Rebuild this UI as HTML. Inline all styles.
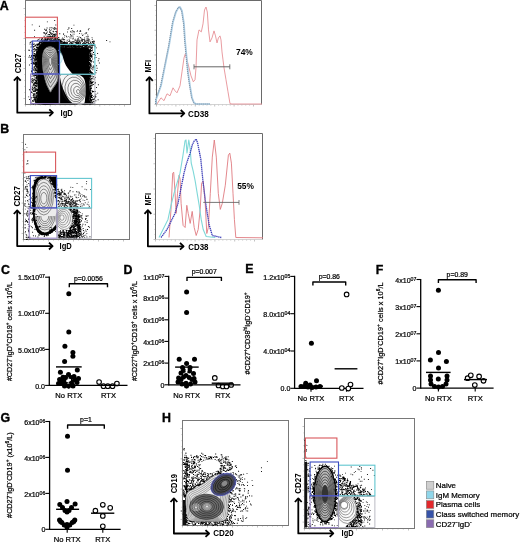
<!DOCTYPE html>
<html><head><meta charset="utf-8"><style>
html,body{margin:0;padding:0;background:#fff;}
svg{display:block;font-family:"Liberation Sans", sans-serif;will-change:transform;}
text{stroke:#000;stroke-width:0.22px;}
text[font-weight="700"]{stroke-width:0;}
</style></head><body>
<svg width="520" height="542" viewBox="0 0 520 542">
<rect width="520" height="542" fill="#fff"/>
<text x="-0.2" y="9.9" font-size="12.4" font-weight="700" text-anchor="start" fill="#000" style="stroke:#000;stroke-width:0.35px">A</text>
<text x="0.2" y="133.2" font-size="12.4" font-weight="700" text-anchor="start" fill="#000" style="stroke:#000;stroke-width:0.35px">B</text>
<text x="1" y="274" font-size="12.4" font-weight="700" text-anchor="start" fill="#000" style="stroke:#000;stroke-width:0.35px">C</text>
<text x="123.6" y="274.2" font-size="12.4" font-weight="700" text-anchor="start" fill="#000" style="stroke:#000;stroke-width:0.35px">D</text>
<text x="245.2" y="272.6" font-size="12.4" font-weight="700" text-anchor="start" fill="#000" style="stroke:#000;stroke-width:0.35px">E</text>
<text x="375.8" y="273.9" font-size="12.4" font-weight="700" text-anchor="start" fill="#000" style="stroke:#000;stroke-width:0.35px">F</text>
<text x="0.6" y="421.6" font-size="12.4" font-weight="700" text-anchor="start" fill="#000" style="stroke:#000;stroke-width:0.35px">G</text>
<text x="162" y="421.6" font-size="12.4" font-weight="700" text-anchor="start" fill="#000" style="stroke:#000;stroke-width:0.35px">H</text>
<line x1="49.3" y1="276.6" x2="49.3" y2="386" stroke="#000" stroke-width="1.3"/>
<line x1="49.3" y1="385.4" x2="127.5" y2="385.4" stroke="#000" stroke-width="1.3"/>
<line x1="45.1" y1="277.2" x2="49.3" y2="277.2" stroke="#000" stroke-width="1.1"/>
<text x="45" y="280.3" font-size="7.05" text-anchor="end">1.5x10<tspan font-size="5.2" baseline-shift="2.0">07</tspan></text>
<line x1="45.1" y1="313.3" x2="49.3" y2="313.3" stroke="#000" stroke-width="1.1"/>
<text x="45" y="316.4" font-size="7.05" text-anchor="end">1.0x10<tspan font-size="5.2" baseline-shift="2.0">07</tspan></text>
<line x1="45.1" y1="349.4" x2="49.3" y2="349.4" stroke="#000" stroke-width="1.1"/>
<text x="45" y="352.5" font-size="7.05" text-anchor="end">5.0x10<tspan font-size="5.2" baseline-shift="2.0">06</tspan></text>
<line x1="45.1" y1="385.4" x2="49.3" y2="385.4" stroke="#000" stroke-width="1.1"/>
<text x="45" y="388.5" font-size="7.05" text-anchor="end">0.0</text>
<line x1="68.8" y1="385.4" x2="68.8" y2="388.8" stroke="#000" stroke-width="1.1"/>
<line x1="108.5" y1="385.4" x2="108.5" y2="388.8" stroke="#000" stroke-width="1.1"/>
<text x="68.8" y="397.7" font-size="7.6" font-weight="400" text-anchor="middle" fill="#000">No RTX</text>
<text x="108.5" y="397.7" font-size="7.6" font-weight="400" text-anchor="middle" fill="#000">RTX</text>
<path d="M69.3 287.2 L69.3 283.8 L107.5 283.8 L107.5 287.2" stroke="#000" stroke-width="1.4" fill="none" stroke-linejoin="round"/>
<text x="88.4" y="280.6" font-size="6.9" font-weight="400" text-anchor="middle" fill="#000">p=0.0056</text>
<circle cx="68.8" cy="293.7" r="2.5" fill="#000"/>
<circle cx="68.8" cy="332.1" r="2.5" fill="#000"/>
<circle cx="64.9" cy="346.2" r="2.5" fill="#000"/>
<circle cx="72.9" cy="352.4" r="2.5" fill="#000"/>
<circle cx="72.9" cy="356.2" r="2.5" fill="#000"/>
<circle cx="64.6" cy="361.5" r="2.5" fill="#000"/>
<circle cx="60.4" cy="372.3" r="2.5" fill="#000"/>
<circle cx="77.3" cy="370" r="2.5" fill="#000"/>
<circle cx="59.6" cy="379.6" r="2.5" fill="#000"/>
<circle cx="63" cy="377.2" r="2.5" fill="#000"/>
<circle cx="68.5" cy="374.6" r="2.5" fill="#000"/>
<circle cx="74" cy="376.5" r="2.5" fill="#000"/>
<circle cx="78.5" cy="378.5" r="2.5" fill="#000"/>
<circle cx="77" cy="382.5" r="2.5" fill="#000"/>
<circle cx="72" cy="384" r="2.5" fill="#000"/>
<circle cx="65" cy="384" r="2.5" fill="#000"/>
<circle cx="61.5" cy="383" r="2.5" fill="#000"/>
<circle cx="68.5" cy="386" r="2.5" fill="#000"/>
<circle cx="66" cy="381" r="2.5" fill="#000"/>
<circle cx="71" cy="381.5" r="2.5" fill="#000"/>
<circle cx="62.5" cy="380.5" r="2.5" fill="#000"/>
<circle cx="75" cy="380" r="2.5" fill="#000"/>
<circle cx="71" cy="377.5" r="2.5" fill="#000"/>
<circle cx="65.5" cy="377.5" r="2.5" fill="#000"/>
<circle cx="64.5" cy="386" r="2.5" fill="#000"/>
<circle cx="73" cy="386" r="2.5" fill="#000"/>
<circle cx="58.5" cy="383.5" r="2.5" fill="#000"/>
<circle cx="99.1" cy="382.1" r="2.3" fill="#fff" stroke="#000" stroke-width="1.1"/>
<circle cx="103.5" cy="386.2" r="2.3" fill="#fff" stroke="#000" stroke-width="1.1"/>
<circle cx="107.8" cy="386.2" r="2.3" fill="#fff" stroke="#000" stroke-width="1.1"/>
<circle cx="112.5" cy="386.2" r="2.3" fill="#fff" stroke="#000" stroke-width="1.1"/>
<circle cx="116.9" cy="383.5" r="2.3" fill="#fff" stroke="#000" stroke-width="1.1"/>
<line x1="56" y1="366.9" x2="81.7" y2="366.9" stroke="#000" stroke-width="1.4"/>
<text x="11.7" y="331.6" font-size="7.4" text-anchor="middle" textLength="99" lengthAdjust="spacingAndGlyphs" transform="rotate(-90 11.7 331.6)">#CD27<tspan font-size="4.9" baseline-shift="2.6">-</tspan>IgD<tspan font-size="4.9" baseline-shift="2.6">+</tspan>CD19<tspan font-size="4.9" baseline-shift="2.6">+</tspan> cells x 10<tspan font-size="4.9" baseline-shift="2.6">6</tspan>/L</text>
<ellipse cx="68.6" cy="380.4" rx="2.6" ry="1.5" fill="#fff" transform="rotate(-20 68.6 380.4)"/>
<line x1="99" y1="385.4" x2="118" y2="385.4" stroke="#000" stroke-width="1.3"/>
<line x1="168.7" y1="275.8" x2="168.7" y2="385.4" stroke="#000" stroke-width="1.3"/>
<line x1="168.7" y1="384.8" x2="240.5" y2="384.8" stroke="#000" stroke-width="1.3"/>
<line x1="164.5" y1="276.4" x2="168.7" y2="276.4" stroke="#000" stroke-width="1.1"/>
<text x="164.4" y="279.5" font-size="7.05" text-anchor="end">1x10<tspan font-size="5.2" baseline-shift="2.0">07</tspan></text>
<line x1="164.5" y1="298.1" x2="168.7" y2="298.1" stroke="#000" stroke-width="1.1"/>
<text x="164.4" y="301.2" font-size="7.05" text-anchor="end">8x10<tspan font-size="5.2" baseline-shift="2.0">06</tspan></text>
<line x1="164.5" y1="319.8" x2="168.7" y2="319.8" stroke="#000" stroke-width="1.1"/>
<text x="164.4" y="322.9" font-size="7.05" text-anchor="end">6x10<tspan font-size="5.2" baseline-shift="2.0">06</tspan></text>
<line x1="164.5" y1="341.4" x2="168.7" y2="341.4" stroke="#000" stroke-width="1.1"/>
<text x="164.4" y="344.5" font-size="7.05" text-anchor="end">4x10<tspan font-size="5.2" baseline-shift="2.0">06</tspan></text>
<line x1="164.5" y1="363.1" x2="168.7" y2="363.1" stroke="#000" stroke-width="1.1"/>
<text x="164.4" y="366.2" font-size="7.05" text-anchor="end">2x10<tspan font-size="5.2" baseline-shift="2.0">06</tspan></text>
<line x1="164.5" y1="384.8" x2="168.7" y2="384.8" stroke="#000" stroke-width="1.1"/>
<text x="164.4" y="387.9" font-size="7.05" text-anchor="end">0</text>
<line x1="186.6" y1="384.8" x2="186.6" y2="388.2" stroke="#000" stroke-width="1.1"/>
<line x1="222.8" y1="384.8" x2="222.8" y2="388.2" stroke="#000" stroke-width="1.1"/>
<text x="186.6" y="397.5" font-size="7.6" font-weight="400" text-anchor="middle" fill="#000">No RTX</text>
<text x="222.8" y="397.5" font-size="7.6" font-weight="400" text-anchor="middle" fill="#000">RTX</text>
<path d="M187 281 L187 277.4 L221.4 277.4 L221.4 281" stroke="#000" stroke-width="1.4" fill="none" stroke-linejoin="round"/>
<text x="204.2" y="274.2" font-size="6.9" font-weight="400" text-anchor="middle" fill="#000">p=0.007</text>
<circle cx="186.6" cy="292" r="2.5" fill="#000"/>
<circle cx="186.6" cy="312.5" r="2.5" fill="#000"/>
<circle cx="179.2" cy="359.2" r="2.5" fill="#000"/>
<circle cx="194.5" cy="359.2" r="2.5" fill="#000"/>
<circle cx="186.6" cy="363.5" r="2.5" fill="#000"/>
<circle cx="182.5" cy="367.5" r="2.5" fill="#000"/>
<circle cx="190" cy="367.5" r="2.5" fill="#000"/>
<circle cx="181" cy="373" r="2.5" fill="#000"/>
<circle cx="193.5" cy="373.5" r="2.5" fill="#000"/>
<circle cx="186" cy="375.5" r="2.5" fill="#000"/>
<circle cx="181" cy="379.5" r="2.5" fill="#000"/>
<circle cx="192" cy="379.5" r="2.5" fill="#000"/>
<circle cx="178" cy="382" r="2.5" fill="#000"/>
<circle cx="186" cy="383.2" r="2.5" fill="#000"/>
<circle cx="195" cy="382" r="2.5" fill="#000"/>
<circle cx="183.5" cy="370.5" r="2.5" fill="#000"/>
<circle cx="189.5" cy="371" r="2.5" fill="#000"/>
<circle cx="183.5" cy="377" r="2.5" fill="#000"/>
<circle cx="189" cy="377.5" r="2.5" fill="#000"/>
<circle cx="182" cy="384" r="2.5" fill="#000"/>
<circle cx="190.5" cy="384" r="2.5" fill="#000"/>
<circle cx="178.6" cy="378" r="2.5" fill="#000"/>
<circle cx="194" cy="378.5" r="2.5" fill="#000"/>
<circle cx="186.5" cy="386" r="2.5" fill="#000"/>
<circle cx="214.8" cy="377.9" r="2.3" fill="#fff" stroke="#000" stroke-width="1.1"/>
<circle cx="218.5" cy="385.5" r="2.3" fill="#fff" stroke="#000" stroke-width="1.1"/>
<circle cx="222.8" cy="386.5" r="2.3" fill="#fff" stroke="#000" stroke-width="1.1"/>
<circle cx="226.5" cy="386.5" r="2.3" fill="#fff" stroke="#000" stroke-width="1.1"/>
<circle cx="231.2" cy="385" r="2.3" fill="#fff" stroke="#000" stroke-width="1.1"/>
<line x1="175.1" y1="367.1" x2="198.7" y2="367.1" stroke="#000" stroke-width="1.4"/>
<line x1="211.7" y1="383.2" x2="233" y2="383.2" stroke="#000" stroke-width="1.4"/>
<text x="136.8" y="331.1" font-size="7.4" text-anchor="middle" textLength="100" lengthAdjust="spacingAndGlyphs" transform="rotate(-90 136.8 331.1)">#CD27<tspan font-size="4.9" baseline-shift="2.6">+</tspan>IgD<tspan font-size="4.9" baseline-shift="2.6">+</tspan>CD19<tspan font-size="4.9" baseline-shift="2.6">+</tspan> cells x 10<tspan font-size="4.9" baseline-shift="2.6">6</tspan>/L</text>
<path d="M186.4 377.6 l-1.5 3 l3 0 z" fill="#fff"/>
<ellipse cx="186.6" cy="370.4" rx="1.1" ry="1.6" fill="#fff"/>
<line x1="216" y1="384.8" x2="234" y2="384.8" stroke="#000" stroke-width="1.3"/>
<line x1="294.6" y1="275.8" x2="294.6" y2="388.9" stroke="#000" stroke-width="1.3"/>
<line x1="294.6" y1="388.3" x2="363.5" y2="388.3" stroke="#000" stroke-width="1.3"/>
<line x1="290.4" y1="276.4" x2="294.6" y2="276.4" stroke="#000" stroke-width="1.1"/>
<text x="290.3" y="279.5" font-size="7.05" text-anchor="end">1.2x10<tspan font-size="5.2" baseline-shift="2.0">05</tspan></text>
<line x1="290.4" y1="313.7" x2="294.6" y2="313.7" stroke="#000" stroke-width="1.1"/>
<text x="290.3" y="316.8" font-size="7.05" text-anchor="end">8.0x10<tspan font-size="5.2" baseline-shift="2.0">04</tspan></text>
<line x1="290.4" y1="351" x2="294.6" y2="351" stroke="#000" stroke-width="1.1"/>
<text x="290.3" y="354.1" font-size="7.05" text-anchor="end">4.0x10<tspan font-size="5.2" baseline-shift="2.0">04</tspan></text>
<line x1="290.4" y1="388.3" x2="294.6" y2="388.3" stroke="#000" stroke-width="1.1"/>
<text x="290.3" y="391.4" font-size="7.05" text-anchor="end">0.0</text>
<line x1="311" y1="388.3" x2="311" y2="391.7" stroke="#000" stroke-width="1.1"/>
<line x1="346.5" y1="388.3" x2="346.5" y2="391.7" stroke="#000" stroke-width="1.1"/>
<text x="311" y="401" font-size="7.6" font-weight="400" text-anchor="middle" fill="#000">No RTX</text>
<text x="346.5" y="401" font-size="7.6" font-weight="400" text-anchor="middle" fill="#000">RTX</text>
<path d="M312.9 285.6 L312.9 282 L345.7 282 L345.7 285.6" stroke="#000" stroke-width="1.4" fill="none" stroke-linejoin="round"/>
<text x="329.3" y="278.8" font-size="6.9" font-weight="400" text-anchor="middle" fill="#000">p=0.86</text>
<circle cx="311.4" cy="343.2" r="2.5" fill="#000"/>
<circle cx="305.7" cy="383.3" r="2.5" fill="#000"/>
<circle cx="316.5" cy="380.8" r="2.5" fill="#000"/>
<circle cx="301" cy="386.5" r="2.5" fill="#000"/>
<circle cx="304" cy="386.5" r="2.5" fill="#000"/>
<circle cx="308" cy="387" r="2.5" fill="#000"/>
<circle cx="312" cy="387.5" r="2.5" fill="#000"/>
<circle cx="316" cy="387" r="2.5" fill="#000"/>
<circle cx="320" cy="386.5" r="2.5" fill="#000"/>
<circle cx="310" cy="385" r="2.5" fill="#000"/>
<circle cx="346.6" cy="294.4" r="2.3" fill="#fff" stroke="#000" stroke-width="1.1"/>
<circle cx="341.8" cy="388" r="2.3" fill="#fff" stroke="#000" stroke-width="1.1"/>
<circle cx="350.5" cy="384.5" r="2.3" fill="#fff" stroke="#000" stroke-width="1.1"/>
<circle cx="348.3" cy="388.6" r="2.3" fill="#fff" stroke="#000" stroke-width="1.1"/>
<line x1="300" y1="386.2" x2="323" y2="386.2" stroke="#000" stroke-width="1.4"/>
<line x1="334.6" y1="368.8" x2="357.4" y2="368.8" stroke="#000" stroke-width="1.4"/>
<text x="250.2" y="333.5" font-size="7.4" text-anchor="middle" textLength="82.2" lengthAdjust="spacingAndGlyphs" transform="rotate(-90 250.2 333.5)">#CD27<tspan font-size="4.9" baseline-shift="2.6">+</tspan>CD38<tspan font-size="4.9" baseline-shift="2.6">hi</tspan>IgD<tspan font-size="4.9" baseline-shift="2.6">-</tspan>CD19<tspan font-size="4.9" baseline-shift="2.6">+</tspan></text>
<line x1="420.7" y1="278.9" x2="420.7" y2="388.7" stroke="#000" stroke-width="1.3"/>
<line x1="420.7" y1="388.1" x2="493.6" y2="388.1" stroke="#000" stroke-width="1.3"/>
<line x1="416.5" y1="279.5" x2="420.7" y2="279.5" stroke="#000" stroke-width="1.1"/>
<text x="416.4" y="282.6" font-size="7.05" text-anchor="end">4x10<tspan font-size="5.2" baseline-shift="2.0">07</tspan></text>
<line x1="416.5" y1="306.6" x2="420.7" y2="306.6" stroke="#000" stroke-width="1.1"/>
<text x="416.4" y="309.7" font-size="7.05" text-anchor="end">3x10<tspan font-size="5.2" baseline-shift="2.0">07</tspan></text>
<line x1="416.5" y1="333.8" x2="420.7" y2="333.8" stroke="#000" stroke-width="1.1"/>
<text x="416.4" y="336.9" font-size="7.05" text-anchor="end">2x10<tspan font-size="5.2" baseline-shift="2.0">07</tspan></text>
<line x1="416.5" y1="360.9" x2="420.7" y2="360.9" stroke="#000" stroke-width="1.1"/>
<text x="416.4" y="364" font-size="7.05" text-anchor="end">1x10<tspan font-size="5.2" baseline-shift="2.0">07</tspan></text>
<line x1="416.5" y1="388.1" x2="420.7" y2="388.1" stroke="#000" stroke-width="1.1"/>
<text x="416.4" y="391.2" font-size="7.05" text-anchor="end">0</text>
<line x1="438.4" y1="388.1" x2="438.4" y2="391.5" stroke="#000" stroke-width="1.1"/>
<line x1="475.2" y1="388.1" x2="475.2" y2="391.5" stroke="#000" stroke-width="1.1"/>
<text x="438.4" y="401" font-size="7.6" font-weight="400" text-anchor="middle" fill="#000">No RTX</text>
<text x="475.2" y="401" font-size="7.6" font-weight="400" text-anchor="middle" fill="#000">RTX</text>
<path d="M438.4 283 L438.4 279.8 L476.1 279.8 L476.1 283" stroke="#000" stroke-width="1.4" fill="none" stroke-linejoin="round"/>
<text x="457.25" y="276.6" font-size="6.9" font-weight="400" text-anchor="middle" fill="#000">p=0.89</text>
<circle cx="438.4" cy="290.2" r="2.5" fill="#000"/>
<circle cx="438.5" cy="352.5" r="2.5" fill="#000"/>
<circle cx="430.4" cy="360.1" r="2.5" fill="#000"/>
<circle cx="446.4" cy="361.6" r="2.5" fill="#000"/>
<circle cx="438.5" cy="368.1" r="2.5" fill="#000"/>
<circle cx="430.5" cy="376" r="2.5" fill="#000"/>
<circle cx="430.5" cy="380" r="2.5" fill="#000"/>
<circle cx="431" cy="384" r="2.5" fill="#000"/>
<circle cx="434.5" cy="386.5" r="2.5" fill="#000"/>
<circle cx="438.5" cy="387" r="2.5" fill="#000"/>
<circle cx="442.5" cy="386.5" r="2.5" fill="#000"/>
<circle cx="446" cy="384" r="2.5" fill="#000"/>
<circle cx="447" cy="380" r="2.5" fill="#000"/>
<circle cx="447" cy="376" r="2.5" fill="#000"/>
<circle cx="438.3" cy="378.9" r="2.5" fill="#000"/>
<circle cx="467.6" cy="378.2" r="2.3" fill="#fff" stroke="#000" stroke-width="1.1"/>
<circle cx="470.8" cy="375.3" r="2.3" fill="#fff" stroke="#000" stroke-width="1.1"/>
<circle cx="479.1" cy="376.4" r="2.3" fill="#fff" stroke="#000" stroke-width="1.1"/>
<circle cx="483.5" cy="380.8" r="2.3" fill="#fff" stroke="#000" stroke-width="1.1"/>
<circle cx="474.8" cy="385.1" r="2.3" fill="#fff" stroke="#000" stroke-width="1.1"/>
<line x1="426" y1="372.4" x2="450.6" y2="372.4" stroke="#000" stroke-width="1.4"/>
<line x1="464" y1="379.6" x2="487" y2="379.6" stroke="#000" stroke-width="1.4"/>
<text x="382.5" y="333.5" font-size="7.4" text-anchor="middle" textLength="102.2" lengthAdjust="spacingAndGlyphs" transform="rotate(-90 382.5 333.5)">#CD27<tspan font-size="4.9" baseline-shift="2.6">+</tspan>IgD<tspan font-size="4.9" baseline-shift="2.6">-</tspan>CD19<tspan font-size="4.9" baseline-shift="2.6">+</tspan> cells x 10<tspan font-size="4.9" baseline-shift="2.6">6</tspan>/L</text>
<line x1="49.6" y1="420.9" x2="49.6" y2="529.9" stroke="#000" stroke-width="1.3"/>
<line x1="49.6" y1="529.3" x2="120.6" y2="529.3" stroke="#000" stroke-width="1.3"/>
<line x1="45.4" y1="421.5" x2="49.6" y2="421.5" stroke="#000" stroke-width="1.1"/>
<text x="45.3" y="424.6" font-size="7.05" text-anchor="end">6x10<tspan font-size="5.2" baseline-shift="2.0">06</tspan></text>
<line x1="45.4" y1="457.4" x2="49.6" y2="457.4" stroke="#000" stroke-width="1.1"/>
<text x="45.3" y="460.5" font-size="7.05" text-anchor="end">4x10<tspan font-size="5.2" baseline-shift="2.0">06</tspan></text>
<line x1="45.4" y1="493.4" x2="49.6" y2="493.4" stroke="#000" stroke-width="1.1"/>
<text x="45.3" y="496.5" font-size="7.05" text-anchor="end">2x10<tspan font-size="5.2" baseline-shift="2.0">06</tspan></text>
<line x1="45.4" y1="529.3" x2="49.6" y2="529.3" stroke="#000" stroke-width="1.1"/>
<text x="45.3" y="532.4" font-size="7.05" text-anchor="end">0</text>
<line x1="67.2" y1="529.3" x2="67.2" y2="532.7" stroke="#000" stroke-width="1.1"/>
<line x1="102.8" y1="529.3" x2="102.8" y2="532.7" stroke="#000" stroke-width="1.1"/>
<text x="67.2" y="541.6" font-size="7.6" font-weight="400" text-anchor="middle" fill="#000">No RTX</text>
<text x="102.8" y="541.6" font-size="7.6" font-weight="400" text-anchor="middle" fill="#000">RTX</text>
<path d="M67.6 428.8 L67.6 425 L104.3 425 L104.3 428.8" stroke="#000" stroke-width="1.4" fill="none" stroke-linejoin="round"/>
<text x="85.95" y="421.8" font-size="6.9" font-weight="400" text-anchor="middle" fill="#000">p=1</text>
<circle cx="67.5" cy="436.2" r="2.5" fill="#000"/>
<circle cx="67.5" cy="470.2" r="2.5" fill="#000"/>
<circle cx="67" cy="501.6" r="2.5" fill="#000"/>
<circle cx="59.8" cy="504.5" r="2.5" fill="#000"/>
<circle cx="75.1" cy="504.1" r="2.5" fill="#000"/>
<circle cx="62.5" cy="507.5" r="2.5" fill="#000"/>
<circle cx="71.5" cy="507.5" r="2.5" fill="#000"/>
<circle cx="65" cy="510.5" r="2.5" fill="#000"/>
<circle cx="69" cy="510.5" r="2.5" fill="#000"/>
<circle cx="67" cy="512" r="2.5" fill="#000"/>
<circle cx="59.5" cy="520" r="2.5" fill="#000"/>
<circle cx="61.8" cy="522.5" r="2.5" fill="#000"/>
<circle cx="64.2" cy="525" r="2.5" fill="#000"/>
<circle cx="67" cy="527.3" r="2.5" fill="#000"/>
<circle cx="69.8" cy="525" r="2.5" fill="#000"/>
<circle cx="72.3" cy="522.5" r="2.5" fill="#000"/>
<circle cx="74.8" cy="520" r="2.5" fill="#000"/>
<circle cx="60.5" cy="521.5" r="2.5" fill="#000"/>
<circle cx="73.8" cy="521.5" r="2.5" fill="#000"/>
<circle cx="67" cy="524.5" r="2.5" fill="#000"/>
<circle cx="95.4" cy="510.7" r="2.3" fill="#fff" stroke="#000" stroke-width="1.1"/>
<circle cx="102.8" cy="504.8" r="2.3" fill="#fff" stroke="#000" stroke-width="1.1"/>
<circle cx="110.2" cy="507.8" r="2.3" fill="#fff" stroke="#000" stroke-width="1.1"/>
<circle cx="102.8" cy="515.9" r="2.3" fill="#fff" stroke="#000" stroke-width="1.1"/>
<circle cx="102.8" cy="526.3" r="2.3" fill="#fff" stroke="#000" stroke-width="1.1"/>
<line x1="56.1" y1="509.3" x2="79.1" y2="509.3" stroke="#000" stroke-width="1.4"/>
<line x1="91" y1="513.2" x2="114.3" y2="513.2" stroke="#000" stroke-width="1.4"/>
<text x="12" y="475.1" font-size="7.4" text-anchor="middle" textLength="85.6" lengthAdjust="spacingAndGlyphs" transform="rotate(-90 12 475.1)">#CD27<tspan font-size="4.9" baseline-shift="2.6">-</tspan>IgD<tspan font-size="4.9" baseline-shift="2.6">-</tspan>CD19<tspan font-size="4.9" baseline-shift="2.6">+</tspan> (x10<tspan font-size="4.9" baseline-shift="2.6">6</tspan>/L)</text>
<line x1="23.5" y1="8.5" x2="25.5" y2="8.5" stroke="#999" stroke-width="0.6"/>
<line x1="24.5" y1="14.5" x2="25.5" y2="14.5" stroke="#999" stroke-width="0.6"/>
<line x1="24.5" y1="20.5" x2="25.5" y2="20.5" stroke="#999" stroke-width="0.6"/>
<line x1="24.5" y1="26.5" x2="25.5" y2="26.5" stroke="#999" stroke-width="0.6"/>
<line x1="24.5" y1="32.5" x2="25.5" y2="32.5" stroke="#999" stroke-width="0.6"/>
<line x1="23.5" y1="38.5" x2="25.5" y2="38.5" stroke="#999" stroke-width="0.6"/>
<line x1="24.5" y1="44.5" x2="25.5" y2="44.5" stroke="#999" stroke-width="0.6"/>
<line x1="24.5" y1="50.5" x2="25.5" y2="50.5" stroke="#999" stroke-width="0.6"/>
<line x1="24.5" y1="56.5" x2="25.5" y2="56.5" stroke="#999" stroke-width="0.6"/>
<line x1="24.5" y1="62.5" x2="25.5" y2="62.5" stroke="#999" stroke-width="0.6"/>
<line x1="23.5" y1="68.5" x2="25.5" y2="68.5" stroke="#999" stroke-width="0.6"/>
<line x1="24.5" y1="74.5" x2="25.5" y2="74.5" stroke="#999" stroke-width="0.6"/>
<line x1="24.5" y1="80.5" x2="25.5" y2="80.5" stroke="#999" stroke-width="0.6"/>
<line x1="24.5" y1="86.5" x2="25.5" y2="86.5" stroke="#999" stroke-width="0.6"/>
<line x1="24.5" y1="92.5" x2="25.5" y2="92.5" stroke="#999" stroke-width="0.6"/>
<line x1="23.5" y1="98.5" x2="25.5" y2="98.5" stroke="#999" stroke-width="0.6"/>
<line x1="24.5" y1="104.5" x2="25.5" y2="104.5" stroke="#999" stroke-width="0.6"/>
<line x1="25.5" y1="104.5" x2="25.5" y2="106.5" stroke="#999" stroke-width="0.6"/>
<line x1="30.45" y1="104.5" x2="30.45" y2="105.5" stroke="#999" stroke-width="0.6"/>
<line x1="35.4" y1="104.5" x2="35.4" y2="105.5" stroke="#999" stroke-width="0.6"/>
<line x1="40.35" y1="104.5" x2="40.35" y2="105.5" stroke="#999" stroke-width="0.6"/>
<line x1="45.3" y1="104.5" x2="45.3" y2="105.5" stroke="#999" stroke-width="0.6"/>
<line x1="50.25" y1="104.5" x2="50.25" y2="106.5" stroke="#999" stroke-width="0.6"/>
<line x1="55.2" y1="104.5" x2="55.2" y2="105.5" stroke="#999" stroke-width="0.6"/>
<line x1="60.15" y1="104.5" x2="60.15" y2="105.5" stroke="#999" stroke-width="0.6"/>
<line x1="65.1" y1="104.5" x2="65.1" y2="105.5" stroke="#999" stroke-width="0.6"/>
<line x1="70.05" y1="104.5" x2="70.05" y2="105.5" stroke="#999" stroke-width="0.6"/>
<line x1="75" y1="104.5" x2="75" y2="106.5" stroke="#999" stroke-width="0.6"/>
<line x1="79.95" y1="104.5" x2="79.95" y2="105.5" stroke="#999" stroke-width="0.6"/>
<line x1="84.9" y1="104.5" x2="84.9" y2="105.5" stroke="#999" stroke-width="0.6"/>
<line x1="89.85" y1="104.5" x2="89.85" y2="105.5" stroke="#999" stroke-width="0.6"/>
<line x1="94.8" y1="104.5" x2="94.8" y2="105.5" stroke="#999" stroke-width="0.6"/>
<line x1="99.75" y1="104.5" x2="99.75" y2="106.5" stroke="#999" stroke-width="0.6"/>
<line x1="104.7" y1="104.5" x2="104.7" y2="105.5" stroke="#999" stroke-width="0.6"/>
<line x1="109.65" y1="104.5" x2="109.65" y2="105.5" stroke="#999" stroke-width="0.6"/>
<line x1="114.6" y1="104.5" x2="114.6" y2="105.5" stroke="#999" stroke-width="0.6"/>
<line x1="119.55" y1="104.5" x2="119.55" y2="105.5" stroke="#999" stroke-width="0.6"/>
<line x1="124.5" y1="104.5" x2="124.5" y2="106.5" stroke="#999" stroke-width="0.6"/>
<rect x="25.5" y="0.5" width="105" height="104" stroke="#787878" fill="none" stroke-width="1"/>
<path d="M17.3 77.2 L17.3 112.7 L52.7 112.7" stroke="#000" stroke-width="1.8" fill="none" stroke-linejoin="round"/>
<path d="M13.9 80.6 L17.3 77 L20.7 80.6" stroke="#000" stroke-width="1.8" fill="none" stroke-linejoin="round"/>
<path d="M49.3 109.3 L52.9 112.7 L49.3 116.1" stroke="#000" stroke-width="1.8" fill="none" stroke-linejoin="round"/>
<text x="21.2" y="63.5" font-size="8.3" font-weight="700" text-anchor="middle" textLength="19.4" lengthAdjust="spacingAndGlyphs" transform="rotate(-90 21.2 63.5)">CD27</text>
<text x="60.5" y="115.8" font-size="8.3" font-weight="700" textLength="12.4" lengthAdjust="spacingAndGlyphs">IgD</text>
<path d="M33.94 76.71h0.9v0.9h-0.9zM37.01 70.87h0.9v0.9h-0.9zM34.3 78.42h0.9v0.9h-0.9zM32.2 73.74h0.9v0.9h-0.9zM35.09 91.16h0.9v0.9h-0.9zM31.61 60.81h0.9v0.9h-0.9zM31.59 92.2h0.9v0.9h-0.9zM35.51 44.6h0.9v0.9h-0.9zM37.38 101.81h0.9v0.9h-0.9zM35.25 80.16h0.9v0.9h-0.9zM32.02 42.93h0.9v0.9h-0.9zM34.43 45.69h0.9v0.9h-0.9zM32.24 57h0.9v0.9h-0.9zM31.2 70.76h0.9v0.9h-0.9zM33.86 94.23h0.9v0.9h-0.9zM34.37 81.7h0.9v0.9h-0.9zM34.25 83.07h0.9v0.9h-0.9zM33.97 59.25h0.9v0.9h-0.9zM37.48 103.73h0.9v0.9h-0.9zM36.46 85.88h0.9v0.9h-0.9zM33.05 56.24h0.9v0.9h-0.9zM32.88 46.35h0.9v0.9h-0.9zM35.98 66.82h0.9v0.9h-0.9zM36.5 65.96h0.9v0.9h-0.9zM37.23 94.53h0.9v0.9h-0.9zM31 55h0.9v0.9h-0.9zM36.92 71.14h0.9v0.9h-0.9zM37.37 66.64h0.9v0.9h-0.9zM31.47 81.03h0.9v0.9h-0.9zM36.06 58.73h0.9v0.9h-0.9zM31.57 62.62h0.9v0.9h-0.9zM37.27 89h0.9v0.9h-0.9zM31.77 57.28h0.9v0.9h-0.9zM31.66 45.71h0.9v0.9h-0.9zM36.18 53.02h0.9v0.9h-0.9zM34.64 69.74h0.9v0.9h-0.9zM32.24 87.38h0.9v0.9h-0.9zM31.85 81.91h0.9v0.9h-0.9zM31.76 68.09h0.9v0.9h-0.9zM32.38 58.73h0.9v0.9h-0.9zM37.31 91.81h0.9v0.9h-0.9zM32.98 96.86h0.9v0.9h-0.9zM32.37 66.45h0.9v0.9h-0.9zM36.55 81.79h0.9v0.9h-0.9zM31.65 103.34h0.9v0.9h-0.9zM32.39 58.01h0.9v0.9h-0.9zM36.02 62.4h0.9v0.9h-0.9zM32.93 46.55h0.9v0.9h-0.9zM31.59 78.13h0.9v0.9h-0.9zM32.58 79.28h0.9v0.9h-0.9zM33.42 70.1h0.9v0.9h-0.9zM37.23 71.99h0.9v0.9h-0.9zM34.73 95.72h0.9v0.9h-0.9zM32.19 51.56h0.9v0.9h-0.9zM36.9 92.7h0.9v0.9h-0.9zM32.62 53.77h0.9v0.9h-0.9zM35.81 100.31h0.9v0.9h-0.9zM32.28 100.91h0.9v0.9h-0.9zM36.73 79.42h0.9v0.9h-0.9zM33.74 48.44h0.9v0.9h-0.9zM31.25 101.69h0.9v0.9h-0.9zM32.55 85.68h0.9v0.9h-0.9zM32.67 93.07h0.9v0.9h-0.9zM34.88 60.19h0.9v0.9h-0.9zM32.14 86.66h0.9v0.9h-0.9zM31.45 56.16h0.9v0.9h-0.9zM34.64 94.85h0.9v0.9h-0.9zM34.99 59.37h0.9v0.9h-0.9zM36.96 54.65h0.9v0.9h-0.9zM31.11 58.69h0.9v0.9h-0.9zM33.9 45.75h0.9v0.9h-0.9zM32.15 64.86h0.9v0.9h-0.9zM34.72 50.16h0.9v0.9h-0.9zM33.35 97.24h0.9v0.9h-0.9zM37.37 82.73h0.9v0.9h-0.9zM35.49 78.24h0.9v0.9h-0.9zM31.91 44.17h0.9v0.9h-0.9zM31.12 98.43h0.9v0.9h-0.9zM35.56 101.69h0.9v0.9h-0.9zM31.14 81.44h0.9v0.9h-0.9zM34.13 87.29h0.9v0.9h-0.9zM33.07 103.96h0.9v0.9h-0.9zM31.49 75.86h0.9v0.9h-0.9zM35.79 97.81h0.9v0.9h-0.9zM35.79 85.63h0.9v0.9h-0.9zM36.16 98.73h0.9v0.9h-0.9zM33.29 84.48h0.9v0.9h-0.9zM36.86 96.01h0.9v0.9h-0.9zM33.71 91.01h0.9v0.9h-0.9zM36.61 77.51h0.9v0.9h-0.9zM35.06 65.7h0.9v0.9h-0.9zM34.79 79.75h0.9v0.9h-0.9zM31.52 81.64h0.9v0.9h-0.9zM37.46 96.55h0.9v0.9h-0.9zM35.73 66.08h0.9v0.9h-0.9zM35.78 78.02h0.9v0.9h-0.9zM33.86 93.98h0.9v0.9h-0.9zM31.54 88.51h0.9v0.9h-0.9zM31.19 79.28h0.9v0.9h-0.9zM34.13 56.27h0.9v0.9h-0.9zM35.54 72.83h0.9v0.9h-0.9zM34.99 99.07h0.9v0.9h-0.9zM32.66 42.7h0.9v0.9h-0.9zM32.96 84.04h0.9v0.9h-0.9zM32.32 52.52h0.9v0.9h-0.9zM36.89 82.92h0.9v0.9h-0.9zM33.87 97.29h0.9v0.9h-0.9zM33.13 83.29h0.9v0.9h-0.9zM32.29 68.72h0.9v0.9h-0.9zM36.24 98.68h0.9v0.9h-0.9zM36.72 65.83h0.9v0.9h-0.9zM34.79 61.62h0.9v0.9h-0.9zM31.89 72.78h0.9v0.9h-0.9zM36.44 94.62h0.9v0.9h-0.9zM35.62 100.9h0.9v0.9h-0.9zM32.8 52.49h0.9v0.9h-0.9zM33.93 59.06h0.9v0.9h-0.9zM32.39 67.67h0.9v0.9h-0.9zM35.07 72.62h0.9v0.9h-0.9zM33.05 94.03h0.9v0.9h-0.9zM37.38 70.05h0.9v0.9h-0.9zM31.49 43.95h0.9v0.9h-0.9zM36.67 44.57h0.9v0.9h-0.9zM35.61 77.38h0.9v0.9h-0.9zM33.01 91.07h0.9v0.9h-0.9zM31.12 50.42h0.9v0.9h-0.9zM33.96 43.53h0.9v0.9h-0.9zM36.39 56.72h0.9v0.9h-0.9zM31.92 44.91h0.9v0.9h-0.9zM35.09 69.68h0.9v0.9h-0.9zM35.09 82.61h0.9v0.9h-0.9zM36.25 101.42h0.9v0.9h-0.9zM35.45 54.36h0.9v0.9h-0.9zM34.09 53.08h0.9v0.9h-0.9zM31.07 71.28h0.9v0.9h-0.9zM35.64 53.1h0.9v0.9h-0.9zM32.77 63.44h0.9v0.9h-0.9zM35.53 74.27h0.9v0.9h-0.9zM34.99 88.88h0.9v0.9h-0.9zM33.56 91.1h0.9v0.9h-0.9z" fill="#222" fill-opacity="1.0"/>
<path d="M54.28 20.05h0.9v0.9h-0.9zM55.05 27.67h0.9v0.9h-0.9zM31.77 24.44h0.9v0.9h-0.9zM46.14 29.92h0.9v0.9h-0.9zM38.93 25.83h0.9v0.9h-0.9zM53.5 28.56h0.9v0.9h-0.9zM55.38 24.56h0.9v0.9h-0.9zM46.89 21.46h0.9v0.9h-0.9zM48.94 28.82h0.9v0.9h-0.9zM46.61 27.61h0.9v0.9h-0.9zM34.19 29.8h0.9v0.9h-0.9zM56.43 30.73h0.9v0.9h-0.9z" fill="#000" fill-opacity="1.0"/>
<path d="M50.32 36.49h0.9v0.9h-0.9zM46.97 37.92h0.9v0.9h-0.9zM55.26 31.18h0.9v0.9h-0.9zM43.28 32.29h0.9v0.9h-0.9zM50.53 36.22h0.9v0.9h-0.9zM49.56 27.34h0.9v0.9h-0.9zM54.54 27.77h0.9v0.9h-0.9zM54.4 29.07h0.9v0.9h-0.9zM47.19 36.45h0.9v0.9h-0.9zM44.18 28.78h0.9v0.9h-0.9zM50.01 35.68h0.9v0.9h-0.9zM55.02 35.27h0.9v0.9h-0.9zM56.66 32.91h0.9v0.9h-0.9zM56.71 28.03h0.9v0.9h-0.9zM45.43 33.32h0.9v0.9h-0.9zM46.5 35.75h0.9v0.9h-0.9zM51.9 33.27h0.9v0.9h-0.9zM55.08 33.72h0.9v0.9h-0.9zM46.83 31.57h0.9v0.9h-0.9zM55.1 37.81h0.9v0.9h-0.9zM45.23 37.21h0.9v0.9h-0.9zM57.01 33.29h0.9v0.9h-0.9zM50.88 29.41h0.9v0.9h-0.9zM50.31 33.04h0.9v0.9h-0.9zM51.38 27.33h0.9v0.9h-0.9zM57.03 33.19h0.9v0.9h-0.9zM48.21 36.61h0.9v0.9h-0.9zM50.72 32.89h0.9v0.9h-0.9zM52.71 27.79h0.9v0.9h-0.9zM50.35 31.97h0.9v0.9h-0.9zM56.83 38.08h0.9v0.9h-0.9zM46.17 32.68h0.9v0.9h-0.9zM43.97 32.2h0.9v0.9h-0.9zM54.64 37.81h0.9v0.9h-0.9zM49.39 30.81h0.9v0.9h-0.9zM44.97 34.41h0.9v0.9h-0.9zM56.34 28.55h0.9v0.9h-0.9zM54.08 27.27h0.9v0.9h-0.9zM45.01 29.73h0.9v0.9h-0.9zM52.65 30.86h0.9v0.9h-0.9zM47.51 34.44h0.9v0.9h-0.9zM43.63 35.77h0.9v0.9h-0.9zM43.9 33.13h0.9v0.9h-0.9zM45.88 29.37h0.9v0.9h-0.9zM50.22 32.24h0.9v0.9h-0.9z" fill="#000" fill-opacity="1.0"/>
<path d="M51.13 33.72h0.9v0.9h-0.9zM52.82 31.44h0.9v0.9h-0.9zM49.25 35.68h0.9v0.9h-0.9zM54.02 34.77h0.9v0.9h-0.9zM56.36 35.51h0.9v0.9h-0.9zM56.42 32.09h0.9v0.9h-0.9zM55.15 37.29h0.9v0.9h-0.9zM56.93 32.84h0.9v0.9h-0.9zM50.46 38.3h0.9v0.9h-0.9zM49.4 38.99h0.9v0.9h-0.9zM56.76 31.21h0.9v0.9h-0.9zM49.63 36.54h0.9v0.9h-0.9zM56.15 33.79h0.9v0.9h-0.9zM55.69 31.13h0.9v0.9h-0.9zM51.43 36.17h0.9v0.9h-0.9zM54.51 38.2h0.9v0.9h-0.9zM52.56 36.82h0.9v0.9h-0.9zM52.53 36.17h0.9v0.9h-0.9zM53.07 34.63h0.9v0.9h-0.9zM53.26 31.32h0.9v0.9h-0.9zM49.03 31.84h0.9v0.9h-0.9zM56.24 38.91h0.9v0.9h-0.9zM47.68 38.56h0.9v0.9h-0.9zM52.08 36.88h0.9v0.9h-0.9zM50.6 34.2h0.9v0.9h-0.9zM52.67 33.87h0.9v0.9h-0.9zM54.71 37.6h0.9v0.9h-0.9zM48.99 34.09h0.9v0.9h-0.9zM55.13 33.65h0.9v0.9h-0.9zM56.83 37.22h0.9v0.9h-0.9zM54.75 37.75h0.9v0.9h-0.9zM53.92 33.64h0.9v0.9h-0.9zM53.6 34.54h0.9v0.9h-0.9zM49.84 38.2h0.9v0.9h-0.9zM55.19 37h0.9v0.9h-0.9z" fill="#000" fill-opacity="1.0"/>
<path d="M87.77 36.3h0.85v0.85h-0.85zM90.97 44.84h0.85v0.85h-0.85zM83.1 42.81h0.85v0.85h-0.85zM85.84 36.3h0.85v0.85h-0.85zM69.33 37.44h0.85v0.85h-0.85zM80.91 40.23h0.85v0.85h-0.85zM65.05 46h0.85v0.85h-0.85zM81.98 35.08h0.85v0.85h-0.85zM81.73 39.25h0.85v0.85h-0.85zM76.79 36.01h0.85v0.85h-0.85zM83.35 42.71h0.85v0.85h-0.85zM80 42.3h0.85v0.85h-0.85zM66.01 36.23h0.85v0.85h-0.85zM70.65 30.77h0.85v0.85h-0.85zM65.78 45.3h0.85v0.85h-0.85zM77.45 38.14h0.85v0.85h-0.85zM79.3 42.67h0.85v0.85h-0.85zM57.76 45.74h0.85v0.85h-0.85zM62.24 37.49h0.85v0.85h-0.85zM62.6 37.92h0.85v0.85h-0.85zM79.84 30.05h0.85v0.85h-0.85zM76.54 39.76h0.85v0.85h-0.85zM70.26 34.14h0.85v0.85h-0.85zM81.55 39.09h0.85v0.85h-0.85zM67.06 41.9h0.85v0.85h-0.85zM62.11 42.58h0.85v0.85h-0.85zM71.21 45.16h0.85v0.85h-0.85zM94.56 46h0.85v0.85h-0.85zM58.87 45.3h0.85v0.85h-0.85zM72.75 37.6h0.85v0.85h-0.85zM76.41 45.87h0.85v0.85h-0.85zM84.19 37.43h0.85v0.85h-0.85zM94.17 43.7h0.85v0.85h-0.85zM79.54 31.07h0.85v0.85h-0.85zM80.35 37.2h0.85v0.85h-0.85zM76.6 31.24h0.85v0.85h-0.85zM73.27 41.02h0.85v0.85h-0.85zM73.77 33.72h0.85v0.85h-0.85zM78.71 36.55h0.85v0.85h-0.85zM86.34 38.55h0.85v0.85h-0.85zM84.64 33.29h0.85v0.85h-0.85zM60.44 45.07h0.85v0.85h-0.85zM86.59 40.25h0.85v0.85h-0.85zM70.01 33.89h0.85v0.85h-0.85zM82.72 39.17h0.85v0.85h-0.85zM79.08 40.4h0.85v0.85h-0.85zM85.38 32.42h0.85v0.85h-0.85zM65.71 46.63h0.85v0.85h-0.85zM91.71 44.82h0.85v0.85h-0.85zM66.57 36.65h0.85v0.85h-0.85zM80.31 30.84h0.85v0.85h-0.85zM77.12 30.3h0.85v0.85h-0.85zM59.37 41.17h0.85v0.85h-0.85zM77.47 40.36h0.85v0.85h-0.85zM70.55 37.61h0.85v0.85h-0.85zM64.21 35.19h0.85v0.85h-0.85zM85.05 44.09h0.85v0.85h-0.85zM87.56 40.23h0.85v0.85h-0.85zM85.98 32.84h0.85v0.85h-0.85zM72.55 33.65h0.85v0.85h-0.85zM87.59 35.64h0.85v0.85h-0.85zM81.49 46.81h0.85v0.85h-0.85zM68.69 38.88h0.85v0.85h-0.85zM85.1 45.57h0.85v0.85h-0.85zM72.68 35.65h0.85v0.85h-0.85zM59.78 44.75h0.85v0.85h-0.85zM78 37.73h0.85v0.85h-0.85zM82.73 34.38h0.85v0.85h-0.85zM64.32 40.92h0.85v0.85h-0.85zM84.27 41.49h0.85v0.85h-0.85zM67.03 31.57h0.85v0.85h-0.85zM69.95 42.07h0.85v0.85h-0.85zM70.29 31.11h0.85v0.85h-0.85zM83.66 39.25h0.85v0.85h-0.85zM91.82 45.92h0.85v0.85h-0.85zM91.62 36.88h0.85v0.85h-0.85zM87.32 34.49h0.85v0.85h-0.85zM68.39 36.19h0.85v0.85h-0.85zM92.45 45.11h0.85v0.85h-0.85zM65.68 35.51h0.85v0.85h-0.85zM70.26 35.54h0.85v0.85h-0.85zM71.43 35.98h0.85v0.85h-0.85zM63.6 39.15h0.85v0.85h-0.85zM87.09 38.73h0.85v0.85h-0.85zM88.62 39.13h0.85v0.85h-0.85zM62.89 42.66h0.85v0.85h-0.85zM56.87 38.28h0.85v0.85h-0.85zM77.22 39.21h0.85v0.85h-0.85zM93.69 40.72h0.85v0.85h-0.85zM77.33 43.19h0.85v0.85h-0.85zM84.75 45.18h0.85v0.85h-0.85zM59.3 40.41h0.85v0.85h-0.85zM61.61 42.42h0.85v0.85h-0.85zM81.31 33.42h0.85v0.85h-0.85zM64.6 42.78h0.85v0.85h-0.85zM76.34 42.76h0.85v0.85h-0.85zM71.38 35.08h0.85v0.85h-0.85zM93.76 41.1h0.85v0.85h-0.85zM75.25 38.67h0.85v0.85h-0.85zM84.12 41.75h0.85v0.85h-0.85zM88.22 41h0.85v0.85h-0.85zM89.29 43.51h0.85v0.85h-0.85zM88.52 45h0.85v0.85h-0.85zM93.35 40.52h0.85v0.85h-0.85zM76.43 41.78h0.85v0.85h-0.85zM87.29 36.59h0.85v0.85h-0.85zM72.4 31.63h0.85v0.85h-0.85zM84.91 46.84h0.85v0.85h-0.85zM70.65 32.02h0.85v0.85h-0.85zM63.97 36.65h0.85v0.85h-0.85zM67.39 46.46h0.85v0.85h-0.85zM60.48 40.66h0.85v0.85h-0.85zM86.26 32.23h0.85v0.85h-0.85zM58.43 37.26h0.85v0.85h-0.85zM78.78 45.37h0.85v0.85h-0.85zM63.2 32.91h0.85v0.85h-0.85zM65.18 41.91h0.85v0.85h-0.85zM79.2 33.03h0.85v0.85h-0.85zM63.21 34.06h0.85v0.85h-0.85zM62.73 42.64h0.85v0.85h-0.85z" fill="#222" fill-opacity="1.0"/>
<path d="M68.85 42.93h0.9v0.9h-0.9zM88.05 42.32h0.9v0.9h-0.9zM66.9 45.99h0.9v0.9h-0.9zM91.74 41.08h0.9v0.9h-0.9zM77.8 46.61h0.9v0.9h-0.9zM75.34 39.99h0.9v0.9h-0.9zM58.89 46.53h0.9v0.9h-0.9zM87.45 41.46h0.9v0.9h-0.9zM77.05 42.64h0.9v0.9h-0.9zM67.43 46.91h0.9v0.9h-0.9zM81.99 40.14h0.9v0.9h-0.9zM57.41 42.25h0.9v0.9h-0.9zM71.12 45.17h0.9v0.9h-0.9zM84.1 43.45h0.9v0.9h-0.9zM62.98 39.41h0.9v0.9h-0.9zM69.23 40.33h0.9v0.9h-0.9zM90.03 42.65h0.9v0.9h-0.9zM81.2 46.94h0.9v0.9h-0.9zM67.13 42.81h0.9v0.9h-0.9zM62.72 44.93h0.9v0.9h-0.9zM57.05 45.39h0.9v0.9h-0.9zM89.15 45.4h0.9v0.9h-0.9zM60.13 40.43h0.9v0.9h-0.9zM84.23 38.87h0.9v0.9h-0.9zM75.24 42.22h0.9v0.9h-0.9zM93.31 43.28h0.9v0.9h-0.9zM89.58 40.73h0.9v0.9h-0.9zM86.99 41.75h0.9v0.9h-0.9zM91.84 38.82h0.9v0.9h-0.9zM88.4 39.88h0.9v0.9h-0.9zM77.65 42.73h0.9v0.9h-0.9zM62.99 45.49h0.9v0.9h-0.9zM68.83 40.8h0.9v0.9h-0.9zM59.89 40.75h0.9v0.9h-0.9zM74.75 44.44h0.9v0.9h-0.9zM70.67 44.18h0.9v0.9h-0.9zM61.02 41.55h0.9v0.9h-0.9zM74.55 46.7h0.9v0.9h-0.9zM88.53 43.89h0.9v0.9h-0.9zM57.47 41.39h0.9v0.9h-0.9zM83.98 40.14h0.9v0.9h-0.9zM78.44 42.12h0.9v0.9h-0.9zM57.4 46.92h0.9v0.9h-0.9zM87.38 39.86h0.9v0.9h-0.9zM80.41 40.61h0.9v0.9h-0.9zM71.29 42.86h0.9v0.9h-0.9zM68.33 41.04h0.9v0.9h-0.9zM71.9 44h0.9v0.9h-0.9zM66.74 39.8h0.9v0.9h-0.9zM84.79 40.96h0.9v0.9h-0.9zM92.91 43.07h0.9v0.9h-0.9zM84.5 40.98h0.9v0.9h-0.9zM88.42 38.83h0.9v0.9h-0.9zM62.35 38.85h0.9v0.9h-0.9zM82.75 44.37h0.9v0.9h-0.9zM63.84 41.62h0.9v0.9h-0.9zM88.8 43.33h0.9v0.9h-0.9zM60.42 40.04h0.9v0.9h-0.9zM62.97 39.12h0.9v0.9h-0.9zM72.46 38.65h0.9v0.9h-0.9zM91.98 41.84h0.9v0.9h-0.9zM76.44 43.83h0.9v0.9h-0.9zM86.14 45.39h0.9v0.9h-0.9zM71.67 40.98h0.9v0.9h-0.9zM72.66 38.14h0.9v0.9h-0.9zM72.23 44.3h0.9v0.9h-0.9zM94.31 45.11h0.9v0.9h-0.9zM82.09 43.48h0.9v0.9h-0.9zM57.7 40.98h0.9v0.9h-0.9zM70 43.86h0.9v0.9h-0.9zM61.04 41.4h0.9v0.9h-0.9zM76.36 45.1h0.9v0.9h-0.9zM88.36 43.5h0.9v0.9h-0.9zM63.02 44.9h0.9v0.9h-0.9zM91.31 42.93h0.9v0.9h-0.9zM70.4 42.5h0.9v0.9h-0.9zM62.39 44.42h0.9v0.9h-0.9zM84.18 45.52h0.9v0.9h-0.9zM64.49 46.5h0.9v0.9h-0.9zM80.83 39.78h0.9v0.9h-0.9zM60.16 40.2h0.9v0.9h-0.9zM78.91 44.27h0.9v0.9h-0.9zM69.51 46.36h0.9v0.9h-0.9zM70.73 42.17h0.9v0.9h-0.9zM61.71 46.76h0.9v0.9h-0.9zM62.15 46.14h0.9v0.9h-0.9zM77.65 43.05h0.9v0.9h-0.9zM78.29 40.38h0.9v0.9h-0.9zM91.55 46.93h0.9v0.9h-0.9zM88.07 43.41h0.9v0.9h-0.9zM61.66 45.42h0.9v0.9h-0.9zM67.97 46.07h0.9v0.9h-0.9zM66.15 43.16h0.9v0.9h-0.9zM88.57 39.67h0.9v0.9h-0.9zM77.82 38.69h0.9v0.9h-0.9zM58.22 39.62h0.9v0.9h-0.9zM94.51 46.46h0.9v0.9h-0.9zM82.02 40.77h0.9v0.9h-0.9zM82.51 44.64h0.9v0.9h-0.9zM71.5 43.33h0.9v0.9h-0.9zM87.55 38.15h0.9v0.9h-0.9zM64.58 42.21h0.9v0.9h-0.9zM62.43 41.48h0.9v0.9h-0.9zM78.64 39.56h0.9v0.9h-0.9zM76.75 40.37h0.9v0.9h-0.9zM78.59 40.99h0.9v0.9h-0.9zM81.38 38.34h0.9v0.9h-0.9zM82.5 39.3h0.9v0.9h-0.9zM93.45 43.4h0.9v0.9h-0.9zM74.86 41.7h0.9v0.9h-0.9z" fill="#111" fill-opacity="1.0"/>
<path d="M80.46 45.48h0.9v0.9h-0.9zM85.29 45.89h0.9v0.9h-0.9zM75.49 47.46h0.9v0.9h-0.9zM88.18 46.56h0.9v0.9h-0.9zM72.72 43.82h0.9v0.9h-0.9zM78.37 46.88h0.9v0.9h-0.9zM76.93 44.41h0.9v0.9h-0.9zM73.56 46.88h0.9v0.9h-0.9zM69.54 41.36h0.9v0.9h-0.9zM84.12 46.85h0.9v0.9h-0.9zM84.35 44.88h0.9v0.9h-0.9zM85.07 42.98h0.9v0.9h-0.9zM79.36 41.45h0.9v0.9h-0.9zM62.48 43.91h0.9v0.9h-0.9zM76.09 43.58h0.9v0.9h-0.9zM59.87 45.52h0.9v0.9h-0.9zM76.94 42.55h0.9v0.9h-0.9zM69.03 43.57h0.9v0.9h-0.9zM66.49 41.44h0.9v0.9h-0.9zM90.81 47.28h0.9v0.9h-0.9zM81.97 46.63h0.9v0.9h-0.9zM73.17 46.23h0.9v0.9h-0.9zM65.98 45.85h0.9v0.9h-0.9zM78.4 46.87h0.9v0.9h-0.9zM61.55 46.15h0.9v0.9h-0.9zM62.46 44.49h0.9v0.9h-0.9zM92.24 41h0.9v0.9h-0.9zM66.78 42.95h0.9v0.9h-0.9zM69.69 41.41h0.9v0.9h-0.9zM90.22 46.3h0.9v0.9h-0.9zM72.3 43.32h0.9v0.9h-0.9zM79.08 41.3h0.9v0.9h-0.9zM59.12 46.84h0.9v0.9h-0.9zM69.08 44.24h0.9v0.9h-0.9zM91.62 47.35h0.9v0.9h-0.9zM75.02 42.34h0.9v0.9h-0.9zM68.63 47h0.9v0.9h-0.9zM90.28 42.27h0.9v0.9h-0.9zM88.17 43.3h0.9v0.9h-0.9zM75.01 42.12h0.9v0.9h-0.9zM89.67 47.47h0.9v0.9h-0.9zM65.27 45.11h0.9v0.9h-0.9zM64.89 46.72h0.9v0.9h-0.9zM59.8 41.69h0.9v0.9h-0.9zM84.13 43.03h0.9v0.9h-0.9zM90.41 46.65h0.9v0.9h-0.9zM83.67 41.88h0.9v0.9h-0.9zM83.05 47.1h0.9v0.9h-0.9zM74.03 41.51h0.9v0.9h-0.9zM66.04 43h0.9v0.9h-0.9zM83.58 42.28h0.9v0.9h-0.9zM64.52 42.53h0.9v0.9h-0.9zM81.93 46.14h0.9v0.9h-0.9zM71.41 45.3h0.9v0.9h-0.9zM89.84 44.83h0.9v0.9h-0.9zM66.24 42.96h0.9v0.9h-0.9zM91.36 45.34h0.9v0.9h-0.9zM67.97 45.16h0.9v0.9h-0.9zM61.24 47.39h0.9v0.9h-0.9zM73.85 44.43h0.9v0.9h-0.9zM77.11 41.29h0.9v0.9h-0.9zM79.59 42.85h0.9v0.9h-0.9zM67.03 46.22h0.9v0.9h-0.9zM61.14 42.85h0.9v0.9h-0.9zM85.2 42.6h0.9v0.9h-0.9zM68.05 44.56h0.9v0.9h-0.9zM64.71 46.83h0.9v0.9h-0.9zM93.56 41.22h0.9v0.9h-0.9zM74.62 45.88h0.9v0.9h-0.9zM71.85 47.04h0.9v0.9h-0.9zM76 42.17h0.9v0.9h-0.9zM78.02 45.19h0.9v0.9h-0.9zM70.95 45.28h0.9v0.9h-0.9zM86.19 44.36h0.9v0.9h-0.9zM76.2 46.5h0.9v0.9h-0.9zM82.63 44.38h0.9v0.9h-0.9zM92.26 42.13h0.9v0.9h-0.9zM86.07 42.07h0.9v0.9h-0.9zM79.89 42.53h0.9v0.9h-0.9zM73.86 46.02h0.9v0.9h-0.9zM86.32 46.14h0.9v0.9h-0.9zM66.49 44.18h0.9v0.9h-0.9zM65.96 44.77h0.9v0.9h-0.9zM75.96 41.23h0.9v0.9h-0.9zM79.49 45.65h0.9v0.9h-0.9zM78.62 46.67h0.9v0.9h-0.9zM64.48 41.99h0.9v0.9h-0.9zM58.64 44.22h0.9v0.9h-0.9zM73.65 43.87h0.9v0.9h-0.9zM67.47 46.19h0.9v0.9h-0.9zM60.61 46.9h0.9v0.9h-0.9zM78.48 44.53h0.9v0.9h-0.9zM86.5 42.55h0.9v0.9h-0.9zM63.26 43.02h0.9v0.9h-0.9zM59.52 43.04h0.9v0.9h-0.9zM80.36 44.42h0.9v0.9h-0.9zM67.53 44.83h0.9v0.9h-0.9zM61.19 46.33h0.9v0.9h-0.9zM64.18 42.66h0.9v0.9h-0.9zM63.75 45.49h0.9v0.9h-0.9zM87.91 46.11h0.9v0.9h-0.9zM60.2 43.67h0.9v0.9h-0.9zM71.12 42.41h0.9v0.9h-0.9zM92.94 41.27h0.9v0.9h-0.9zM75.62 45.95h0.9v0.9h-0.9zM93.5 41.94h0.9v0.9h-0.9zM74.39 45.84h0.9v0.9h-0.9zM59.41 42.56h0.9v0.9h-0.9zM90.04 41.92h0.9v0.9h-0.9zM72.15 42.94h0.9v0.9h-0.9zM73.28 41.5h0.9v0.9h-0.9zM59.23 47.47h0.9v0.9h-0.9zM85.48 45.77h0.9v0.9h-0.9zM66.28 42.65h0.9v0.9h-0.9zM77.87 42.57h0.9v0.9h-0.9zM74.62 47.06h0.9v0.9h-0.9zM71.1 43.19h0.9v0.9h-0.9zM93.32 44.97h0.9v0.9h-0.9zM59.43 43.62h0.9v0.9h-0.9zM81.39 41.38h0.9v0.9h-0.9z" fill="#111" fill-opacity="1.0"/>
<path d="M72.3 30.25h0.9v0.9h-0.9zM87.93 29.32h0.9v0.9h-0.9zM88.59 28.16h0.9v0.9h-0.9zM73.79 31.59h0.9v0.9h-0.9zM73.43 31.03h0.9v0.9h-0.9zM68.46 27.13h0.9v0.9h-0.9zM67.51 28.95h0.9v0.9h-0.9zM68.43 28.21h0.9v0.9h-0.9zM71.26 28.02h0.9v0.9h-0.9zM73.49 24.66h0.9v0.9h-0.9z" fill="#000" fill-opacity="1.0"/>
<path d="M109.53 41.45h0.9v0.9h-0.9zM106.2 40.07h0.9v0.9h-0.9z" fill="#000" fill-opacity="1.0"/>
<path d="M28.55 56.79h0.9v0.9h-0.9zM29.18 99.11h0.9v0.9h-0.9zM30.15 57.19h0.9v0.9h-0.9zM29.08 49.83h0.9v0.9h-0.9zM30.81 63.02h0.9v0.9h-0.9zM30.3 86.3h0.9v0.9h-0.9zM30.72 41.31h0.9v0.9h-0.9zM28.97 64.6h0.9v0.9h-0.9zM28.25 96.47h0.9v0.9h-0.9zM28.98 89.33h0.9v0.9h-0.9zM29.56 43.51h0.9v0.9h-0.9zM29.18 55.25h0.9v0.9h-0.9zM28.12 49.66h0.9v0.9h-0.9zM29.79 42.03h0.9v0.9h-0.9z" fill="#000" fill-opacity="1.0"/>
<path d="M96.25 70.02h0.9v0.9h-0.9zM97.18 53.02h0.9v0.9h-0.9zM97.83 60.36h0.9v0.9h-0.9zM97.9 84.3h0.9v0.9h-0.9zM95.59 57.08h0.9v0.9h-0.9zM96.12 87.05h0.9v0.9h-0.9zM96.62 67.8h0.9v0.9h-0.9zM98.46 58.34h0.9v0.9h-0.9zM96.17 65.35h0.9v0.9h-0.9zM95.86 47.4h0.9v0.9h-0.9zM95.1 82.19h0.9v0.9h-0.9zM97.26 92.72h0.9v0.9h-0.9zM98.9 62.59h0.9v0.9h-0.9zM97.68 99.23h0.9v0.9h-0.9z" fill="#000" fill-opacity="1.0"/>
<path d="M36.8 53 C37 51.33 37.47 48.63 38.2 47 C38.93 45.37 40.07 44.12 41.2 43.2 C42.33 42.28 43.2 41.83 45 41.5 C46.8 41.17 49.67 41.22 52 41.2 C54.33 41.18 57.42 40.4 59 41.4 C60.58 42.4 59.67 46.23 61.5 47.2 C63.33 48.17 66.92 47.17 70 47.2 C73.08 47.23 77 47.3 80 47.4 C83 47.5 86.4 46.7 88 47.8 C89.6 48.9 89.38 51.47 89.6 54 C89.82 56.53 89.37 59.75 89.3 63 C89.23 66.25 89.15 70.33 89.2 73.5 C89.25 76.67 89.47 78.92 89.6 82 C89.73 85.08 89.97 89 90 92 C90.03 95 89.88 97.97 89.8 100 C89.72 102.03 94.47 103.47 89.5 104.2 C84.53 104.93 68.58 104.38 60 104.4 C51.42 104.42 41.77 105.7 38 104.3 C34.23 102.9 37.47 99.22 37.4 96 C37.33 92.78 37.63 89.33 37.6 85 C37.57 80.67 37.3 74.67 37.2 70 C37.1 65.33 37.07 59.83 37 57 C36.93 54.17 36.6 54.67 36.8 53 Z" stroke="none" stroke-width="1" fill="#000" stroke-linejoin="round"/>
<path d="M73.82 44.89h1.0v1.0h-1.0zM33.35 62.64h1.0v1.0h-1.0zM88.8 72.81h1.0v1.0h-1.0zM90.12 58.4h1.0v1.0h-1.0zM61.44 45.99h1.0v1.0h-1.0zM62.89 45.37h1.0v1.0h-1.0zM50.19 40.04h1.0v1.0h-1.0zM61.3 44.79h1.0v1.0h-1.0zM89.42 72.56h1.0v1.0h-1.0zM88.87 75.49h1.0v1.0h-1.0zM82.17 46.79h1.0v1.0h-1.0zM35.58 76.93h1.0v1.0h-1.0zM89.43 77.99h1.0v1.0h-1.0zM36.23 79.63h1.0v1.0h-1.0zM38.78 44.3h1.0v1.0h-1.0zM89.84 53.88h1.0v1.0h-1.0zM60.23 44.88h1.0v1.0h-1.0zM91.13 95.66h1.0v1.0h-1.0zM35.9 59.52h1.0v1.0h-1.0zM36.35 78.13h1.0v1.0h-1.0zM36.66 92.07h1.0v1.0h-1.0zM90.8 94.98h1.0v1.0h-1.0zM90.63 48.03h1.0v1.0h-1.0zM78.5 46.41h1.0v1.0h-1.0zM65.03 45.87h1.0v1.0h-1.0zM43.48 41.12h1.0v1.0h-1.0zM33.81 82.71h1.0v1.0h-1.0zM82.22 45.69h1.0v1.0h-1.0zM90.71 72.75h1.0v1.0h-1.0zM57.58 39.78h1.0v1.0h-1.0zM77.14 46.51h1.0v1.0h-1.0zM60.72 40.7h1.0v1.0h-1.0zM36.34 55.02h1.0v1.0h-1.0zM55.89 40.33h1.0v1.0h-1.0zM89.03 58.75h1.0v1.0h-1.0zM90.25 93.23h1.0v1.0h-1.0zM33.78 96.76h1.0v1.0h-1.0zM90.23 72.62h1.0v1.0h-1.0zM35.72 56.79h1.0v1.0h-1.0zM64.52 46.88h1.0v1.0h-1.0zM81.67 45.78h1.0v1.0h-1.0zM89.11 57.31h1.0v1.0h-1.0zM61.17 43.34h1.0v1.0h-1.0zM76.38 45.76h1.0v1.0h-1.0zM83.56 46.66h1.0v1.0h-1.0zM36.32 76.71h1.0v1.0h-1.0zM66.09 45.86h1.0v1.0h-1.0zM70.67 43.48h1.0v1.0h-1.0zM91.53 77.64h1.0v1.0h-1.0zM41.74 40.51h1.0v1.0h-1.0zM34.94 89.91h1.0v1.0h-1.0zM37.37 46.52h1.0v1.0h-1.0zM46 40.1h1.0v1.0h-1.0zM90.29 54.17h1.0v1.0h-1.0zM72.5 41.62h1.0v1.0h-1.0zM93.57 101.28h1.0v1.0h-1.0zM34.62 91.27h1.0v1.0h-1.0zM51.75 35.88h1.0v1.0h-1.0zM36.08 46.9h1.0v1.0h-1.0zM89.43 71.89h1.0v1.0h-1.0zM36.17 95.16h1.0v1.0h-1.0zM89.29 64.16h1.0v1.0h-1.0zM89.26 56.86h1.0v1.0h-1.0zM53.05 40.36h1.0v1.0h-1.0zM89.11 81.44h1.0v1.0h-1.0zM89.39 75.24h1.0v1.0h-1.0zM36.23 63.25h1.0v1.0h-1.0zM91.35 56.81h1.0v1.0h-1.0zM35.55 55.37h1.0v1.0h-1.0zM74.58 45.94h1.0v1.0h-1.0zM65.1 46.51h1.0v1.0h-1.0zM35.99 64.29h1.0v1.0h-1.0zM72.93 45.21h1.0v1.0h-1.0zM35.51 84.87h1.0v1.0h-1.0zM89.74 78.83h1.0v1.0h-1.0zM36.84 44.75h1.0v1.0h-1.0zM61 45.15h1.0v1.0h-1.0zM35.59 54.97h1.0v1.0h-1.0zM59.24 33.36h1.0v1.0h-1.0zM77.91 43.92h1.0v1.0h-1.0zM33.82 66.58h1.0v1.0h-1.0zM35.07 81.82h1.0v1.0h-1.0zM35.89 95.88h1.0v1.0h-1.0zM36.73 82.81h1.0v1.0h-1.0zM34.74 100.21h1.0v1.0h-1.0zM33.58 96.83h1.0v1.0h-1.0zM60.72 45.19h1.0v1.0h-1.0zM38.24 44.27h1.0v1.0h-1.0zM36.8 89.94h1.0v1.0h-1.0zM91.72 71.92h1.0v1.0h-1.0zM36.73 74.63h1.0v1.0h-1.0zM71.68 45.14h1.0v1.0h-1.0zM89.12 81.44h1.0v1.0h-1.0zM90.74 55.43h1.0v1.0h-1.0zM58.81 38.96h1.0v1.0h-1.0zM58.33 40.61h1.0v1.0h-1.0zM34.37 53.78h1.0v1.0h-1.0zM89.33 65.58h1.0v1.0h-1.0zM61.3 43.9h1.0v1.0h-1.0zM36.07 93.03h1.0v1.0h-1.0zM93.88 98.7h1.0v1.0h-1.0zM91.58 47.48h1.0v1.0h-1.0zM35.29 85.3h1.0v1.0h-1.0zM35.88 67.45h1.0v1.0h-1.0zM89.49 78.79h1.0v1.0h-1.0zM36.04 62.75h1.0v1.0h-1.0zM61.37 38.67h1.0v1.0h-1.0zM89.65 79.13h1.0v1.0h-1.0zM35.67 86.22h1.0v1.0h-1.0zM51.48 37.07h1.0v1.0h-1.0zM89.48 66.32h1.0v1.0h-1.0zM36.57 63.84h1.0v1.0h-1.0zM90.19 90.08h1.0v1.0h-1.0zM90.93 55.65h1.0v1.0h-1.0zM30.55 59.24h1.0v1.0h-1.0zM91.53 73.36h1.0v1.0h-1.0zM90.24 88.5h1.0v1.0h-1.0zM74.34 39.44h1.0v1.0h-1.0zM88.95 67.73h1.0v1.0h-1.0zM82.01 44.16h1.0v1.0h-1.0zM35.93 102.87h1.0v1.0h-1.0zM33.85 48.28h1.0v1.0h-1.0zM36.85 75.98h1.0v1.0h-1.0zM35.38 99.74h1.0v1.0h-1.0zM57.56 39.17h1.0v1.0h-1.0zM49.12 39.56h1.0v1.0h-1.0zM35.54 102.74h1.0v1.0h-1.0zM41.45 41.67h1.0v1.0h-1.0zM52.48 37.61h1.0v1.0h-1.0zM35.36 59.19h1.0v1.0h-1.0zM88.9 77.53h1.0v1.0h-1.0zM34.78 93.4h1.0v1.0h-1.0zM61.34 45.4h1.0v1.0h-1.0zM54.01 39.95h1.0v1.0h-1.0zM89.05 78.14h1.0v1.0h-1.0zM54.09 36.48h1.0v1.0h-1.0zM91.18 94.6h1.0v1.0h-1.0zM35.27 64.58h1.0v1.0h-1.0zM36.03 74.19h1.0v1.0h-1.0zM90.12 81.06h1.0v1.0h-1.0zM90.05 81.34h1.0v1.0h-1.0zM36.91 89.54h1.0v1.0h-1.0zM51.54 39.95h1.0v1.0h-1.0zM89.92 93.45h1.0v1.0h-1.0zM89.5 94.21h1.0v1.0h-1.0zM36.55 60.08h1.0v1.0h-1.0zM35.85 61.33h1.0v1.0h-1.0zM89.28 67.51h1.0v1.0h-1.0zM91.58 99.37h1.0v1.0h-1.0zM50.14 40.24h1.0v1.0h-1.0zM35.48 98.24h1.0v1.0h-1.0zM89.3 75.01h1.0v1.0h-1.0zM48.36 34.09h1.0v1.0h-1.0zM89.63 58.37h1.0v1.0h-1.0zM34.29 99.66h1.0v1.0h-1.0zM33.16 46.23h1.0v1.0h-1.0zM90.77 78.54h1.0v1.0h-1.0zM36.62 71.26h1.0v1.0h-1.0zM91.43 83.54h1.0v1.0h-1.0zM90.2 85.21h1.0v1.0h-1.0zM91.24 56.54h1.0v1.0h-1.0zM55.24 37.55h1.0v1.0h-1.0zM94.05 53.98h1.0v1.0h-1.0zM36.33 70.02h1.0v1.0h-1.0zM36.01 80.99h1.0v1.0h-1.0zM89.87 81.68h1.0v1.0h-1.0zM35.6 68.7h1.0v1.0h-1.0zM91.1 71.78h1.0v1.0h-1.0zM70.62 46.03h1.0v1.0h-1.0zM90.22 63.21h1.0v1.0h-1.0zM90.06 71.92h1.0v1.0h-1.0zM90.15 65.13h1.0v1.0h-1.0zM35.87 56.87h1.0v1.0h-1.0zM77.72 46.36h1.0v1.0h-1.0zM36.18 91.96h1.0v1.0h-1.0zM90.65 81.82h1.0v1.0h-1.0zM32.68 58.01h1.0v1.0h-1.0zM89.91 94.08h1.0v1.0h-1.0zM52.25 40.08h1.0v1.0h-1.0zM36.96 43.92h1.0v1.0h-1.0zM34.29 63.6h1.0v1.0h-1.0zM51.22 38.25h1.0v1.0h-1.0zM69.98 45.48h1.0v1.0h-1.0zM56.58 38.09h1.0v1.0h-1.0zM32.74 75.31h1.0v1.0h-1.0zM93.55 66.49h1.0v1.0h-1.0zM91.92 49.56h1.0v1.0h-1.0zM84.72 46.26h1.0v1.0h-1.0zM82.04 46.61h1.0v1.0h-1.0zM86.61 46.37h1.0v1.0h-1.0zM92.62 99.26h1.0v1.0h-1.0zM34.01 84.18h1.0v1.0h-1.0zM83.62 46.66h1.0v1.0h-1.0zM91.21 66.14h1.0v1.0h-1.0zM90.07 86.38h1.0v1.0h-1.0zM35.5 65.21h1.0v1.0h-1.0zM89.21 62.97h1.0v1.0h-1.0zM53.64 36.02h1.0v1.0h-1.0zM45.05 37.18h1.0v1.0h-1.0zM92.42 53.9h1.0v1.0h-1.0zM34.64 85.11h1.0v1.0h-1.0zM46.54 39.58h1.0v1.0h-1.0zM91.8 102.12h1.0v1.0h-1.0zM69.6 44.75h1.0v1.0h-1.0zM89.62 93.87h1.0v1.0h-1.0zM59.65 41.47h1.0v1.0h-1.0zM32.45 63.83h1.0v1.0h-1.0zM36.62 67.15h1.0v1.0h-1.0zM93.93 97.7h1.0v1.0h-1.0zM54.15 37.24h1.0v1.0h-1.0zM37.37 47.18h1.0v1.0h-1.0zM44.16 38.49h1.0v1.0h-1.0zM36.16 90.03h1.0v1.0h-1.0zM88.82 62.51h1.0v1.0h-1.0zM84.16 45.31h1.0v1.0h-1.0zM90.71 60.06h1.0v1.0h-1.0zM77.98 43.44h1.0v1.0h-1.0zM60.36 44.87h1.0v1.0h-1.0zM35.07 101.04h1.0v1.0h-1.0zM82.32 43.46h1.0v1.0h-1.0zM77.42 46.27h1.0v1.0h-1.0zM80.16 46.51h1.0v1.0h-1.0zM35.66 54.87h1.0v1.0h-1.0zM61.46 40.82h1.0v1.0h-1.0zM91.38 60.7h1.0v1.0h-1.0zM90.06 48.79h1.0v1.0h-1.0zM92.23 91.6h1.0v1.0h-1.0zM90.18 96.85h1.0v1.0h-1.0zM36.51 71.77h1.0v1.0h-1.0zM31.84 80.11h1.0v1.0h-1.0zM93.11 61.56h1.0v1.0h-1.0zM60.85 41.13h1.0v1.0h-1.0zM88.91 68.27h1.0v1.0h-1.0zM36.52 66.27h1.0v1.0h-1.0zM88.88 62.68h1.0v1.0h-1.0zM66.25 46.7h1.0v1.0h-1.0zM95.31 100.19h1.0v1.0h-1.0zM75.31 46.66h1.0v1.0h-1.0zM61.47 46.19h1.0v1.0h-1.0zM91.43 50.55h1.0v1.0h-1.0zM90.88 87.92h1.0v1.0h-1.0zM89.78 89.16h1.0v1.0h-1.0zM36.48 57.47h1.0v1.0h-1.0zM88.83 74.63h1.0v1.0h-1.0zM63.94 44.96h1.0v1.0h-1.0zM36.74 48.06h1.0v1.0h-1.0zM91.1 96.92h1.0v1.0h-1.0zM66.21 46.89h1.0v1.0h-1.0zM39.12 43.52h1.0v1.0h-1.0zM89.73 67.62h1.0v1.0h-1.0zM89.85 55.85h1.0v1.0h-1.0zM90.05 88.08h1.0v1.0h-1.0zM77.77 42.45h1.0v1.0h-1.0zM36.7 79.1h1.0v1.0h-1.0zM35.93 55.99h1.0v1.0h-1.0zM63.8 42.89h1.0v1.0h-1.0zM51.06 38.84h1.0v1.0h-1.0zM90.21 100.06h1.0v1.0h-1.0zM89.93 96.28h1.0v1.0h-1.0zM90.47 96.52h1.0v1.0h-1.0zM36.02 59.23h1.0v1.0h-1.0zM48.24 38.15h1.0v1.0h-1.0zM34.41 90.94h1.0v1.0h-1.0zM35.72 74.43h1.0v1.0h-1.0zM90.05 93.04h1.0v1.0h-1.0zM90.04 97.76h1.0v1.0h-1.0zM73.61 43.88h1.0v1.0h-1.0zM32.53 57.37h1.0v1.0h-1.0zM34.54 97.54h1.0v1.0h-1.0zM36.36 97.2h1.0v1.0h-1.0zM89.49 52.69h1.0v1.0h-1.0zM36.25 47.1h1.0v1.0h-1.0zM34.62 98.95h1.0v1.0h-1.0zM35.01 67.73h1.0v1.0h-1.0zM36.45 81.51h1.0v1.0h-1.0zM41.27 38.57h1.0v1.0h-1.0zM32.48 100.32h1.0v1.0h-1.0zM35 65.27h1.0v1.0h-1.0zM89.38 71.01h1.0v1.0h-1.0zM62.26 44.45h1.0v1.0h-1.0zM90.18 100.2h1.0v1.0h-1.0zM67.15 45.15h1.0v1.0h-1.0zM35.99 65.53h1.0v1.0h-1.0zM36.23 72.45h1.0v1.0h-1.0zM89.47 59.51h1.0v1.0h-1.0zM89.54 94.31h1.0v1.0h-1.0zM81.35 46.51h1.0v1.0h-1.0zM79.47 46.26h1.0v1.0h-1.0zM40.86 41.7h1.0v1.0h-1.0zM34.98 64.03h1.0v1.0h-1.0zM89.23 76.02h1.0v1.0h-1.0zM36.37 61.72h1.0v1.0h-1.0zM81.62 45.61h1.0v1.0h-1.0zM91.56 102.76h1.0v1.0h-1.0zM42.06 41.48h1.0v1.0h-1.0zM86.93 44.91h1.0v1.0h-1.0zM91.46 56.4h1.0v1.0h-1.0zM53.15 39.57h1.0v1.0h-1.0zM36.85 77.64h1.0v1.0h-1.0zM85.93 44.88h1.0v1.0h-1.0zM58.36 39.86h1.0v1.0h-1.0zM89.52 91.11h1.0v1.0h-1.0zM89.71 72.47h1.0v1.0h-1.0zM33.54 62.96h1.0v1.0h-1.0zM56.27 39.82h1.0v1.0h-1.0zM35.94 82.8h1.0v1.0h-1.0zM92.22 74.12h1.0v1.0h-1.0zM34.15 98.93h1.0v1.0h-1.0zM89.64 66.81h1.0v1.0h-1.0zM90.72 55.48h1.0v1.0h-1.0zM91.42 52.65h1.0v1.0h-1.0zM92.88 91.02h1.0v1.0h-1.0zM92.34 69.14h1.0v1.0h-1.0zM34.95 100.56h1.0v1.0h-1.0zM34.9 63.83h1.0v1.0h-1.0zM90.84 82.35h1.0v1.0h-1.0zM90.83 61.44h1.0v1.0h-1.0zM91.24 78.01h1.0v1.0h-1.0zM35.93 53.97h1.0v1.0h-1.0zM42.23 40.17h1.0v1.0h-1.0zM36.24 89.14h1.0v1.0h-1.0zM61.49 41.03h1.0v1.0h-1.0zM62.74 45.53h1.0v1.0h-1.0zM89.22 79.01h1.0v1.0h-1.0zM90.61 88.07h1.0v1.0h-1.0zM89.2 70.05h1.0v1.0h-1.0zM89.46 103.64h1.0v1.0h-1.0zM32.71 81.3h1.0v1.0h-1.0zM65.15 46.81h1.0v1.0h-1.0zM34.17 98.22h1.0v1.0h-1.0zM91.38 94.63h1.0v1.0h-1.0zM33.76 93.28h1.0v1.0h-1.0zM36.61 79.91h1.0v1.0h-1.0zM90.09 55.06h1.0v1.0h-1.0zM75.42 46.39h1.0v1.0h-1.0zM65.04 43.58h1.0v1.0h-1.0zM90.1 83.49h1.0v1.0h-1.0zM34.94 71.63h1.0v1.0h-1.0zM90.72 64.44h1.0v1.0h-1.0zM33.69 79.04h1.0v1.0h-1.0zM89.14 66.47h1.0v1.0h-1.0zM39.13 41.53h1.0v1.0h-1.0zM35.8 88.28h1.0v1.0h-1.0zM50.68 40.63h1.0v1.0h-1.0zM35.01 55.99h1.0v1.0h-1.0zM43.33 41.09h1.0v1.0h-1.0zM90.01 89.7h1.0v1.0h-1.0zM89.47 64.58h1.0v1.0h-1.0zM89.34 50.16h1.0v1.0h-1.0zM90.58 54.24h1.0v1.0h-1.0zM54.44 37.48h1.0v1.0h-1.0zM89.93 99.57h1.0v1.0h-1.0zM89.81 72.25h1.0v1.0h-1.0zM92.33 103.26h1.0v1.0h-1.0zM36.51 76.72h1.0v1.0h-1.0zM89.07 52.21h1.0v1.0h-1.0zM34.17 82.17h1.0v1.0h-1.0zM90.01 73.9h1.0v1.0h-1.0zM32.4 54.91h1.0v1.0h-1.0zM45.94 40.37h1.0v1.0h-1.0zM35.92 83.62h1.0v1.0h-1.0zM45.77 32.81h1.0v1.0h-1.0zM60.58 44.49h1.0v1.0h-1.0zM54.02 39.19h1.0v1.0h-1.0zM91.44 82.41h1.0v1.0h-1.0zM35.06 75.01h1.0v1.0h-1.0zM90.52 85.04h1.0v1.0h-1.0zM74.68 45.07h1.0v1.0h-1.0zM45.4 38.57h1.0v1.0h-1.0zM35.27 62.02h1.0v1.0h-1.0zM36.33 43.73h1.0v1.0h-1.0zM70.53 46.66h1.0v1.0h-1.0zM94.57 91.01h1.0v1.0h-1.0zM83.37 43.94h1.0v1.0h-1.0zM38.85 42.58h1.0v1.0h-1.0zM36.46 92.24h1.0v1.0h-1.0zM66.71 45.76h1.0v1.0h-1.0zM79.16 46.37h1.0v1.0h-1.0zM78.54 46.32h1.0v1.0h-1.0zM89.55 95.58h1.0v1.0h-1.0zM89.9 70.92h1.0v1.0h-1.0zM31.91 43.52h1.0v1.0h-1.0zM89.25 58.76h1.0v1.0h-1.0zM36.44 71.73h1.0v1.0h-1.0zM91.72 97.08h1.0v1.0h-1.0zM78.91 46.55h1.0v1.0h-1.0zM46.63 37.57h1.0v1.0h-1.0zM67.69 45.77h1.0v1.0h-1.0zM60.06 44.46h1.0v1.0h-1.0zM34.79 44.82h1.0v1.0h-1.0zM48.71 40.64h1.0v1.0h-1.0zM54.54 39.93h1.0v1.0h-1.0zM54.46 40.12h1.0v1.0h-1.0zM62.96 46.81h1.0v1.0h-1.0zM88.95 68.99h1.0v1.0h-1.0zM90.11 98.88h1.0v1.0h-1.0zM38.04 43.16h1.0v1.0h-1.0zM88.92 60.03h1.0v1.0h-1.0zM36.41 66.05h1.0v1.0h-1.0zM36.73 73.18h1.0v1.0h-1.0zM91.08 50.1h1.0v1.0h-1.0zM91.77 72.95h1.0v1.0h-1.0zM54.13 34.25h1.0v1.0h-1.0zM36.36 82.73h1.0v1.0h-1.0zM32.93 61.83h1.0v1.0h-1.0zM90.1 75.29h1.0v1.0h-1.0zM35.63 101.79h1.0v1.0h-1.0zM88.29 47.18h1.0v1.0h-1.0zM68.13 45.79h1.0v1.0h-1.0zM35.97 55.49h1.0v1.0h-1.0zM69.86 45.4h1.0v1.0h-1.0zM36.33 52.26h1.0v1.0h-1.0zM89.53 58.37h1.0v1.0h-1.0zM77.48 45.79h1.0v1.0h-1.0zM32.72 84.8h1.0v1.0h-1.0zM89.95 56h1.0v1.0h-1.0zM62.38 44.76h1.0v1.0h-1.0zM70.83 45.18h1.0v1.0h-1.0zM37.88 44.47h1.0v1.0h-1.0zM36.46 59.71h1.0v1.0h-1.0zM37.83 44.32h1.0v1.0h-1.0zM88.89 68.24h1.0v1.0h-1.0zM37.16 46.72h1.0v1.0h-1.0zM61.56 46.79h1.0v1.0h-1.0zM58.65 39.35h1.0v1.0h-1.0zM89.02 61.99h1.0v1.0h-1.0zM35.99 58.16h1.0v1.0h-1.0zM89.99 91.73h1.0v1.0h-1.0zM90.46 99.23h1.0v1.0h-1.0zM59.76 40.05h1.0v1.0h-1.0zM33.88 54.92h1.0v1.0h-1.0zM90.49 87.01h1.0v1.0h-1.0zM92.76 73.19h1.0v1.0h-1.0zM89.77 74.04h1.0v1.0h-1.0zM36.22 52.58h1.0v1.0h-1.0zM47.06 38.94h1.0v1.0h-1.0zM60.7 44.58h1.0v1.0h-1.0zM92.22 67.32h1.0v1.0h-1.0zM33.3 49.28h1.0v1.0h-1.0zM58.98 41.05h1.0v1.0h-1.0zM73.27 45.81h1.0v1.0h-1.0zM38.34 38.98h1.0v1.0h-1.0zM62.02 43.26h1.0v1.0h-1.0zM37.49 43.58h1.0v1.0h-1.0zM34.35 74.98h1.0v1.0h-1.0zM39.03 42.2h1.0v1.0h-1.0zM92.99 52.01h1.0v1.0h-1.0zM35.07 64.06h1.0v1.0h-1.0zM38.5 43.26h1.0v1.0h-1.0zM81.08 45.6h1.0v1.0h-1.0zM63.06 44.93h1.0v1.0h-1.0zM89.77 60.29h1.0v1.0h-1.0zM50.77 40.41h1.0v1.0h-1.0zM91.09 96.27h1.0v1.0h-1.0zM89.02 67.51h1.0v1.0h-1.0zM90.47 75.95h1.0v1.0h-1.0zM89.58 76.86h1.0v1.0h-1.0zM89.47 63.82h1.0v1.0h-1.0zM34.82 97.19h1.0v1.0h-1.0zM90.33 71.37h1.0v1.0h-1.0zM89.32 55.44h1.0v1.0h-1.0zM36.14 70.25h1.0v1.0h-1.0zM55.58 40.16h1.0v1.0h-1.0zM36.78 76.84h1.0v1.0h-1.0zM89.8 63.89h1.0v1.0h-1.0zM89.7 49.79h1.0v1.0h-1.0zM36.11 96.84h1.0v1.0h-1.0zM56.24 40.27h1.0v1.0h-1.0zM89.68 79.2h1.0v1.0h-1.0zM92.83 65.51h1.0v1.0h-1.0zM49.53 39.4h1.0v1.0h-1.0zM50.08 39.86h1.0v1.0h-1.0zM34.97 54.51h1.0v1.0h-1.0zM34.32 62.32h1.0v1.0h-1.0zM91.9 90.91h1.0v1.0h-1.0zM61.58 45.61h1.0v1.0h-1.0zM91.29 99.37h1.0v1.0h-1.0zM50.04 40.46h1.0v1.0h-1.0zM63 41.99h1.0v1.0h-1.0zM90.18 83.25h1.0v1.0h-1.0zM89.47 45.83h1.0v1.0h-1.0zM34.48 87.26h1.0v1.0h-1.0zM44.78 40.45h1.0v1.0h-1.0zM90.6 101.12h1.0v1.0h-1.0zM82.95 44.98h1.0v1.0h-1.0zM59.68 42.18h1.0v1.0h-1.0zM36.25 89.58h1.0v1.0h-1.0zM30.91 91.54h1.0v1.0h-1.0zM72.08 46.53h1.0v1.0h-1.0zM77.28 43.15h1.0v1.0h-1.0zM89.71 91.13h1.0v1.0h-1.0zM79.47 45.23h1.0v1.0h-1.0zM35.33 103.26h1.0v1.0h-1.0zM90.2 89.79h1.0v1.0h-1.0zM89.4 71.58h1.0v1.0h-1.0zM47.1 39.87h1.0v1.0h-1.0zM36.98 89.12h1.0v1.0h-1.0zM89.31 67.46h1.0v1.0h-1.0zM64.8 46.87h1.0v1.0h-1.0zM35.89 99.52h1.0v1.0h-1.0zM91.5 55.44h1.0v1.0h-1.0zM90 52.56h1.0v1.0h-1.0zM92.01 90.63h1.0v1.0h-1.0zM32.86 95.25h1.0v1.0h-1.0zM32.13 61.75h1.0v1.0h-1.0zM36 54.47h1.0v1.0h-1.0zM56.57 39.84h1.0v1.0h-1.0zM35.22 88.69h1.0v1.0h-1.0zM33.67 75.62h1.0v1.0h-1.0zM40.65 42.06h1.0v1.0h-1.0zM93.52 78.48h1.0v1.0h-1.0zM36.79 93.16h1.0v1.0h-1.0zM43.44 41.16h1.0v1.0h-1.0zM88.85 49.93h1.0v1.0h-1.0zM89.99 60.09h1.0v1.0h-1.0zM85.91 46.7h1.0v1.0h-1.0zM89.17 51.51h1.0v1.0h-1.0zM89.54 92.69h1.0v1.0h-1.0zM89.68 65.57h1.0v1.0h-1.0zM37.26 47.15h1.0v1.0h-1.0zM33.43 89.41h1.0v1.0h-1.0zM37.01 84.48h1.0v1.0h-1.0zM40.16 41.81h1.0v1.0h-1.0zM36.32 64.13h1.0v1.0h-1.0zM61.86 43.38h1.0v1.0h-1.0zM36.13 50.86h1.0v1.0h-1.0zM34.6 79.86h1.0v1.0h-1.0zM47.39 38.77h1.0v1.0h-1.0zM41.56 37.25h1.0v1.0h-1.0zM37.49 44.71h1.0v1.0h-1.0zM52.45 37.18h1.0v1.0h-1.0zM57.37 39.54h1.0v1.0h-1.0zM89.87 76.78h1.0v1.0h-1.0zM33.98 73.46h1.0v1.0h-1.0zM80.16 45.92h1.0v1.0h-1.0zM89.18 54.76h1.0v1.0h-1.0zM72.29 44.64h1.0v1.0h-1.0zM39.18 43.52h1.0v1.0h-1.0zM32.18 100.01h1.0v1.0h-1.0zM52.07 35.22h1.0v1.0h-1.0zM92.53 101.31h1.0v1.0h-1.0zM72.71 46.33h1.0v1.0h-1.0zM32.46 63.81h1.0v1.0h-1.0zM34.34 86.58h1.0v1.0h-1.0zM45.76 38.73h1.0v1.0h-1.0zM36.96 89.05h1.0v1.0h-1.0zM35.43 54.69h1.0v1.0h-1.0zM71.3 45.76h1.0v1.0h-1.0zM89.17 74.01h1.0v1.0h-1.0zM75 45.92h1.0v1.0h-1.0zM34.96 72.15h1.0v1.0h-1.0zM35.57 82.37h1.0v1.0h-1.0zM45.14 39.15h1.0v1.0h-1.0zM35.37 48.91h1.0v1.0h-1.0zM35.57 83.38h1.0v1.0h-1.0zM33.64 51.02h1.0v1.0h-1.0zM35.03 55.85h1.0v1.0h-1.0zM36.07 75.69h1.0v1.0h-1.0zM89.74 57.84h1.0v1.0h-1.0zM89.22 73.35h1.0v1.0h-1.0zM51.14 40.12h1.0v1.0h-1.0zM57.52 39.05h1.0v1.0h-1.0zM36.05 96.95h1.0v1.0h-1.0zM69.12 45.5h1.0v1.0h-1.0zM36.28 49.2h1.0v1.0h-1.0zM89.91 49.95h1.0v1.0h-1.0zM85.01 45.49h1.0v1.0h-1.0zM89.32 63.11h1.0v1.0h-1.0zM34.91 82.64h1.0v1.0h-1.0zM60.09 39.38h1.0v1.0h-1.0zM34.04 55.18h1.0v1.0h-1.0zM64.13 39.34h1.0v1.0h-1.0zM86.12 40.44h1.0v1.0h-1.0zM44.73 39.18h1.0v1.0h-1.0zM74.24 46.19h1.0v1.0h-1.0zM90.87 56.5h1.0v1.0h-1.0zM32.88 54.97h1.0v1.0h-1.0zM81.95 44.06h1.0v1.0h-1.0zM36.39 64.05h1.0v1.0h-1.0zM91.23 102.54h1.0v1.0h-1.0zM41.87 38.08h1.0v1.0h-1.0zM90.38 96.24h1.0v1.0h-1.0zM34.88 69.35h1.0v1.0h-1.0zM91.54 102.03h1.0v1.0h-1.0zM36.25 77.57h1.0v1.0h-1.0zM89.05 67.04h1.0v1.0h-1.0zM34.34 60.76h1.0v1.0h-1.0zM39.8 41.48h1.0v1.0h-1.0zM36.03 62.51h1.0v1.0h-1.0zM74.92 46.53h1.0v1.0h-1.0zM90.32 95.66h1.0v1.0h-1.0zM36 63.5h1.0v1.0h-1.0zM90.6 103.5h1.0v1.0h-1.0zM34.92 90.06h1.0v1.0h-1.0zM64.01 42.09h1.0v1.0h-1.0zM35.46 69.79h1.0v1.0h-1.0zM92.56 67.53h1.0v1.0h-1.0zM89 50.91h1.0v1.0h-1.0zM88.91 64.06h1.0v1.0h-1.0zM70.99 45.81h1.0v1.0h-1.0zM41.59 40.97h1.0v1.0h-1.0zM84.2 43.96h1.0v1.0h-1.0zM91.22 72.97h1.0v1.0h-1.0zM34.72 64.26h1.0v1.0h-1.0zM69.93 45.65h1.0v1.0h-1.0zM89.01 78.26h1.0v1.0h-1.0zM33.63 67.15h1.0v1.0h-1.0zM95.35 72.13h1.0v1.0h-1.0zM36.22 51.52h1.0v1.0h-1.0zM35.33 96.42h1.0v1.0h-1.0zM54.9 38.8h1.0v1.0h-1.0zM60.33 40.86h1.0v1.0h-1.0zM33.91 96.7h1.0v1.0h-1.0zM89.31 52.86h1.0v1.0h-1.0zM34.89 44.88h1.0v1.0h-1.0zM35.82 95.57h1.0v1.0h-1.0zM34.19 89.62h1.0v1.0h-1.0zM73.76 46.08h1.0v1.0h-1.0zM89.65 49.45h1.0v1.0h-1.0zM34.29 59.53h1.0v1.0h-1.0zM36.2 69.71h1.0v1.0h-1.0zM43.13 39.46h1.0v1.0h-1.0zM89.6 98.37h1.0v1.0h-1.0zM43.79 40.14h1.0v1.0h-1.0zM91.66 78.28h1.0v1.0h-1.0zM36.12 85.52h1.0v1.0h-1.0zM40.5 39.8h1.0v1.0h-1.0zM89.07 76.29h1.0v1.0h-1.0zM43.38 41.05h1.0v1.0h-1.0zM89.27 80.12h1.0v1.0h-1.0zM61.28 46.25h1.0v1.0h-1.0zM40.3 42.57h1.0v1.0h-1.0zM32.48 87.48h1.0v1.0h-1.0zM83.54 46.67h1.0v1.0h-1.0zM93.1 76.34h1.0v1.0h-1.0zM71.22 46.7h1.0v1.0h-1.0zM33.6 95.61h1.0v1.0h-1.0zM35.55 48.78h1.0v1.0h-1.0zM88.93 46.59h1.0v1.0h-1.0zM35.2 62.84h1.0v1.0h-1.0zM38.05 43.19h1.0v1.0h-1.0zM51.67 38.29h1.0v1.0h-1.0zM33.84 67.74h1.0v1.0h-1.0zM35.03 56.95h1.0v1.0h-1.0zM90.04 69.85h1.0v1.0h-1.0zM75.79 46.76h1.0v1.0h-1.0zM92.13 82.06h1.0v1.0h-1.0zM91.04 99.93h1.0v1.0h-1.0zM78.25 46.65h1.0v1.0h-1.0zM32.26 78.2h1.0v1.0h-1.0zM65.01 44.53h1.0v1.0h-1.0zM76.45 46.29h1.0v1.0h-1.0zM68.64 46.59h1.0v1.0h-1.0zM63.73 45.46h1.0v1.0h-1.0zM89.93 50.92h1.0v1.0h-1.0zM73.63 44.64h1.0v1.0h-1.0zM35 58.22h1.0v1.0h-1.0zM91.23 81.72h1.0v1.0h-1.0zM66.32 41.95h1.0v1.0h-1.0zM88.83 71.04h1.0v1.0h-1.0zM34.78 101.2h1.0v1.0h-1.0zM35.5 59.28h1.0v1.0h-1.0zM90.02 99.45h1.0v1.0h-1.0zM36.63 77.63h1.0v1.0h-1.0zM63.42 45.95h1.0v1.0h-1.0zM49.2 37.58h1.0v1.0h-1.0zM32.7 57.64h1.0v1.0h-1.0zM89.69 64.55h1.0v1.0h-1.0zM54.83 39.21h1.0v1.0h-1.0zM94.03 57.51h1.0v1.0h-1.0zM86.46 45.59h1.0v1.0h-1.0zM39.11 41.86h1.0v1.0h-1.0zM88.97 49.23h1.0v1.0h-1.0z" fill="#000"/>
<path d="M90.97 82.94h0.9v0.9h-0.9zM86.28 43.75h0.9v0.9h-0.9zM31.38 97.05h0.9v0.9h-0.9zM34.04 57.79h0.9v0.9h-0.9zM82.25 42.88h0.9v0.9h-0.9zM84.66 40.24h0.9v0.9h-0.9zM91.55 74.69h0.9v0.9h-0.9zM36.78 49.07h0.9v0.9h-0.9zM87.21 47.08h0.9v0.9h-0.9zM95.43 96.23h0.9v0.9h-0.9zM62.39 47.07h0.9v0.9h-0.9zM91.36 55.43h0.9v0.9h-0.9zM33.26 72.85h0.9v0.9h-0.9zM90.84 68.35h0.9v0.9h-0.9zM34.64 69.69h0.9v0.9h-0.9zM94.75 95.35h0.9v0.9h-0.9zM67.17 44.61h0.9v0.9h-0.9zM76.44 43.13h0.9v0.9h-0.9zM34.35 53.31h0.9v0.9h-0.9zM65.13 46.79h0.9v0.9h-0.9zM52.48 40.6h0.9v0.9h-0.9zM91.77 84.59h0.9v0.9h-0.9zM32.16 88.89h0.9v0.9h-0.9zM35.46 102.03h0.9v0.9h-0.9zM90.03 98.82h0.9v0.9h-0.9zM57.96 37.16h0.9v0.9h-0.9zM90.39 64.78h0.9v0.9h-0.9zM34.49 50.69h0.9v0.9h-0.9zM63.95 43.65h0.9v0.9h-0.9zM89.73 75.28h0.9v0.9h-0.9zM92.83 81.32h0.9v0.9h-0.9zM33.22 100.85h0.9v0.9h-0.9zM90.44 95.34h0.9v0.9h-0.9zM34.57 64.28h0.9v0.9h-0.9zM62.57 43.87h0.9v0.9h-0.9zM75.06 46.4h0.9v0.9h-0.9zM32.66 48.9h0.9v0.9h-0.9zM36.97 39.87h0.9v0.9h-0.9zM77.77 42.07h0.9v0.9h-0.9zM77.94 44.63h0.9v0.9h-0.9zM44.5 40.38h0.9v0.9h-0.9zM34.68 88.09h0.9v0.9h-0.9zM30.89 55.93h0.9v0.9h-0.9zM52.21 37.26h0.9v0.9h-0.9zM90.01 81.12h0.9v0.9h-0.9zM91.1 55.12h0.9v0.9h-0.9zM32.83 95.22h0.9v0.9h-0.9zM91.23 85.44h0.9v0.9h-0.9zM94.86 55.14h0.9v0.9h-0.9zM35.69 50h0.9v0.9h-0.9zM36.18 63.54h0.9v0.9h-0.9zM31.58 58.77h0.9v0.9h-0.9zM30.59 46.52h0.9v0.9h-0.9zM31.24 92.12h0.9v0.9h-0.9zM89.73 98.12h0.9v0.9h-0.9zM94.92 96.35h0.9v0.9h-0.9zM41.5 39.04h0.9v0.9h-0.9zM65.53 45.92h0.9v0.9h-0.9zM34.02 36.36h0.9v0.9h-0.9zM71.5 42.18h0.9v0.9h-0.9zM34.58 85.31h0.9v0.9h-0.9zM91.54 90.4h0.9v0.9h-0.9zM55.96 40.36h0.9v0.9h-0.9zM35.55 75.37h0.9v0.9h-0.9zM80.13 37.24h0.9v0.9h-0.9zM64.93 42.86h0.9v0.9h-0.9zM90.26 71.27h0.9v0.9h-0.9zM89.34 65.97h0.9v0.9h-0.9zM50.31 35.67h0.9v0.9h-0.9zM33.14 79.81h0.9v0.9h-0.9zM92.18 58.54h0.9v0.9h-0.9zM95.45 93.77h0.9v0.9h-0.9zM63.29 43.92h0.9v0.9h-0.9zM90.36 85.57h0.9v0.9h-0.9zM35.26 62.12h0.9v0.9h-0.9zM47.19 39.52h0.9v0.9h-0.9zM93.25 96.18h0.9v0.9h-0.9zM50.09 40.59h0.9v0.9h-0.9zM89.75 52.88h0.9v0.9h-0.9zM55.01 40.41h0.9v0.9h-0.9zM90.65 95.01h0.9v0.9h-0.9zM91.76 98.61h0.9v0.9h-0.9zM32.85 44.06h0.9v0.9h-0.9zM36.64 91.53h0.9v0.9h-0.9zM90.16 92.03h0.9v0.9h-0.9zM92.91 84.11h0.9v0.9h-0.9zM89.34 50.63h0.9v0.9h-0.9zM90.63 92.38h0.9v0.9h-0.9zM91.21 100.69h0.9v0.9h-0.9zM36.21 52.1h0.9v0.9h-0.9zM34.2 65.88h0.9v0.9h-0.9zM52.71 38.85h0.9v0.9h-0.9zM92.26 76.42h0.9v0.9h-0.9zM91.5 80.75h0.9v0.9h-0.9zM79.75 42.93h0.9v0.9h-0.9zM90.35 71.77h0.9v0.9h-0.9zM35.71 46.2h0.9v0.9h-0.9zM93.15 98.82h0.9v0.9h-0.9zM91.81 94.97h0.9v0.9h-0.9zM65.4 46.34h0.9v0.9h-0.9zM89.81 100.5h0.9v0.9h-0.9zM33.66 90.61h0.9v0.9h-0.9zM36.01 63.39h0.9v0.9h-0.9zM90.03 88.06h0.9v0.9h-0.9zM67.05 46.29h0.9v0.9h-0.9zM34.89 63.45h0.9v0.9h-0.9zM33.39 68.98h0.9v0.9h-0.9zM44.37 36.81h0.9v0.9h-0.9zM64.33 42.01h0.9v0.9h-0.9zM95.05 77.2h0.9v0.9h-0.9zM76.95 46.6h0.9v0.9h-0.9zM33.25 87.92h0.9v0.9h-0.9zM62.84 42.89h0.9v0.9h-0.9zM85.53 46.54h0.9v0.9h-0.9zM48.35 36.46h0.9v0.9h-0.9zM32.48 90.38h0.9v0.9h-0.9zM34.59 57.83h0.9v0.9h-0.9zM35.67 65.87h0.9v0.9h-0.9zM35.7 80.01h0.9v0.9h-0.9zM63.15 43.64h0.9v0.9h-0.9zM73.85 45.78h0.9v0.9h-0.9zM39.32 37.71h0.9v0.9h-0.9zM32.14 89.28h0.9v0.9h-0.9zM89.82 46.88h0.9v0.9h-0.9zM36.25 92.23h0.9v0.9h-0.9zM89.53 86.08h0.9v0.9h-0.9zM44.74 38.36h0.9v0.9h-0.9zM89.92 52.98h0.9v0.9h-0.9zM91.01 93.32h0.9v0.9h-0.9zM83.12 42.44h0.9v0.9h-0.9zM34.8 98.86h0.9v0.9h-0.9zM50.55 37.39h0.9v0.9h-0.9zM31.51 70.37h0.9v0.9h-0.9zM90.13 61.23h0.9v0.9h-0.9zM53.64 34.01h0.9v0.9h-0.9zM47.32 38.75h0.9v0.9h-0.9zM48.66 35.79h0.9v0.9h-0.9zM34.38 71.55h0.9v0.9h-0.9zM59.91 43.45h0.9v0.9h-0.9zM35.97 69.95h0.9v0.9h-0.9zM63.25 42.05h0.9v0.9h-0.9zM90.45 79.75h0.9v0.9h-0.9zM34.65 48.79h0.9v0.9h-0.9zM61.62 41.87h0.9v0.9h-0.9zM73.13 44h0.9v0.9h-0.9zM89.95 85.55h0.9v0.9h-0.9zM74.98 45.14h0.9v0.9h-0.9zM65.05 44.53h0.9v0.9h-0.9zM60.43 43.38h0.9v0.9h-0.9zM79.07 46.85h0.9v0.9h-0.9zM31.86 82.31h0.9v0.9h-0.9zM73.05 45.61h0.9v0.9h-0.9zM77.82 46.03h0.9v0.9h-0.9zM41.07 39.23h0.9v0.9h-0.9zM33.48 60.25h0.9v0.9h-0.9zM90.17 70.8h0.9v0.9h-0.9zM44.24 40.2h0.9v0.9h-0.9zM91.44 85.36h0.9v0.9h-0.9zM35.37 96.91h0.9v0.9h-0.9zM34.77 103.26h0.9v0.9h-0.9zM89.44 63.61h0.9v0.9h-0.9zM54.57 36.46h0.9v0.9h-0.9zM94.76 96.74h0.9v0.9h-0.9zM32.71 73.22h0.9v0.9h-0.9zM67.78 44.59h0.9v0.9h-0.9zM72.24 43.7h0.9v0.9h-0.9zM91.66 98.41h0.9v0.9h-0.9zM35.27 81.42h0.9v0.9h-0.9zM45.28 40.17h0.9v0.9h-0.9zM49.75 29.95h0.9v0.9h-0.9zM36.26 57.83h0.9v0.9h-0.9zM88.23 47.51h0.9v0.9h-0.9zM83.35 44.1h0.9v0.9h-0.9zM60.15 44.67h0.9v0.9h-0.9zM36.52 94.3h0.9v0.9h-0.9zM35.13 57.02h0.9v0.9h-0.9zM36.87 95.2h0.9v0.9h-0.9zM47.68 37.51h0.9v0.9h-0.9zM60.54 44.67h0.9v0.9h-0.9zM33.4 99.3h0.9v0.9h-0.9zM40.84 41.79h0.9v0.9h-0.9zM90.92 55.27h0.9v0.9h-0.9zM63.49 46.92h0.9v0.9h-0.9zM33.43 63.04h0.9v0.9h-0.9zM58.46 37.64h0.9v0.9h-0.9zM34.21 86.98h0.9v0.9h-0.9zM89.5 83.02h0.9v0.9h-0.9zM75.71 43.01h0.9v0.9h-0.9zM85.81 44.46h0.9v0.9h-0.9zM50.31 39.7h0.9v0.9h-0.9zM90.34 60.05h0.9v0.9h-0.9zM68.39 45.03h0.9v0.9h-0.9zM94.59 82.87h0.9v0.9h-0.9zM82.04 45.79h0.9v0.9h-0.9z" fill="#000"/>
<path d="M59.4 52.5 C61.5 53 62.8 56 63.6 59.5 C64.6 63.5 67 67.5 69.5 70.5 C70.8 72 71.8 73 72.6 74 L59.4 74 Z" fill="#fff"/>
<path d="M58 50 C62 52 63 57 61.6 61 C60.8 63 59.6 64 58.4 64.6" fill="none" stroke="#8fd0e8" stroke-width="0.7"/>
<path d="M49.8 46.6 C51.07 46.6 52.7 46.73 53.8 47.4 C54.9 48.07 55.78 49.17 56.4 50.6 C57.02 52.03 57.28 53.93 57.5 56 C57.72 58.07 57.65 60.67 57.7 63 C57.75 65.33 57.72 67.83 57.8 70 C57.88 72.17 58.23 74.17 58.2 76 C58.17 77.83 58.1 79.42 57.6 81 C57.1 82.58 56.07 84.08 55.2 85.5 C54.33 86.92 53.2 88.38 52.4 89.5 C51.6 90.62 51.1 92.37 50.4 92.2 C49.7 92.03 48.97 90.03 48.2 88.5 C47.43 86.97 46.47 84.92 45.8 83 C45.13 81.08 44.73 79.33 44.2 77 C43.67 74.67 42.97 71.67 42.6 69 C42.23 66.33 42.03 63.33 42 61 C41.97 58.67 42.1 56.8 42.4 55 C42.7 53.2 43.17 51.47 43.8 50.2 C44.43 48.93 45.2 48 46.2 47.4 C47.2 46.8 48.53 46.6 49.8 46.6 Z" stroke="none" stroke-width="1" fill="#d8d8d8" stroke-linejoin="round"/>
<path d="M49.81 47.18 C51.04 47.18 52.62 47.31 53.69 47.96 C54.76 48.6 55.62 49.67 56.21 51.06 C56.81 52.45 57.07 54.3 57.28 56.3 C57.49 58.3 57.43 60.83 57.48 63.09 C57.52 65.35 57.49 67.78 57.57 69.88 C57.65 71.98 57.99 73.92 57.96 75.7 C57.93 77.48 57.86 79.01 57.38 80.55 C56.89 82.09 55.89 83.54 55.05 84.91 C54.21 86.29 53.11 87.71 52.33 88.8 C51.56 89.88 51.07 91.58 50.39 91.41 C49.72 91.25 49 89.31 48.26 87.83 C47.52 86.34 46.58 84.35 45.93 82.49 C45.29 80.63 44.9 78.93 44.38 76.67 C43.86 74.41 43.18 71.5 42.83 68.91 C42.47 66.32 42.28 63.41 42.25 61.15 C42.21 58.89 42.34 57.08 42.63 55.33 C42.92 53.58 43.38 51.9 43.99 50.67 C44.61 49.45 45.35 48.54 46.32 47.96 C47.29 47.38 48.58 47.18 49.81 47.18 Z" stroke="#1a1a1a" stroke-width="0.55" fill="none" stroke-linejoin="round"/>
<path d="M49.86 48.9 C50.93 48.9 52.3 49.01 53.22 49.57 C54.14 50.13 54.88 51.05 55.4 52.26 C55.91 53.46 56.14 55.05 56.32 56.78 C56.5 58.52 56.45 60.7 56.49 62.65 C56.53 64.61 56.5 66.7 56.57 68.52 C56.64 70.34 56.93 72.01 56.91 73.55 C56.88 75.09 56.82 76.41 56.4 77.74 C55.98 79.07 55.12 80.33 54.39 81.51 C53.67 82.7 52.72 83.93 52.04 84.87 C51.37 85.8 50.95 87.27 50.37 87.13 C49.78 86.99 49.17 85.31 48.52 84.03 C47.88 82.74 47.07 81.03 46.51 79.42 C45.95 77.81 45.62 76.34 45.17 74.39 C44.72 72.43 44.14 69.92 43.83 67.68 C43.52 65.45 43.35 62.93 43.33 60.98 C43.3 59.02 43.41 57.45 43.66 55.95 C43.91 54.44 44.3 52.98 44.83 51.92 C45.37 50.86 46.01 50.08 46.85 49.57 C47.69 49.07 48.8 48.9 49.86 48.9 Z" stroke="#1a1a1a" stroke-width="0.55" fill="none" stroke-linejoin="round"/>
<path d="M49.92 50.62 C50.81 50.62 51.97 50.72 52.74 51.19 C53.52 51.66 54.15 52.44 54.58 53.45 C55.02 54.46 55.21 55.81 55.36 57.27 C55.51 58.73 55.46 60.56 55.5 62.21 C55.54 63.86 55.51 65.63 55.57 67.16 C55.63 68.69 55.88 70.1 55.85 71.4 C55.83 72.7 55.78 73.81 55.43 74.93 C55.08 76.05 54.35 77.11 53.73 78.11 C53.12 79.11 52.32 80.15 51.75 80.94 C51.19 81.73 50.84 82.97 50.34 82.85 C49.85 82.73 49.33 81.32 48.79 80.23 C48.24 79.15 47.56 77.7 47.09 76.35 C46.62 74.99 46.34 73.76 45.96 72.11 C45.58 70.46 45.09 68.34 44.83 66.45 C44.57 64.57 44.43 62.45 44.41 60.8 C44.38 59.15 44.48 57.83 44.69 56.56 C44.9 55.29 45.23 54.06 45.68 53.17 C46.12 52.27 46.67 51.61 47.37 51.19 C48.08 50.77 49.02 50.62 49.92 50.62 Z" stroke="#1a1a1a" stroke-width="0.55" fill="none" stroke-linejoin="round"/>
<path d="M49.97 52.34 C50.7 52.34 51.64 52.42 52.27 52.8 C52.9 53.19 53.41 53.82 53.77 54.65 C54.12 55.47 54.27 56.56 54.4 57.75 C54.52 58.94 54.48 60.43 54.51 61.77 C54.54 63.12 54.52 64.55 54.57 65.8 C54.62 67.05 54.82 68.2 54.8 69.25 C54.78 70.3 54.74 71.21 54.45 72.12 C54.17 73.04 53.57 73.9 53.08 74.71 C52.58 75.53 51.93 76.37 51.47 77.01 C51.01 77.65 50.72 78.66 50.31 78.56 C49.91 78.47 49.49 77.32 49.05 76.44 C48.61 75.56 48.05 74.38 47.67 73.28 C47.29 72.17 47.06 71.17 46.75 69.83 C46.44 68.48 46.04 66.76 45.83 65.22 C45.62 63.69 45.5 61.97 45.48 60.62 C45.47 59.28 45.54 58.21 45.72 57.17 C45.89 56.14 46.16 55.14 46.52 54.42 C46.88 53.69 47.33 53.15 47.9 52.8 C48.48 52.46 49.24 52.34 49.97 52.34 Z" stroke="#1a1a1a" stroke-width="0.55" fill="none" stroke-linejoin="round"/>
<path d="M50.02 54.07 C50.58 54.07 51.31 54.13 51.8 54.42 C52.28 54.72 52.68 55.2 52.95 55.84 C53.22 56.47 53.34 57.32 53.44 58.23 C53.53 59.15 53.5 60.3 53.53 61.34 C53.55 62.37 53.53 63.48 53.57 64.44 C53.61 65.4 53.76 66.29 53.75 67.1 C53.73 67.91 53.7 68.61 53.48 69.32 C53.26 70.02 52.8 70.68 52.42 71.31 C52.03 71.94 51.53 72.59 51.18 73.08 C50.82 73.58 50.6 74.36 50.29 74.28 C49.98 74.21 49.65 73.32 49.31 72.64 C48.97 71.96 48.54 71.05 48.25 70.2 C47.95 69.35 47.78 68.58 47.54 67.54 C47.3 66.51 46.99 65.18 46.83 64 C46.67 62.81 46.58 61.48 46.56 60.45 C46.55 59.42 46.61 58.59 46.74 57.79 C46.88 56.99 47.08 56.22 47.36 55.66 C47.64 55.1 47.98 54.69 48.43 54.42 C48.87 54.15 49.46 54.07 50.02 54.07 Z" stroke="#1a1a1a" stroke-width="0.55" fill="none" stroke-linejoin="round"/>
<path d="M50.08 55.79 C50.47 55.79 50.98 55.83 51.32 56.04 C51.66 56.24 51.94 56.59 52.13 57.03 C52.32 57.48 52.41 58.07 52.48 58.72 C52.54 59.36 52.52 60.17 52.54 60.9 C52.55 61.63 52.54 62.4 52.57 63.08 C52.59 63.76 52.7 64.38 52.69 64.95 C52.68 65.52 52.66 66.01 52.51 66.51 C52.35 67 52.03 67.47 51.76 67.91 C51.49 68.35 51.13 68.81 50.89 69.16 C50.64 69.51 50.48 70.05 50.26 70 C50.04 69.95 49.82 69.32 49.58 68.85 C49.34 68.37 49.04 67.73 48.83 67.13 C48.62 66.53 48.5 65.99 48.33 65.26 C48.16 64.53 47.95 63.6 47.83 62.77 C47.72 61.94 47.65 61 47.64 60.28 C47.63 59.55 47.68 58.97 47.77 58.41 C47.86 57.84 48.01 57.3 48.21 56.91 C48.4 56.51 48.64 56.22 48.95 56.04 C49.27 55.85 49.68 55.79 50.08 55.79 Z" stroke="#1a1a1a" stroke-width="0.55" fill="none" stroke-linejoin="round"/>
<path d="M50.13 57.51 C50.36 57.51 50.65 57.53 50.85 57.65 C51.05 57.77 51.2 57.97 51.32 58.23 C51.43 58.49 51.48 58.83 51.51 59.2 C51.55 59.57 51.54 60.04 51.55 60.46 C51.56 60.88 51.55 61.33 51.57 61.72 C51.58 62.11 51.65 62.47 51.64 62.8 C51.63 63.13 51.62 63.41 51.53 63.7 C51.44 63.99 51.26 64.26 51.1 64.51 C50.94 64.77 50.74 65.03 50.6 65.23 C50.45 65.43 50.36 65.75 50.24 65.72 C50.11 65.69 49.98 65.33 49.84 65.05 C49.7 64.77 49.53 64.41 49.41 64.06 C49.29 63.72 49.22 63.4 49.12 62.98 C49.02 62.56 48.9 62.02 48.83 61.54 C48.77 61.06 48.73 60.52 48.72 60.1 C48.72 59.68 48.74 59.34 48.8 59.02 C48.85 58.7 48.93 58.38 49.05 58.16 C49.16 57.93 49.3 57.76 49.48 57.65 C49.66 57.54 49.9 57.51 50.13 57.51 Z" stroke="#1a1a1a" stroke-width="0.55" fill="none" stroke-linejoin="round"/>
<path d="M60.8 75 C62.37 74.13 66.97 74.8 70 74.8 C73.03 74.8 76.63 74.3 79 75 C81.37 75.7 83.07 76.67 84.2 79 C85.33 81.33 85.63 85.92 85.8 89 C85.97 92.08 85.57 95.03 85.2 97.5 C84.83 99.97 85.3 102.72 83.6 103.8 C81.9 104.88 77.27 104.47 75 104 C72.73 103.53 71.5 102.5 70 101 C68.5 99.5 67.27 97.33 66 95 C64.73 92.67 63.3 89.5 62.4 87 C61.5 84.5 60.87 82 60.6 80 C60.33 78 59.23 75.87 60.8 75 Z" stroke="none" stroke-width="1" fill="#f6f6f6" stroke-linejoin="round"/>
<ellipse cx="73.8" cy="88.8" rx="11.6" ry="15" transform="rotate(-12 73.8 88.8)" stroke="#222" stroke-width="0.5" fill="none"/>
<ellipse cx="74.68" cy="89.36" rx="9.6" ry="12.42" transform="rotate(-12 74.68 89.36)" stroke="#222" stroke-width="0.5" fill="none"/>
<ellipse cx="75.56" cy="89.92" rx="7.61" ry="9.84" transform="rotate(-12 75.56 89.92)" stroke="#222" stroke-width="0.5" fill="none"/>
<ellipse cx="76.44" cy="90.48" rx="5.61" ry="7.26" transform="rotate(-12 76.44 90.48)" stroke="#222" stroke-width="0.5" fill="none"/>
<ellipse cx="77.32" cy="91.04" rx="3.62" ry="4.68" transform="rotate(-12 77.32 91.04)" stroke="#222" stroke-width="0.5" fill="none"/>
<ellipse cx="78.2" cy="91.6" rx="1.62" ry="2.1" transform="rotate(-12 78.2 91.6)" stroke="#222" stroke-width="0.5" fill="none"/>
<rect x="25.4" y="17.2" width="32" height="20.5" stroke="#d9585c" fill="none" stroke-width="1.1"/>
<rect x="30.6" y="74" width="28.6" height="29.6" stroke="#9583c4" fill="none" stroke-width="1.1"/>
<rect x="59.7" y="74.4" width="35.2" height="29.2" stroke="#a9a9b4" fill="none" stroke-width="0.8"/>
<rect x="59.7" y="44.5" width="35.2" height="29.7" stroke="#62c6cf" fill="none" stroke-width="1.1"/>
<rect x="32.3" y="41" width="27.1" height="33" stroke="#3b4cc0" fill="none" stroke-width="1.1"/>
<line x1="154.5" y1="5.5" x2="156.5" y2="5.5" stroke="#999" stroke-width="0.6"/>
<line x1="155.5" y1="10.45" x2="156.5" y2="10.45" stroke="#999" stroke-width="0.6"/>
<line x1="155.5" y1="15.4" x2="156.5" y2="15.4" stroke="#999" stroke-width="0.6"/>
<line x1="155.5" y1="20.35" x2="156.5" y2="20.35" stroke="#999" stroke-width="0.6"/>
<line x1="155.5" y1="25.3" x2="156.5" y2="25.3" stroke="#999" stroke-width="0.6"/>
<line x1="154.5" y1="30.25" x2="156.5" y2="30.25" stroke="#999" stroke-width="0.6"/>
<line x1="155.5" y1="35.2" x2="156.5" y2="35.2" stroke="#999" stroke-width="0.6"/>
<line x1="155.5" y1="40.15" x2="156.5" y2="40.15" stroke="#999" stroke-width="0.6"/>
<line x1="155.5" y1="45.1" x2="156.5" y2="45.1" stroke="#999" stroke-width="0.6"/>
<line x1="155.5" y1="50.05" x2="156.5" y2="50.05" stroke="#999" stroke-width="0.6"/>
<line x1="154.5" y1="55" x2="156.5" y2="55" stroke="#999" stroke-width="0.6"/>
<line x1="155.5" y1="59.95" x2="156.5" y2="59.95" stroke="#999" stroke-width="0.6"/>
<line x1="155.5" y1="64.9" x2="156.5" y2="64.9" stroke="#999" stroke-width="0.6"/>
<line x1="155.5" y1="69.85" x2="156.5" y2="69.85" stroke="#999" stroke-width="0.6"/>
<line x1="155.5" y1="74.8" x2="156.5" y2="74.8" stroke="#999" stroke-width="0.6"/>
<line x1="154.5" y1="79.75" x2="156.5" y2="79.75" stroke="#999" stroke-width="0.6"/>
<line x1="155.5" y1="84.7" x2="156.5" y2="84.7" stroke="#999" stroke-width="0.6"/>
<line x1="155.5" y1="89.65" x2="156.5" y2="89.65" stroke="#999" stroke-width="0.6"/>
<line x1="155.5" y1="94.6" x2="156.5" y2="94.6" stroke="#999" stroke-width="0.6"/>
<line x1="155.5" y1="99.55" x2="156.5" y2="99.55" stroke="#999" stroke-width="0.6"/>
<line x1="154.5" y1="104.5" x2="156.5" y2="104.5" stroke="#999" stroke-width="0.6"/>
<line x1="156.5" y1="104.5" x2="156.5" y2="106.5" stroke="#999" stroke-width="0.6"/>
<line x1="160.38" y1="104.5" x2="160.38" y2="105.5" stroke="#999" stroke-width="0.6"/>
<line x1="164.26" y1="104.5" x2="164.26" y2="105.5" stroke="#999" stroke-width="0.6"/>
<line x1="168.14" y1="104.5" x2="168.14" y2="105.5" stroke="#999" stroke-width="0.6"/>
<line x1="172.02" y1="104.5" x2="172.02" y2="105.5" stroke="#999" stroke-width="0.6"/>
<line x1="175.9" y1="104.5" x2="175.9" y2="106.5" stroke="#999" stroke-width="0.6"/>
<line x1="179.78" y1="104.5" x2="179.78" y2="105.5" stroke="#999" stroke-width="0.6"/>
<line x1="183.66" y1="104.5" x2="183.66" y2="105.5" stroke="#999" stroke-width="0.6"/>
<line x1="187.54" y1="104.5" x2="187.54" y2="105.5" stroke="#999" stroke-width="0.6"/>
<line x1="191.42" y1="104.5" x2="191.42" y2="105.5" stroke="#999" stroke-width="0.6"/>
<line x1="195.3" y1="104.5" x2="195.3" y2="106.5" stroke="#999" stroke-width="0.6"/>
<line x1="199.18" y1="104.5" x2="199.18" y2="105.5" stroke="#999" stroke-width="0.6"/>
<line x1="203.06" y1="104.5" x2="203.06" y2="105.5" stroke="#999" stroke-width="0.6"/>
<line x1="206.94" y1="104.5" x2="206.94" y2="105.5" stroke="#999" stroke-width="0.6"/>
<line x1="210.82" y1="104.5" x2="210.82" y2="105.5" stroke="#999" stroke-width="0.6"/>
<line x1="214.7" y1="104.5" x2="214.7" y2="106.5" stroke="#999" stroke-width="0.6"/>
<line x1="218.58" y1="104.5" x2="218.58" y2="105.5" stroke="#999" stroke-width="0.6"/>
<line x1="222.46" y1="104.5" x2="222.46" y2="105.5" stroke="#999" stroke-width="0.6"/>
<line x1="226.34" y1="104.5" x2="226.34" y2="105.5" stroke="#999" stroke-width="0.6"/>
<line x1="230.22" y1="104.5" x2="230.22" y2="105.5" stroke="#999" stroke-width="0.6"/>
<line x1="234.1" y1="104.5" x2="234.1" y2="106.5" stroke="#999" stroke-width="0.6"/>
<line x1="237.98" y1="104.5" x2="237.98" y2="105.5" stroke="#999" stroke-width="0.6"/>
<line x1="241.86" y1="104.5" x2="241.86" y2="105.5" stroke="#999" stroke-width="0.6"/>
<line x1="245.74" y1="104.5" x2="245.74" y2="105.5" stroke="#999" stroke-width="0.6"/>
<line x1="249.62" y1="104.5" x2="249.62" y2="105.5" stroke="#999" stroke-width="0.6"/>
<line x1="253.5" y1="104.5" x2="253.5" y2="106.5" stroke="#999" stroke-width="0.6"/>
<path d="M156.5 104.5 L156.5 0.5 L261.5 0.5 L261.5 104.5" stroke="#6a6a6a" fill="none" stroke-width="1"/>
<line x1="156.5" y1="104.5" x2="261.5" y2="104.5" stroke="#c8c8c8" stroke-width="0.8"/>
<path d="M157 104 L161 97.8 L164 100.7 L167 93.8 L170 95.8 L173 87.8 L175 90.8 L177 92.8 L180 85.8 L182 71.8 L184 57.9 L185.3 53.9 L187 59.9 L189 67.8 L191 75.8 L193.3 81.8 L195 79.8 L196 67.8 L197 39.9 L199 29.9 L201.3 31.9 L203 23.9 L204.5 10 L206 7 L207.3 12 L208.5 29.9 L210 41.9 L212 37.9 L214 30.9 L215.5 35.9 L217 42.9 L218.4 37.9 L220 35.9 L221 39.9 L222 51.9 L223 59.9 L224 67.8 L226 79.8 L228 91.8 L230 103.7 L232 104 L262 104" stroke="#e58a90" stroke-width="0.85" fill="none" stroke-linejoin="round"/>
<path d="M156 104 L156 99.7 L161 85.8 L165 65.8 L169 45.9 L173 21.9 L176 12 L178.5 7.6 L180 7 L182 11 L184 24 L185 40 L186.5 55.9 L188 71.8 L190 85.8 L192 97.8 L194 102.7 L196 104 L210 104" stroke="#a9cbe2" stroke-width="1.7" fill="none" stroke-linejoin="round"/>
<path d="M155.5 104 L155.5 99.7 L160.5 85.8 L164.5 65.8 L168.5 45.9 L172.5 21.9 L175.5 12 L178 7.6 L179.5 7 L181.5 11 L183.5 24 L184.5 40 L186 55.9 L187.5 71.8 L189.5 85.8 L191.5 97.8 L193.5 102.7 L195.5 104 L209.5 104" stroke="#5a6070" stroke-width="0.7" fill="none" stroke-linejoin="round" stroke-dasharray="0.8 1.2"/>
<line x1="194" y1="66.8" x2="229.8" y2="66.8" stroke="#555" stroke-width="0.9"/>
<line x1="194" y1="64.3" x2="194" y2="69.3" stroke="#555" stroke-width="0.8"/>
<line x1="229.8" y1="64.3" x2="229.8" y2="69.3" stroke="#555" stroke-width="0.8"/>
<text x="236" y="55.2" font-size="8.4" font-weight="700" text-anchor="start" fill="#000">74%</text>
<path d="M149.4 77.4 L149.4 113.4 L184.1 113.4" stroke="#000" stroke-width="1.8" fill="none" stroke-linejoin="round"/>
<path d="M146 80.8 L149.4 77.2 L152.8 80.8" stroke="#000" stroke-width="1.8" fill="none" stroke-linejoin="round"/>
<path d="M180.7 110 L184.3 113.4 L180.7 116.8" stroke="#000" stroke-width="1.8" fill="none" stroke-linejoin="round"/>
<text x="151.3" y="66.2" font-size="8.3" font-weight="700" text-anchor="middle" textLength="12.6" lengthAdjust="spacingAndGlyphs" transform="rotate(-90 151.3 66.2)">MFI</text>
<text x="188.1" y="116.6" font-size="8.3" font-weight="700" textLength="20.6" lengthAdjust="spacingAndGlyphs">CD38</text>
<line x1="21.5" y1="142.5" x2="23.5" y2="142.5" stroke="#999" stroke-width="0.6"/>
<line x1="22.5" y1="148.56" x2="23.5" y2="148.56" stroke="#999" stroke-width="0.6"/>
<line x1="22.5" y1="154.62" x2="23.5" y2="154.62" stroke="#999" stroke-width="0.6"/>
<line x1="22.5" y1="160.69" x2="23.5" y2="160.69" stroke="#999" stroke-width="0.6"/>
<line x1="22.5" y1="166.75" x2="23.5" y2="166.75" stroke="#999" stroke-width="0.6"/>
<line x1="21.5" y1="172.81" x2="23.5" y2="172.81" stroke="#999" stroke-width="0.6"/>
<line x1="22.5" y1="178.88" x2="23.5" y2="178.88" stroke="#999" stroke-width="0.6"/>
<line x1="22.5" y1="184.94" x2="23.5" y2="184.94" stroke="#999" stroke-width="0.6"/>
<line x1="22.5" y1="191" x2="23.5" y2="191" stroke="#999" stroke-width="0.6"/>
<line x1="22.5" y1="197.06" x2="23.5" y2="197.06" stroke="#999" stroke-width="0.6"/>
<line x1="21.5" y1="203.12" x2="23.5" y2="203.12" stroke="#999" stroke-width="0.6"/>
<line x1="22.5" y1="209.19" x2="23.5" y2="209.19" stroke="#999" stroke-width="0.6"/>
<line x1="22.5" y1="215.25" x2="23.5" y2="215.25" stroke="#999" stroke-width="0.6"/>
<line x1="22.5" y1="221.31" x2="23.5" y2="221.31" stroke="#999" stroke-width="0.6"/>
<line x1="22.5" y1="227.38" x2="23.5" y2="227.38" stroke="#999" stroke-width="0.6"/>
<line x1="21.5" y1="233.44" x2="23.5" y2="233.44" stroke="#999" stroke-width="0.6"/>
<line x1="22.5" y1="239.5" x2="23.5" y2="239.5" stroke="#999" stroke-width="0.6"/>
<line x1="23.5" y1="239.5" x2="23.5" y2="241.5" stroke="#999" stroke-width="0.6"/>
<line x1="28.5" y1="239.5" x2="28.5" y2="240.5" stroke="#999" stroke-width="0.6"/>
<line x1="33.5" y1="239.5" x2="33.5" y2="240.5" stroke="#999" stroke-width="0.6"/>
<line x1="38.5" y1="239.5" x2="38.5" y2="240.5" stroke="#999" stroke-width="0.6"/>
<line x1="43.5" y1="239.5" x2="43.5" y2="240.5" stroke="#999" stroke-width="0.6"/>
<line x1="48.5" y1="239.5" x2="48.5" y2="241.5" stroke="#999" stroke-width="0.6"/>
<line x1="53.5" y1="239.5" x2="53.5" y2="240.5" stroke="#999" stroke-width="0.6"/>
<line x1="58.5" y1="239.5" x2="58.5" y2="240.5" stroke="#999" stroke-width="0.6"/>
<line x1="63.5" y1="239.5" x2="63.5" y2="240.5" stroke="#999" stroke-width="0.6"/>
<line x1="68.5" y1="239.5" x2="68.5" y2="240.5" stroke="#999" stroke-width="0.6"/>
<line x1="73.5" y1="239.5" x2="73.5" y2="241.5" stroke="#999" stroke-width="0.6"/>
<line x1="78.5" y1="239.5" x2="78.5" y2="240.5" stroke="#999" stroke-width="0.6"/>
<line x1="83.5" y1="239.5" x2="83.5" y2="240.5" stroke="#999" stroke-width="0.6"/>
<line x1="88.5" y1="239.5" x2="88.5" y2="240.5" stroke="#999" stroke-width="0.6"/>
<line x1="93.5" y1="239.5" x2="93.5" y2="240.5" stroke="#999" stroke-width="0.6"/>
<line x1="98.5" y1="239.5" x2="98.5" y2="241.5" stroke="#999" stroke-width="0.6"/>
<line x1="103.5" y1="239.5" x2="103.5" y2="240.5" stroke="#999" stroke-width="0.6"/>
<line x1="108.5" y1="239.5" x2="108.5" y2="240.5" stroke="#999" stroke-width="0.6"/>
<line x1="113.5" y1="239.5" x2="113.5" y2="240.5" stroke="#999" stroke-width="0.6"/>
<line x1="118.5" y1="239.5" x2="118.5" y2="240.5" stroke="#999" stroke-width="0.6"/>
<line x1="123.5" y1="239.5" x2="123.5" y2="241.5" stroke="#999" stroke-width="0.6"/>
<rect x="23.5" y="134.5" width="106" height="105" stroke="#787878" fill="none" stroke-width="1"/>
<path d="M17.2 210.6 L17.2 246.1 L52.4 246.1" stroke="#000" stroke-width="1.8" fill="none" stroke-linejoin="round"/>
<path d="M13.8 214 L17.2 210.4 L20.6 214" stroke="#000" stroke-width="1.8" fill="none" stroke-linejoin="round"/>
<path d="M49 242.7 L52.6 246.1 L49 249.5" stroke="#000" stroke-width="1.8" fill="none" stroke-linejoin="round"/>
<text x="20.2" y="196.3" font-size="8.3" font-weight="700" text-anchor="middle" textLength="20.4" lengthAdjust="spacingAndGlyphs" transform="rotate(-90 20.2 196.3)">CD27</text>
<text x="59.6" y="248.6" font-size="8.3" font-weight="700" textLength="12.2" lengthAdjust="spacingAndGlyphs">IgD</text>
<path d="M24.91 208.63h0.9v0.9h-0.9zM26.65 187.67h0.9v0.9h-0.9zM25.1 218.87h0.9v0.9h-0.9zM27.29 190.99h0.9v0.9h-0.9zM26.17 163.49h0.9v0.9h-0.9zM24.31 176.92h0.9v0.9h-0.9zM26.47 146.89h0.9v0.9h-0.9zM27.24 163.11h0.9v0.9h-0.9zM25.16 144.21h0.9v0.9h-0.9zM27.99 213.5h0.9v0.9h-0.9zM27.54 201.28h0.9v0.9h-0.9zM24.43 172.73h0.9v0.9h-0.9zM26.14 151.52h0.9v0.9h-0.9zM27.82 176.66h0.9v0.9h-0.9zM24.87 221.34h0.9v0.9h-0.9zM24.76 232.33h0.9v0.9h-0.9zM25.98 194.92h0.9v0.9h-0.9zM25.57 188.23h0.9v0.9h-0.9zM24.99 143.7h0.9v0.9h-0.9zM27.5 163.37h0.9v0.9h-0.9zM27.19 160.75h0.9v0.9h-0.9zM27.88 228.95h0.9v0.9h-0.9zM27.09 215.9h0.9v0.9h-0.9zM26.45 212.61h0.9v0.9h-0.9zM24.75 187.39h0.9v0.9h-0.9zM27.36 160.01h0.9v0.9h-0.9zM27.72 228.31h0.9v0.9h-0.9zM25.82 176.34h0.9v0.9h-0.9zM25.97 178.38h0.9v0.9h-0.9zM27.98 178.47h0.9v0.9h-0.9zM24.4 149.28h0.9v0.9h-0.9zM26.96 238.79h0.9v0.9h-0.9zM26.14 188.91h0.9v0.9h-0.9zM26.34 214.44h0.9v0.9h-0.9zM25.12 200.59h0.9v0.9h-0.9z" fill="#444" fill-opacity="1.0"/>
<path d="M27.47 215.16h0.9v0.9h-0.9zM25.33 185.97h0.9v0.9h-0.9zM26.28 234.8h0.9v0.9h-0.9zM26.28 213.52h0.9v0.9h-0.9zM26.05 181.66h0.9v0.9h-0.9zM24.67 227.48h0.9v0.9h-0.9zM28.73 199.18h0.9v0.9h-0.9zM28.2 218.6h0.9v0.9h-0.9zM29.42 236.81h0.9v0.9h-0.9zM26.62 238.8h0.9v0.9h-0.9zM29.78 213.09h0.9v0.9h-0.9zM29.33 206.66h0.9v0.9h-0.9zM26.44 190.94h0.9v0.9h-0.9zM29.29 185.47h0.9v0.9h-0.9zM24.7 226.94h0.9v0.9h-0.9zM28.71 206.16h0.9v0.9h-0.9zM29.07 178.37h0.9v0.9h-0.9zM25.77 193.7h0.9v0.9h-0.9zM26.69 186.01h0.9v0.9h-0.9zM24.7 196.81h0.9v0.9h-0.9zM29.43 238.43h0.9v0.9h-0.9zM28.55 205.89h0.9v0.9h-0.9zM25.74 236.85h0.9v0.9h-0.9zM27.3 222h0.9v0.9h-0.9zM24.46 188.68h0.9v0.9h-0.9zM29.08 226.29h0.9v0.9h-0.9zM29.32 213.79h0.9v0.9h-0.9zM26.73 212.48h0.9v0.9h-0.9zM29.14 194.86h0.9v0.9h-0.9zM27.35 192.8h0.9v0.9h-0.9zM28.68 175.66h0.9v0.9h-0.9zM28.21 236.53h0.9v0.9h-0.9zM24.43 213.29h0.9v0.9h-0.9zM27.97 229.93h0.9v0.9h-0.9zM27.63 191.59h0.9v0.9h-0.9zM26.61 236.84h0.9v0.9h-0.9zM29.46 183.61h0.9v0.9h-0.9zM24.84 181.06h0.9v0.9h-0.9zM24.44 203.82h0.9v0.9h-0.9zM25.1 230.94h0.9v0.9h-0.9zM28.04 183.16h0.9v0.9h-0.9zM27.37 195.92h0.9v0.9h-0.9zM27.12 189.16h0.9v0.9h-0.9zM25.25 186.86h0.9v0.9h-0.9zM26.45 220.79h0.9v0.9h-0.9zM27.44 177.98h0.9v0.9h-0.9zM28.35 231.36h0.9v0.9h-0.9zM28.71 226h0.9v0.9h-0.9zM24.34 204.92h0.9v0.9h-0.9zM24.66 224.27h0.9v0.9h-0.9zM25.3 220.89h0.9v0.9h-0.9zM25.74 219.94h0.9v0.9h-0.9zM26.09 177.7h0.9v0.9h-0.9zM26.52 194.96h0.9v0.9h-0.9zM29.43 194.03h0.9v0.9h-0.9zM27.17 210.43h0.9v0.9h-0.9zM29.7 181.36h0.9v0.9h-0.9zM27.73 207.78h0.9v0.9h-0.9zM28.49 237.38h0.9v0.9h-0.9zM26.07 220.11h0.9v0.9h-0.9zM27.3 211.16h0.9v0.9h-0.9zM24.66 227.55h0.9v0.9h-0.9zM29.87 197.91h0.9v0.9h-0.9zM26.11 239.06h0.9v0.9h-0.9zM24.91 179.91h0.9v0.9h-0.9zM24.72 227.52h0.9v0.9h-0.9zM28.63 203.9h0.9v0.9h-0.9zM27.84 176.28h0.9v0.9h-0.9zM27.97 203.55h0.9v0.9h-0.9zM27.25 200.12h0.9v0.9h-0.9zM26.59 189.54h0.9v0.9h-0.9zM24.58 202.99h0.9v0.9h-0.9zM25.71 220.42h0.9v0.9h-0.9zM28.96 221.68h0.9v0.9h-0.9zM26.9 190.25h0.9v0.9h-0.9zM26.5 206.4h0.9v0.9h-0.9zM27.9 237.12h0.9v0.9h-0.9zM24.79 205.94h0.9v0.9h-0.9zM27.1 221.26h0.9v0.9h-0.9zM29.38 225.28h0.9v0.9h-0.9zM27.87 223.92h0.9v0.9h-0.9zM28.11 230.4h0.9v0.9h-0.9zM28.28 219.05h0.9v0.9h-0.9zM25.7 234.13h0.9v0.9h-0.9zM26.5 214.65h0.9v0.9h-0.9zM29 237.16h0.9v0.9h-0.9zM29.94 175.41h0.9v0.9h-0.9zM26.08 195.11h0.9v0.9h-0.9zM26.53 184.38h0.9v0.9h-0.9zM27.45 180.13h0.9v0.9h-0.9z" fill="#000" fill-opacity="1.0"/>
<path d="M38.17 234.5h0.9v0.9h-0.9zM50.04 204.67h0.9v0.9h-0.9zM32.92 235.27h0.9v0.9h-0.9zM49.01 188.76h0.9v0.9h-0.9zM39.05 215.78h0.9v0.9h-0.9zM48.4 192.17h0.9v0.9h-0.9zM55.68 195.97h0.9v0.9h-0.9zM36.86 228.41h0.9v0.9h-0.9zM34.14 218.23h0.9v0.9h-0.9zM35.4 213.07h0.9v0.9h-0.9zM37.49 199.5h0.9v0.9h-0.9zM55.4 204.95h0.9v0.9h-0.9zM41.8 214.26h0.9v0.9h-0.9zM37.58 186.81h0.9v0.9h-0.9zM40.39 192.89h0.9v0.9h-0.9zM35.09 235.57h0.9v0.9h-0.9zM30.93 226.25h0.9v0.9h-0.9zM55.24 219.69h0.9v0.9h-0.9zM30.51 207.07h0.9v0.9h-0.9zM31.06 213.69h0.9v0.9h-0.9zM48.91 190.89h0.9v0.9h-0.9zM30.21 209.75h0.9v0.9h-0.9zM32.55 195.16h0.9v0.9h-0.9zM42.26 231.46h0.9v0.9h-0.9zM39.99 184.37h0.9v0.9h-0.9zM51.38 226.99h0.9v0.9h-0.9zM44.29 179.05h0.9v0.9h-0.9zM35.06 200.98h0.9v0.9h-0.9zM44.9 189.96h0.9v0.9h-0.9zM51.66 228.3h0.9v0.9h-0.9zM54.98 230.78h0.9v0.9h-0.9zM30.48 212.09h0.9v0.9h-0.9zM32.17 231.78h0.9v0.9h-0.9zM50.17 223.08h0.9v0.9h-0.9zM35.08 179.7h0.9v0.9h-0.9zM52.01 213.6h0.9v0.9h-0.9zM46.75 205.21h0.9v0.9h-0.9zM51.6 196.96h0.9v0.9h-0.9zM37.28 197.89h0.9v0.9h-0.9zM38.05 214.88h0.9v0.9h-0.9zM54.03 180.4h0.9v0.9h-0.9zM31.83 207.73h0.9v0.9h-0.9zM48.31 187.77h0.9v0.9h-0.9zM37.29 179.64h0.9v0.9h-0.9zM31 206.69h0.9v0.9h-0.9zM48.38 216.5h0.9v0.9h-0.9zM34.27 182.45h0.9v0.9h-0.9zM55.13 209.39h0.9v0.9h-0.9zM41.03 218.83h0.9v0.9h-0.9zM49.65 208.52h0.9v0.9h-0.9zM32.11 227.29h0.9v0.9h-0.9zM35.77 178.51h0.9v0.9h-0.9zM39.51 209.02h0.9v0.9h-0.9zM46.96 186.79h0.9v0.9h-0.9zM49.16 206.62h0.9v0.9h-0.9zM34.37 228.76h0.9v0.9h-0.9zM51.78 232.19h0.9v0.9h-0.9zM48.35 189.47h0.9v0.9h-0.9zM51 231.97h0.9v0.9h-0.9zM44.4 232.33h0.9v0.9h-0.9z" fill="#000" fill-opacity="1.0"/>
<path d="M64.39 199.64h1.0v1.0h-1.0zM69.75 202.57h1.0v1.0h-1.0zM73.29 202.24h1.0v1.0h-1.0zM58.74 195.35h1.0v1.0h-1.0zM60.74 198.12h1.0v1.0h-1.0zM65.88 198.96h1.0v1.0h-1.0zM57.55 200.71h1.0v1.0h-1.0zM59.58 191.94h1.0v1.0h-1.0zM65.91 200.2h1.0v1.0h-1.0zM73.19 202.48h1.0v1.0h-1.0zM66.03 194.79h1.0v1.0h-1.0zM68.29 196.45h1.0v1.0h-1.0zM57.75 203.95h1.0v1.0h-1.0zM69.32 203.54h1.0v1.0h-1.0zM72.47 202.06h1.0v1.0h-1.0zM70.95 198.98h1.0v1.0h-1.0zM69.11 207.55h1.0v1.0h-1.0zM61.14 191.68h1.0v1.0h-1.0zM72.42 203.73h1.0v1.0h-1.0zM64.78 204.02h1.0v1.0h-1.0zM67.5 196.51h1.0v1.0h-1.0zM65.18 199.95h1.0v1.0h-1.0zM69.57 201.28h1.0v1.0h-1.0zM75.17 202.48h1.0v1.0h-1.0zM73.42 203.33h1.0v1.0h-1.0zM74.8 205.35h1.0v1.0h-1.0zM58.62 193.34h1.0v1.0h-1.0zM61.58 191.26h1.0v1.0h-1.0zM67.45 201.69h1.0v1.0h-1.0zM61.58 201.14h1.0v1.0h-1.0zM64.04 200.37h1.0v1.0h-1.0zM59.59 205.14h1.0v1.0h-1.0zM72.22 199.25h1.0v1.0h-1.0zM66.32 197.31h1.0v1.0h-1.0zM70.36 200.1h1.0v1.0h-1.0zM64.68 194.14h1.0v1.0h-1.0zM72.85 200.1h1.0v1.0h-1.0zM66.6 197.58h1.0v1.0h-1.0zM61.69 203.26h1.0v1.0h-1.0zM57.42 200.25h1.0v1.0h-1.0zM69.32 199.01h1.0v1.0h-1.0zM58.82 197.1h1.0v1.0h-1.0zM60.47 203.46h1.0v1.0h-1.0zM63.87 193.76h1.0v1.0h-1.0zM60.92 190.12h1.0v1.0h-1.0zM70.11 204.46h1.0v1.0h-1.0zM65.51 202.67h1.0v1.0h-1.0zM61.27 201.41h1.0v1.0h-1.0zM62.09 199.35h1.0v1.0h-1.0zM59.02 191.2h1.0v1.0h-1.0zM69.11 203.85h1.0v1.0h-1.0zM67.93 200.67h1.0v1.0h-1.0zM57.19 193.23h1.0v1.0h-1.0zM63.68 205.82h1.0v1.0h-1.0zM64.51 203.17h1.0v1.0h-1.0zM57.72 197.27h1.0v1.0h-1.0zM75.72 202.89h1.0v1.0h-1.0zM72.11 197.93h1.0v1.0h-1.0zM60.44 194.02h1.0v1.0h-1.0zM70.94 200.51h1.0v1.0h-1.0zM65.18 203.5h1.0v1.0h-1.0zM58.12 192.92h1.0v1.0h-1.0zM58.9 193.69h1.0v1.0h-1.0zM73.65 202.52h1.0v1.0h-1.0zM60.14 193.35h1.0v1.0h-1.0zM59.35 200.64h1.0v1.0h-1.0zM64.86 204.82h1.0v1.0h-1.0zM65.93 201.23h1.0v1.0h-1.0zM61.17 197.19h1.0v1.0h-1.0zM63.39 193.8h1.0v1.0h-1.0zM60.92 205.82h1.0v1.0h-1.0zM57.67 191.41h1.0v1.0h-1.0zM69.48 204.14h1.0v1.0h-1.0zM63.9 205.36h1.0v1.0h-1.0zM71.26 202.9h1.0v1.0h-1.0zM71.19 206.87h1.0v1.0h-1.0zM64.98 207.11h1.0v1.0h-1.0zM60.51 195.15h1.0v1.0h-1.0zM62.61 203.36h1.0v1.0h-1.0zM69.86 202.32h1.0v1.0h-1.0zM73.59 204.97h1.0v1.0h-1.0zM75.77 203.96h1.0v1.0h-1.0zM66.04 200.68h1.0v1.0h-1.0zM57.08 188.91h1.0v1.0h-1.0zM66.54 202.72h1.0v1.0h-1.0zM58.02 200.12h1.0v1.0h-1.0zM59.34 197.51h1.0v1.0h-1.0zM63.21 196.19h1.0v1.0h-1.0zM65.23 202.01h1.0v1.0h-1.0zM59.43 194.19h1.0v1.0h-1.0zM71.74 204.2h1.0v1.0h-1.0zM71.74 204.43h1.0v1.0h-1.0zM59.84 194.11h1.0v1.0h-1.0zM70.28 203.86h1.0v1.0h-1.0zM62.85 203.14h1.0v1.0h-1.0zM57.08 194.01h1.0v1.0h-1.0zM60.5 194.12h1.0v1.0h-1.0zM69.04 198.42h1.0v1.0h-1.0zM74.84 204.45h1.0v1.0h-1.0zM62.31 191.46h1.0v1.0h-1.0zM65.32 203.31h1.0v1.0h-1.0zM74.95 202.37h1.0v1.0h-1.0zM63.75 193.27h1.0v1.0h-1.0zM66.1 205.01h1.0v1.0h-1.0zM77.26 205.92h1.0v1.0h-1.0zM66.68 201.27h1.0v1.0h-1.0zM69.93 207.22h1.0v1.0h-1.0zM75.49 205.78h1.0v1.0h-1.0zM58.78 201.72h1.0v1.0h-1.0zM67.22 205.73h1.0v1.0h-1.0zM60.5 198.31h1.0v1.0h-1.0zM59.53 203.57h1.0v1.0h-1.0zM70.34 199.98h1.0v1.0h-1.0zM58.32 206.59h1.0v1.0h-1.0zM66.26 202.45h1.0v1.0h-1.0zM60.92 193.14h1.0v1.0h-1.0zM58.44 205.78h1.0v1.0h-1.0zM60.35 195.47h1.0v1.0h-1.0zM63.58 192.39h1.0v1.0h-1.0zM64.4 198.07h1.0v1.0h-1.0zM59.44 197.98h1.0v1.0h-1.0zM58.07 188.63h1.0v1.0h-1.0zM61.25 191.95h1.0v1.0h-1.0zM64.17 193h1.0v1.0h-1.0zM74.57 200.55h1.0v1.0h-1.0zM66.94 202.89h1.0v1.0h-1.0zM69.93 202.36h1.0v1.0h-1.0zM68.22 202.5h1.0v1.0h-1.0zM70.29 206.11h1.0v1.0h-1.0zM62.55 200.83h1.0v1.0h-1.0zM62.4 204.83h1.0v1.0h-1.0zM70.51 199.95h1.0v1.0h-1.0zM59.43 193.04h1.0v1.0h-1.0zM68.29 201.35h1.0v1.0h-1.0zM67.72 198.42h1.0v1.0h-1.0zM61.98 195.86h1.0v1.0h-1.0zM65.81 201.09h1.0v1.0h-1.0zM57.32 193.01h1.0v1.0h-1.0zM69.32 205.41h1.0v1.0h-1.0zM58.25 194.46h1.0v1.0h-1.0zM64.86 194.03h1.0v1.0h-1.0zM71.26 206.71h1.0v1.0h-1.0zM61.92 190.83h1.0v1.0h-1.0zM64.03 203.41h1.0v1.0h-1.0zM61.76 202.88h1.0v1.0h-1.0zM60.63 199.26h1.0v1.0h-1.0zM72.14 200.88h1.0v1.0h-1.0zM58.77 206.71h1.0v1.0h-1.0zM60.54 195.18h1.0v1.0h-1.0zM57.88 190.42h1.0v1.0h-1.0zM60.91 199.07h1.0v1.0h-1.0zM65.48 206.83h1.0v1.0h-1.0zM64.2 200.84h1.0v1.0h-1.0zM61.3 197.59h1.0v1.0h-1.0zM60.77 189.33h1.0v1.0h-1.0zM65 200.45h1.0v1.0h-1.0zM68.53 203.39h1.0v1.0h-1.0zM64.51 197.27h1.0v1.0h-1.0zM65.37 200.52h1.0v1.0h-1.0zM74.14 202.69h1.0v1.0h-1.0zM75.57 203.51h1.0v1.0h-1.0zM65.64 200.27h1.0v1.0h-1.0zM58.14 203.36h1.0v1.0h-1.0zM73.4 206.03h1.0v1.0h-1.0zM64.19 206.48h1.0v1.0h-1.0zM64.61 203.24h1.0v1.0h-1.0zM66.37 206.81h1.0v1.0h-1.0zM58.89 192.65h1.0v1.0h-1.0zM70.95 205.69h1.0v1.0h-1.0zM62.45 203.12h1.0v1.0h-1.0z" fill="#111" fill-opacity="1.0"/>
<path d="M79.61 199.01h0.9v0.9h-0.9zM75.74 205.36h0.9v0.9h-0.9zM84.51 196.79h0.9v0.9h-0.9zM89.12 206.37h0.9v0.9h-0.9zM75.81 197.07h0.9v0.9h-0.9zM68.36 194.7h0.9v0.9h-0.9zM67.77 192.86h0.9v0.9h-0.9zM78.77 200.16h0.9v0.9h-0.9zM82.6 199.65h0.9v0.9h-0.9zM87.81 201.69h0.9v0.9h-0.9zM75.58 196.51h0.9v0.9h-0.9zM71.67 196.35h0.9v0.9h-0.9zM75.38 201.12h0.9v0.9h-0.9zM77.45 200.02h0.9v0.9h-0.9zM70.82 202h0.9v0.9h-0.9zM81.88 205.47h0.9v0.9h-0.9zM78.26 194.59h0.9v0.9h-0.9zM82.83 195.21h0.9v0.9h-0.9zM78.73 192.87h0.9v0.9h-0.9zM85.76 196.61h0.9v0.9h-0.9zM76.64 203.44h0.9v0.9h-0.9zM81.43 203.29h0.9v0.9h-0.9zM84.23 195.9h0.9v0.9h-0.9zM75.28 203.33h0.9v0.9h-0.9zM69.02 198.26h0.9v0.9h-0.9zM79.74 204.47h0.9v0.9h-0.9zM68.83 201.31h0.9v0.9h-0.9zM68.08 192.67h0.9v0.9h-0.9zM75.36 201.01h0.9v0.9h-0.9zM79.92 206.12h0.9v0.9h-0.9zM75.44 194.4h0.9v0.9h-0.9zM69.3 190.69h0.9v0.9h-0.9zM80.02 201.18h0.9v0.9h-0.9zM79.78 193.43h0.9v0.9h-0.9zM88.37 204.51h0.9v0.9h-0.9zM70.79 204.7h0.9v0.9h-0.9zM65.65 195.91h0.9v0.9h-0.9zM73.73 206.24h0.9v0.9h-0.9zM70.36 196.56h0.9v0.9h-0.9zM71.54 199.35h0.9v0.9h-0.9zM76.8 200.81h0.9v0.9h-0.9zM78.18 196.93h0.9v0.9h-0.9zM80.09 195.35h0.9v0.9h-0.9zM78.96 199.76h0.9v0.9h-0.9zM80.84 197.71h0.9v0.9h-0.9zM76.7 204.13h0.9v0.9h-0.9zM76.53 197.41h0.9v0.9h-0.9zM86.44 198.8h0.9v0.9h-0.9zM88.47 206.64h0.9v0.9h-0.9zM73.94 194.51h0.9v0.9h-0.9zM75.18 201.45h0.9v0.9h-0.9zM82.37 195.85h0.9v0.9h-0.9zM74.22 201.82h0.9v0.9h-0.9zM75.56 203.81h0.9v0.9h-0.9zM76.34 206.58h0.9v0.9h-0.9zM84.77 202.27h0.9v0.9h-0.9zM75.73 200.36h0.9v0.9h-0.9zM72.55 191.3h0.9v0.9h-0.9zM86.77 203.73h0.9v0.9h-0.9zM83.47 204.61h0.9v0.9h-0.9zM77.42 206.91h0.9v0.9h-0.9zM75.25 206.67h0.9v0.9h-0.9zM77.99 203.91h0.9v0.9h-0.9zM76.58 203.43h0.9v0.9h-0.9zM72.47 201.51h0.9v0.9h-0.9zM84.3 200.2h0.9v0.9h-0.9zM81.46 205.72h0.9v0.9h-0.9zM73.13 200.57h0.9v0.9h-0.9zM64.16 190.29h0.9v0.9h-0.9zM75.73 200.41h0.9v0.9h-0.9zM83.86 204.42h0.9v0.9h-0.9zM80.06 195.86h0.9v0.9h-0.9zM83.86 195.28h0.9v0.9h-0.9zM79.46 200.65h0.9v0.9h-0.9zM64.69 193.01h0.9v0.9h-0.9z" fill="#222" fill-opacity="1.0"/>
<path d="M69.79 190.1h0.9v0.9h-0.9zM81.65 186.27h0.9v0.9h-0.9zM76.45 191.66h0.9v0.9h-0.9zM68.07 196.99h0.9v0.9h-0.9zM72.32 206.43h0.9v0.9h-0.9zM62.27 204.17h0.9v0.9h-0.9zM79.03 191.85h0.9v0.9h-0.9zM60.57 197.11h0.9v0.9h-0.9zM84.51 188.79h0.9v0.9h-0.9zM81.51 193.89h0.9v0.9h-0.9zM60.98 203.06h0.9v0.9h-0.9zM68.29 192.45h0.9v0.9h-0.9zM83.13 203.53h0.9v0.9h-0.9zM86.18 189.29h0.9v0.9h-0.9zM85.96 183.28h0.9v0.9h-0.9zM76.21 191.11h0.9v0.9h-0.9zM86.58 199.22h0.9v0.9h-0.9zM79.75 201.7h0.9v0.9h-0.9zM69.47 191.43h0.9v0.9h-0.9zM61.39 188.82h0.9v0.9h-0.9zM64.58 199.48h0.9v0.9h-0.9zM62.27 204.62h0.9v0.9h-0.9zM77.81 191.49h0.9v0.9h-0.9zM61.94 191.5h0.9v0.9h-0.9zM76.61 183.03h0.9v0.9h-0.9zM90.23 189.1h0.9v0.9h-0.9zM72.34 186.98h0.9v0.9h-0.9zM70.31 186.74h0.9v0.9h-0.9zM86.18 181.01h0.9v0.9h-0.9zM70.04 195.73h0.9v0.9h-0.9z" fill="#333" fill-opacity="1.0"/>
<path d="M74.87 221.02h1.0v1.0h-1.0zM69.86 227.53h1.0v1.0h-1.0zM77.24 231.64h1.0v1.0h-1.0zM78.99 221.44h1.0v1.0h-1.0zM75.71 217.27h1.0v1.0h-1.0zM72.79 228.93h1.0v1.0h-1.0zM60.15 232.22h1.0v1.0h-1.0zM62.73 231.4h1.0v1.0h-1.0zM76.24 215.69h1.0v1.0h-1.0zM79.42 221.38h1.0v1.0h-1.0zM77.88 232.24h1.0v1.0h-1.0zM61.07 236.54h1.0v1.0h-1.0zM70.42 233.47h1.0v1.0h-1.0zM68.77 209.36h1.0v1.0h-1.0zM70.27 233.27h1.0v1.0h-1.0zM67.04 232.55h1.0v1.0h-1.0zM69.01 236.42h1.0v1.0h-1.0zM71 230.84h1.0v1.0h-1.0zM58.19 233.76h1.0v1.0h-1.0zM69.93 237.02h1.0v1.0h-1.0zM77.72 216.56h1.0v1.0h-1.0zM72.68 229.5h1.0v1.0h-1.0zM74.7 235.23h1.0v1.0h-1.0zM73.28 222.09h1.0v1.0h-1.0zM73.76 221.77h1.0v1.0h-1.0zM77.23 226.52h1.0v1.0h-1.0zM71 211.14h1.0v1.0h-1.0zM73.68 220.76h1.0v1.0h-1.0zM74.31 219.91h1.0v1.0h-1.0zM78.72 215.61h1.0v1.0h-1.0zM75.4 212.31h1.0v1.0h-1.0zM69.94 237.17h1.0v1.0h-1.0zM60.26 236.78h1.0v1.0h-1.0zM79.27 221.54h1.0v1.0h-1.0zM74.56 231.19h1.0v1.0h-1.0zM72.5 223.83h1.0v1.0h-1.0zM63.05 235.27h1.0v1.0h-1.0zM64.2 234.67h1.0v1.0h-1.0zM62.75 233.42h1.0v1.0h-1.0zM76.87 236.46h1.0v1.0h-1.0zM70.97 235.41h1.0v1.0h-1.0zM77.69 227.9h1.0v1.0h-1.0zM65.55 232.18h1.0v1.0h-1.0zM70.16 233.72h1.0v1.0h-1.0zM77.62 230.46h1.0v1.0h-1.0zM75.47 211.98h1.0v1.0h-1.0zM74.97 215.43h1.0v1.0h-1.0zM71.61 235.44h1.0v1.0h-1.0zM77.66 213.92h1.0v1.0h-1.0zM79.48 222.2h1.0v1.0h-1.0zM71.33 232.51h1.0v1.0h-1.0zM76.11 220.57h1.0v1.0h-1.0zM68.13 231.45h1.0v1.0h-1.0zM77.16 234.17h1.0v1.0h-1.0zM76.21 218.51h1.0v1.0h-1.0zM68.06 237.47h1.0v1.0h-1.0zM73.22 234.7h1.0v1.0h-1.0zM66.96 235.7h1.0v1.0h-1.0zM72.2 230.66h1.0v1.0h-1.0zM68.45 232.39h1.0v1.0h-1.0zM75.46 224.93h1.0v1.0h-1.0zM58.28 236.5h1.0v1.0h-1.0zM77.3 220.88h1.0v1.0h-1.0zM74.84 213h1.0v1.0h-1.0zM76.9 218.91h1.0v1.0h-1.0zM78.08 217.65h1.0v1.0h-1.0zM76.2 212.11h1.0v1.0h-1.0zM72.85 236.19h1.0v1.0h-1.0zM76.09 214.97h1.0v1.0h-1.0zM70.22 235.98h1.0v1.0h-1.0zM63.96 232.39h1.0v1.0h-1.0zM73.67 211.32h1.0v1.0h-1.0zM76.54 212.95h1.0v1.0h-1.0zM77.73 231.41h1.0v1.0h-1.0zM72.89 212.05h1.0v1.0h-1.0zM78.51 221.31h1.0v1.0h-1.0zM69.33 233.3h1.0v1.0h-1.0zM73.79 237.48h1.0v1.0h-1.0zM75.34 221.43h1.0v1.0h-1.0zM75.48 221.52h1.0v1.0h-1.0zM66.93 232.95h1.0v1.0h-1.0zM65.8 236.25h1.0v1.0h-1.0zM75.14 235.03h1.0v1.0h-1.0zM76.58 220.79h1.0v1.0h-1.0zM69.84 232.33h1.0v1.0h-1.0zM68.58 237.31h1.0v1.0h-1.0zM72.74 235.21h1.0v1.0h-1.0zM73.45 210.66h1.0v1.0h-1.0zM70.56 226.7h1.0v1.0h-1.0zM75.25 213.21h1.0v1.0h-1.0zM66.57 233.98h1.0v1.0h-1.0zM66.72 234.09h1.0v1.0h-1.0zM76.06 224.64h1.0v1.0h-1.0zM79.01 216.18h1.0v1.0h-1.0zM74.11 228.52h1.0v1.0h-1.0zM77.58 225.77h1.0v1.0h-1.0zM60.43 231.66h1.0v1.0h-1.0zM70.68 235.95h1.0v1.0h-1.0zM73.37 226.9h1.0v1.0h-1.0zM76.96 224.1h1.0v1.0h-1.0zM62.51 233.5h1.0v1.0h-1.0zM73.65 213.1h1.0v1.0h-1.0zM68.14 233.26h1.0v1.0h-1.0zM77.05 229.77h1.0v1.0h-1.0zM77 225.25h1.0v1.0h-1.0zM78.86 224.15h1.0v1.0h-1.0zM76.26 235.16h1.0v1.0h-1.0zM74.62 235.91h1.0v1.0h-1.0zM75.67 222.29h1.0v1.0h-1.0zM59.08 235.43h1.0v1.0h-1.0zM75.76 234.87h1.0v1.0h-1.0zM75.09 221.7h1.0v1.0h-1.0zM70.4 209.24h1.0v1.0h-1.0zM68.06 232.86h1.0v1.0h-1.0zM73.76 231.89h1.0v1.0h-1.0zM75.51 223.07h1.0v1.0h-1.0zM74.25 237.47h1.0v1.0h-1.0zM73.44 212.59h1.0v1.0h-1.0zM73.29 231.77h1.0v1.0h-1.0zM69.83 226.95h1.0v1.0h-1.0zM76.97 222.43h1.0v1.0h-1.0zM73.55 213.42h1.0v1.0h-1.0zM76.4 225.12h1.0v1.0h-1.0zM76.15 221.47h1.0v1.0h-1.0zM68.52 232.62h1.0v1.0h-1.0zM70.22 237.3h1.0v1.0h-1.0zM72.01 237.26h1.0v1.0h-1.0zM74.57 236.35h1.0v1.0h-1.0zM78.5 223.84h1.0v1.0h-1.0zM69.94 230.11h1.0v1.0h-1.0zM70.61 233.76h1.0v1.0h-1.0zM78.23 223.61h1.0v1.0h-1.0zM73.85 221.34h1.0v1.0h-1.0zM75.71 232.91h1.0v1.0h-1.0zM72.04 216.34h1.0v1.0h-1.0zM79.36 228.63h1.0v1.0h-1.0zM74.33 211.74h1.0v1.0h-1.0zM72.97 214.32h1.0v1.0h-1.0zM69.55 227.37h1.0v1.0h-1.0zM73.69 225.73h1.0v1.0h-1.0zM58.97 234.46h1.0v1.0h-1.0zM69.96 209.93h1.0v1.0h-1.0zM69.88 227.32h1.0v1.0h-1.0zM74.46 216.8h1.0v1.0h-1.0zM76.17 214.02h1.0v1.0h-1.0zM68.51 234.61h1.0v1.0h-1.0zM72.6 216.53h1.0v1.0h-1.0zM74.53 219.12h1.0v1.0h-1.0zM76.42 228.74h1.0v1.0h-1.0zM76.28 223.94h1.0v1.0h-1.0zM79.01 227.97h1.0v1.0h-1.0zM63.73 233.38h1.0v1.0h-1.0zM75.47 221.43h1.0v1.0h-1.0zM74.96 232.8h1.0v1.0h-1.0zM77.97 214.86h1.0v1.0h-1.0zM72.23 211.85h1.0v1.0h-1.0zM72.16 236.64h1.0v1.0h-1.0zM75.14 232.58h1.0v1.0h-1.0zM71.38 236.78h1.0v1.0h-1.0zM73.24 214.13h1.0v1.0h-1.0zM68.18 230.49h1.0v1.0h-1.0zM59.55 233.33h1.0v1.0h-1.0zM72.95 216.11h1.0v1.0h-1.0zM78.46 230.12h1.0v1.0h-1.0zM68.65 232.24h1.0v1.0h-1.0zM63.74 232.29h1.0v1.0h-1.0zM63.6 232.25h1.0v1.0h-1.0zM67.19 234.83h1.0v1.0h-1.0zM66.47 232.77h1.0v1.0h-1.0zM74.55 219.39h1.0v1.0h-1.0zM75.14 225.95h1.0v1.0h-1.0zM78.04 224.75h1.0v1.0h-1.0zM68.55 230.98h1.0v1.0h-1.0zM77.29 235.78h1.0v1.0h-1.0zM71.73 210.7h1.0v1.0h-1.0zM73.06 235.35h1.0v1.0h-1.0zM73.14 217.79h1.0v1.0h-1.0zM60.86 233.4h1.0v1.0h-1.0zM70.18 209.44h1.0v1.0h-1.0zM75.9 212.48h1.0v1.0h-1.0zM74.65 211.82h1.0v1.0h-1.0zM75.97 230.94h1.0v1.0h-1.0zM77.4 219.86h1.0v1.0h-1.0zM71.88 232.61h1.0v1.0h-1.0zM73.27 215.11h1.0v1.0h-1.0zM75.94 233.06h1.0v1.0h-1.0zM74.1 221.29h1.0v1.0h-1.0zM78.29 224.3h1.0v1.0h-1.0zM70.2 209.12h1.0v1.0h-1.0zM72.47 236.53h1.0v1.0h-1.0zM76.31 210.83h1.0v1.0h-1.0zM75.72 209.75h1.0v1.0h-1.0zM79.22 230.46h1.0v1.0h-1.0zM72.47 220.12h1.0v1.0h-1.0zM74.52 224.15h1.0v1.0h-1.0zM68.04 231.88h1.0v1.0h-1.0zM78.68 216.6h1.0v1.0h-1.0zM63.67 237.43h1.0v1.0h-1.0zM67.72 231.73h1.0v1.0h-1.0zM74.8 235.55h1.0v1.0h-1.0zM78.53 216.28h1.0v1.0h-1.0zM75.13 228.66h1.0v1.0h-1.0zM71.77 222.7h1.0v1.0h-1.0zM78.25 224.9h1.0v1.0h-1.0zM73.85 221.85h1.0v1.0h-1.0zM69.54 227.78h1.0v1.0h-1.0zM71.04 229.82h1.0v1.0h-1.0zM67.54 235.04h1.0v1.0h-1.0zM74.89 223.19h1.0v1.0h-1.0zM70.55 231.92h1.0v1.0h-1.0zM78.21 233.68h1.0v1.0h-1.0zM69.88 228.88h1.0v1.0h-1.0zM76.1 224.19h1.0v1.0h-1.0zM71.43 226.34h1.0v1.0h-1.0zM70.55 229.87h1.0v1.0h-1.0zM73.11 234.99h1.0v1.0h-1.0zM65.76 231.81h1.0v1.0h-1.0zM77.56 224.63h1.0v1.0h-1.0zM70.23 227.85h1.0v1.0h-1.0zM76.73 217.78h1.0v1.0h-1.0zM75.3 229.24h1.0v1.0h-1.0zM77.31 212.59h1.0v1.0h-1.0zM71.79 225.5h1.0v1.0h-1.0zM75.74 231.09h1.0v1.0h-1.0zM75.97 212.47h1.0v1.0h-1.0zM73.91 234.59h1.0v1.0h-1.0zM72.64 236.38h1.0v1.0h-1.0zM69 235.55h1.0v1.0h-1.0zM78.17 229.15h1.0v1.0h-1.0zM75.43 235.16h1.0v1.0h-1.0zM72.53 219.8h1.0v1.0h-1.0zM77.9 231.88h1.0v1.0h-1.0zM70.55 226.34h1.0v1.0h-1.0zM72.4 235.76h1.0v1.0h-1.0zM74.92 214.81h1.0v1.0h-1.0zM72.74 227.1h1.0v1.0h-1.0zM78.56 232.95h1.0v1.0h-1.0zM64.39 235.4h1.0v1.0h-1.0zM74.86 235.05h1.0v1.0h-1.0zM71.36 230.53h1.0v1.0h-1.0zM75.18 228.46h1.0v1.0h-1.0zM67.14 233.88h1.0v1.0h-1.0zM76.4 228.58h1.0v1.0h-1.0zM66.47 232.8h1.0v1.0h-1.0zM77.81 228.02h1.0v1.0h-1.0zM68.43 231.07h1.0v1.0h-1.0zM76.24 224h1.0v1.0h-1.0zM71.33 224.7h1.0v1.0h-1.0zM73.61 228.78h1.0v1.0h-1.0zM58.23 236.61h1.0v1.0h-1.0zM73.92 230.62h1.0v1.0h-1.0zM72.82 231.97h1.0v1.0h-1.0zM68.43 235.27h1.0v1.0h-1.0zM77.54 235.54h1.0v1.0h-1.0zM74.03 221.07h1.0v1.0h-1.0zM79.3 225.16h1.0v1.0h-1.0zM73.21 225.06h1.0v1.0h-1.0zM75.2 218.19h1.0v1.0h-1.0zM63.9 233.41h1.0v1.0h-1.0zM78.41 227.89h1.0v1.0h-1.0z" fill="#000" fill-opacity="1.0"/>
<path d="M73.47 232.98h1.0v1.0h-1.0zM75.28 210.53h1.0v1.0h-1.0zM76.11 221.12h1.0v1.0h-1.0zM70.23 208.71h1.0v1.0h-1.0zM72.85 216.13h1.0v1.0h-1.0zM78.12 235.96h1.0v1.0h-1.0zM60.03 232.86h1.0v1.0h-1.0zM72.14 221.03h1.0v1.0h-1.0zM79.31 230.73h1.0v1.0h-1.0zM77.79 227.02h1.0v1.0h-1.0zM80.64 233.54h1.0v1.0h-1.0zM69.9 227.85h1.0v1.0h-1.0zM76.54 215.7h1.0v1.0h-1.0zM72.47 216.56h1.0v1.0h-1.0zM75.58 217.16h1.0v1.0h-1.0zM80.14 228.77h1.0v1.0h-1.0zM75.22 212.2h1.0v1.0h-1.0zM68.03 232.01h1.0v1.0h-1.0zM74.46 213.88h1.0v1.0h-1.0zM76.03 213.22h1.0v1.0h-1.0zM63.08 234.09h1.0v1.0h-1.0zM77.18 211.59h1.0v1.0h-1.0zM73.17 235.19h1.0v1.0h-1.0zM62.7 230.03h1.0v1.0h-1.0zM75.02 230.33h1.0v1.0h-1.0zM74.57 237.04h1.0v1.0h-1.0zM70.7 226.31h1.0v1.0h-1.0zM77.93 218.4h1.0v1.0h-1.0zM66.37 234.81h1.0v1.0h-1.0zM75.84 219.62h1.0v1.0h-1.0zM77.85 225.21h1.0v1.0h-1.0zM75.98 237.45h1.0v1.0h-1.0zM78.05 225.76h1.0v1.0h-1.0zM66.56 234.27h1.0v1.0h-1.0zM80.85 235.63h1.0v1.0h-1.0zM65.4 233.59h1.0v1.0h-1.0zM71.29 209.25h1.0v1.0h-1.0zM73.5 209.85h1.0v1.0h-1.0zM71.53 230.4h1.0v1.0h-1.0zM75.99 217.46h1.0v1.0h-1.0zM66.41 232.61h1.0v1.0h-1.0zM75.94 221.88h1.0v1.0h-1.0zM75.93 237.93h1.0v1.0h-1.0zM75.45 221.96h1.0v1.0h-1.0zM77.13 214.64h1.0v1.0h-1.0zM78.81 222.44h1.0v1.0h-1.0zM71.75 234.79h1.0v1.0h-1.0zM80.13 226.22h1.0v1.0h-1.0zM74.33 232.16h1.0v1.0h-1.0zM78.39 217.56h1.0v1.0h-1.0zM68.42 233.24h1.0v1.0h-1.0zM69.05 231.06h1.0v1.0h-1.0zM67.81 236.81h1.0v1.0h-1.0zM77.65 216.82h1.0v1.0h-1.0zM65.33 237.74h1.0v1.0h-1.0zM72.86 228.28h1.0v1.0h-1.0zM72.63 214.71h1.0v1.0h-1.0zM67.24 233.63h1.0v1.0h-1.0zM70.84 233.73h1.0v1.0h-1.0zM76.5 231.7h1.0v1.0h-1.0zM65.76 230.08h1.0v1.0h-1.0zM74.69 221.89h1.0v1.0h-1.0zM76.6 235.13h1.0v1.0h-1.0zM76.33 235.97h1.0v1.0h-1.0zM77.84 223.32h1.0v1.0h-1.0zM73.91 235.41h1.0v1.0h-1.0zM71.56 210.11h1.0v1.0h-1.0zM77.39 228.54h1.0v1.0h-1.0zM58.42 231.42h1.0v1.0h-1.0zM72.05 219.43h1.0v1.0h-1.0zM72.85 210.8h1.0v1.0h-1.0zM73.69 226.53h1.0v1.0h-1.0zM60.97 236.06h1.0v1.0h-1.0zM69.74 208.09h1.0v1.0h-1.0zM60.39 235.89h1.0v1.0h-1.0zM64.21 231.57h1.0v1.0h-1.0zM77.95 227.11h1.0v1.0h-1.0zM72.53 226.01h1.0v1.0h-1.0zM79.94 234.43h1.0v1.0h-1.0zM74.41 237.77h1.0v1.0h-1.0zM73.36 224.67h1.0v1.0h-1.0zM74.36 217.93h1.0v1.0h-1.0zM77.68 226.8h1.0v1.0h-1.0zM62.91 231.68h1.0v1.0h-1.0zM75.83 215.98h1.0v1.0h-1.0zM66.81 233.07h1.0v1.0h-1.0zM71.26 226.99h1.0v1.0h-1.0zM78.86 235.47h1.0v1.0h-1.0zM73.41 209.04h1.0v1.0h-1.0zM66.5 237.11h1.0v1.0h-1.0zM73.43 224.63h1.0v1.0h-1.0zM74.72 224.68h1.0v1.0h-1.0zM72.67 231.2h1.0v1.0h-1.0zM76.61 227.31h1.0v1.0h-1.0zM74.25 209.21h1.0v1.0h-1.0zM70.84 235.13h1.0v1.0h-1.0zM80.15 231.11h1.0v1.0h-1.0zM77.01 217.48h1.0v1.0h-1.0zM69.08 233.06h1.0v1.0h-1.0zM76.49 221.46h1.0v1.0h-1.0zM74.63 237.08h1.0v1.0h-1.0zM78.62 216.35h1.0v1.0h-1.0zM77.33 235.78h1.0v1.0h-1.0zM74.77 227.9h1.0v1.0h-1.0zM62.73 237.44h1.0v1.0h-1.0zM68.7 237.41h1.0v1.0h-1.0zM69.5 229.61h1.0v1.0h-1.0zM61.15 232.28h1.0v1.0h-1.0zM78.42 230.85h1.0v1.0h-1.0zM79.09 230.82h1.0v1.0h-1.0zM78.88 221.07h1.0v1.0h-1.0zM80 228.23h1.0v1.0h-1.0zM76.18 225.58h1.0v1.0h-1.0zM73.27 211.31h1.0v1.0h-1.0zM66.56 231.94h1.0v1.0h-1.0zM79.12 232.93h1.0v1.0h-1.0zM75.45 221.22h1.0v1.0h-1.0zM70.73 232.01h1.0v1.0h-1.0zM71.25 225.69h1.0v1.0h-1.0zM78.64 220.53h1.0v1.0h-1.0zM78.63 216.98h1.0v1.0h-1.0zM76.7 233.33h1.0v1.0h-1.0zM77.94 221.99h1.0v1.0h-1.0zM76.16 235.76h1.0v1.0h-1.0zM78.12 216.47h1.0v1.0h-1.0zM78.04 225.01h1.0v1.0h-1.0zM58.06 235.1h1.0v1.0h-1.0zM73.94 209.27h1.0v1.0h-1.0zM72.19 230.44h1.0v1.0h-1.0zM71.54 234.49h1.0v1.0h-1.0zM62.1 237.19h1.0v1.0h-1.0zM72.98 211.34h1.0v1.0h-1.0zM77.63 229.04h1.0v1.0h-1.0zM77.11 209.68h1.0v1.0h-1.0zM70.28 234.22h1.0v1.0h-1.0zM77.58 218.96h1.0v1.0h-1.0zM76.33 219.71h1.0v1.0h-1.0zM66.67 235.58h1.0v1.0h-1.0zM74.51 209.46h1.0v1.0h-1.0zM77.49 212.24h1.0v1.0h-1.0zM75.95 218.14h1.0v1.0h-1.0zM74.4 237.8h1.0v1.0h-1.0zM79.63 223.94h1.0v1.0h-1.0zM73.94 211.7h1.0v1.0h-1.0zM69.87 230.5h1.0v1.0h-1.0zM74.95 217.93h1.0v1.0h-1.0zM74.07 210.97h1.0v1.0h-1.0zM62.92 230.28h1.0v1.0h-1.0zM77.57 215.93h1.0v1.0h-1.0zM59.3 236.14h1.0v1.0h-1.0zM63.62 235.19h1.0v1.0h-1.0zM78.51 220.31h1.0v1.0h-1.0zM66.22 237.48h1.0v1.0h-1.0zM68.1 235.54h1.0v1.0h-1.0zM73 208.22h1.0v1.0h-1.0zM63.04 234.6h1.0v1.0h-1.0zM61.76 232.25h1.0v1.0h-1.0zM73.81 228.83h1.0v1.0h-1.0zM77.23 226.54h1.0v1.0h-1.0zM70.03 228.78h1.0v1.0h-1.0zM76 220.33h1.0v1.0h-1.0zM72.85 236.21h1.0v1.0h-1.0zM73.62 227.35h1.0v1.0h-1.0zM76.99 224.23h1.0v1.0h-1.0zM73.66 231.64h1.0v1.0h-1.0zM74.34 212.91h1.0v1.0h-1.0zM78.54 234.51h1.0v1.0h-1.0zM68.93 229.91h1.0v1.0h-1.0zM72.11 216.24h1.0v1.0h-1.0zM66.3 230.28h1.0v1.0h-1.0zM72.77 210.4h1.0v1.0h-1.0zM76.66 232.59h1.0v1.0h-1.0zM75.4 215.42h1.0v1.0h-1.0zM61.32 231.77h1.0v1.0h-1.0zM59.66 231.2h1.0v1.0h-1.0zM64.18 233.89h1.0v1.0h-1.0zM72.54 232.51h1.0v1.0h-1.0zM73.4 213.57h1.0v1.0h-1.0zM59.49 237.65h1.0v1.0h-1.0zM77.5 210.83h1.0v1.0h-1.0zM76.28 236.8h1.0v1.0h-1.0zM78.78 219.78h1.0v1.0h-1.0zM74.57 231.27h1.0v1.0h-1.0zM63.18 233.39h1.0v1.0h-1.0zM71.86 231.52h1.0v1.0h-1.0zM78.02 222.38h1.0v1.0h-1.0zM74.63 221.33h1.0v1.0h-1.0zM72.27 225.62h1.0v1.0h-1.0zM76.42 223.41h1.0v1.0h-1.0zM70.78 237.59h1.0v1.0h-1.0zM62.83 234.04h1.0v1.0h-1.0zM78.61 229.92h1.0v1.0h-1.0zM76.43 232.92h1.0v1.0h-1.0zM78.39 222.04h1.0v1.0h-1.0zM71.21 225.2h1.0v1.0h-1.0zM64.19 236.63h1.0v1.0h-1.0zM61.96 236.08h1.0v1.0h-1.0zM62.84 231.4h1.0v1.0h-1.0zM76.13 225.03h1.0v1.0h-1.0zM60.5 237.98h1.0v1.0h-1.0zM77.76 226.86h1.0v1.0h-1.0zM60 234.38h1.0v1.0h-1.0zM58.97 236.67h1.0v1.0h-1.0zM75.8 231.73h1.0v1.0h-1.0zM79 227.41h1.0v1.0h-1.0zM73.75 227.2h1.0v1.0h-1.0zM69.22 230.8h1.0v1.0h-1.0zM58.52 235.18h1.0v1.0h-1.0zM74.79 222.79h1.0v1.0h-1.0zM74.42 222.13h1.0v1.0h-1.0zM71.2 237.1h1.0v1.0h-1.0zM72.5 217.66h1.0v1.0h-1.0zM75.21 219.44h1.0v1.0h-1.0zM74.91 234.86h1.0v1.0h-1.0zM74.1 215.76h1.0v1.0h-1.0zM69.43 228.26h1.0v1.0h-1.0zM70.03 230.69h1.0v1.0h-1.0zM77.71 231.45h1.0v1.0h-1.0zM71.9 228.85h1.0v1.0h-1.0zM75.72 233.12h1.0v1.0h-1.0zM68.55 231.75h1.0v1.0h-1.0zM68.38 233.4h1.0v1.0h-1.0zM68.26 233.55h1.0v1.0h-1.0zM60.99 236.44h1.0v1.0h-1.0zM59.27 237.67h1.0v1.0h-1.0zM75.24 210.93h1.0v1.0h-1.0zM74.72 218.28h1.0v1.0h-1.0zM58.33 237.31h1.0v1.0h-1.0zM74.06 215.05h1.0v1.0h-1.0zM75.75 214.57h1.0v1.0h-1.0zM71.44 232.49h1.0v1.0h-1.0zM71.54 212.01h1.0v1.0h-1.0zM79.03 236.88h1.0v1.0h-1.0zM78.54 231.79h1.0v1.0h-1.0zM78.97 219.24h1.0v1.0h-1.0zM80.14 234.19h1.0v1.0h-1.0zM70.43 235.5h1.0v1.0h-1.0zM66.01 230.7h1.0v1.0h-1.0zM76.11 222.4h1.0v1.0h-1.0zM70.4 237.58h1.0v1.0h-1.0zM74.55 209.07h1.0v1.0h-1.0zM69.74 208.65h1.0v1.0h-1.0zM75.66 230.98h1.0v1.0h-1.0zM68.64 235.45h1.0v1.0h-1.0zM77.06 211.23h1.0v1.0h-1.0zM78.68 226.44h1.0v1.0h-1.0zM76.07 232.73h1.0v1.0h-1.0zM79.08 237.86h1.0v1.0h-1.0zM70.26 227.45h1.0v1.0h-1.0zM74.81 215.91h1.0v1.0h-1.0zM58.11 235.24h1.0v1.0h-1.0zM74.85 223.51h1.0v1.0h-1.0zM76.68 215.17h1.0v1.0h-1.0zM73.81 208.17h1.0v1.0h-1.0zM58.83 235.66h1.0v1.0h-1.0zM75.29 224.03h1.0v1.0h-1.0zM61.2 234h1.0v1.0h-1.0zM73.3 232.31h1.0v1.0h-1.0zM73.75 223.01h1.0v1.0h-1.0zM64.82 237.48h1.0v1.0h-1.0zM75.4 235.8h1.0v1.0h-1.0zM63.1 236.27h1.0v1.0h-1.0zM79.88 223.94h1.0v1.0h-1.0zM79.53 237.14h1.0v1.0h-1.0zM69.65 208.53h1.0v1.0h-1.0zM75.89 234.06h1.0v1.0h-1.0zM72.13 219.69h1.0v1.0h-1.0zM74.35 229.69h1.0v1.0h-1.0zM58.87 235.72h1.0v1.0h-1.0zM73.55 236.24h1.0v1.0h-1.0zM73.05 237.55h1.0v1.0h-1.0zM80.27 227.15h1.0v1.0h-1.0zM79.13 234.47h1.0v1.0h-1.0zM70.13 231.73h1.0v1.0h-1.0zM78.03 215.54h1.0v1.0h-1.0zM62.19 230.38h1.0v1.0h-1.0zM73.58 224.01h1.0v1.0h-1.0zM74.49 215.77h1.0v1.0h-1.0zM76.44 216.27h1.0v1.0h-1.0zM64.46 232.02h1.0v1.0h-1.0zM77.69 226.66h1.0v1.0h-1.0zM59.9 235.29h1.0v1.0h-1.0zM74.45 216.43h1.0v1.0h-1.0zM80.3 230.68h1.0v1.0h-1.0zM77.67 219.55h1.0v1.0h-1.0zM76.53 209.63h1.0v1.0h-1.0zM67.18 236.91h1.0v1.0h-1.0zM77.85 222.53h1.0v1.0h-1.0zM80.48 232.35h1.0v1.0h-1.0zM80.66 232.6h1.0v1.0h-1.0zM74.05 220.05h1.0v1.0h-1.0zM63.2 237.13h1.0v1.0h-1.0zM58.53 237.43h1.0v1.0h-1.0zM73.91 225.97h1.0v1.0h-1.0zM73.8 229.86h1.0v1.0h-1.0zM75.68 234.65h1.0v1.0h-1.0zM78.23 228.72h1.0v1.0h-1.0zM76.17 208.57h1.0v1.0h-1.0zM76.07 236.25h1.0v1.0h-1.0zM76.52 210.87h1.0v1.0h-1.0zM63.66 233.58h1.0v1.0h-1.0zM71.61 228.75h1.0v1.0h-1.0zM66.62 236.45h1.0v1.0h-1.0zM75.98 237.29h1.0v1.0h-1.0zM71.11 232.13h1.0v1.0h-1.0zM72.71 229.22h1.0v1.0h-1.0zM68.22 234.35h1.0v1.0h-1.0zM69.49 227.29h1.0v1.0h-1.0zM78.71 234.9h1.0v1.0h-1.0zM73.61 208.2h1.0v1.0h-1.0zM73.43 235.2h1.0v1.0h-1.0zM63.51 236.57h1.0v1.0h-1.0zM73.03 208.81h1.0v1.0h-1.0zM75.07 219.89h1.0v1.0h-1.0zM74.83 229.22h1.0v1.0h-1.0zM59.98 230.2h1.0v1.0h-1.0zM79.06 226.55h1.0v1.0h-1.0zM70.84 235.39h1.0v1.0h-1.0zM72.44 225.54h1.0v1.0h-1.0zM73.4 235.43h1.0v1.0h-1.0zM59.74 232.68h1.0v1.0h-1.0zM65.49 235.31h1.0v1.0h-1.0zM71.36 226.73h1.0v1.0h-1.0zM76.59 218.73h1.0v1.0h-1.0zM76.04 219.4h1.0v1.0h-1.0zM67.64 229.9h1.0v1.0h-1.0zM76.76 223.39h1.0v1.0h-1.0zM79.02 225.88h1.0v1.0h-1.0zM72.86 217.94h1.0v1.0h-1.0zM62.91 232.1h1.0v1.0h-1.0z" fill="#000" fill-opacity="1.0"/>
<path d="M85.38 234.69h0.9v0.9h-0.9zM86.34 215.74h0.9v0.9h-0.9zM84.86 224.33h0.9v0.9h-0.9zM85.37 229.53h0.9v0.9h-0.9zM82.49 223.82h0.9v0.9h-0.9zM79.93 216.54h0.9v0.9h-0.9zM86.38 232.91h0.9v0.9h-0.9zM85.25 218.11h0.9v0.9h-0.9zM87.91 226.03h0.9v0.9h-0.9zM81.36 229.44h0.9v0.9h-0.9zM86.67 220.32h0.9v0.9h-0.9zM78.93 228.95h0.9v0.9h-0.9zM82.72 228.11h0.9v0.9h-0.9zM82.8 235.73h0.9v0.9h-0.9zM81.5 215.2h0.9v0.9h-0.9zM87.16 229.17h0.9v0.9h-0.9zM79.24 214.48h0.9v0.9h-0.9zM89.51 236.25h0.9v0.9h-0.9zM78.89 219.59h0.9v0.9h-0.9zM79.81 211.92h0.9v0.9h-0.9zM86.66 222.02h0.9v0.9h-0.9zM82.93 233.28h0.9v0.9h-0.9zM81.86 213.38h0.9v0.9h-0.9zM80.71 234.79h0.9v0.9h-0.9zM78.52 213.96h0.9v0.9h-0.9zM79.08 211.41h0.9v0.9h-0.9zM81.1 215.67h0.9v0.9h-0.9zM81.2 215.59h0.9v0.9h-0.9zM87.02 229.06h0.9v0.9h-0.9zM83.14 233.09h0.9v0.9h-0.9zM79.67 233.48h0.9v0.9h-0.9zM85.66 230.88h0.9v0.9h-0.9zM81.26 217.35h0.9v0.9h-0.9zM86.45 236.54h0.9v0.9h-0.9zM78.78 224.59h0.9v0.9h-0.9zM80.85 220.04h0.9v0.9h-0.9zM78.4 215.76h0.9v0.9h-0.9zM84.5 221.4h0.9v0.9h-0.9zM81.85 225.58h0.9v0.9h-0.9zM79.76 229.5h0.9v0.9h-0.9zM81.79 218.27h0.9v0.9h-0.9zM84.19 237.21h0.9v0.9h-0.9zM83.68 235.32h0.9v0.9h-0.9zM81.68 234.16h0.9v0.9h-0.9zM85.63 217.98h0.9v0.9h-0.9zM76.88 209.49h0.9v0.9h-0.9zM80.58 221.04h0.9v0.9h-0.9zM82 236.6h0.9v0.9h-0.9zM83.17 229.99h0.9v0.9h-0.9zM80.3 229.39h0.9v0.9h-0.9zM81.74 236.87h0.9v0.9h-0.9zM87.55 215.37h0.9v0.9h-0.9zM79.72 231.02h0.9v0.9h-0.9zM80.38 215.27h0.9v0.9h-0.9zM85.54 215.6h0.9v0.9h-0.9zM79.64 219.07h0.9v0.9h-0.9zM78.63 221.75h0.9v0.9h-0.9zM83.74 231.8h0.9v0.9h-0.9zM85.16 219.01h0.9v0.9h-0.9zM88.92 226.78h0.9v0.9h-0.9z" fill="#000" fill-opacity="1.0"/>
<path d="M33.5 178.2 C34.73 175.93 37.75 176.63 40 176.4 C42.25 176.17 45.08 176.03 47 176.8 C48.92 177.57 50.23 178.8 51.5 181 C52.77 183.2 53.78 186.5 54.6 190 C55.42 193.5 56.07 198 56.4 202 C56.73 206 56.6 210.33 56.6 214 C56.6 217.67 56.93 221.25 56.4 224 C55.87 226.75 54.97 228.73 53.4 230.5 C51.83 232.27 49.07 233.88 47 234.6 C44.93 235.32 42.9 235.57 41 234.8 C39.1 234.03 36.87 232.3 35.6 230 C34.33 227.7 33.9 225 33.4 221 C32.9 217 32.73 211.17 32.6 206 C32.47 200.83 32.45 194.63 32.6 190 C32.75 185.37 32.27 180.47 33.5 178.2 Z" stroke="none" stroke-width="1" fill="#ececec" stroke-linejoin="round"/>
<path d="M49.35 229.52h1.0v1.0h-1.0zM34.36 180.12h1.0v1.0h-1.0zM39.37 177.26h1.0v1.0h-1.0zM34.57 224.09h1.0v1.0h-1.0zM38.23 177.19h1.0v1.0h-1.0zM33.15 209.54h1.0v1.0h-1.0zM44.94 233.85h1.0v1.0h-1.0zM31.96 199.57h1.0v1.0h-1.0zM32.88 192.31h1.0v1.0h-1.0zM33.2 203.42h1.0v1.0h-1.0zM50.08 231.27h1.0v1.0h-1.0zM33.17 218.8h1.0v1.0h-1.0zM35.13 221.07h1.0v1.0h-1.0zM40.99 233.55h1.0v1.0h-1.0zM34.32 220.11h1.0v1.0h-1.0zM33.03 216.86h1.0v1.0h-1.0zM34.35 218.97h1.0v1.0h-1.0zM32.3 192.73h1.0v1.0h-1.0zM34.37 212.86h1.0v1.0h-1.0zM35.69 182.52h1.0v1.0h-1.0zM33.6 197.01h1.0v1.0h-1.0zM46.03 234.73h1.0v1.0h-1.0zM38.63 176.25h1.0v1.0h-1.0zM33.06 198.49h1.0v1.0h-1.0zM32.49 197.96h1.0v1.0h-1.0zM33.06 208.33h1.0v1.0h-1.0zM49.63 232.33h1.0v1.0h-1.0zM31.52 186.98h1.0v1.0h-1.0zM45.23 176.33h1.0v1.0h-1.0zM32.2 186.03h1.0v1.0h-1.0zM36.18 225.9h1.0v1.0h-1.0zM39.43 177.89h1.0v1.0h-1.0zM34.01 197.31h1.0v1.0h-1.0zM33.72 213.18h1.0v1.0h-1.0zM44.21 234.14h1.0v1.0h-1.0zM44.26 234.9h1.0v1.0h-1.0zM33.58 204.93h1.0v1.0h-1.0zM37.6 231.18h1.0v1.0h-1.0zM33.57 214.59h1.0v1.0h-1.0zM33.32 197.89h1.0v1.0h-1.0zM42.55 232.35h1.0v1.0h-1.0zM49.62 231.91h1.0v1.0h-1.0zM36.43 228.31h1.0v1.0h-1.0zM50.96 229.04h1.0v1.0h-1.0zM37.61 178.88h1.0v1.0h-1.0zM33.12 213.84h1.0v1.0h-1.0zM36.86 177.98h1.0v1.0h-1.0zM34.91 204.47h1.0v1.0h-1.0zM45.86 233.68h1.0v1.0h-1.0zM38.47 230.39h1.0v1.0h-1.0zM33.93 214.64h1.0v1.0h-1.0zM34.77 179.86h1.0v1.0h-1.0zM33.28 212.3h1.0v1.0h-1.0zM39.34 177.23h1.0v1.0h-1.0zM37.32 177.75h1.0v1.0h-1.0zM34.96 179.61h1.0v1.0h-1.0zM36.1 227.07h1.0v1.0h-1.0zM37.83 177.31h1.0v1.0h-1.0zM32.24 212.36h1.0v1.0h-1.0zM35.54 222.25h1.0v1.0h-1.0zM51.08 227.4h1.0v1.0h-1.0zM32.54 188.42h1.0v1.0h-1.0zM32.85 211.7h1.0v1.0h-1.0zM34.09 182.01h1.0v1.0h-1.0zM32.12 202.97h1.0v1.0h-1.0zM46.38 235.27h1.0v1.0h-1.0zM32.67 206.22h1.0v1.0h-1.0zM33.72 195.08h1.0v1.0h-1.0zM35.28 186.26h1.0v1.0h-1.0zM42.01 233.36h1.0v1.0h-1.0zM38.88 234.44h1.0v1.0h-1.0zM32.82 189.54h1.0v1.0h-1.0zM42.7 233.57h1.0v1.0h-1.0zM41.9 233.56h1.0v1.0h-1.0zM34.67 223.37h1.0v1.0h-1.0zM33.8 217.75h1.0v1.0h-1.0zM39.98 175.7h1.0v1.0h-1.0zM38.11 226.67h1.0v1.0h-1.0zM33.66 215.85h1.0v1.0h-1.0zM39.64 231.35h1.0v1.0h-1.0zM37.26 225.73h1.0v1.0h-1.0zM40.83 175.71h1.0v1.0h-1.0zM44.8 176.1h1.0v1.0h-1.0zM39.79 226.32h1.0v1.0h-1.0zM35.57 214.08h1.0v1.0h-1.0zM33.91 188.1h1.0v1.0h-1.0zM51.72 230.33h1.0v1.0h-1.0zM38.11 178.29h1.0v1.0h-1.0zM34.6 208.11h1.0v1.0h-1.0zM36.75 229.29h1.0v1.0h-1.0zM37.07 230.18h1.0v1.0h-1.0zM32.12 206.58h1.0v1.0h-1.0zM32.99 191.28h1.0v1.0h-1.0zM50.83 230.61h1.0v1.0h-1.0zM32.32 193.58h1.0v1.0h-1.0zM39.7 231.14h1.0v1.0h-1.0zM42.18 176.07h1.0v1.0h-1.0zM41.22 175.86h1.0v1.0h-1.0zM52.74 229.1h1.0v1.0h-1.0zM31.88 204.9h1.0v1.0h-1.0zM32.81 204.66h1.0v1.0h-1.0zM32.37 207.11h1.0v1.0h-1.0zM32.72 186.69h1.0v1.0h-1.0zM34.04 181.94h1.0v1.0h-1.0zM33.83 217.82h1.0v1.0h-1.0zM32.79 199.37h1.0v1.0h-1.0zM40.01 232.07h1.0v1.0h-1.0zM37.28 184.5h1.0v1.0h-1.0zM34.87 179.62h1.0v1.0h-1.0zM34.13 186.22h1.0v1.0h-1.0zM35.67 219.7h1.0v1.0h-1.0zM32.99 208.86h1.0v1.0h-1.0zM50.5 229.24h1.0v1.0h-1.0zM37.47 229.78h1.0v1.0h-1.0zM35.25 180.3h1.0v1.0h-1.0zM49.56 232.76h1.0v1.0h-1.0zM32.89 198.83h1.0v1.0h-1.0zM33.07 201.95h1.0v1.0h-1.0zM33.26 212.14h1.0v1.0h-1.0zM37.68 231.64h1.0v1.0h-1.0zM31.25 219.57h1.0v1.0h-1.0zM54.79 226.52h1.0v1.0h-1.0zM36.22 182.18h1.0v1.0h-1.0zM48.92 231.57h1.0v1.0h-1.0zM33.36 215.15h1.0v1.0h-1.0zM32.85 194.09h1.0v1.0h-1.0zM41.44 233.28h1.0v1.0h-1.0zM53.87 227.65h1.0v1.0h-1.0zM38.69 232.02h1.0v1.0h-1.0zM32.47 185.49h1.0v1.0h-1.0zM32.83 219.24h1.0v1.0h-1.0zM36.49 226.19h1.0v1.0h-1.0zM33.9 203.13h1.0v1.0h-1.0zM37.98 206.84h1.0v1.0h-1.0zM32.39 207.77h1.0v1.0h-1.0zM32.58 200.15h1.0v1.0h-1.0zM34.74 205.67h1.0v1.0h-1.0zM32.95 187.68h1.0v1.0h-1.0zM34.82 209.32h1.0v1.0h-1.0zM37.46 236.46h1.0v1.0h-1.0zM33.01 202.49h1.0v1.0h-1.0zM53.4 227.85h1.0v1.0h-1.0zM55.76 226.78h1.0v1.0h-1.0zM31.68 218.68h1.0v1.0h-1.0zM34.95 207.06h1.0v1.0h-1.0zM34.75 201.56h1.0v1.0h-1.0zM43.13 232.32h1.0v1.0h-1.0zM40.97 233.57h1.0v1.0h-1.0zM35.84 196.08h1.0v1.0h-1.0zM35.18 225.85h1.0v1.0h-1.0zM33.79 191.23h1.0v1.0h-1.0zM33.42 193.43h1.0v1.0h-1.0zM44.53 176.77h1.0v1.0h-1.0zM54.57 227.32h1.0v1.0h-1.0zM34.8 220.41h1.0v1.0h-1.0zM44.3 175.94h1.0v1.0h-1.0zM34.97 224.26h1.0v1.0h-1.0zM34.56 217.54h1.0v1.0h-1.0zM30.84 207.5h1.0v1.0h-1.0zM32.77 193.02h1.0v1.0h-1.0zM41.53 176.5h1.0v1.0h-1.0zM47.28 234.3h1.0v1.0h-1.0zM32.88 204h1.0v1.0h-1.0zM35.99 222.82h1.0v1.0h-1.0zM33.21 196.91h1.0v1.0h-1.0zM51.84 230.73h1.0v1.0h-1.0zM33.42 198.84h1.0v1.0h-1.0zM32.45 205.41h1.0v1.0h-1.0zM31.24 197.5h1.0v1.0h-1.0zM39.4 232.23h1.0v1.0h-1.0zM37.45 178.21h1.0v1.0h-1.0zM33.83 221.25h1.0v1.0h-1.0zM35.22 226.76h1.0v1.0h-1.0zM51.97 229.09h1.0v1.0h-1.0zM40.24 233.1h1.0v1.0h-1.0zM37.05 230.13h1.0v1.0h-1.0zM32.82 203.1h1.0v1.0h-1.0zM44.69 234.29h1.0v1.0h-1.0zM46.48 175.79h1.0v1.0h-1.0zM34.67 224.01h1.0v1.0h-1.0zM32.81 197.07h1.0v1.0h-1.0zM47.78 234.8h1.0v1.0h-1.0zM32.68 193.09h1.0v1.0h-1.0zM34.31 184.71h1.0v1.0h-1.0zM38.55 178.68h1.0v1.0h-1.0zM32.76 189.2h1.0v1.0h-1.0zM36.82 226.26h1.0v1.0h-1.0zM31.13 201.72h1.0v1.0h-1.0zM34.68 223.77h1.0v1.0h-1.0zM36.79 180.25h1.0v1.0h-1.0zM36.34 179.64h1.0v1.0h-1.0zM37 230.8h1.0v1.0h-1.0zM46.29 233.52h1.0v1.0h-1.0zM35.97 229.35h1.0v1.0h-1.0zM35.21 177.19h1.0v1.0h-1.0zM34.79 185.11h1.0v1.0h-1.0zM32.08 204.22h1.0v1.0h-1.0zM33.89 187.52h1.0v1.0h-1.0zM34.27 223.21h1.0v1.0h-1.0zM42.93 232.72h1.0v1.0h-1.0zM50 230.48h1.0v1.0h-1.0zM32.88 202.46h1.0v1.0h-1.0zM40.1 233.1h1.0v1.0h-1.0zM32.51 204.37h1.0v1.0h-1.0zM34.23 223.43h1.0v1.0h-1.0zM54.35 229.07h1.0v1.0h-1.0zM42.2 175.83h1.0v1.0h-1.0zM39.98 233.1h1.0v1.0h-1.0zM37.28 216.05h1.0v1.0h-1.0zM44.99 175.81h1.0v1.0h-1.0zM33.46 204.64h1.0v1.0h-1.0zM33 212.31h1.0v1.0h-1.0zM47.76 234.02h1.0v1.0h-1.0zM36.55 176.83h1.0v1.0h-1.0zM34.99 182.86h1.0v1.0h-1.0zM33.05 190.56h1.0v1.0h-1.0zM32.76 203.87h1.0v1.0h-1.0zM33.54 201.12h1.0v1.0h-1.0zM46.99 232.9h1.0v1.0h-1.0zM32.32 220.08h1.0v1.0h-1.0zM32.34 213.83h1.0v1.0h-1.0zM33.41 206.9h1.0v1.0h-1.0zM36 178.76h1.0v1.0h-1.0zM34.55 179.7h1.0v1.0h-1.0zM36.04 228.12h1.0v1.0h-1.0zM43.78 236.02h1.0v1.0h-1.0zM33.3 212.01h1.0v1.0h-1.0zM33.63 200.93h1.0v1.0h-1.0zM35.4 228.67h1.0v1.0h-1.0zM33.24 186.13h1.0v1.0h-1.0zM31.93 221.53h1.0v1.0h-1.0zM33.8 209.32h1.0v1.0h-1.0zM53.65 228.04h1.0v1.0h-1.0zM38.89 225.9h1.0v1.0h-1.0zM48.65 232.4h1.0v1.0h-1.0zM47.04 233.85h1.0v1.0h-1.0zM34.28 216.37h1.0v1.0h-1.0zM33.44 209.5h1.0v1.0h-1.0zM43.59 177.38h1.0v1.0h-1.0zM33.37 217.32h1.0v1.0h-1.0zM32.98 193.85h1.0v1.0h-1.0zM34.65 200.99h1.0v1.0h-1.0zM33.83 184.93h1.0v1.0h-1.0zM34.07 222.13h1.0v1.0h-1.0zM45.03 176.45h1.0v1.0h-1.0zM33.4 186.2h1.0v1.0h-1.0zM36.49 183.19h1.0v1.0h-1.0zM38.75 232h1.0v1.0h-1.0zM33.64 205.73h1.0v1.0h-1.0zM44.93 176.18h1.0v1.0h-1.0zM34.08 217.77h1.0v1.0h-1.0zM32.81 202.89h1.0v1.0h-1.0zM33.23 213.57h1.0v1.0h-1.0zM33.34 214.77h1.0v1.0h-1.0zM50.32 232.26h1.0v1.0h-1.0zM35.66 223.84h1.0v1.0h-1.0zM39.67 231.78h1.0v1.0h-1.0zM33.49 217.86h1.0v1.0h-1.0zM41.07 175.98h1.0v1.0h-1.0zM34.78 179.73h1.0v1.0h-1.0zM38.03 178.5h1.0v1.0h-1.0zM32.47 202.44h1.0v1.0h-1.0zM34.93 197.46h1.0v1.0h-1.0zM44.6 232.91h1.0v1.0h-1.0zM33.11 203.66h1.0v1.0h-1.0zM49.94 232.77h1.0v1.0h-1.0zM35.64 179.65h1.0v1.0h-1.0zM32.19 202.14h1.0v1.0h-1.0zM34.23 220.9h1.0v1.0h-1.0zM35.79 224.88h1.0v1.0h-1.0zM39 232.15h1.0v1.0h-1.0zM34.38 181.16h1.0v1.0h-1.0zM32.89 203.61h1.0v1.0h-1.0zM34.45 222.99h1.0v1.0h-1.0zM32.1 217.86h1.0v1.0h-1.0zM35.57 225.97h1.0v1.0h-1.0zM49.73 227.12h1.0v1.0h-1.0zM37.42 179.34h1.0v1.0h-1.0zM33.1 203.04h1.0v1.0h-1.0zM33.94 184.89h1.0v1.0h-1.0zM33.87 213.98h1.0v1.0h-1.0zM32.03 212.91h1.0v1.0h-1.0zM51.7 230h1.0v1.0h-1.0zM36.03 223.6h1.0v1.0h-1.0zM34.21 184.28h1.0v1.0h-1.0zM32.83 201.85h1.0v1.0h-1.0zM33.24 216.26h1.0v1.0h-1.0zM32.78 204.76h1.0v1.0h-1.0zM44.16 176.03h1.0v1.0h-1.0zM42.5 176.64h1.0v1.0h-1.0zM34.71 223.62h1.0v1.0h-1.0zM40.36 232.61h1.0v1.0h-1.0zM32.83 188.53h1.0v1.0h-1.0zM50.17 232.61h1.0v1.0h-1.0zM35.03 223.32h1.0v1.0h-1.0zM32.84 198.59h1.0v1.0h-1.0zM37.94 231.02h1.0v1.0h-1.0zM33.83 220.06h1.0v1.0h-1.0zM34.93 225.22h1.0v1.0h-1.0zM34.9 179.72h1.0v1.0h-1.0zM31.79 187.6h1.0v1.0h-1.0zM37.27 181.27h1.0v1.0h-1.0zM49 229.8h1.0v1.0h-1.0zM36.05 220.04h1.0v1.0h-1.0zM36.57 178.26h1.0v1.0h-1.0zM32.17 195.79h1.0v1.0h-1.0zM36.58 178.2h1.0v1.0h-1.0zM54.02 229.69h1.0v1.0h-1.0zM33.94 210.5h1.0v1.0h-1.0zM40.41 175.87h1.0v1.0h-1.0zM55.11 228.72h1.0v1.0h-1.0zM33.59 220.3h1.0v1.0h-1.0zM41.04 177.49h1.0v1.0h-1.0zM35.8 196.71h1.0v1.0h-1.0zM34.83 181.47h1.0v1.0h-1.0zM33.54 180.21h1.0v1.0h-1.0zM41.67 175.67h1.0v1.0h-1.0zM49.36 232.33h1.0v1.0h-1.0zM33.42 202.34h1.0v1.0h-1.0zM33.1 207.02h1.0v1.0h-1.0zM47.64 234.39h1.0v1.0h-1.0zM31.76 205.1h1.0v1.0h-1.0z" fill="#000"/>
<ellipse cx="43.8" cy="197" rx="9.6" ry="18" transform="rotate(0 43.8 197)" stroke="#444" stroke-width="0.6" fill="none"/>
<ellipse cx="43.8" cy="197.3" rx="7.97" ry="14.94" transform="rotate(0 43.8 197.3)" stroke="#444" stroke-width="0.6" fill="none"/>
<ellipse cx="43.8" cy="197.6" rx="6.34" ry="11.88" transform="rotate(0 43.8 197.6)" stroke="#444" stroke-width="0.6" fill="none"/>
<ellipse cx="43.8" cy="197.9" rx="4.7" ry="8.82" transform="rotate(0 43.8 197.9)" stroke="#444" stroke-width="0.6" fill="none"/>
<ellipse cx="43.8" cy="198.2" rx="3.07" ry="5.76" transform="rotate(0 43.8 198.2)" stroke="#444" stroke-width="0.6" fill="none"/>
<path d="M34.80 216.00 A10.00 14.00 0 0 0 54.80 216.00" stroke="#444" stroke-width="0.6" fill="none"/>
<path d="M36.30 216.00 A8.50 11.90 0 0 0 53.30 216.00" stroke="#444" stroke-width="0.6" fill="none"/>
<path d="M37.80 216.00 A7.00 9.80 0 0 0 51.80 216.00" stroke="#444" stroke-width="0.6" fill="none"/>
<path d="M39.30 216.00 A5.50 7.70 0 0 0 50.30 216.00" stroke="#444" stroke-width="0.6" fill="none"/>
<path d="M40.80 216.00 A4.00 5.60 0 0 0 48.80 216.00" stroke="#444" stroke-width="0.6" fill="none"/>
<path d="M32.8 192 C32.8 184 35 179 40 177 L47 176.6 L46 178.6 L41 179 C37 180.6 35.4 186 35.2 192 L35.2 212 L32.8 212 Z" fill="#000"/>
<path d="M33.6 210 C34.6 222 38 230 43 232.2 C48 233.4 52.5 229.5 56.4 224 L56.4 228.5 C53 233 47.5 235.6 41.5 235.2 C36.5 233.5 33.4 225 32.8 210 Z" fill="#000"/>
<path d="M47 176.6 C51 179 53.6 184 55.6 191 L56.4 191 L56.4 176.6 Z" fill="#000"/>
<path d="M53.65 178.18h1.0v1.0h-1.0zM51.41 180.52h1.0v1.0h-1.0zM53.41 176.84h1.0v1.0h-1.0zM52.01 177.14h1.0v1.0h-1.0zM55.22 195.54h1.0v1.0h-1.0zM50.84 180.05h1.0v1.0h-1.0zM51.46 183.81h1.0v1.0h-1.0zM51.7 180.39h1.0v1.0h-1.0zM49.58 176.52h1.0v1.0h-1.0zM54.67 194.64h1.0v1.0h-1.0zM53.19 189.13h1.0v1.0h-1.0zM56.03 181.84h1.0v1.0h-1.0zM56.03 200.86h1.0v1.0h-1.0zM55.2 191.97h1.0v1.0h-1.0zM49.91 180.15h1.0v1.0h-1.0zM55.14 196.92h1.0v1.0h-1.0zM54.49 189.24h1.0v1.0h-1.0zM54.38 179.11h1.0v1.0h-1.0zM51.99 183.31h1.0v1.0h-1.0zM54.52 179.45h1.0v1.0h-1.0zM55.01 178.95h1.0v1.0h-1.0zM56.04 183.91h1.0v1.0h-1.0zM54.15 180.94h1.0v1.0h-1.0zM47.65 177.46h1.0v1.0h-1.0zM54.9 176.72h1.0v1.0h-1.0zM51.55 181.51h1.0v1.0h-1.0zM52.45 182.35h1.0v1.0h-1.0zM47.51 178h1.0v1.0h-1.0zM53.38 184.81h1.0v1.0h-1.0zM46.91 177.4h1.0v1.0h-1.0zM55.52 195.79h1.0v1.0h-1.0zM52.71 181.53h1.0v1.0h-1.0zM51.84 178.93h1.0v1.0h-1.0zM49.51 177.08h1.0v1.0h-1.0zM50.81 182.91h1.0v1.0h-1.0zM51.25 178.96h1.0v1.0h-1.0zM49.58 177.69h1.0v1.0h-1.0zM56.05 187.36h1.0v1.0h-1.0zM55.9 193.31h1.0v1.0h-1.0zM52.35 183.47h1.0v1.0h-1.0zM52.36 177.39h1.0v1.0h-1.0zM55.23 186.45h1.0v1.0h-1.0zM55.33 193.12h1.0v1.0h-1.0zM54.33 188.44h1.0v1.0h-1.0zM53.11 180.98h1.0v1.0h-1.0zM55.92 200.38h1.0v1.0h-1.0zM55.12 184.62h1.0v1.0h-1.0zM55.62 185.34h1.0v1.0h-1.0zM55.01 184.26h1.0v1.0h-1.0zM53.59 181.46h1.0v1.0h-1.0zM49.76 178.64h1.0v1.0h-1.0zM54.49 195.67h1.0v1.0h-1.0zM54.67 181.55h1.0v1.0h-1.0zM54.9 184.42h1.0v1.0h-1.0zM52.21 180.23h1.0v1.0h-1.0zM55.25 178.26h1.0v1.0h-1.0zM55.45 185.49h1.0v1.0h-1.0zM54.2 191.63h1.0v1.0h-1.0zM55.2 197.14h1.0v1.0h-1.0zM54.5 195.65h1.0v1.0h-1.0zM53.64 183.86h1.0v1.0h-1.0zM55.1 194.81h1.0v1.0h-1.0zM54.19 184.07h1.0v1.0h-1.0zM55.86 199.17h1.0v1.0h-1.0zM54.84 192.51h1.0v1.0h-1.0zM56.11 189.01h1.0v1.0h-1.0zM54.82 195.21h1.0v1.0h-1.0zM54.25 184.16h1.0v1.0h-1.0zM55.58 183.74h1.0v1.0h-1.0zM54.64 180.31h1.0v1.0h-1.0zM54.86 186.78h1.0v1.0h-1.0zM49.2 180.5h1.0v1.0h-1.0zM53.44 176.73h1.0v1.0h-1.0zM53.7 187.02h1.0v1.0h-1.0zM56.01 186.25h1.0v1.0h-1.0zM47.36 177.47h1.0v1.0h-1.0zM56.22 184.61h1.0v1.0h-1.0zM56.21 195.41h1.0v1.0h-1.0zM53.28 183.71h1.0v1.0h-1.0zM49.86 181.8h1.0v1.0h-1.0zM54.88 181.86h1.0v1.0h-1.0zM53.48 185.97h1.0v1.0h-1.0zM55.23 187.13h1.0v1.0h-1.0zM55.64 188.17h1.0v1.0h-1.0zM52.44 177.86h1.0v1.0h-1.0zM53.61 192.63h1.0v1.0h-1.0zM56.27 195.89h1.0v1.0h-1.0zM53.22 186.11h1.0v1.0h-1.0zM54.09 182.31h1.0v1.0h-1.0zM48.24 176.8h1.0v1.0h-1.0zM52.99 177.16h1.0v1.0h-1.0zM54.34 186.54h1.0v1.0h-1.0zM53.97 183.25h1.0v1.0h-1.0zM51.21 183.81h1.0v1.0h-1.0zM55.91 191.94h1.0v1.0h-1.0zM55.9 189.7h1.0v1.0h-1.0zM51.31 177.48h1.0v1.0h-1.0zM52.08 180.19h1.0v1.0h-1.0zM55.09 196.94h1.0v1.0h-1.0zM50.14 176.49h1.0v1.0h-1.0zM50.44 183.1h1.0v1.0h-1.0zM54.49 181.6h1.0v1.0h-1.0zM55.58 183.85h1.0v1.0h-1.0zM53.04 184.28h1.0v1.0h-1.0zM54.33 181.48h1.0v1.0h-1.0zM51.86 184.17h1.0v1.0h-1.0zM53.09 179.8h1.0v1.0h-1.0zM50.74 177.98h1.0v1.0h-1.0zM54.17 186.92h1.0v1.0h-1.0zM54.46 178.84h1.0v1.0h-1.0zM48.77 179.53h1.0v1.0h-1.0zM55.04 181.45h1.0v1.0h-1.0zM54.57 190.43h1.0v1.0h-1.0zM49.97 180.73h1.0v1.0h-1.0zM49.53 180.6h1.0v1.0h-1.0zM52.74 185.62h1.0v1.0h-1.0zM54.24 179.42h1.0v1.0h-1.0zM51.49 177.67h1.0v1.0h-1.0zM56.07 190.77h1.0v1.0h-1.0zM55.97 197.34h1.0v1.0h-1.0z" fill="#000" fill-opacity="1.0"/>
<path d="M57.2 208.6 C58.67 205.67 63.7 207.83 66 208.4 C68.3 208.97 69.93 210.23 71 212 C72.07 213.77 72.4 216.67 72.4 219 C72.4 221.33 72.07 224.23 71 226 C69.93 227.77 67.83 229.03 66 229.6 C64.17 230.17 61.47 230 60 229.4 C58.53 228.8 57.67 229.47 57.2 226 C56.73 222.53 55.73 211.53 57.2 208.6 Z" stroke="none" stroke-width="1" fill="#f4f4f4" stroke-linejoin="round"/>
<ellipse cx="64.2" cy="218.6" rx="8.4" ry="11" transform="rotate(0 64.2 218.6)" stroke="#444" stroke-width="0.5" fill="none"/>
<ellipse cx="63.65" cy="218.35" rx="6.83" ry="8.94" transform="rotate(0 63.65 218.35)" stroke="#444" stroke-width="0.5" fill="none"/>
<ellipse cx="63.1" cy="218.1" rx="5.25" ry="6.88" transform="rotate(0 63.1 218.1)" stroke="#444" stroke-width="0.5" fill="none"/>
<ellipse cx="62.55" cy="217.85" rx="3.68" ry="4.81" transform="rotate(0 62.55 217.85)" stroke="#444" stroke-width="0.5" fill="none"/>
<ellipse cx="62" cy="217.6" rx="2.1" ry="2.75" transform="rotate(0 62 217.6)" stroke="#444" stroke-width="0.5" fill="none"/>
<rect x="23.8" y="152.1" width="31.8" height="20.2" stroke="#d9585c" fill="none" stroke-width="1.1"/>
<rect x="29.2" y="207.9" width="27.9" height="30.3" stroke="#9583c4" fill="none" stroke-width="1.1"/>
<rect x="57.1" y="208.4" width="34.5" height="29.8" stroke="#a9a9b4" fill="none" stroke-width="0.8"/>
<rect x="56.6" y="178.4" width="35" height="29.5" stroke="#62c6cf" fill="none" stroke-width="1.1"/>
<rect x="30.4" y="175.6" width="26.2" height="32.3" stroke="#3b4cc0" fill="none" stroke-width="1.1"/>
<line x1="153.5" y1="138.5" x2="155.5" y2="138.5" stroke="#999" stroke-width="0.6"/>
<line x1="154.5" y1="143.55" x2="155.5" y2="143.55" stroke="#999" stroke-width="0.6"/>
<line x1="154.5" y1="148.6" x2="155.5" y2="148.6" stroke="#999" stroke-width="0.6"/>
<line x1="154.5" y1="153.65" x2="155.5" y2="153.65" stroke="#999" stroke-width="0.6"/>
<line x1="154.5" y1="158.7" x2="155.5" y2="158.7" stroke="#999" stroke-width="0.6"/>
<line x1="153.5" y1="163.75" x2="155.5" y2="163.75" stroke="#999" stroke-width="0.6"/>
<line x1="154.5" y1="168.8" x2="155.5" y2="168.8" stroke="#999" stroke-width="0.6"/>
<line x1="154.5" y1="173.85" x2="155.5" y2="173.85" stroke="#999" stroke-width="0.6"/>
<line x1="154.5" y1="178.9" x2="155.5" y2="178.9" stroke="#999" stroke-width="0.6"/>
<line x1="154.5" y1="183.95" x2="155.5" y2="183.95" stroke="#999" stroke-width="0.6"/>
<line x1="153.5" y1="189" x2="155.5" y2="189" stroke="#999" stroke-width="0.6"/>
<line x1="154.5" y1="194.05" x2="155.5" y2="194.05" stroke="#999" stroke-width="0.6"/>
<line x1="154.5" y1="199.1" x2="155.5" y2="199.1" stroke="#999" stroke-width="0.6"/>
<line x1="154.5" y1="204.15" x2="155.5" y2="204.15" stroke="#999" stroke-width="0.6"/>
<line x1="154.5" y1="209.2" x2="155.5" y2="209.2" stroke="#999" stroke-width="0.6"/>
<line x1="153.5" y1="214.25" x2="155.5" y2="214.25" stroke="#999" stroke-width="0.6"/>
<line x1="154.5" y1="219.3" x2="155.5" y2="219.3" stroke="#999" stroke-width="0.6"/>
<line x1="154.5" y1="224.35" x2="155.5" y2="224.35" stroke="#999" stroke-width="0.6"/>
<line x1="154.5" y1="229.4" x2="155.5" y2="229.4" stroke="#999" stroke-width="0.6"/>
<line x1="154.5" y1="234.45" x2="155.5" y2="234.45" stroke="#999" stroke-width="0.6"/>
<line x1="153.5" y1="239.5" x2="155.5" y2="239.5" stroke="#999" stroke-width="0.6"/>
<line x1="155.5" y1="239.5" x2="155.5" y2="241.5" stroke="#999" stroke-width="0.6"/>
<line x1="159.46" y1="239.5" x2="159.46" y2="240.5" stroke="#999" stroke-width="0.6"/>
<line x1="163.42" y1="239.5" x2="163.42" y2="240.5" stroke="#999" stroke-width="0.6"/>
<line x1="167.38" y1="239.5" x2="167.38" y2="240.5" stroke="#999" stroke-width="0.6"/>
<line x1="171.34" y1="239.5" x2="171.34" y2="240.5" stroke="#999" stroke-width="0.6"/>
<line x1="175.3" y1="239.5" x2="175.3" y2="241.5" stroke="#999" stroke-width="0.6"/>
<line x1="179.26" y1="239.5" x2="179.26" y2="240.5" stroke="#999" stroke-width="0.6"/>
<line x1="183.22" y1="239.5" x2="183.22" y2="240.5" stroke="#999" stroke-width="0.6"/>
<line x1="187.18" y1="239.5" x2="187.18" y2="240.5" stroke="#999" stroke-width="0.6"/>
<line x1="191.14" y1="239.5" x2="191.14" y2="240.5" stroke="#999" stroke-width="0.6"/>
<line x1="195.1" y1="239.5" x2="195.1" y2="241.5" stroke="#999" stroke-width="0.6"/>
<line x1="199.06" y1="239.5" x2="199.06" y2="240.5" stroke="#999" stroke-width="0.6"/>
<line x1="203.02" y1="239.5" x2="203.02" y2="240.5" stroke="#999" stroke-width="0.6"/>
<line x1="206.98" y1="239.5" x2="206.98" y2="240.5" stroke="#999" stroke-width="0.6"/>
<line x1="210.94" y1="239.5" x2="210.94" y2="240.5" stroke="#999" stroke-width="0.6"/>
<line x1="214.9" y1="239.5" x2="214.9" y2="241.5" stroke="#999" stroke-width="0.6"/>
<line x1="218.86" y1="239.5" x2="218.86" y2="240.5" stroke="#999" stroke-width="0.6"/>
<line x1="222.82" y1="239.5" x2="222.82" y2="240.5" stroke="#999" stroke-width="0.6"/>
<line x1="226.78" y1="239.5" x2="226.78" y2="240.5" stroke="#999" stroke-width="0.6"/>
<line x1="230.74" y1="239.5" x2="230.74" y2="240.5" stroke="#999" stroke-width="0.6"/>
<line x1="234.7" y1="239.5" x2="234.7" y2="241.5" stroke="#999" stroke-width="0.6"/>
<line x1="238.66" y1="239.5" x2="238.66" y2="240.5" stroke="#999" stroke-width="0.6"/>
<line x1="242.62" y1="239.5" x2="242.62" y2="240.5" stroke="#999" stroke-width="0.6"/>
<line x1="246.58" y1="239.5" x2="246.58" y2="240.5" stroke="#999" stroke-width="0.6"/>
<line x1="250.54" y1="239.5" x2="250.54" y2="240.5" stroke="#999" stroke-width="0.6"/>
<line x1="254.5" y1="239.5" x2="254.5" y2="241.5" stroke="#999" stroke-width="0.6"/>
<path d="M155.5 239.5 L155.5 133.5 L262.5 133.5 L262.5 239.5" stroke="#6a6a6a" fill="none" stroke-width="1"/>
<line x1="155.5" y1="239.5" x2="262.5" y2="239.5" stroke="#c8c8c8" stroke-width="0.8"/>
<path d="M169 237.5 L171 209.4 L172.7 173.2 L173.7 172.2 L175.1 193.3 L176.1 213.4 L177.5 193.3 L179.1 175.2 L180.1 179.2 L181.1 203.3 L183.1 225.4 L185.1 227.5 L186.8 205.3 L188.2 213.4 L190.2 223.4 L192.2 211.4 L194.2 227.5 L196.2 235.5 L198.2 229.5 L200.2 209.4 L201.6 183.2 L203.2 181.2 L205.2 203.3 L206.8 233.5 L208.3 227.5 L210.3 193.3 L212.3 157.1 L214.3 140 L216.3 157.1 L218.3 193.3 L220.3 209.4 L222.3 203.3 L225.3 185.2 L228.4 155.1 L229.8 153.1 L231.4 163.1 L233 193.3 L234.4 219.4 L235.8 237.5 L263 237.8" stroke="#e07a80" stroke-width="0.9" fill="none" stroke-linejoin="round"/>
<path d="M159 237.5 L164 227.5 L168 219.4 L171 205.3 L174 193.3 L177 183.2 L180 173.2 L183 155.1 L185 141 L186 140 L187 153 L188.8 140 L190.2 149 L191.2 163 L193.2 171.2 L195.2 181.2 L197.2 193.3 L199.2 205.3 L201.2 219.4 L203.2 229.5 L206.2 236.5 L215.3 237.5" stroke="#7fd8d8" stroke-width="1.1" fill="none" stroke-linejoin="round"/>
<path d="M161 237.5 L167 229.5 L171 221.4 L175 213.4 L178 203.3 L180 193.3 L182 183.2 L184 173.2 L186 165.2 L188 159.1 L190.2 153.1 L192.2 145.1 L194.2 141 L196.2 139 L197.6 143 L199.2 151.1 L200.8 159.1 L202.2 173.2 L203.2 183.2 L205.2 199.3 L207.2 213.4 L209.3 225.4 L212.3 235.5 L221.3 237.5" stroke="#3a3cb8" stroke-width="1.3" fill="none" stroke-linejoin="round" stroke-dasharray="1.4 0.6"/>
<line x1="203.3" y1="202.4" x2="239" y2="202.4" stroke="#666" stroke-width="0.9"/>
<line x1="239" y1="200" x2="239" y2="204.8" stroke="#666" stroke-width="0.8"/>
<text x="237.2" y="189.3" font-size="8.4" font-weight="700" text-anchor="start" fill="#000">55%</text>
<path d="M147.9 210.4 L147.9 246.3 L183.4 246.3" stroke="#000" stroke-width="1.8" fill="none" stroke-linejoin="round"/>
<path d="M144.5 213.8 L147.9 210.2 L151.3 213.8" stroke="#000" stroke-width="1.8" fill="none" stroke-linejoin="round"/>
<path d="M180 242.9 L183.6 246.3 L180 249.7" stroke="#000" stroke-width="1.8" fill="none" stroke-linejoin="round"/>
<text x="150.9" y="199.2" font-size="8.3" font-weight="700" text-anchor="middle" textLength="12.6" lengthAdjust="spacingAndGlyphs" transform="rotate(-90 150.9 199.2)">MFI</text>
<text x="188.3" y="249.8" font-size="8.3" font-weight="700" textLength="20.2" lengthAdjust="spacingAndGlyphs">CD38</text>
<line x1="180.5" y1="428.5" x2="182.5" y2="428.5" stroke="#999" stroke-width="0.6"/>
<line x1="181.5" y1="434.56" x2="182.5" y2="434.56" stroke="#999" stroke-width="0.6"/>
<line x1="181.5" y1="440.62" x2="182.5" y2="440.62" stroke="#999" stroke-width="0.6"/>
<line x1="181.5" y1="446.69" x2="182.5" y2="446.69" stroke="#999" stroke-width="0.6"/>
<line x1="181.5" y1="452.75" x2="182.5" y2="452.75" stroke="#999" stroke-width="0.6"/>
<line x1="180.5" y1="458.81" x2="182.5" y2="458.81" stroke="#999" stroke-width="0.6"/>
<line x1="181.5" y1="464.88" x2="182.5" y2="464.88" stroke="#999" stroke-width="0.6"/>
<line x1="181.5" y1="470.94" x2="182.5" y2="470.94" stroke="#999" stroke-width="0.6"/>
<line x1="181.5" y1="477" x2="182.5" y2="477" stroke="#999" stroke-width="0.6"/>
<line x1="181.5" y1="483.06" x2="182.5" y2="483.06" stroke="#999" stroke-width="0.6"/>
<line x1="180.5" y1="489.12" x2="182.5" y2="489.12" stroke="#999" stroke-width="0.6"/>
<line x1="181.5" y1="495.19" x2="182.5" y2="495.19" stroke="#999" stroke-width="0.6"/>
<line x1="181.5" y1="501.25" x2="182.5" y2="501.25" stroke="#999" stroke-width="0.6"/>
<line x1="181.5" y1="507.31" x2="182.5" y2="507.31" stroke="#999" stroke-width="0.6"/>
<line x1="181.5" y1="513.38" x2="182.5" y2="513.38" stroke="#999" stroke-width="0.6"/>
<line x1="180.5" y1="519.44" x2="182.5" y2="519.44" stroke="#999" stroke-width="0.6"/>
<line x1="181.5" y1="525.5" x2="182.5" y2="525.5" stroke="#999" stroke-width="0.6"/>
<line x1="182.5" y1="525.5" x2="182.5" y2="527.5" stroke="#999" stroke-width="0.6"/>
<line x1="187.5" y1="525.5" x2="187.5" y2="526.5" stroke="#999" stroke-width="0.6"/>
<line x1="192.5" y1="525.5" x2="192.5" y2="526.5" stroke="#999" stroke-width="0.6"/>
<line x1="197.5" y1="525.5" x2="197.5" y2="526.5" stroke="#999" stroke-width="0.6"/>
<line x1="202.5" y1="525.5" x2="202.5" y2="526.5" stroke="#999" stroke-width="0.6"/>
<line x1="207.5" y1="525.5" x2="207.5" y2="527.5" stroke="#999" stroke-width="0.6"/>
<line x1="212.5" y1="525.5" x2="212.5" y2="526.5" stroke="#999" stroke-width="0.6"/>
<line x1="217.5" y1="525.5" x2="217.5" y2="526.5" stroke="#999" stroke-width="0.6"/>
<line x1="222.5" y1="525.5" x2="222.5" y2="526.5" stroke="#999" stroke-width="0.6"/>
<line x1="227.5" y1="525.5" x2="227.5" y2="526.5" stroke="#999" stroke-width="0.6"/>
<line x1="232.5" y1="525.5" x2="232.5" y2="527.5" stroke="#999" stroke-width="0.6"/>
<line x1="237.5" y1="525.5" x2="237.5" y2="526.5" stroke="#999" stroke-width="0.6"/>
<line x1="242.5" y1="525.5" x2="242.5" y2="526.5" stroke="#999" stroke-width="0.6"/>
<line x1="247.5" y1="525.5" x2="247.5" y2="526.5" stroke="#999" stroke-width="0.6"/>
<line x1="252.5" y1="525.5" x2="252.5" y2="526.5" stroke="#999" stroke-width="0.6"/>
<line x1="257.5" y1="525.5" x2="257.5" y2="527.5" stroke="#999" stroke-width="0.6"/>
<line x1="262.5" y1="525.5" x2="262.5" y2="526.5" stroke="#999" stroke-width="0.6"/>
<line x1="267.5" y1="525.5" x2="267.5" y2="526.5" stroke="#999" stroke-width="0.6"/>
<line x1="272.5" y1="525.5" x2="272.5" y2="526.5" stroke="#999" stroke-width="0.6"/>
<line x1="277.5" y1="525.5" x2="277.5" y2="526.5" stroke="#999" stroke-width="0.6"/>
<line x1="282.5" y1="525.5" x2="282.5" y2="527.5" stroke="#999" stroke-width="0.6"/>
<rect x="182.5" y="420.5" width="106" height="105" stroke="#787878" fill="none" stroke-width="1"/>
<path d="M173.9 498.6 L173.9 533.5 L208.9 533.5" stroke="#000" stroke-width="1.8" fill="none" stroke-linejoin="round"/>
<path d="M170.5 502 L173.9 498.4 L177.3 502" stroke="#000" stroke-width="1.8" fill="none" stroke-linejoin="round"/>
<path d="M205.5 530.1 L209.1 533.5 L205.5 536.9" stroke="#000" stroke-width="1.8" fill="none" stroke-linejoin="round"/>
<text x="177" y="483.7" font-size="8.3" font-weight="700" text-anchor="middle" textLength="19.2" lengthAdjust="spacingAndGlyphs" transform="rotate(-90 177 483.7)">CD19</text>
<text x="213.2" y="536.4" font-size="8.3" font-weight="700" textLength="20.6" lengthAdjust="spacingAndGlyphs">CD20</text>
<rect x="183" y="500" width="3.2" height="25" fill="#111"/>
<path d="M184.52 466.15h1.0v1.0h-1.0zM183.66 496.21h1.0v1.0h-1.0zM185.31 486.37h1.0v1.0h-1.0zM185.21 472.88h1.0v1.0h-1.0zM185.93 481.36h1.0v1.0h-1.0zM186.12 485.11h1.0v1.0h-1.0zM186.36 475.33h1.0v1.0h-1.0zM183.62 462.59h1.0v1.0h-1.0zM185.89 463.37h1.0v1.0h-1.0zM185.62 483.31h1.0v1.0h-1.0zM183.24 490.51h1.0v1.0h-1.0zM183.13 494.14h1.0v1.0h-1.0zM186.36 465.5h1.0v1.0h-1.0zM185.9 488.22h1.0v1.0h-1.0zM183.5 485.48h1.0v1.0h-1.0zM183.5 496.18h1.0v1.0h-1.0zM185.76 499.12h1.0v1.0h-1.0zM183.21 469.98h1.0v1.0h-1.0zM185.48 482.76h1.0v1.0h-1.0zM183.73 495.06h1.0v1.0h-1.0zM186.39 469.26h1.0v1.0h-1.0zM183.58 485.38h1.0v1.0h-1.0zM184.63 485.19h1.0v1.0h-1.0zM184.97 473.37h1.0v1.0h-1.0zM183.09 461.94h1.0v1.0h-1.0zM184.83 488.04h1.0v1.0h-1.0zM184.7 488.76h1.0v1.0h-1.0zM185.16 494.74h1.0v1.0h-1.0zM185.62 470.16h1.0v1.0h-1.0zM183.56 458.89h1.0v1.0h-1.0zM183.16 493.95h1.0v1.0h-1.0zM186.5 489.06h1.0v1.0h-1.0zM183.44 485.06h1.0v1.0h-1.0zM183.51 495.12h1.0v1.0h-1.0zM185.62 488.98h1.0v1.0h-1.0zM185.44 474.41h1.0v1.0h-1.0zM186.39 498.31h1.0v1.0h-1.0zM183.97 475.25h1.0v1.0h-1.0zM185.93 485.92h1.0v1.0h-1.0zM184.64 475.8h1.0v1.0h-1.0zM186.87 468.14h1.0v1.0h-1.0zM183.85 486.19h1.0v1.0h-1.0zM184.11 495.49h1.0v1.0h-1.0zM184.3 496.68h1.0v1.0h-1.0zM184.52 494.95h1.0v1.0h-1.0zM186 488.21h1.0v1.0h-1.0zM183.86 463.23h1.0v1.0h-1.0zM183.12 463.95h1.0v1.0h-1.0zM185.67 458.83h1.0v1.0h-1.0zM183.95 480.95h1.0v1.0h-1.0zM183.62 470.48h1.0v1.0h-1.0zM183.91 485.75h1.0v1.0h-1.0zM183.47 499.89h1.0v1.0h-1.0zM185.39 487.37h1.0v1.0h-1.0zM185.21 477.9h1.0v1.0h-1.0zM186.88 495.32h1.0v1.0h-1.0zM186.29 457.31h1.0v1.0h-1.0zM185.36 497.43h1.0v1.0h-1.0zM185.55 478.57h1.0v1.0h-1.0zM185.6 463.79h1.0v1.0h-1.0zM185.91 490.48h1.0v1.0h-1.0zM183.29 478.43h1.0v1.0h-1.0zM185.38 471.49h1.0v1.0h-1.0zM185.73 496.57h1.0v1.0h-1.0zM186.62 469.54h1.0v1.0h-1.0zM183.61 493.57h1.0v1.0h-1.0zM185.45 492.5h1.0v1.0h-1.0zM186.48 468.3h1.0v1.0h-1.0zM185.35 469.34h1.0v1.0h-1.0zM186.19 486.43h1.0v1.0h-1.0zM183.96 478.01h1.0v1.0h-1.0zM185.38 466.25h1.0v1.0h-1.0zM183.73 476.87h1.0v1.0h-1.0zM183.29 477.79h1.0v1.0h-1.0zM186.76 492.34h1.0v1.0h-1.0zM183.22 492.33h1.0v1.0h-1.0zM185.87 487.16h1.0v1.0h-1.0zM183.11 489.44h1.0v1.0h-1.0zM183.78 491.33h1.0v1.0h-1.0zM184.29 472.13h1.0v1.0h-1.0zM183.69 494.17h1.0v1.0h-1.0zM183.89 494.4h1.0v1.0h-1.0zM185.06 462.53h1.0v1.0h-1.0zM185.62 479.36h1.0v1.0h-1.0zM183.11 492.24h1.0v1.0h-1.0zM184.08 457.05h1.0v1.0h-1.0zM186.07 487.99h1.0v1.0h-1.0zM184.54 464.19h1.0v1.0h-1.0zM185.11 481.8h1.0v1.0h-1.0zM185.76 477.54h1.0v1.0h-1.0zM185.27 487.71h1.0v1.0h-1.0zM183.76 463.95h1.0v1.0h-1.0zM184.94 489.18h1.0v1.0h-1.0zM186.21 493.55h1.0v1.0h-1.0zM184.76 487.4h1.0v1.0h-1.0zM183.42 473.1h1.0v1.0h-1.0zM183.27 492.75h1.0v1.0h-1.0zM187 485.47h1.0v1.0h-1.0zM186.01 472.38h1.0v1.0h-1.0zM186.18 459.74h1.0v1.0h-1.0zM184.48 471.44h1.0v1.0h-1.0zM186.46 463.61h1.0v1.0h-1.0zM183.64 459.93h1.0v1.0h-1.0zM186.37 469.88h1.0v1.0h-1.0zM186.61 469.77h1.0v1.0h-1.0zM186.35 464.58h1.0v1.0h-1.0zM186.61 498.84h1.0v1.0h-1.0zM186.51 486.44h1.0v1.0h-1.0zM186.59 496.23h1.0v1.0h-1.0zM186.86 468.12h1.0v1.0h-1.0zM186.4 490.31h1.0v1.0h-1.0zM184.38 463.4h1.0v1.0h-1.0zM186.6 476.78h1.0v1.0h-1.0zM185.12 495.01h1.0v1.0h-1.0zM184.94 467.11h1.0v1.0h-1.0zM185.74 479.42h1.0v1.0h-1.0zM184.09 486.45h1.0v1.0h-1.0zM186.62 466.82h1.0v1.0h-1.0zM186.25 489.16h1.0v1.0h-1.0zM185.09 464.5h1.0v1.0h-1.0z" fill="#000" fill-opacity="1.0"/>
<path d="M186.99 474.7h0.9v0.9h-0.9zM185.75 514.74h0.9v0.9h-0.9zM185.81 461.47h0.9v0.9h-0.9zM187.54 524.64h0.9v0.9h-0.9zM185.92 483.35h0.9v0.9h-0.9zM186.63 507.7h0.9v0.9h-0.9zM185.04 500.36h0.9v0.9h-0.9zM185.7 520.03h0.9v0.9h-0.9zM186.24 521.1h0.9v0.9h-0.9zM186.35 500.85h0.9v0.9h-0.9zM185.11 469.19h0.9v0.9h-0.9zM185.89 480.85h0.9v0.9h-0.9zM185.52 484.47h0.9v0.9h-0.9zM185.26 494.64h0.9v0.9h-0.9zM187.89 515h0.9v0.9h-0.9zM186.87 523.72h0.9v0.9h-0.9zM187.19 499.4h0.9v0.9h-0.9zM186.37 460.76h0.9v0.9h-0.9zM187.68 517.73h0.9v0.9h-0.9zM187.41 503.23h0.9v0.9h-0.9zM187.44 522.1h0.9v0.9h-0.9zM187.92 508.88h0.9v0.9h-0.9zM185.05 521.31h0.9v0.9h-0.9zM186.7 486.65h0.9v0.9h-0.9zM186.29 473.93h0.9v0.9h-0.9zM185.1 498.28h0.9v0.9h-0.9zM186.85 461.05h0.9v0.9h-0.9zM187.77 518.24h0.9v0.9h-0.9zM187.59 492.62h0.9v0.9h-0.9zM186.15 487.93h0.9v0.9h-0.9zM186.11 521.89h0.9v0.9h-0.9zM187.76 517.9h0.9v0.9h-0.9zM186.56 490.77h0.9v0.9h-0.9zM187.06 475.25h0.9v0.9h-0.9zM185.55 523.95h0.9v0.9h-0.9zM185.81 473.91h0.9v0.9h-0.9zM186.48 461.18h0.9v0.9h-0.9zM186.57 466.22h0.9v0.9h-0.9zM187.49 460.73h0.9v0.9h-0.9zM187.41 473.81h0.9v0.9h-0.9zM187.36 511.05h0.9v0.9h-0.9zM187.87 467.22h0.9v0.9h-0.9zM187.95 465.36h0.9v0.9h-0.9zM186.05 455.51h0.9v0.9h-0.9zM186.48 460.74h0.9v0.9h-0.9zM186.67 520.32h0.9v0.9h-0.9zM187.35 500.34h0.9v0.9h-0.9zM185.27 524.05h0.9v0.9h-0.9zM186.09 521.46h0.9v0.9h-0.9zM185.44 475.93h0.9v0.9h-0.9zM187.84 507.29h0.9v0.9h-0.9zM185.56 487.03h0.9v0.9h-0.9zM186.63 472.63h0.9v0.9h-0.9zM185.66 460.87h0.9v0.9h-0.9zM186.53 484.11h0.9v0.9h-0.9zM186.05 488.57h0.9v0.9h-0.9zM186.04 482.04h0.9v0.9h-0.9zM187.29 465.37h0.9v0.9h-0.9zM185.29 486.29h0.9v0.9h-0.9zM185.87 488.26h0.9v0.9h-0.9z" fill="#000" fill-opacity="1.0"/>
<path d="M185.58 457.3h0.9v0.9h-0.9zM185.45 456.97h0.9v0.9h-0.9zM183.69 449.5h0.9v0.9h-0.9zM183.33 448.77h0.9v0.9h-0.9zM183.78 448.12h0.9v0.9h-0.9zM184 457.23h0.9v0.9h-0.9zM184.55 456.7h0.9v0.9h-0.9zM184.58 454.74h0.9v0.9h-0.9zM185.01 452.7h0.9v0.9h-0.9zM185.77 452.72h0.9v0.9h-0.9z" fill="#000" fill-opacity="1.0"/>
<path d="M214.2 468.52h1.0v1.0h-1.0zM191.54 482.88h1.0v1.0h-1.0zM208.75 461.4h1.0v1.0h-1.0zM210.72 469.76h1.0v1.0h-1.0zM208.87 512.24h1.0v1.0h-1.0zM239.97 480.69h1.0v1.0h-1.0zM225.87 516.26h1.0v1.0h-1.0zM202.25 480.56h1.0v1.0h-1.0zM210.27 512.25h1.0v1.0h-1.0zM202.98 516.55h1.0v1.0h-1.0zM196.38 501.02h1.0v1.0h-1.0zM221.33 454.45h1.0v1.0h-1.0zM204.33 512.16h1.0v1.0h-1.0zM208.51 456.12h1.0v1.0h-1.0zM212.32 490.94h1.0v1.0h-1.0zM212.29 482.31h1.0v1.0h-1.0zM238.54 500.3h1.0v1.0h-1.0zM210.87 484.17h1.0v1.0h-1.0zM229.1 469.15h1.0v1.0h-1.0zM212.99 506.75h1.0v1.0h-1.0zM191.06 462.65h1.0v1.0h-1.0zM188.84 500.23h1.0v1.0h-1.0zM230.8 499.65h1.0v1.0h-1.0zM220.72 454.28h1.0v1.0h-1.0zM206.38 485.29h1.0v1.0h-1.0zM204.86 470.02h1.0v1.0h-1.0zM206.8 468.37h1.0v1.0h-1.0zM189.92 493.12h1.0v1.0h-1.0zM187.37 483.2h1.0v1.0h-1.0zM208.49 510.34h1.0v1.0h-1.0zM225.55 485.01h1.0v1.0h-1.0zM186.34 503.25h1.0v1.0h-1.0zM226.53 497.93h1.0v1.0h-1.0zM208.17 490.47h1.0v1.0h-1.0zM191.87 497.11h1.0v1.0h-1.0zM193.39 500.21h1.0v1.0h-1.0zM220.27 501.31h1.0v1.0h-1.0zM196.33 503.29h1.0v1.0h-1.0zM228.85 463.33h1.0v1.0h-1.0zM229.36 464.76h1.0v1.0h-1.0zM186.94 480.93h1.0v1.0h-1.0zM190.37 520.57h1.0v1.0h-1.0zM238.1 470.7h1.0v1.0h-1.0zM234.7 477.2h1.0v1.0h-1.0zM231.82 460.97h1.0v1.0h-1.0zM238.68 484.08h1.0v1.0h-1.0zM199.21 484.04h1.0v1.0h-1.0zM212.59 494.92h1.0v1.0h-1.0zM204.81 470.82h1.0v1.0h-1.0zM187.18 517.97h1.0v1.0h-1.0zM225.17 471.04h1.0v1.0h-1.0zM228.36 501.69h1.0v1.0h-1.0zM221.79 484.55h1.0v1.0h-1.0zM234.74 518.68h1.0v1.0h-1.0zM228.46 465.37h1.0v1.0h-1.0zM211.05 498.37h1.0v1.0h-1.0zM239.3 488.37h1.0v1.0h-1.0zM213 456.9h1.0v1.0h-1.0zM189.6 471.34h1.0v1.0h-1.0zM223.88 467.45h1.0v1.0h-1.0zM228.27 498.29h1.0v1.0h-1.0zM202.06 489.59h1.0v1.0h-1.0zM221.1 506.15h1.0v1.0h-1.0zM221.69 510.02h1.0v1.0h-1.0zM202.97 507.82h1.0v1.0h-1.0zM227.99 520.51h1.0v1.0h-1.0zM209.21 459.86h1.0v1.0h-1.0zM214.93 500.81h1.0v1.0h-1.0zM237.18 506.45h1.0v1.0h-1.0zM216.64 513.61h1.0v1.0h-1.0zM233.63 496.07h1.0v1.0h-1.0zM201.22 452.7h1.0v1.0h-1.0zM205.66 523.24h1.0v1.0h-1.0zM200.47 501.61h1.0v1.0h-1.0zM227.15 475.3h1.0v1.0h-1.0zM219.69 515.77h1.0v1.0h-1.0zM226.58 476.11h1.0v1.0h-1.0zM199.45 510.18h1.0v1.0h-1.0zM229.89 515.17h1.0v1.0h-1.0zM232.84 509.36h1.0v1.0h-1.0zM207.89 506.43h1.0v1.0h-1.0zM228.82 511.21h1.0v1.0h-1.0zM198.05 523.02h1.0v1.0h-1.0zM218.23 517.43h1.0v1.0h-1.0zM214.95 508.2h1.0v1.0h-1.0zM219.83 472.95h1.0v1.0h-1.0zM213.47 511.15h1.0v1.0h-1.0zM201.63 518.58h1.0v1.0h-1.0zM226.98 508.74h1.0v1.0h-1.0zM215.53 503.02h1.0v1.0h-1.0zM221.58 481.9h1.0v1.0h-1.0zM186.11 492.37h1.0v1.0h-1.0zM224.66 491.94h1.0v1.0h-1.0zM208.43 491.42h1.0v1.0h-1.0zM191.86 498.38h1.0v1.0h-1.0zM189.7 461.49h1.0v1.0h-1.0zM190.45 520.59h1.0v1.0h-1.0zM236.88 497.09h1.0v1.0h-1.0zM223.08 486.11h1.0v1.0h-1.0zM192.03 493.57h1.0v1.0h-1.0zM192.18 472.19h1.0v1.0h-1.0zM193.99 469.68h1.0v1.0h-1.0zM236.21 487.53h1.0v1.0h-1.0zM216.77 462.4h1.0v1.0h-1.0zM194.52 459.59h1.0v1.0h-1.0zM225.28 493.66h1.0v1.0h-1.0zM227.54 494.21h1.0v1.0h-1.0zM200.06 480.69h1.0v1.0h-1.0zM206.54 518.72h1.0v1.0h-1.0zM225.36 511.94h1.0v1.0h-1.0zM222.83 521.3h1.0v1.0h-1.0zM190.49 454.79h1.0v1.0h-1.0zM236.04 467.12h1.0v1.0h-1.0zM211.91 494.09h1.0v1.0h-1.0zM198.55 471.87h1.0v1.0h-1.0zM235.46 465.17h1.0v1.0h-1.0zM232.58 485.75h1.0v1.0h-1.0zM224.6 480.25h1.0v1.0h-1.0zM224 502.72h1.0v1.0h-1.0zM209.67 473.55h1.0v1.0h-1.0zM210.05 505.68h1.0v1.0h-1.0zM186.61 466.93h1.0v1.0h-1.0zM205.64 502.19h1.0v1.0h-1.0zM214.48 468.19h1.0v1.0h-1.0zM235.21 493.39h1.0v1.0h-1.0zM235.83 479.35h1.0v1.0h-1.0zM239.23 493.83h1.0v1.0h-1.0zM205.38 463.07h1.0v1.0h-1.0zM230.83 464.55h1.0v1.0h-1.0zM232.02 510.45h1.0v1.0h-1.0zM193.41 504.4h1.0v1.0h-1.0zM225.26 458.71h1.0v1.0h-1.0zM228.52 520.38h1.0v1.0h-1.0zM204.8 490.16h1.0v1.0h-1.0zM208.99 469.18h1.0v1.0h-1.0zM195.03 499.83h1.0v1.0h-1.0zM187.21 490.93h1.0v1.0h-1.0zM200.86 514.51h1.0v1.0h-1.0zM202.44 453.64h1.0v1.0h-1.0zM203.38 481.55h1.0v1.0h-1.0zM210.24 481.53h1.0v1.0h-1.0zM201.95 521.35h1.0v1.0h-1.0zM186.77 468.1h1.0v1.0h-1.0zM231.91 466.5h1.0v1.0h-1.0zM197.75 480.13h1.0v1.0h-1.0zM221.4 511.35h1.0v1.0h-1.0zM230.08 464.75h1.0v1.0h-1.0zM231.2 513.87h1.0v1.0h-1.0zM192.46 479.26h1.0v1.0h-1.0zM197.91 485.18h1.0v1.0h-1.0zM229.81 509.81h1.0v1.0h-1.0zM202.22 518.46h1.0v1.0h-1.0zM227.29 506.93h1.0v1.0h-1.0zM195.74 463.22h1.0v1.0h-1.0zM213.39 495.91h1.0v1.0h-1.0zM192.98 514.98h1.0v1.0h-1.0zM218.07 518.81h1.0v1.0h-1.0zM236.76 480.79h1.0v1.0h-1.0zM201.44 512.22h1.0v1.0h-1.0zM213.86 495.23h1.0v1.0h-1.0zM226.35 522.41h1.0v1.0h-1.0zM214.83 485.02h1.0v1.0h-1.0zM210.55 467.8h1.0v1.0h-1.0zM220.21 511.2h1.0v1.0h-1.0zM209.85 466.94h1.0v1.0h-1.0zM192.78 516.88h1.0v1.0h-1.0zM218.78 519.35h1.0v1.0h-1.0zM201.04 472.56h1.0v1.0h-1.0zM196.07 497.91h1.0v1.0h-1.0zM217.43 513.67h1.0v1.0h-1.0zM218.99 476.07h1.0v1.0h-1.0zM191.74 508.59h1.0v1.0h-1.0zM239.11 475.62h1.0v1.0h-1.0zM203.48 489.83h1.0v1.0h-1.0zM207.02 505.61h1.0v1.0h-1.0zM212.9 486.75h1.0v1.0h-1.0zM207.15 470.05h1.0v1.0h-1.0zM237.7 519.94h1.0v1.0h-1.0zM197.75 479.06h1.0v1.0h-1.0zM226.26 477.47h1.0v1.0h-1.0zM210.73 492.62h1.0v1.0h-1.0zM201.14 479.89h1.0v1.0h-1.0zM226.22 519.62h1.0v1.0h-1.0zM189.63 515.08h1.0v1.0h-1.0zM190.88 499.38h1.0v1.0h-1.0zM188.95 491.26h1.0v1.0h-1.0zM198.81 510.23h1.0v1.0h-1.0zM187.15 488.87h1.0v1.0h-1.0zM239.81 490.27h1.0v1.0h-1.0zM210.76 498.72h1.0v1.0h-1.0zM230.47 501.36h1.0v1.0h-1.0zM209.3 466.79h1.0v1.0h-1.0zM229.83 488.25h1.0v1.0h-1.0zM203.18 485.55h1.0v1.0h-1.0zM202.49 501.85h1.0v1.0h-1.0zM227.8 486.18h1.0v1.0h-1.0zM235.38 506.05h1.0v1.0h-1.0zM206.5 457.85h1.0v1.0h-1.0zM208.7 479.38h1.0v1.0h-1.0zM197.41 501.53h1.0v1.0h-1.0zM234.37 483.94h1.0v1.0h-1.0zM192.49 492.28h1.0v1.0h-1.0zM205.05 455.16h1.0v1.0h-1.0zM191.44 479.99h1.0v1.0h-1.0zM187.94 461.45h1.0v1.0h-1.0zM238.97 490.43h1.0v1.0h-1.0zM196.33 454.99h1.0v1.0h-1.0zM202.04 475.29h1.0v1.0h-1.0zM237.53 488.19h1.0v1.0h-1.0zM231.12 492.19h1.0v1.0h-1.0zM220.77 476.34h1.0v1.0h-1.0zM202.65 463.78h1.0v1.0h-1.0zM198.85 496.07h1.0v1.0h-1.0zM209.34 490.89h1.0v1.0h-1.0zM239.32 504.66h1.0v1.0h-1.0zM238.29 507.09h1.0v1.0h-1.0zM199.81 455.04h1.0v1.0h-1.0zM225.2 462.57h1.0v1.0h-1.0zM222.72 458.19h1.0v1.0h-1.0zM218.44 490h1.0v1.0h-1.0zM211.7 510.26h1.0v1.0h-1.0zM225.18 467.91h1.0v1.0h-1.0zM213.57 481.9h1.0v1.0h-1.0zM207.68 468.34h1.0v1.0h-1.0zM198.41 496.39h1.0v1.0h-1.0zM189.48 482.89h1.0v1.0h-1.0zM213.84 485.18h1.0v1.0h-1.0zM224.72 509.96h1.0v1.0h-1.0zM216.12 463.69h1.0v1.0h-1.0zM195.91 519.19h1.0v1.0h-1.0zM212.15 487.19h1.0v1.0h-1.0zM198.27 497.37h1.0v1.0h-1.0zM207.29 492.92h1.0v1.0h-1.0zM216.99 517.64h1.0v1.0h-1.0zM229.46 517.74h1.0v1.0h-1.0zM220.4 471.67h1.0v1.0h-1.0zM205.12 489h1.0v1.0h-1.0zM215.21 493.76h1.0v1.0h-1.0zM210.55 459.75h1.0v1.0h-1.0zM223.25 467.19h1.0v1.0h-1.0zM225.3 476.03h1.0v1.0h-1.0zM206.11 513.1h1.0v1.0h-1.0zM238.76 480.29h1.0v1.0h-1.0zM202.72 479.93h1.0v1.0h-1.0zM197.48 482.76h1.0v1.0h-1.0zM233.05 522.47h1.0v1.0h-1.0zM233.21 498.33h1.0v1.0h-1.0zM209.82 486.39h1.0v1.0h-1.0zM194.39 470.16h1.0v1.0h-1.0zM188.61 507.84h1.0v1.0h-1.0zM191.87 464.85h1.0v1.0h-1.0zM209.87 510.47h1.0v1.0h-1.0zM190.15 506.28h1.0v1.0h-1.0zM202.74 481.06h1.0v1.0h-1.0zM211.21 523.13h1.0v1.0h-1.0zM219.61 475.55h1.0v1.0h-1.0zM204.36 511.27h1.0v1.0h-1.0zM222.06 490.31h1.0v1.0h-1.0zM203.05 479.14h1.0v1.0h-1.0zM212.31 511.1h1.0v1.0h-1.0zM200.9 492.91h1.0v1.0h-1.0zM198.74 506.95h1.0v1.0h-1.0zM189.9 520.15h1.0v1.0h-1.0zM210.28 497.51h1.0v1.0h-1.0zM192.1 484.04h1.0v1.0h-1.0zM212.15 508.08h1.0v1.0h-1.0zM219.3 462.78h1.0v1.0h-1.0zM190.44 470.78h1.0v1.0h-1.0zM218.63 460.31h1.0v1.0h-1.0zM194.69 477.23h1.0v1.0h-1.0zM199.3 495.7h1.0v1.0h-1.0zM198.41 466.77h1.0v1.0h-1.0zM228.07 496.77h1.0v1.0h-1.0zM227.42 462.46h1.0v1.0h-1.0zM221.15 479.23h1.0v1.0h-1.0zM212.46 467.42h1.0v1.0h-1.0zM231.79 510.62h1.0v1.0h-1.0zM211.85 478.05h1.0v1.0h-1.0zM199.99 488.37h1.0v1.0h-1.0zM202.93 483.58h1.0v1.0h-1.0zM220.05 513.28h1.0v1.0h-1.0zM229.68 479.98h1.0v1.0h-1.0zM192.52 484.81h1.0v1.0h-1.0zM234.88 480.27h1.0v1.0h-1.0zM203.01 490.47h1.0v1.0h-1.0zM217.63 518.13h1.0v1.0h-1.0zM236.79 522.67h1.0v1.0h-1.0zM189.84 504.27h1.0v1.0h-1.0zM213.28 494.26h1.0v1.0h-1.0zM233.11 473.58h1.0v1.0h-1.0zM186.26 470.2h1.0v1.0h-1.0zM211.96 461.68h1.0v1.0h-1.0zM227.52 474.5h1.0v1.0h-1.0zM235.18 488.44h1.0v1.0h-1.0zM202.57 456.55h1.0v1.0h-1.0zM200.96 476.35h1.0v1.0h-1.0zM202.53 506.01h1.0v1.0h-1.0zM233.44 499.01h1.0v1.0h-1.0zM211.12 500.62h1.0v1.0h-1.0zM188.5 488.68h1.0v1.0h-1.0zM215.95 496.33h1.0v1.0h-1.0zM200.98 514.43h1.0v1.0h-1.0zM205.41 484.51h1.0v1.0h-1.0zM192.76 489.35h1.0v1.0h-1.0zM186.17 490.17h1.0v1.0h-1.0zM197.56 520.51h1.0v1.0h-1.0zM211.04 468.76h1.0v1.0h-1.0zM223.2 462.02h1.0v1.0h-1.0zM215.29 484.43h1.0v1.0h-1.0zM238.87 505.29h1.0v1.0h-1.0zM234.09 522.97h1.0v1.0h-1.0zM219.59 500.18h1.0v1.0h-1.0zM224.55 511.3h1.0v1.0h-1.0zM234.64 514.95h1.0v1.0h-1.0zM237.57 519.49h1.0v1.0h-1.0zM195.49 507.63h1.0v1.0h-1.0zM225.95 516.37h1.0v1.0h-1.0zM206.23 506.99h1.0v1.0h-1.0zM186.31 479.79h1.0v1.0h-1.0zM198.73 469.44h1.0v1.0h-1.0zM190.72 489.01h1.0v1.0h-1.0zM193.78 455.89h1.0v1.0h-1.0zM220.45 508.02h1.0v1.0h-1.0zM204.39 454.99h1.0v1.0h-1.0zM234.7 477.59h1.0v1.0h-1.0zM207.69 516.95h1.0v1.0h-1.0zM194.46 499.1h1.0v1.0h-1.0zM206.52 495.43h1.0v1.0h-1.0zM211.26 466.46h1.0v1.0h-1.0zM238.65 489.81h1.0v1.0h-1.0zM196.28 485.08h1.0v1.0h-1.0zM219.6 517.98h1.0v1.0h-1.0zM202.89 459.81h1.0v1.0h-1.0zM212.19 513.08h1.0v1.0h-1.0zM187.7 518.23h1.0v1.0h-1.0zM213.71 486.04h1.0v1.0h-1.0zM220.92 505.11h1.0v1.0h-1.0zM222.64 518.53h1.0v1.0h-1.0zM220.46 474.6h1.0v1.0h-1.0zM208.74 481.87h1.0v1.0h-1.0zM198.24 473.91h1.0v1.0h-1.0zM207 520.02h1.0v1.0h-1.0zM235.97 505h1.0v1.0h-1.0zM225.85 470.55h1.0v1.0h-1.0zM206.45 466.71h1.0v1.0h-1.0zM231.85 500.99h1.0v1.0h-1.0zM226.83 509.2h1.0v1.0h-1.0zM215.24 506.56h1.0v1.0h-1.0zM231.53 497.85h1.0v1.0h-1.0zM203.76 492.39h1.0v1.0h-1.0zM232.42 476.62h1.0v1.0h-1.0zM224.66 460.81h1.0v1.0h-1.0zM211.54 523.87h1.0v1.0h-1.0zM218.77 486.58h1.0v1.0h-1.0zM203.59 478.6h1.0v1.0h-1.0zM222.86 518.16h1.0v1.0h-1.0zM193.11 476.58h1.0v1.0h-1.0zM206.88 472.87h1.0v1.0h-1.0zM240.27 510.84h1.0v1.0h-1.0zM215.17 453.4h1.0v1.0h-1.0zM236.16 504.95h1.0v1.0h-1.0zM235.39 473.81h1.0v1.0h-1.0zM203.95 481.4h1.0v1.0h-1.0zM208.7 484.74h1.0v1.0h-1.0zM189.91 483.1h1.0v1.0h-1.0zM194.32 486.95h1.0v1.0h-1.0zM211.32 499.94h1.0v1.0h-1.0zM233.27 486.43h1.0v1.0h-1.0zM234.86 465.87h1.0v1.0h-1.0zM205.06 460.99h1.0v1.0h-1.0zM232.08 510.63h1.0v1.0h-1.0zM218.77 472.05h1.0v1.0h-1.0zM205.11 455.06h1.0v1.0h-1.0zM221.29 467.44h1.0v1.0h-1.0zM198.73 472.38h1.0v1.0h-1.0zM230.42 472.79h1.0v1.0h-1.0zM238.49 493.78h1.0v1.0h-1.0zM192.77 467.99h1.0v1.0h-1.0zM218.03 459.25h1.0v1.0h-1.0zM230.47 478.79h1.0v1.0h-1.0z" fill="#000" fill-opacity="1.0"/>
<path d="M186.77 460.69h1.0v1.0h-1.0zM200.89 459.04h1.0v1.0h-1.0zM200.36 477.97h1.0v1.0h-1.0zM214.76 473.58h1.0v1.0h-1.0zM216.31 464.99h1.0v1.0h-1.0zM202.15 463.58h1.0v1.0h-1.0zM211.95 475.18h1.0v1.0h-1.0zM226.42 469.7h1.0v1.0h-1.0zM226.76 461.4h1.0v1.0h-1.0zM208.74 477.6h1.0v1.0h-1.0zM187.16 464.69h1.0v1.0h-1.0zM204.26 480.65h1.0v1.0h-1.0zM214.81 459.6h1.0v1.0h-1.0zM212.64 464.74h1.0v1.0h-1.0zM202.49 474.32h1.0v1.0h-1.0zM194.56 477.48h1.0v1.0h-1.0zM198.72 484.03h1.0v1.0h-1.0zM199.92 459.26h1.0v1.0h-1.0zM188.21 460.14h1.0v1.0h-1.0zM197.26 479.46h1.0v1.0h-1.0zM220.11 470.81h1.0v1.0h-1.0zM205.29 467.94h1.0v1.0h-1.0zM192.95 470.39h1.0v1.0h-1.0zM187.42 474.49h1.0v1.0h-1.0zM208.88 458.79h1.0v1.0h-1.0zM215.39 473.03h1.0v1.0h-1.0zM201.24 478.69h1.0v1.0h-1.0zM216.87 465.95h1.0v1.0h-1.0zM189.9 484.97h1.0v1.0h-1.0zM187.04 485.52h1.0v1.0h-1.0zM194.16 465.61h1.0v1.0h-1.0zM218 461.54h1.0v1.0h-1.0zM204.04 472.2h1.0v1.0h-1.0zM186.62 460.79h1.0v1.0h-1.0zM197.32 477.38h1.0v1.0h-1.0zM216.02 460.33h1.0v1.0h-1.0zM193.71 467.17h1.0v1.0h-1.0zM191.37 468.72h1.0v1.0h-1.0zM187.7 464.63h1.0v1.0h-1.0zM224.39 461.5h1.0v1.0h-1.0zM213.24 471.97h1.0v1.0h-1.0zM220.45 461.43h1.0v1.0h-1.0zM231.23 467.65h1.0v1.0h-1.0zM230.3 463.53h1.0v1.0h-1.0zM197.61 485.06h1.0v1.0h-1.0zM206.25 479.4h1.0v1.0h-1.0zM186.64 463.88h1.0v1.0h-1.0zM190.54 486.28h1.0v1.0h-1.0zM221.23 469.35h1.0v1.0h-1.0zM204.41 467.86h1.0v1.0h-1.0zM224.28 465.12h1.0v1.0h-1.0zM205.73 476.56h1.0v1.0h-1.0zM210.06 473.02h1.0v1.0h-1.0zM192.79 477.94h1.0v1.0h-1.0zM207.07 458.97h1.0v1.0h-1.0zM205.15 468.5h1.0v1.0h-1.0zM196.21 475.8h1.0v1.0h-1.0zM212.09 462.28h1.0v1.0h-1.0zM186.77 480.32h1.0v1.0h-1.0zM193.44 462.14h1.0v1.0h-1.0zM212.44 465.91h1.0v1.0h-1.0zM191.19 466.16h1.0v1.0h-1.0zM212.65 465.1h1.0v1.0h-1.0zM220.51 462.83h1.0v1.0h-1.0zM192.64 463.02h1.0v1.0h-1.0zM187.36 470.08h1.0v1.0h-1.0zM189.81 468.52h1.0v1.0h-1.0zM229.55 466.99h1.0v1.0h-1.0zM186.79 458.8h1.0v1.0h-1.0zM221.38 466.07h1.0v1.0h-1.0zM207.43 478.59h1.0v1.0h-1.0zM207.33 459.09h1.0v1.0h-1.0zM202.13 469.63h1.0v1.0h-1.0zM200.04 458.43h1.0v1.0h-1.0zM213.24 464.14h1.0v1.0h-1.0zM215.24 467.57h1.0v1.0h-1.0zM211.31 467.26h1.0v1.0h-1.0zM217.68 465.69h1.0v1.0h-1.0zM216.23 456.5h1.0v1.0h-1.0zM203.84 466.2h1.0v1.0h-1.0zM187.96 457.77h1.0v1.0h-1.0zM213.91 462.18h1.0v1.0h-1.0zM188.93 466.26h1.0v1.0h-1.0zM204.37 457.25h1.0v1.0h-1.0zM210.85 458.83h1.0v1.0h-1.0zM196.97 475.77h1.0v1.0h-1.0zM193 457.45h1.0v1.0h-1.0zM225.52 456.3h1.0v1.0h-1.0zM191.1 487.15h1.0v1.0h-1.0zM207.98 474.21h1.0v1.0h-1.0zM188.99 464.53h1.0v1.0h-1.0zM186.58 472.8h1.0v1.0h-1.0zM199.38 482.08h1.0v1.0h-1.0zM223.29 465.94h1.0v1.0h-1.0zM231.57 467.6h1.0v1.0h-1.0zM191.15 465.61h1.0v1.0h-1.0zM230.22 464.11h1.0v1.0h-1.0zM223.37 465.55h1.0v1.0h-1.0zM214.73 473.59h1.0v1.0h-1.0zM223.23 468.26h1.0v1.0h-1.0zM200.23 464.21h1.0v1.0h-1.0zM191.71 459.35h1.0v1.0h-1.0zM190.5 488.91h1.0v1.0h-1.0zM209.18 460.56h1.0v1.0h-1.0zM223.93 470.17h1.0v1.0h-1.0zM186.7 462.35h1.0v1.0h-1.0zM209.93 464.28h1.0v1.0h-1.0zM211.02 472.08h1.0v1.0h-1.0zM191.27 468.8h1.0v1.0h-1.0zM228.45 462.03h1.0v1.0h-1.0zM216.24 461.61h1.0v1.0h-1.0zM211.45 459.32h1.0v1.0h-1.0zM191.41 461.19h1.0v1.0h-1.0zM221.4 458.81h1.0v1.0h-1.0zM227.34 468.85h1.0v1.0h-1.0zM200.94 477.52h1.0v1.0h-1.0zM197.36 484.02h1.0v1.0h-1.0zM222.89 467.23h1.0v1.0h-1.0zM213.54 464.77h1.0v1.0h-1.0zM207.13 477.32h1.0v1.0h-1.0zM196.03 477.7h1.0v1.0h-1.0zM225.38 462.54h1.0v1.0h-1.0zM209.88 467.8h1.0v1.0h-1.0zM197.38 469.84h1.0v1.0h-1.0zM194.85 465.81h1.0v1.0h-1.0zM191.68 467.04h1.0v1.0h-1.0zM211.29 471.5h1.0v1.0h-1.0zM215.91 456.25h1.0v1.0h-1.0zM193.39 479.91h1.0v1.0h-1.0zM226.85 469.82h1.0v1.0h-1.0zM211.94 458.89h1.0v1.0h-1.0zM220.18 473.13h1.0v1.0h-1.0zM222.88 460.45h1.0v1.0h-1.0zM204.02 463.17h1.0v1.0h-1.0zM193.06 457.01h1.0v1.0h-1.0zM203.91 480.81h1.0v1.0h-1.0zM192.13 485.73h1.0v1.0h-1.0zM225.56 457.6h1.0v1.0h-1.0zM201.52 460.91h1.0v1.0h-1.0zM201.19 470.39h1.0v1.0h-1.0zM190.4 487.87h1.0v1.0h-1.0zM196.17 464.38h1.0v1.0h-1.0zM189.32 468.31h1.0v1.0h-1.0zM195.04 466.61h1.0v1.0h-1.0zM206.98 464.37h1.0v1.0h-1.0zM216.58 462.4h1.0v1.0h-1.0zM220.02 459.87h1.0v1.0h-1.0zM208.71 466.82h1.0v1.0h-1.0zM192 479.5h1.0v1.0h-1.0zM196.71 474.67h1.0v1.0h-1.0zM219.41 468.16h1.0v1.0h-1.0zM222.74 469.42h1.0v1.0h-1.0zM195.44 485.35h1.0v1.0h-1.0zM211.82 464.63h1.0v1.0h-1.0zM214.83 470.96h1.0v1.0h-1.0zM218.96 461.36h1.0v1.0h-1.0zM198.83 478.97h1.0v1.0h-1.0zM210.88 462.72h1.0v1.0h-1.0zM208.63 466.58h1.0v1.0h-1.0zM229.87 469.29h1.0v1.0h-1.0zM217.47 472.91h1.0v1.0h-1.0zM207.36 466.53h1.0v1.0h-1.0zM212.61 475.27h1.0v1.0h-1.0zM186.06 479.68h1.0v1.0h-1.0zM186.9 462.46h1.0v1.0h-1.0zM213.69 465.2h1.0v1.0h-1.0zM200.58 473.24h1.0v1.0h-1.0zM202.02 478.9h1.0v1.0h-1.0zM205.24 472.06h1.0v1.0h-1.0zM190.99 480.56h1.0v1.0h-1.0zM191.57 468.06h1.0v1.0h-1.0zM191.05 456.98h1.0v1.0h-1.0zM189.58 471.52h1.0v1.0h-1.0zM196.47 457.26h1.0v1.0h-1.0zM219.32 473.54h1.0v1.0h-1.0zM197.48 457.17h1.0v1.0h-1.0zM192.1 470.19h1.0v1.0h-1.0zM203.48 465.33h1.0v1.0h-1.0zM203.07 476.05h1.0v1.0h-1.0zM192.96 471.58h1.0v1.0h-1.0zM197.49 484.12h1.0v1.0h-1.0zM224.81 458.14h1.0v1.0h-1.0zM190.08 471.56h1.0v1.0h-1.0zM214.45 464.05h1.0v1.0h-1.0zM218.23 470.96h1.0v1.0h-1.0zM187.89 474.35h1.0v1.0h-1.0zM188.82 479.25h1.0v1.0h-1.0zM198.46 464.26h1.0v1.0h-1.0zM189.24 471.89h1.0v1.0h-1.0zM200.92 456.02h1.0v1.0h-1.0zM199.61 483.4h1.0v1.0h-1.0zM197.73 461.67h1.0v1.0h-1.0zM188.39 467.05h1.0v1.0h-1.0zM215.2 465.82h1.0v1.0h-1.0zM207.42 467.82h1.0v1.0h-1.0zM197.47 478.69h1.0v1.0h-1.0zM212.74 465.16h1.0v1.0h-1.0zM191.01 486.34h1.0v1.0h-1.0zM205.82 478.31h1.0v1.0h-1.0zM186.37 486.22h1.0v1.0h-1.0zM194.93 472.08h1.0v1.0h-1.0zM196.78 473.86h1.0v1.0h-1.0zM215.66 463.39h1.0v1.0h-1.0zM193.75 463.06h1.0v1.0h-1.0zM198.98 484.74h1.0v1.0h-1.0zM226.8 463.44h1.0v1.0h-1.0zM194.29 461.78h1.0v1.0h-1.0zM187.13 463.72h1.0v1.0h-1.0zM199.25 468.22h1.0v1.0h-1.0zM200.14 457.79h1.0v1.0h-1.0zM210.54 460.22h1.0v1.0h-1.0zM220.44 463.08h1.0v1.0h-1.0zM210.01 456.94h1.0v1.0h-1.0zM194.56 456.33h1.0v1.0h-1.0zM188.02 481.02h1.0v1.0h-1.0zM191.45 481.57h1.0v1.0h-1.0zM209.95 457.07h1.0v1.0h-1.0zM200.12 475.86h1.0v1.0h-1.0zM188.26 481.86h1.0v1.0h-1.0zM193.43 460.64h1.0v1.0h-1.0zM204.85 473.39h1.0v1.0h-1.0zM206.05 459.53h1.0v1.0h-1.0zM190.36 489.1h1.0v1.0h-1.0zM197.35 480.17h1.0v1.0h-1.0zM222.87 470.05h1.0v1.0h-1.0zM203.35 464.31h1.0v1.0h-1.0zM226.08 458.86h1.0v1.0h-1.0zM192.43 484.83h1.0v1.0h-1.0zM204.44 463.39h1.0v1.0h-1.0zM191.29 477.2h1.0v1.0h-1.0zM225.47 459.14h1.0v1.0h-1.0zM213.31 470.48h1.0v1.0h-1.0zM188.92 461.64h1.0v1.0h-1.0zM186.71 469.72h1.0v1.0h-1.0zM219.2 466.11h1.0v1.0h-1.0zM207.54 471.52h1.0v1.0h-1.0zM212.07 469.42h1.0v1.0h-1.0zM194.19 458.89h1.0v1.0h-1.0zM199.04 461.19h1.0v1.0h-1.0zM197.72 456.22h1.0v1.0h-1.0zM224.34 457.32h1.0v1.0h-1.0zM201.9 464.46h1.0v1.0h-1.0zM187.73 476.3h1.0v1.0h-1.0zM219.88 467.8h1.0v1.0h-1.0zM186.3 468.33h1.0v1.0h-1.0zM222.08 456.46h1.0v1.0h-1.0zM224.47 467.06h1.0v1.0h-1.0zM205.1 459.87h1.0v1.0h-1.0zM212.86 460.37h1.0v1.0h-1.0zM209.56 478.53h1.0v1.0h-1.0zM205.97 468.87h1.0v1.0h-1.0zM217.49 462.99h1.0v1.0h-1.0zM210.03 459.58h1.0v1.0h-1.0zM196.35 456.02h1.0v1.0h-1.0zM204.7 466.37h1.0v1.0h-1.0zM190.72 482.29h1.0v1.0h-1.0zM204.93 475.64h1.0v1.0h-1.0zM207.62 467.55h1.0v1.0h-1.0zM210.54 458.9h1.0v1.0h-1.0zM189.4 468.02h1.0v1.0h-1.0zM215.96 461.19h1.0v1.0h-1.0zM189.45 489.01h1.0v1.0h-1.0zM202.91 472.7h1.0v1.0h-1.0zM186.84 473.39h1.0v1.0h-1.0zM214.73 473.76h1.0v1.0h-1.0zM210.11 456.35h1.0v1.0h-1.0zM203.33 481.02h1.0v1.0h-1.0zM208.55 463.8h1.0v1.0h-1.0zM193.49 461.52h1.0v1.0h-1.0zM217.31 470.81h1.0v1.0h-1.0zM210.84 468.37h1.0v1.0h-1.0zM212.74 475.01h1.0v1.0h-1.0zM220.18 472.59h1.0v1.0h-1.0zM204.03 476.21h1.0v1.0h-1.0zM189.13 488.55h1.0v1.0h-1.0zM217.9 462.6h1.0v1.0h-1.0zM190.66 472.22h1.0v1.0h-1.0zM188.62 469.14h1.0v1.0h-1.0zM228.01 469.89h1.0v1.0h-1.0zM217.94 461.83h1.0v1.0h-1.0zM188.42 476.79h1.0v1.0h-1.0zM216.01 464.71h1.0v1.0h-1.0zM192.8 461.26h1.0v1.0h-1.0zM215.44 468.87h1.0v1.0h-1.0zM204.94 463.14h1.0v1.0h-1.0zM188.96 475.33h1.0v1.0h-1.0zM221.08 464.95h1.0v1.0h-1.0zM193.29 463.45h1.0v1.0h-1.0zM198.79 459.62h1.0v1.0h-1.0zM221.81 465.05h1.0v1.0h-1.0zM220.37 468.21h1.0v1.0h-1.0zM214.6 460.23h1.0v1.0h-1.0zM193.69 486.6h1.0v1.0h-1.0zM227.66 456.21h1.0v1.0h-1.0zM186.22 471.29h1.0v1.0h-1.0zM217.9 472.33h1.0v1.0h-1.0zM207.8 459.1h1.0v1.0h-1.0zM228.29 459.48h1.0v1.0h-1.0zM230.52 468.02h1.0v1.0h-1.0zM218.54 461.7h1.0v1.0h-1.0zM228.22 461.52h1.0v1.0h-1.0zM205.24 467.09h1.0v1.0h-1.0zM195 483.85h1.0v1.0h-1.0zM210.55 456.99h1.0v1.0h-1.0zM226.68 464.63h1.0v1.0h-1.0zM193.83 486.46h1.0v1.0h-1.0zM189.53 479.67h1.0v1.0h-1.0zM191.71 472.62h1.0v1.0h-1.0zM204.83 469.32h1.0v1.0h-1.0zM211.52 473.37h1.0v1.0h-1.0zM230.5 468.73h1.0v1.0h-1.0zM218.33 471.61h1.0v1.0h-1.0zM196.14 456.02h1.0v1.0h-1.0zM201.32 474.27h1.0v1.0h-1.0zM193.87 486.27h1.0v1.0h-1.0zM204.74 459.7h1.0v1.0h-1.0zM196.44 484.84h1.0v1.0h-1.0zM186.66 485.09h1.0v1.0h-1.0zM202.69 467.58h1.0v1.0h-1.0zM206.4 462.37h1.0v1.0h-1.0zM218.08 472.13h1.0v1.0h-1.0zM209.43 476.88h1.0v1.0h-1.0zM208.55 472.34h1.0v1.0h-1.0zM215.08 461.62h1.0v1.0h-1.0zM197.05 466.07h1.0v1.0h-1.0zM209.94 469.23h1.0v1.0h-1.0zM226.73 458.85h1.0v1.0h-1.0zM191.43 459.56h1.0v1.0h-1.0zM191.63 478.19h1.0v1.0h-1.0zM193.78 466.55h1.0v1.0h-1.0zM210.63 470.01h1.0v1.0h-1.0zM199.92 481.57h1.0v1.0h-1.0zM206.87 475.5h1.0v1.0h-1.0zM231.58 466.11h1.0v1.0h-1.0zM188.89 486.17h1.0v1.0h-1.0zM206.89 463.63h1.0v1.0h-1.0zM186.83 457.59h1.0v1.0h-1.0zM188.61 465.49h1.0v1.0h-1.0zM211.53 472.04h1.0v1.0h-1.0zM229.42 462.28h1.0v1.0h-1.0zM211.43 465.69h1.0v1.0h-1.0zM209 457.65h1.0v1.0h-1.0zM192.83 482.61h1.0v1.0h-1.0zM204.66 479.91h1.0v1.0h-1.0zM202.57 481.3h1.0v1.0h-1.0zM188.02 485.23h1.0v1.0h-1.0zM193.79 458.91h1.0v1.0h-1.0zM193.48 485.44h1.0v1.0h-1.0zM194.23 462.12h1.0v1.0h-1.0zM207.27 475.12h1.0v1.0h-1.0zM186.08 456.93h1.0v1.0h-1.0zM191.08 456.7h1.0v1.0h-1.0zM197.57 459.65h1.0v1.0h-1.0zM213.32 465.64h1.0v1.0h-1.0zM214.34 456.29h1.0v1.0h-1.0zM193.02 474.01h1.0v1.0h-1.0zM200.71 480.29h1.0v1.0h-1.0zM215.58 474.16h1.0v1.0h-1.0zM194.69 467.33h1.0v1.0h-1.0zM187.63 488.18h1.0v1.0h-1.0zM211.08 457.82h1.0v1.0h-1.0zM221.54 456.39h1.0v1.0h-1.0zM210.75 459.75h1.0v1.0h-1.0zM208.07 457.79h1.0v1.0h-1.0zM227.63 464.17h1.0v1.0h-1.0zM186.91 480.56h1.0v1.0h-1.0zM188.17 457.86h1.0v1.0h-1.0zM214.46 459.01h1.0v1.0h-1.0zM211.41 456.61h1.0v1.0h-1.0zM216.7 456.68h1.0v1.0h-1.0zM188.69 466.76h1.0v1.0h-1.0zM196.21 481.75h1.0v1.0h-1.0zM204.76 473.96h1.0v1.0h-1.0zM200.28 468.02h1.0v1.0h-1.0zM205.94 457.35h1.0v1.0h-1.0zM186.58 472.83h1.0v1.0h-1.0zM188.5 476.74h1.0v1.0h-1.0zM217.34 461.36h1.0v1.0h-1.0zM195.46 469.87h1.0v1.0h-1.0zM228.85 467.4h1.0v1.0h-1.0zM215.45 456.8h1.0v1.0h-1.0zM198.84 464.79h1.0v1.0h-1.0zM207.63 465.78h1.0v1.0h-1.0zM201.29 480.69h1.0v1.0h-1.0zM199.94 459.52h1.0v1.0h-1.0zM209.9 458.73h1.0v1.0h-1.0zM208.01 475.85h1.0v1.0h-1.0zM191.65 476.76h1.0v1.0h-1.0zM186.33 476.45h1.0v1.0h-1.0zM221.51 463.34h1.0v1.0h-1.0zM189.03 474.11h1.0v1.0h-1.0zM194.6 474.73h1.0v1.0h-1.0zM215.88 470.68h1.0v1.0h-1.0zM200.33 473.09h1.0v1.0h-1.0zM228.87 469.14h1.0v1.0h-1.0zM205.25 470.72h1.0v1.0h-1.0zM192.4 488.54h1.0v1.0h-1.0zM203.43 463.37h1.0v1.0h-1.0zM190.61 488.06h1.0v1.0h-1.0zM203.22 474.01h1.0v1.0h-1.0zM219.77 465.12h1.0v1.0h-1.0zM218.98 458.39h1.0v1.0h-1.0zM210.21 462.57h1.0v1.0h-1.0zM205.19 469.25h1.0v1.0h-1.0zM210.66 470.76h1.0v1.0h-1.0zM204.62 460.03h1.0v1.0h-1.0zM203.91 481.86h1.0v1.0h-1.0zM207.12 479.83h1.0v1.0h-1.0zM202.25 470.78h1.0v1.0h-1.0zM196.39 470.99h1.0v1.0h-1.0zM193.06 480.91h1.0v1.0h-1.0zM217.63 459.57h1.0v1.0h-1.0zM219.81 469.47h1.0v1.0h-1.0zM216.82 472.65h1.0v1.0h-1.0zM220.76 459.44h1.0v1.0h-1.0zM217.83 466.28h1.0v1.0h-1.0zM201.24 463.76h1.0v1.0h-1.0zM208.96 466.99h1.0v1.0h-1.0zM205.11 461.11h1.0v1.0h-1.0zM200.27 473.31h1.0v1.0h-1.0z" fill="#000" fill-opacity="1.0"/>
<path d="M233.41 510.77h0.9v0.9h-0.9zM229.69 481.85h0.9v0.9h-0.9zM233.71 478.31h0.9v0.9h-0.9zM240.45 496.51h0.9v0.9h-0.9zM242.44 515.42h0.9v0.9h-0.9zM230.44 492.27h0.9v0.9h-0.9zM234.66 493.43h0.9v0.9h-0.9zM241.09 484.53h0.9v0.9h-0.9zM243.51 499.92h0.9v0.9h-0.9zM234.93 494.71h0.9v0.9h-0.9zM249.04 500.77h0.9v0.9h-0.9zM243.9 488.13h0.9v0.9h-0.9zM243.14 484.61h0.9v0.9h-0.9zM247.17 481.85h0.9v0.9h-0.9zM242.89 518.72h0.9v0.9h-0.9zM245.74 510.47h0.9v0.9h-0.9zM245.48 497.76h0.9v0.9h-0.9zM244.12 490.62h0.9v0.9h-0.9zM245.3 496.04h0.9v0.9h-0.9zM236.2 474.25h0.9v0.9h-0.9zM239.1 503.49h0.9v0.9h-0.9zM237.28 482.93h0.9v0.9h-0.9zM238.31 476.68h0.9v0.9h-0.9zM235.36 498.44h0.9v0.9h-0.9zM239.36 477.51h0.9v0.9h-0.9zM245.15 507.16h0.9v0.9h-0.9zM234.09 503.04h0.9v0.9h-0.9zM241.81 500.66h0.9v0.9h-0.9zM249.1 495.37h0.9v0.9h-0.9zM237.67 475.4h0.9v0.9h-0.9zM229.76 499.53h0.9v0.9h-0.9zM242.69 516.68h0.9v0.9h-0.9zM234.99 473.16h0.9v0.9h-0.9zM232.54 509.66h0.9v0.9h-0.9zM234.2 514.98h0.9v0.9h-0.9zM243.22 473.86h0.9v0.9h-0.9zM242.64 484.1h0.9v0.9h-0.9zM233.78 482.48h0.9v0.9h-0.9zM242.81 494.67h0.9v0.9h-0.9zM231.3 484.5h0.9v0.9h-0.9zM230.79 511.7h0.9v0.9h-0.9zM239.48 507.09h0.9v0.9h-0.9zM235.53 495.64h0.9v0.9h-0.9zM244.31 488.41h0.9v0.9h-0.9zM238.54 482.68h0.9v0.9h-0.9zM228.59 484.54h0.9v0.9h-0.9zM231 521.58h0.9v0.9h-0.9zM234.04 483.66h0.9v0.9h-0.9zM244.82 508.51h0.9v0.9h-0.9zM233.01 521.94h0.9v0.9h-0.9zM246.11 505.63h0.9v0.9h-0.9zM240.65 474.25h0.9v0.9h-0.9zM247.28 507.8h0.9v0.9h-0.9zM233.43 501.57h0.9v0.9h-0.9zM245.4 518.1h0.9v0.9h-0.9zM240.38 501.4h0.9v0.9h-0.9zM240.24 479.19h0.9v0.9h-0.9zM231.97 489.25h0.9v0.9h-0.9zM232.61 482.58h0.9v0.9h-0.9zM229.6 488.09h0.9v0.9h-0.9zM242.05 479.14h0.9v0.9h-0.9zM243.03 509h0.9v0.9h-0.9zM237.55 480.3h0.9v0.9h-0.9zM233.62 494.29h0.9v0.9h-0.9zM240.14 518.12h0.9v0.9h-0.9zM243.51 501.53h0.9v0.9h-0.9zM232.36 508.14h0.9v0.9h-0.9zM240.5 478.34h0.9v0.9h-0.9zM233.57 476.23h0.9v0.9h-0.9zM231.68 497.86h0.9v0.9h-0.9zM241.69 520.98h0.9v0.9h-0.9zM239.17 484.71h0.9v0.9h-0.9zM231.99 504.57h0.9v0.9h-0.9zM247.94 490.04h0.9v0.9h-0.9zM239.27 506.44h0.9v0.9h-0.9zM235.75 479.29h0.9v0.9h-0.9zM243.47 504.32h0.9v0.9h-0.9zM234.89 511.24h0.9v0.9h-0.9zM242.05 503.09h0.9v0.9h-0.9zM229.34 495.4h0.9v0.9h-0.9zM237.1 506.98h0.9v0.9h-0.9zM242.06 499.66h0.9v0.9h-0.9zM230 504.01h0.9v0.9h-0.9zM241.2 504.36h0.9v0.9h-0.9zM242.81 520.57h0.9v0.9h-0.9zM239.82 474.52h0.9v0.9h-0.9zM241.62 510.33h0.9v0.9h-0.9zM228.99 479.53h0.9v0.9h-0.9zM242.27 510.69h0.9v0.9h-0.9zM230.49 484.66h0.9v0.9h-0.9zM240.93 520.2h0.9v0.9h-0.9zM232.88 490.37h0.9v0.9h-0.9zM237.65 518.27h0.9v0.9h-0.9zM237.81 497.5h0.9v0.9h-0.9zM247.71 492.82h0.9v0.9h-0.9zM244.73 498.6h0.9v0.9h-0.9zM246.03 501.55h0.9v0.9h-0.9zM244.73 508.02h0.9v0.9h-0.9zM233.2 482.76h0.9v0.9h-0.9zM247.74 491.4h0.9v0.9h-0.9zM235.98 508.87h0.9v0.9h-0.9zM242.35 517.72h0.9v0.9h-0.9zM239.51 487.94h0.9v0.9h-0.9zM243.9 484.92h0.9v0.9h-0.9zM230.37 490.26h0.9v0.9h-0.9zM231.95 505.13h0.9v0.9h-0.9zM242.41 495.32h0.9v0.9h-0.9zM239.92 506.99h0.9v0.9h-0.9zM247.05 485.09h0.9v0.9h-0.9zM242.59 494.5h0.9v0.9h-0.9zM236.35 487.43h0.9v0.9h-0.9zM239.76 507.43h0.9v0.9h-0.9zM235.47 498.18h0.9v0.9h-0.9zM231.58 514.98h0.9v0.9h-0.9zM241.82 476.95h0.9v0.9h-0.9zM233.85 498.72h0.9v0.9h-0.9zM236.97 509.18h0.9v0.9h-0.9zM238.43 502.22h0.9v0.9h-0.9zM234.65 515.24h0.9v0.9h-0.9zM237.95 498.8h0.9v0.9h-0.9z" fill="#000" fill-opacity="1.0"/>
<path d="M245.01 497.28h0.9v0.9h-0.9zM241.19 474.23h0.9v0.9h-0.9zM246.56 473.21h0.9v0.9h-0.9zM244.27 478.53h0.9v0.9h-0.9zM241.84 481.93h0.9v0.9h-0.9zM247.08 496.3h0.9v0.9h-0.9zM251.64 480.18h0.9v0.9h-0.9zM250.78 504.6h0.9v0.9h-0.9zM250.1 503.61h0.9v0.9h-0.9zM247.24 510.48h0.9v0.9h-0.9zM246.26 517.13h0.9v0.9h-0.9zM252.26 485.1h0.9v0.9h-0.9zM245.48 507.71h0.9v0.9h-0.9zM251.41 495.55h0.9v0.9h-0.9z" fill="#000" fill-opacity="1.0"/>
<path d="M266.93 461.2h0.9v0.9h-0.9zM260.99 471.05h0.9v0.9h-0.9zM260.96 467.25h0.9v0.9h-0.9z" fill="#000" fill-opacity="1.0"/>
<path d="M218.16 517.59h1.0v1.0h-1.0zM215.58 518.62h1.0v1.0h-1.0zM201.09 521.24h1.0v1.0h-1.0zM212.4 518.54h1.0v1.0h-1.0zM222.46 516.44h1.0v1.0h-1.0zM230.11 523.78h1.0v1.0h-1.0zM218.06 518.81h1.0v1.0h-1.0zM212.85 524.99h1.0v1.0h-1.0zM205.76 522.85h1.0v1.0h-1.0zM221.99 516.75h1.0v1.0h-1.0zM209.51 523.79h1.0v1.0h-1.0zM213.23 524.47h1.0v1.0h-1.0zM216.03 517.29h1.0v1.0h-1.0zM215.08 524.28h1.0v1.0h-1.0zM191.95 517.59h1.0v1.0h-1.0zM216.77 523.32h1.0v1.0h-1.0zM223.89 517.89h1.0v1.0h-1.0zM226.58 519.78h1.0v1.0h-1.0zM208.02 520.62h1.0v1.0h-1.0zM200.34 523.93h1.0v1.0h-1.0zM205.09 520.06h1.0v1.0h-1.0zM224.34 519.25h1.0v1.0h-1.0zM193.78 516.31h1.0v1.0h-1.0zM209.45 523.35h1.0v1.0h-1.0zM215.3 517.7h1.0v1.0h-1.0zM197.56 520.72h1.0v1.0h-1.0zM217 524.84h1.0v1.0h-1.0zM206.58 519.85h1.0v1.0h-1.0zM222.13 524.55h1.0v1.0h-1.0zM201.61 521.33h1.0v1.0h-1.0zM201.8 516.19h1.0v1.0h-1.0zM215.36 524.22h1.0v1.0h-1.0zM209.63 517.02h1.0v1.0h-1.0zM214.38 518.1h1.0v1.0h-1.0zM205.11 522.64h1.0v1.0h-1.0zM223.91 519.83h1.0v1.0h-1.0zM192.76 516.34h1.0v1.0h-1.0zM192.9 519.65h1.0v1.0h-1.0zM208.63 519.99h1.0v1.0h-1.0zM203.92 524.16h1.0v1.0h-1.0zM196.37 516.93h1.0v1.0h-1.0zM231.46 523.3h1.0v1.0h-1.0zM201.06 520.01h1.0v1.0h-1.0zM188.25 516.68h1.0v1.0h-1.0zM200.91 521.8h1.0v1.0h-1.0zM202.47 523.18h1.0v1.0h-1.0zM206.51 520.14h1.0v1.0h-1.0zM197.97 520.16h1.0v1.0h-1.0zM214.91 519.36h1.0v1.0h-1.0zM229.97 520.1h1.0v1.0h-1.0zM214.2 517.7h1.0v1.0h-1.0zM195.14 519.96h1.0v1.0h-1.0zM224.65 521.52h1.0v1.0h-1.0zM217.56 517.07h1.0v1.0h-1.0zM206.02 522.54h1.0v1.0h-1.0zM199.45 519.1h1.0v1.0h-1.0zM228.9 517h1.0v1.0h-1.0zM225.89 517.96h1.0v1.0h-1.0zM210.51 521.05h1.0v1.0h-1.0zM221.19 516.7h1.0v1.0h-1.0zM189.23 516.38h1.0v1.0h-1.0zM219.05 520.97h1.0v1.0h-1.0zM209.13 518.13h1.0v1.0h-1.0zM202.75 522.14h1.0v1.0h-1.0zM224.85 521.48h1.0v1.0h-1.0zM215.18 516.01h1.0v1.0h-1.0zM217.51 519.56h1.0v1.0h-1.0zM217.96 518.77h1.0v1.0h-1.0zM215.34 522.29h1.0v1.0h-1.0zM206.06 516.24h1.0v1.0h-1.0zM201.85 519.03h1.0v1.0h-1.0zM193.58 521.02h1.0v1.0h-1.0zM192.11 523.54h1.0v1.0h-1.0zM186.28 522.01h1.0v1.0h-1.0zM217.67 520.5h1.0v1.0h-1.0zM200.07 517.58h1.0v1.0h-1.0zM196.78 520.63h1.0v1.0h-1.0zM197.28 521.16h1.0v1.0h-1.0zM221.73 520.33h1.0v1.0h-1.0zM208.6 517.92h1.0v1.0h-1.0zM210.89 517.27h1.0v1.0h-1.0zM204.93 517.22h1.0v1.0h-1.0zM208.24 517.9h1.0v1.0h-1.0zM221.46 523.86h1.0v1.0h-1.0zM227.48 523.2h1.0v1.0h-1.0zM186.04 517.48h1.0v1.0h-1.0zM224 517.78h1.0v1.0h-1.0zM222.07 520.16h1.0v1.0h-1.0zM198.37 521.53h1.0v1.0h-1.0zM213.6 519.74h1.0v1.0h-1.0zM229.36 519.21h1.0v1.0h-1.0zM194.74 518.88h1.0v1.0h-1.0zM214.14 516.39h1.0v1.0h-1.0zM189.31 520.25h1.0v1.0h-1.0zM212.28 520.42h1.0v1.0h-1.0zM210.12 516.01h1.0v1.0h-1.0zM219.16 521.29h1.0v1.0h-1.0zM208.24 522.22h1.0v1.0h-1.0zM193.42 516.06h1.0v1.0h-1.0zM222.01 521.09h1.0v1.0h-1.0zM200.53 518.11h1.0v1.0h-1.0zM194.41 516.8h1.0v1.0h-1.0zM213.99 523.63h1.0v1.0h-1.0zM192.97 524.41h1.0v1.0h-1.0zM209.84 520.6h1.0v1.0h-1.0zM217.07 516.85h1.0v1.0h-1.0zM198.4 521.06h1.0v1.0h-1.0zM194.34 523.49h1.0v1.0h-1.0zM198.69 518.32h1.0v1.0h-1.0zM202.35 516.82h1.0v1.0h-1.0zM230.66 521.16h1.0v1.0h-1.0zM208.16 523.64h1.0v1.0h-1.0zM227.04 518.47h1.0v1.0h-1.0zM206.12 517.36h1.0v1.0h-1.0zM221.22 517.73h1.0v1.0h-1.0zM225.12 520.37h1.0v1.0h-1.0zM209.83 521.93h1.0v1.0h-1.0zM205.09 523.8h1.0v1.0h-1.0zM195.93 521.19h1.0v1.0h-1.0zM192.68 519.91h1.0v1.0h-1.0zM213.26 520.64h1.0v1.0h-1.0zM211.89 524.5h1.0v1.0h-1.0zM186.14 519.1h1.0v1.0h-1.0zM230.71 517.77h1.0v1.0h-1.0zM212.57 518.36h1.0v1.0h-1.0zM217.82 522.92h1.0v1.0h-1.0zM214.86 523.21h1.0v1.0h-1.0zM190.92 521.06h1.0v1.0h-1.0zM227.36 522.78h1.0v1.0h-1.0zM212.13 519.65h1.0v1.0h-1.0zM193.98 516.31h1.0v1.0h-1.0zM200.61 519.9h1.0v1.0h-1.0zM225.86 517.2h1.0v1.0h-1.0zM218.47 519.13h1.0v1.0h-1.0zM194.3 521.72h1.0v1.0h-1.0zM215.77 518.16h1.0v1.0h-1.0zM204.62 518.67h1.0v1.0h-1.0zM203.01 517.75h1.0v1.0h-1.0zM225.31 516.7h1.0v1.0h-1.0zM219.39 523.22h1.0v1.0h-1.0zM224.45 519.44h1.0v1.0h-1.0zM226.68 524.43h1.0v1.0h-1.0zM202.02 518.27h1.0v1.0h-1.0zM228.91 518.56h1.0v1.0h-1.0zM204.27 519.38h1.0v1.0h-1.0zM219.17 522.13h1.0v1.0h-1.0zM207.86 518.96h1.0v1.0h-1.0zM216.07 523.79h1.0v1.0h-1.0zM227.18 521.89h1.0v1.0h-1.0zM221.36 518.3h1.0v1.0h-1.0zM201.56 518.99h1.0v1.0h-1.0zM188.37 518.64h1.0v1.0h-1.0zM228.77 521.74h1.0v1.0h-1.0zM220.2 516.71h1.0v1.0h-1.0zM209.25 523.38h1.0v1.0h-1.0zM188.47 523.14h1.0v1.0h-1.0zM201.66 517.94h1.0v1.0h-1.0zM222.7 523.94h1.0v1.0h-1.0zM230.81 516.98h1.0v1.0h-1.0zM186.43 523.87h1.0v1.0h-1.0zM231.45 520.76h1.0v1.0h-1.0zM203.02 516.44h1.0v1.0h-1.0zM211.8 524.49h1.0v1.0h-1.0zM231.26 521.66h1.0v1.0h-1.0zM200.64 522.79h1.0v1.0h-1.0zM199.65 516.32h1.0v1.0h-1.0zM195.21 522.96h1.0v1.0h-1.0zM206.78 520.52h1.0v1.0h-1.0zM219.86 524.39h1.0v1.0h-1.0zM205.1 523.54h1.0v1.0h-1.0zM206.21 520.95h1.0v1.0h-1.0zM207.28 524.23h1.0v1.0h-1.0zM226.85 519.71h1.0v1.0h-1.0zM204.95 521h1.0v1.0h-1.0zM189.08 519.36h1.0v1.0h-1.0zM217.65 516.21h1.0v1.0h-1.0zM202.44 519.74h1.0v1.0h-1.0zM217.58 518.85h1.0v1.0h-1.0zM188 522.91h1.0v1.0h-1.0zM213.71 516.45h1.0v1.0h-1.0zM197.93 519.39h1.0v1.0h-1.0zM231.91 523.13h1.0v1.0h-1.0zM223.75 516.69h1.0v1.0h-1.0zM215.35 524.08h1.0v1.0h-1.0zM206.97 524.4h1.0v1.0h-1.0zM217.32 522.04h1.0v1.0h-1.0zM229.48 516.11h1.0v1.0h-1.0zM228.83 522.13h1.0v1.0h-1.0zM191.41 520.67h1.0v1.0h-1.0zM203.98 516.54h1.0v1.0h-1.0zM219.37 521.05h1.0v1.0h-1.0zM207.18 524.2h1.0v1.0h-1.0zM206.43 518.18h1.0v1.0h-1.0zM199.4 517.44h1.0v1.0h-1.0zM228 523.29h1.0v1.0h-1.0zM224.88 522.49h1.0v1.0h-1.0zM220.71 522.79h1.0v1.0h-1.0zM214.24 519.87h1.0v1.0h-1.0zM208.93 522.7h1.0v1.0h-1.0zM199.56 522.75h1.0v1.0h-1.0zM225.33 520.31h1.0v1.0h-1.0zM228.32 523.93h1.0v1.0h-1.0zM206.29 524.02h1.0v1.0h-1.0zM191.25 516.03h1.0v1.0h-1.0zM225.36 521.56h1.0v1.0h-1.0zM208.89 520.82h1.0v1.0h-1.0zM195 523.89h1.0v1.0h-1.0zM200.83 517.77h1.0v1.0h-1.0zM215.75 521.52h1.0v1.0h-1.0zM213.91 516.33h1.0v1.0h-1.0zM203.88 521.65h1.0v1.0h-1.0zM213.8 522.23h1.0v1.0h-1.0zM215.47 520.09h1.0v1.0h-1.0zM187.17 517.22h1.0v1.0h-1.0zM223.16 523.8h1.0v1.0h-1.0zM203.99 516.64h1.0v1.0h-1.0zM189.35 522.99h1.0v1.0h-1.0zM214.57 521.47h1.0v1.0h-1.0zM188.85 517.91h1.0v1.0h-1.0zM214.86 516.19h1.0v1.0h-1.0z" fill="#000" fill-opacity="1.0"/>
<path d="M201 463.4 C201.67 461.83 203.83 460.63 206 460 C208.17 459.37 211.73 459.17 214 459.6 C216.27 460.03 218.67 461.2 219.6 462.6 C220.53 464 220.53 466.33 219.6 468 C218.67 469.67 216.1 471.77 214 472.6 C211.9 473.43 209 473.53 207 473 C205 472.47 203 471 202 469.4 C201 467.8 200.33 464.97 201 463.4 Z" stroke="none" stroke-width="1" fill="#fff" stroke-linejoin="round"/>
<path d="M227.47 508.27h1.0v1.0h-1.0zM231.92 484.74h1.0v1.0h-1.0zM227.06 512.57h1.0v1.0h-1.0zM197.94 484.81h1.0v1.0h-1.0zM191.6 521.18h1.0v1.0h-1.0zM205.81 521.6h1.0v1.0h-1.0zM194.57 483.44h1.0v1.0h-1.0zM220.64 521.21h1.0v1.0h-1.0zM229 498.44h1.0v1.0h-1.0zM223.17 521.95h1.0v1.0h-1.0zM201.19 521.36h1.0v1.0h-1.0zM193.77 524.14h1.0v1.0h-1.0zM222.72 472.96h1.0v1.0h-1.0zM223.16 522.59h1.0v1.0h-1.0zM190.44 489.51h1.0v1.0h-1.0zM185.24 507.51h1.0v1.0h-1.0zM212.23 475.89h1.0v1.0h-1.0zM191.47 488.9h1.0v1.0h-1.0zM200.43 521.78h1.0v1.0h-1.0zM200.08 483.91h1.0v1.0h-1.0zM222.93 473.57h1.0v1.0h-1.0zM231.37 493.02h1.0v1.0h-1.0zM189.49 488.9h1.0v1.0h-1.0zM192.24 488.01h1.0v1.0h-1.0zM188.41 490.17h1.0v1.0h-1.0zM214.43 473.97h1.0v1.0h-1.0zM186.1 521.13h1.0v1.0h-1.0zM188.68 490.43h1.0v1.0h-1.0zM228 476.3h1.0v1.0h-1.0zM217.63 473.27h1.0v1.0h-1.0zM201.96 483.43h1.0v1.0h-1.0zM185.48 508.3h1.0v1.0h-1.0zM186.25 492.48h1.0v1.0h-1.0zM208.17 478.65h1.0v1.0h-1.0zM185.94 491.11h1.0v1.0h-1.0zM187.16 520.23h1.0v1.0h-1.0zM221.05 474h1.0v1.0h-1.0zM213.42 521.44h1.0v1.0h-1.0zM183.58 502.19h1.0v1.0h-1.0zM221.28 471.16h1.0v1.0h-1.0zM185 498.45h1.0v1.0h-1.0zM217.61 470.69h1.0v1.0h-1.0zM229.94 486.85h1.0v1.0h-1.0zM183.82 495.74h1.0v1.0h-1.0zM229.61 498.94h1.0v1.0h-1.0zM184.04 509.98h1.0v1.0h-1.0zM185.51 516.23h1.0v1.0h-1.0zM202.05 523.5h1.0v1.0h-1.0zM227.36 509.74h1.0v1.0h-1.0zM185.15 499.3h1.0v1.0h-1.0zM198.56 477.46h1.0v1.0h-1.0zM228.94 501.49h1.0v1.0h-1.0zM185.55 507.98h1.0v1.0h-1.0zM185.25 497.99h1.0v1.0h-1.0zM229.57 482.22h1.0v1.0h-1.0zM201.17 522.81h1.0v1.0h-1.0zM229.8 500.44h1.0v1.0h-1.0zM211.42 476.55h1.0v1.0h-1.0zM229.98 491.76h1.0v1.0h-1.0zM200.94 484.15h1.0v1.0h-1.0zM190.78 521.04h1.0v1.0h-1.0zM183.08 506.33h1.0v1.0h-1.0zM185.27 505.67h1.0v1.0h-1.0zM230.61 516.24h1.0v1.0h-1.0zM188.82 489.45h1.0v1.0h-1.0zM227.97 477.67h1.0v1.0h-1.0zM200.61 521.66h1.0v1.0h-1.0zM228.33 510.77h1.0v1.0h-1.0zM229.26 481.69h1.0v1.0h-1.0zM230.93 511.71h1.0v1.0h-1.0zM193.53 487.22h1.0v1.0h-1.0zM226.93 520.07h1.0v1.0h-1.0zM228.75 505.01h1.0v1.0h-1.0zM200.43 521.19h1.0v1.0h-1.0zM215.28 521.16h1.0v1.0h-1.0zM227.95 505.29h1.0v1.0h-1.0zM202.68 483.16h1.0v1.0h-1.0zM204.81 481.71h1.0v1.0h-1.0zM190.5 487.91h1.0v1.0h-1.0zM226.98 516.02h1.0v1.0h-1.0zM221.79 474.31h1.0v1.0h-1.0zM203.07 521.15h1.0v1.0h-1.0zM203.24 522.38h1.0v1.0h-1.0zM229.3 481.85h1.0v1.0h-1.0zM208.39 521.16h1.0v1.0h-1.0zM222.76 473.39h1.0v1.0h-1.0zM211.86 473.8h1.0v1.0h-1.0zM189.75 489.71h1.0v1.0h-1.0zM204.01 481.9h1.0v1.0h-1.0zM192.56 521.6h1.0v1.0h-1.0zM225.95 473.71h1.0v1.0h-1.0zM225.14 518.97h1.0v1.0h-1.0zM206.12 478.7h1.0v1.0h-1.0zM199.15 484.76h1.0v1.0h-1.0zM229.4 482.17h1.0v1.0h-1.0zM190.73 488.68h1.0v1.0h-1.0zM216.63 521.42h1.0v1.0h-1.0zM205.05 524.44h1.0v1.0h-1.0zM185.47 510.71h1.0v1.0h-1.0zM188.69 490.33h1.0v1.0h-1.0zM230.54 486.76h1.0v1.0h-1.0zM206.34 480.42h1.0v1.0h-1.0zM185.46 494.06h1.0v1.0h-1.0zM211.22 521.32h1.0v1.0h-1.0zM228.38 478.67h1.0v1.0h-1.0zM193.32 521.12h1.0v1.0h-1.0zM193.38 488.42h1.0v1.0h-1.0zM191.27 520.84h1.0v1.0h-1.0zM201.85 522.8h1.0v1.0h-1.0zM229.18 474.36h1.0v1.0h-1.0zM229.77 484.53h1.0v1.0h-1.0zM229.5 496.78h1.0v1.0h-1.0zM184.84 495.45h1.0v1.0h-1.0zM185.12 495.94h1.0v1.0h-1.0zM231.05 498.68h1.0v1.0h-1.0zM203.66 482.41h1.0v1.0h-1.0zM185.3 509.21h1.0v1.0h-1.0zM227.31 509.85h1.0v1.0h-1.0zM228.19 478.55h1.0v1.0h-1.0zM209.59 476.16h1.0v1.0h-1.0zM232.31 490.5h1.0v1.0h-1.0zM231.58 493.38h1.0v1.0h-1.0zM221.93 520.64h1.0v1.0h-1.0zM229.04 506.04h1.0v1.0h-1.0zM228.58 509.82h1.0v1.0h-1.0zM217 474.04h1.0v1.0h-1.0zM220.87 474.05h1.0v1.0h-1.0zM206.36 480.5h1.0v1.0h-1.0zM229.03 507.95h1.0v1.0h-1.0zM198.8 485.51h1.0v1.0h-1.0zM220.28 473.06h1.0v1.0h-1.0zM228.86 495.38h1.0v1.0h-1.0zM195.11 485.99h1.0v1.0h-1.0zM229.99 484.62h1.0v1.0h-1.0zM191.49 522.45h1.0v1.0h-1.0zM198.51 521.27h1.0v1.0h-1.0zM222.43 474.54h1.0v1.0h-1.0zM204.44 521.9h1.0v1.0h-1.0zM186.68 491.45h1.0v1.0h-1.0zM185.79 516.74h1.0v1.0h-1.0zM229.28 507.88h1.0v1.0h-1.0zM220.95 473.81h1.0v1.0h-1.0zM229.8 481.94h1.0v1.0h-1.0zM223.52 520.08h1.0v1.0h-1.0zM229.94 492.23h1.0v1.0h-1.0zM229.09 480.09h1.0v1.0h-1.0zM189.39 520.69h1.0v1.0h-1.0zM200.79 522.2h1.0v1.0h-1.0zM190.2 520.92h1.0v1.0h-1.0zM226.95 515.75h1.0v1.0h-1.0zM232.57 472.08h1.0v1.0h-1.0zM219.47 473.42h1.0v1.0h-1.0zM207.46 473.23h1.0v1.0h-1.0zM187.32 491.35h1.0v1.0h-1.0zM228.18 500.38h1.0v1.0h-1.0zM187.18 490.68h1.0v1.0h-1.0zM185.28 514.46h1.0v1.0h-1.0zM182.69 513.85h1.0v1.0h-1.0zM185.97 514.17h1.0v1.0h-1.0zM186.14 516.94h1.0v1.0h-1.0zM228.26 514.28h1.0v1.0h-1.0zM185.95 514.81h1.0v1.0h-1.0zM201.84 522.2h1.0v1.0h-1.0zM220.7 521.02h1.0v1.0h-1.0zM222.58 520.45h1.0v1.0h-1.0zM202.02 523.5h1.0v1.0h-1.0zM230.33 479.77h1.0v1.0h-1.0zM205.14 521.27h1.0v1.0h-1.0zM185.2 498.07h1.0v1.0h-1.0zM205.33 521.12h1.0v1.0h-1.0zM218.83 473.18h1.0v1.0h-1.0zM227.66 513.71h1.0v1.0h-1.0zM226.55 524.65h1.0v1.0h-1.0zM201.62 483.26h1.0v1.0h-1.0zM210.84 475.81h1.0v1.0h-1.0zM183.9 518.07h1.0v1.0h-1.0zM229.99 482.71h1.0v1.0h-1.0zM188.51 520.14h1.0v1.0h-1.0zM193.15 486.85h1.0v1.0h-1.0zM196.55 485.29h1.0v1.0h-1.0zM227.87 504.09h1.0v1.0h-1.0zM228.07 506.96h1.0v1.0h-1.0zM230.17 509.64h1.0v1.0h-1.0zM209.05 521.29h1.0v1.0h-1.0zM183.63 501.28h1.0v1.0h-1.0zM231.24 486.38h1.0v1.0h-1.0zM183.67 492.87h1.0v1.0h-1.0zM206.72 521.27h1.0v1.0h-1.0zM225.89 475.58h1.0v1.0h-1.0zM221.23 474.15h1.0v1.0h-1.0zM231.14 486.16h1.0v1.0h-1.0zM185.25 500.99h1.0v1.0h-1.0zM185.49 496.02h1.0v1.0h-1.0zM191.45 488.97h1.0v1.0h-1.0zM180.77 510.43h1.0v1.0h-1.0zM223.8 474.28h1.0v1.0h-1.0zM199.46 482.97h1.0v1.0h-1.0zM221.99 523.57h1.0v1.0h-1.0zM196.54 521.87h1.0v1.0h-1.0zM231.32 482.19h1.0v1.0h-1.0z" fill="#000"/>
<path d="M186.6 494 C188.17 490 192.93 489.92 196 488 C199.07 486.08 202.33 484.33 205 482.5 C207.67 480.67 209.67 478.33 212 477 C214.33 475.67 216.33 474.33 219 474.5 C221.67 474.67 226.17 475.75 228 478 C229.83 480.25 229.92 484.33 230 488 C230.08 491.67 228.92 496 228.5 500 C228.08 504 228.25 508.58 227.5 512 C226.75 515.42 227.75 518.9 224 520.5 C220.25 522.1 210.67 521.58 205 521.6 C199.33 521.62 193.07 522.2 190 520.6 C186.93 519 187.17 516.43 186.6 512 C186.03 507.57 185.03 498 186.6 494 Z" stroke="none" stroke-width="1" fill="#ececec" stroke-linejoin="round"/>
<path d="M186.8 494.11 C188.36 490.15 193.07 490.07 196.11 488.17 C199.15 486.27 202.38 484.54 205.02 482.73 C207.66 480.91 209.64 478.6 211.95 477.28 C214.26 475.96 216.24 474.64 218.88 474.81 C221.52 474.97 225.97 476.04 227.79 478.27 C229.6 480.5 229.69 484.54 229.77 488.17 C229.85 491.8 228.7 496.09 228.28 500.05 C227.87 504.01 228.04 508.55 227.29 511.93 C226.55 515.31 227.54 518.76 223.83 520.35 C220.12 521.93 210.63 521.42 205.02 521.43 C199.41 521.45 193.21 522.03 190.17 520.44 C187.13 518.86 187.37 516.32 186.8 511.93 C186.24 507.54 185.25 498.07 186.8 494.11 Z" stroke="#555" stroke-width="0.5" fill="none" stroke-linejoin="round"/>
<path d="M188.21 495.28 C189.65 491.62 194.01 491.54 196.82 489.79 C199.63 488.03 202.63 486.43 205.07 484.75 C207.51 483.07 209.34 480.93 211.48 479.71 C213.62 478.49 215.45 477.27 217.89 477.42 C220.33 477.57 224.46 478.57 226.14 480.63 C227.82 482.69 227.89 486.43 227.97 489.79 C228.04 493.15 226.98 497.12 226.59 500.78 C226.21 504.44 226.37 508.64 225.68 511.77 C224.99 514.9 225.91 518.09 222.47 519.56 C219.04 521.02 210.26 520.55 205.07 520.57 C199.88 520.58 194.14 521.12 191.33 519.65 C188.52 518.18 188.73 515.83 188.21 511.77 C187.69 507.71 186.78 498.95 188.21 495.28 Z" stroke="#555" stroke-width="0.5" fill="none" stroke-linejoin="round"/>
<path d="M189.62 496.46 C190.94 493.09 194.96 493.02 197.54 491.41 C200.12 489.79 202.87 488.32 205.12 486.78 C207.36 485.23 209.05 483.27 211.01 482.14 C212.97 481.02 214.66 479.9 216.9 480.04 C219.15 480.18 222.94 481.09 224.48 482.99 C226.03 484.88 226.1 488.32 226.17 491.41 C226.24 494.49 225.25 498.14 224.9 501.51 C224.55 504.88 224.69 508.74 224.06 511.61 C223.43 514.49 224.27 517.42 221.11 518.77 C217.96 520.12 209.89 519.68 205.12 519.7 C200.34 519.71 195.07 520.2 192.49 518.86 C189.9 517.51 190.1 515.35 189.62 511.61 C189.15 507.88 188.3 499.83 189.62 496.46 Z" stroke="#555" stroke-width="0.5" fill="none" stroke-linejoin="round"/>
<path d="M191.03 497.63 C192.24 494.56 195.9 494.5 198.25 493.02 C200.61 491.55 203.12 490.21 205.16 488.8 C207.21 487.39 208.75 485.6 210.54 484.58 C212.33 483.55 213.87 482.53 215.92 482.66 C217.96 482.78 221.42 483.62 222.83 485.34 C224.24 487.07 224.3 490.21 224.36 493.02 C224.43 495.84 223.53 499.17 223.21 502.24 C222.89 505.31 223.02 508.83 222.44 511.46 C221.87 514.08 222.64 516.76 219.76 517.98 C216.88 519.21 209.52 518.82 205.16 518.83 C200.81 518.84 196 519.29 193.64 518.06 C191.29 516.83 191.47 514.86 191.03 511.46 C190.6 508.05 189.83 500.7 191.03 497.63 Z" stroke="#555" stroke-width="0.5" fill="none" stroke-linejoin="round"/>
<path d="M192.44 498.81 C193.53 496.03 196.84 495.97 198.97 494.64 C201.09 493.31 203.36 492.1 205.21 490.82 C207.06 489.55 208.45 487.93 210.07 487.01 C211.69 486.08 213.08 485.16 214.93 485.27 C216.78 485.39 219.9 486.14 221.17 487.7 C222.45 489.26 222.5 492.1 222.56 494.64 C222.62 497.19 221.81 500.19 221.52 502.97 C221.23 505.75 221.35 508.93 220.83 511.3 C220.31 513.67 221 516.09 218.4 517.2 C215.8 518.31 209.14 517.95 205.21 517.96 C201.28 517.97 196.93 518.38 194.8 517.27 C192.67 516.16 192.84 514.37 192.44 511.3 C192.05 508.22 191.36 501.58 192.44 498.81 Z" stroke="#555" stroke-width="0.5" fill="none" stroke-linejoin="round"/>
<path d="M193.85 499.98 C194.82 497.5 197.78 497.45 199.68 496.26 C201.58 495.07 203.61 493.99 205.26 492.85 C206.91 491.71 208.15 490.27 209.6 489.44 C211.05 488.61 212.29 487.79 213.94 487.89 C215.59 487.99 218.38 488.67 219.52 490.06 C220.66 491.45 220.71 493.99 220.76 496.26 C220.81 498.53 220.09 501.22 219.83 503.7 C219.57 506.18 219.68 509.02 219.21 511.14 C218.75 513.26 219.37 515.42 217.04 516.41 C214.71 517.4 208.77 517.08 205.26 517.09 C201.75 517.1 197.86 517.46 195.96 516.47 C194.06 515.48 194.2 513.89 193.85 511.14 C193.5 508.39 192.88 502.46 193.85 499.98 Z" stroke="#555" stroke-width="0.5" fill="none" stroke-linejoin="round"/>
<ellipse cx="206.5" cy="506.8" rx="17" ry="12.6" transform="rotate(0 206.5 506.8)" stroke="none" stroke-width="1" fill="#6e6e6e"/>
<ellipse cx="206.5" cy="506.8" rx="17" ry="12.6" transform="rotate(0 206.5 506.8)" stroke="#1c1c1c" stroke-width="0.6" fill="none"/>
<ellipse cx="206.6" cy="506.8" rx="14.62" ry="10.84" transform="rotate(0 206.6 506.8)" stroke="#1c1c1c" stroke-width="0.6" fill="none"/>
<ellipse cx="206.7" cy="506.8" rx="12.24" ry="9.07" transform="rotate(0 206.7 506.8)" stroke="#1c1c1c" stroke-width="0.6" fill="none"/>
<ellipse cx="206.8" cy="506.8" rx="9.86" ry="7.31" transform="rotate(0 206.8 506.8)" stroke="#1c1c1c" stroke-width="0.6" fill="none"/>
<ellipse cx="206.9" cy="506.8" rx="7.48" ry="5.54" transform="rotate(0 206.9 506.8)" stroke="#1c1c1c" stroke-width="0.6" fill="none"/>
<ellipse cx="207" cy="506.8" rx="5.1" ry="3.78" transform="rotate(0 207 506.8)" stroke="#1c1c1c" stroke-width="0.6" fill="none"/>
<ellipse cx="196" cy="507.3" rx="4.2" ry="3.4" transform="rotate(0 196 507.3)" stroke="#ddd" stroke-width="0.5" fill="none"/>
<ellipse cx="196" cy="507.3" rx="3" ry="2.4" transform="rotate(0 196 507.3)" stroke="#ddd" stroke-width="0.5" fill="none"/>
<ellipse cx="196" cy="507.3" rx="1.8" ry="1.4" transform="rotate(0 196 507.3)" stroke="#ddd" stroke-width="0.5" fill="none"/>
<ellipse cx="196" cy="507.3" rx="1" ry="0.8" transform="rotate(0 196 507.3)" stroke="none" stroke-width="1" fill="#fff"/>
<ellipse cx="207" cy="506.8" rx="4.2" ry="3.4" transform="rotate(0 207 506.8)" stroke="#ddd" stroke-width="0.5" fill="none"/>
<ellipse cx="207" cy="506.8" rx="3" ry="2.4" transform="rotate(0 207 506.8)" stroke="#ddd" stroke-width="0.5" fill="none"/>
<ellipse cx="207" cy="506.8" rx="1.8" ry="1.4" transform="rotate(0 207 506.8)" stroke="#ddd" stroke-width="0.5" fill="none"/>
<ellipse cx="207" cy="506.8" rx="1" ry="0.8" transform="rotate(0 207 506.8)" stroke="none" stroke-width="1" fill="#fff"/>
<ellipse cx="223.4" cy="484.5" rx="13.6" ry="10" transform="rotate(-35 223.4 484.5)" stroke="none" stroke-width="1" fill="#4a4a4a"/>
<ellipse cx="223.6" cy="484.6" rx="11.8" ry="8.4" transform="rotate(-35 223.6 484.6)" stroke="#111" stroke-width="0.6" fill="none"/>
<ellipse cx="223.6" cy="484.6" rx="9.2" ry="6.55" transform="rotate(-35 223.6 484.6)" stroke="#111" stroke-width="0.6" fill="none"/>
<ellipse cx="223.6" cy="484.6" rx="6.61" ry="4.7" transform="rotate(-35 223.6 484.6)" stroke="#111" stroke-width="0.6" fill="none"/>
<ellipse cx="223.6" cy="484.6" rx="4.01" ry="2.86" transform="rotate(-35 223.6 484.6)" stroke="#111" stroke-width="0.6" fill="none"/>
<ellipse cx="224.5" cy="483.5" rx="3" ry="2.4" transform="rotate(-35 224.5 483.5)" stroke="none" stroke-width="1" fill="#8a8a8a"/>
<ellipse cx="223.4" cy="484.5" rx="13.6" ry="10" transform="rotate(-35 223.4 484.5)" stroke="#4850c4" stroke-width="0.7" fill="none"/>
<ellipse cx="223.4" cy="484.5" rx="12.1" ry="8.6" transform="rotate(-35 223.4 484.5)" stroke="#5860cc" stroke-width="0.6" fill="none"/>
<line x1="302.5" y1="426.5" x2="304.5" y2="426.5" stroke="#999" stroke-width="0.6"/>
<line x1="303.5" y1="432.88" x2="304.5" y2="432.88" stroke="#999" stroke-width="0.6"/>
<line x1="303.5" y1="439.25" x2="304.5" y2="439.25" stroke="#999" stroke-width="0.6"/>
<line x1="303.5" y1="445.62" x2="304.5" y2="445.62" stroke="#999" stroke-width="0.6"/>
<line x1="303.5" y1="452" x2="304.5" y2="452" stroke="#999" stroke-width="0.6"/>
<line x1="302.5" y1="458.38" x2="304.5" y2="458.38" stroke="#999" stroke-width="0.6"/>
<line x1="303.5" y1="464.75" x2="304.5" y2="464.75" stroke="#999" stroke-width="0.6"/>
<line x1="303.5" y1="471.12" x2="304.5" y2="471.12" stroke="#999" stroke-width="0.6"/>
<line x1="303.5" y1="477.5" x2="304.5" y2="477.5" stroke="#999" stroke-width="0.6"/>
<line x1="303.5" y1="483.88" x2="304.5" y2="483.88" stroke="#999" stroke-width="0.6"/>
<line x1="302.5" y1="490.25" x2="304.5" y2="490.25" stroke="#999" stroke-width="0.6"/>
<line x1="303.5" y1="496.62" x2="304.5" y2="496.62" stroke="#999" stroke-width="0.6"/>
<line x1="303.5" y1="503" x2="304.5" y2="503" stroke="#999" stroke-width="0.6"/>
<line x1="303.5" y1="509.38" x2="304.5" y2="509.38" stroke="#999" stroke-width="0.6"/>
<line x1="303.5" y1="515.75" x2="304.5" y2="515.75" stroke="#999" stroke-width="0.6"/>
<line x1="302.5" y1="522.12" x2="304.5" y2="522.12" stroke="#999" stroke-width="0.6"/>
<line x1="303.5" y1="528.5" x2="304.5" y2="528.5" stroke="#999" stroke-width="0.6"/>
<line x1="304.5" y1="528.5" x2="304.5" y2="530.5" stroke="#999" stroke-width="0.6"/>
<line x1="309.7" y1="528.5" x2="309.7" y2="529.5" stroke="#999" stroke-width="0.6"/>
<line x1="314.9" y1="528.5" x2="314.9" y2="529.5" stroke="#999" stroke-width="0.6"/>
<line x1="320.1" y1="528.5" x2="320.1" y2="529.5" stroke="#999" stroke-width="0.6"/>
<line x1="325.3" y1="528.5" x2="325.3" y2="529.5" stroke="#999" stroke-width="0.6"/>
<line x1="330.5" y1="528.5" x2="330.5" y2="530.5" stroke="#999" stroke-width="0.6"/>
<line x1="335.7" y1="528.5" x2="335.7" y2="529.5" stroke="#999" stroke-width="0.6"/>
<line x1="340.9" y1="528.5" x2="340.9" y2="529.5" stroke="#999" stroke-width="0.6"/>
<line x1="346.1" y1="528.5" x2="346.1" y2="529.5" stroke="#999" stroke-width="0.6"/>
<line x1="351.3" y1="528.5" x2="351.3" y2="529.5" stroke="#999" stroke-width="0.6"/>
<line x1="356.5" y1="528.5" x2="356.5" y2="530.5" stroke="#999" stroke-width="0.6"/>
<line x1="361.7" y1="528.5" x2="361.7" y2="529.5" stroke="#999" stroke-width="0.6"/>
<line x1="366.9" y1="528.5" x2="366.9" y2="529.5" stroke="#999" stroke-width="0.6"/>
<line x1="372.1" y1="528.5" x2="372.1" y2="529.5" stroke="#999" stroke-width="0.6"/>
<line x1="377.3" y1="528.5" x2="377.3" y2="529.5" stroke="#999" stroke-width="0.6"/>
<line x1="382.5" y1="528.5" x2="382.5" y2="530.5" stroke="#999" stroke-width="0.6"/>
<line x1="387.7" y1="528.5" x2="387.7" y2="529.5" stroke="#999" stroke-width="0.6"/>
<line x1="392.9" y1="528.5" x2="392.9" y2="529.5" stroke="#999" stroke-width="0.6"/>
<line x1="398.1" y1="528.5" x2="398.1" y2="529.5" stroke="#999" stroke-width="0.6"/>
<line x1="403.3" y1="528.5" x2="403.3" y2="529.5" stroke="#999" stroke-width="0.6"/>
<line x1="408.5" y1="528.5" x2="408.5" y2="530.5" stroke="#999" stroke-width="0.6"/>
<rect x="304.5" y="418.5" width="110" height="110" stroke="#787878" fill="none" stroke-width="1"/>
<path d="M298.3 498.6 L298.3 533.4 L333.1 533.4" stroke="#000" stroke-width="1.8" fill="none" stroke-linejoin="round"/>
<path d="M294.9 502 L298.3 498.4 L301.7 502" stroke="#000" stroke-width="1.8" fill="none" stroke-linejoin="round"/>
<path d="M329.7 530 L333.3 533.4 L329.7 536.8" stroke="#000" stroke-width="1.8" fill="none" stroke-linejoin="round"/>
<text x="300.6" y="483.5" font-size="8.3" font-weight="700" text-anchor="middle" textLength="20.4" lengthAdjust="spacingAndGlyphs" transform="rotate(-90 300.6 483.5)">CD27</text>
<text x="341.6" y="536" font-size="8.3" font-weight="700" textLength="12.0" lengthAdjust="spacingAndGlyphs">IgD</text>
<rect x="304.6" y="462" width="2.6" height="65.5" fill="#111"/>
<path d="M307.04 469.31h0.9v0.9h-0.9zM308.37 506.45h0.9v0.9h-0.9zM307.49 469.31h0.9v0.9h-0.9zM307.81 511.24h0.9v0.9h-0.9zM307.52 510.14h0.9v0.9h-0.9zM309.32 470.88h0.9v0.9h-0.9zM308.87 491.1h0.9v0.9h-0.9zM308.44 526.76h0.9v0.9h-0.9zM307.33 463.32h0.9v0.9h-0.9zM310.29 488.19h0.9v0.9h-0.9zM307.69 483.47h0.9v0.9h-0.9zM308.28 524.08h0.9v0.9h-0.9zM307.74 476.1h0.9v0.9h-0.9zM309.05 497.58h0.9v0.9h-0.9zM310.34 516.51h0.9v0.9h-0.9zM308.24 475.25h0.9v0.9h-0.9zM309.93 526.28h0.9v0.9h-0.9zM307.11 509.78h0.9v0.9h-0.9zM310.04 504.32h0.9v0.9h-0.9zM307.76 513.78h0.9v0.9h-0.9zM309.55 474.6h0.9v0.9h-0.9zM309.24 476.25h0.9v0.9h-0.9zM307.14 483.84h0.9v0.9h-0.9zM308.17 487.75h0.9v0.9h-0.9zM309.26 516.35h0.9v0.9h-0.9zM310.36 525.47h0.9v0.9h-0.9zM310.48 513.34h0.9v0.9h-0.9zM308.07 473.46h0.9v0.9h-0.9zM309.18 497.48h0.9v0.9h-0.9zM309.36 468.08h0.9v0.9h-0.9zM307.67 521.87h0.9v0.9h-0.9zM309.1 507.2h0.9v0.9h-0.9zM307.33 487.95h0.9v0.9h-0.9zM310.19 504.21h0.9v0.9h-0.9zM310.47 474.8h0.9v0.9h-0.9zM308.59 514.04h0.9v0.9h-0.9zM308.56 513.28h0.9v0.9h-0.9zM308.97 469.67h0.9v0.9h-0.9zM307.35 525.89h0.9v0.9h-0.9zM307.42 474.62h0.9v0.9h-0.9zM308.17 508.37h0.9v0.9h-0.9zM309.99 492.92h0.9v0.9h-0.9zM308.74 513.25h0.9v0.9h-0.9zM307.97 486.21h0.9v0.9h-0.9zM309.14 503.35h0.9v0.9h-0.9zM307.13 469.28h0.9v0.9h-0.9zM307.48 509.13h0.9v0.9h-0.9zM309.43 525.26h0.9v0.9h-0.9zM309.69 478.56h0.9v0.9h-0.9zM309.68 526.03h0.9v0.9h-0.9zM308.22 462.73h0.9v0.9h-0.9zM308.31 480.36h0.9v0.9h-0.9zM307.62 464.93h0.9v0.9h-0.9zM307.44 518.24h0.9v0.9h-0.9zM307.17 501.91h0.9v0.9h-0.9zM307.72 474.57h0.9v0.9h-0.9zM309.87 481.42h0.9v0.9h-0.9zM307.64 491.57h0.9v0.9h-0.9zM309.43 496.08h0.9v0.9h-0.9zM310.01 488.09h0.9v0.9h-0.9zM308.83 508.61h0.9v0.9h-0.9zM308.62 508.61h0.9v0.9h-0.9zM308.63 470.69h0.9v0.9h-0.9zM307.43 512.9h0.9v0.9h-0.9zM309.61 523.28h0.9v0.9h-0.9zM309.42 499.68h0.9v0.9h-0.9zM307.58 517.45h0.9v0.9h-0.9zM307.42 489.62h0.9v0.9h-0.9zM307.49 486.75h0.9v0.9h-0.9zM308.08 489.66h0.9v0.9h-0.9zM309.49 497.2h0.9v0.9h-0.9zM307.85 512.62h0.9v0.9h-0.9zM309.57 515.77h0.9v0.9h-0.9zM307.12 501.96h0.9v0.9h-0.9zM310.13 478.82h0.9v0.9h-0.9zM307.71 514.9h0.9v0.9h-0.9zM308.27 488.08h0.9v0.9h-0.9zM309.86 486.97h0.9v0.9h-0.9zM307.69 475.93h0.9v0.9h-0.9zM308.21 507.36h0.9v0.9h-0.9z" fill="#000" fill-opacity="1.0"/>
<path d="M305.42 456.96h0.9v0.9h-0.9zM304.66 445.48h0.9v0.9h-0.9zM306.06 450.55h0.9v0.9h-0.9zM305.75 460.58h0.9v0.9h-0.9zM305.19 443.99h0.9v0.9h-0.9zM304.58 450.61h0.9v0.9h-0.9zM305.24 450.42h0.9v0.9h-0.9zM304.51 440h0.9v0.9h-0.9zM305.45 456.67h0.9v0.9h-0.9zM305.25 460.08h0.9v0.9h-0.9zM305.95 448.88h0.9v0.9h-0.9zM306.44 445.13h0.9v0.9h-0.9z" fill="#000" fill-opacity="1.0"/>
<path d="M327.14 517.02h0.9v0.9h-0.9zM325.38 482.78h0.9v0.9h-0.9zM313.14 499.32h0.9v0.9h-0.9zM315.66 486.26h0.9v0.9h-0.9zM325.42 523.17h0.9v0.9h-0.9zM329.02 495.76h0.9v0.9h-0.9zM334.1 482.06h0.9v0.9h-0.9zM321.16 506.02h0.9v0.9h-0.9zM325.74 476.41h0.9v0.9h-0.9zM321.79 515.53h0.9v0.9h-0.9zM317.16 507.88h0.9v0.9h-0.9zM311.82 524.05h0.9v0.9h-0.9zM329.31 483.04h0.9v0.9h-0.9zM337.54 513.77h0.9v0.9h-0.9zM312.2 478.14h0.9v0.9h-0.9zM324.02 526.88h0.9v0.9h-0.9zM314.37 465.1h0.9v0.9h-0.9zM319.1 464.91h0.9v0.9h-0.9zM321.75 497h0.9v0.9h-0.9zM322.61 471.19h0.9v0.9h-0.9zM311.14 514.19h0.9v0.9h-0.9zM322.6 493.2h0.9v0.9h-0.9zM323.65 506.57h0.9v0.9h-0.9zM335.27 515.76h0.9v0.9h-0.9zM330.5 484.03h0.9v0.9h-0.9zM315.14 467.83h0.9v0.9h-0.9zM334.12 465.7h0.9v0.9h-0.9zM326.15 521.13h0.9v0.9h-0.9zM319.36 487.29h0.9v0.9h-0.9zM321.99 523.39h0.9v0.9h-0.9zM329.31 516.53h0.9v0.9h-0.9zM311.57 509.47h0.9v0.9h-0.9zM322.9 488.1h0.9v0.9h-0.9zM332.96 509.8h0.9v0.9h-0.9zM335.54 510h0.9v0.9h-0.9zM335.53 489.83h0.9v0.9h-0.9zM325.79 513.01h0.9v0.9h-0.9zM322.97 470.92h0.9v0.9h-0.9zM326.6 518.63h0.9v0.9h-0.9zM334.44 470.14h0.9v0.9h-0.9zM320.98 476.86h0.9v0.9h-0.9zM319.88 524.37h0.9v0.9h-0.9zM322.08 482.36h0.9v0.9h-0.9zM318 490.62h0.9v0.9h-0.9zM328.92 484.27h0.9v0.9h-0.9zM315.62 476.7h0.9v0.9h-0.9zM317.65 520.9h0.9v0.9h-0.9zM315.16 511.01h0.9v0.9h-0.9zM313.48 513.08h0.9v0.9h-0.9zM317.81 512.67h0.9v0.9h-0.9zM322.38 467.08h0.9v0.9h-0.9zM313.1 513.99h0.9v0.9h-0.9zM325.4 493.59h0.9v0.9h-0.9zM320.19 506.94h0.9v0.9h-0.9zM323.76 466.03h0.9v0.9h-0.9zM327.03 482.39h0.9v0.9h-0.9zM333.78 497.69h0.9v0.9h-0.9zM331.78 469.81h0.9v0.9h-0.9zM329.94 501.68h0.9v0.9h-0.9zM333.9 519.47h0.9v0.9h-0.9zM325.66 500.49h0.9v0.9h-0.9zM331.59 479.15h0.9v0.9h-0.9zM325.49 513.14h0.9v0.9h-0.9zM326.85 497.26h0.9v0.9h-0.9zM334.03 525.39h0.9v0.9h-0.9zM317.62 466.86h0.9v0.9h-0.9zM327.37 471.65h0.9v0.9h-0.9zM337.17 492.85h0.9v0.9h-0.9zM325.19 515.13h0.9v0.9h-0.9zM334.42 471.25h0.9v0.9h-0.9zM322.97 473.73h0.9v0.9h-0.9zM323.16 470.66h0.9v0.9h-0.9zM334.62 485.12h0.9v0.9h-0.9zM321.2 520.34h0.9v0.9h-0.9zM333.14 483.84h0.9v0.9h-0.9zM324.25 505.11h0.9v0.9h-0.9zM315.67 470.85h0.9v0.9h-0.9zM334.08 472.54h0.9v0.9h-0.9zM329.96 509.97h0.9v0.9h-0.9zM326.77 484.48h0.9v0.9h-0.9zM334.09 513.12h0.9v0.9h-0.9zM312.45 520.32h0.9v0.9h-0.9zM328.01 480.81h0.9v0.9h-0.9zM315.14 468.37h0.9v0.9h-0.9zM332.81 517.11h0.9v0.9h-0.9zM320.06 473.7h0.9v0.9h-0.9zM312.51 488.91h0.9v0.9h-0.9zM318.69 465.38h0.9v0.9h-0.9zM318.69 515.38h0.9v0.9h-0.9zM312.29 488.26h0.9v0.9h-0.9zM324.64 472.52h0.9v0.9h-0.9zM311.5 466.83h0.9v0.9h-0.9zM314.46 525.34h0.9v0.9h-0.9zM334.2 507.83h0.9v0.9h-0.9zM335.24 483.15h0.9v0.9h-0.9zM317.36 518.54h0.9v0.9h-0.9zM327.17 522.02h0.9v0.9h-0.9zM320.37 488.85h0.9v0.9h-0.9zM330.24 519.36h0.9v0.9h-0.9zM315.05 479.1h0.9v0.9h-0.9zM310.88 498.37h0.9v0.9h-0.9zM335.9 498.91h0.9v0.9h-0.9zM314.59 506.93h0.9v0.9h-0.9zM328.37 468.84h0.9v0.9h-0.9zM335.64 504.9h0.9v0.9h-0.9zM323.99 484.36h0.9v0.9h-0.9zM314.91 492.4h0.9v0.9h-0.9zM320.56 477.14h0.9v0.9h-0.9zM328.28 505.02h0.9v0.9h-0.9zM336.74 524.95h0.9v0.9h-0.9z" fill="#000" fill-opacity="1.0"/>
<path d="M323.18 509.39h0.9v0.9h-0.9zM321 493.84h0.9v0.9h-0.9zM325.61 523.97h0.9v0.9h-0.9zM313.01 495.46h0.9v0.9h-0.9zM320.07 514.27h0.9v0.9h-0.9zM334.81 495.96h0.9v0.9h-0.9zM313.91 502.69h0.9v0.9h-0.9zM326.1 507.44h0.9v0.9h-0.9zM330.64 495.48h0.9v0.9h-0.9zM325.18 512.2h0.9v0.9h-0.9zM312.66 483.2h0.9v0.9h-0.9zM328.5 523.77h0.9v0.9h-0.9zM334.64 485.5h0.9v0.9h-0.9zM335.33 485.35h0.9v0.9h-0.9zM322.87 478.73h0.9v0.9h-0.9zM326.46 491.55h0.9v0.9h-0.9zM328.44 522.64h0.9v0.9h-0.9zM315.07 506.16h0.9v0.9h-0.9zM326.44 485.08h0.9v0.9h-0.9zM312.85 521.65h0.9v0.9h-0.9zM328.68 504.39h0.9v0.9h-0.9zM314.46 519.5h0.9v0.9h-0.9zM321.58 495.59h0.9v0.9h-0.9zM325.35 494.53h0.9v0.9h-0.9zM334.89 495.71h0.9v0.9h-0.9zM328.26 512.51h0.9v0.9h-0.9zM334.39 479.37h0.9v0.9h-0.9zM320.15 522.25h0.9v0.9h-0.9zM326.55 490.49h0.9v0.9h-0.9zM333.15 476.53h0.9v0.9h-0.9zM318.08 473.8h0.9v0.9h-0.9zM328.09 496.77h0.9v0.9h-0.9zM319.31 494.17h0.9v0.9h-0.9zM318.08 509.01h0.9v0.9h-0.9zM330.23 490.99h0.9v0.9h-0.9zM332.85 472.46h0.9v0.9h-0.9zM325.58 478.44h0.9v0.9h-0.9zM314.82 500.71h0.9v0.9h-0.9zM314.09 474.08h0.9v0.9h-0.9zM315.22 490.71h0.9v0.9h-0.9zM331.93 485.9h0.9v0.9h-0.9zM314.93 512.22h0.9v0.9h-0.9zM331.61 524.79h0.9v0.9h-0.9zM313.18 479.08h0.9v0.9h-0.9zM322.41 524.52h0.9v0.9h-0.9zM324.95 518.6h0.9v0.9h-0.9zM317.38 495.89h0.9v0.9h-0.9zM328.48 482.46h0.9v0.9h-0.9zM324.54 515.37h0.9v0.9h-0.9zM331.58 508.32h0.9v0.9h-0.9zM331.89 524.78h0.9v0.9h-0.9zM326.52 483.7h0.9v0.9h-0.9zM317.33 473.11h0.9v0.9h-0.9zM334.05 501.43h0.9v0.9h-0.9zM326.47 518h0.9v0.9h-0.9zM328.58 491.58h0.9v0.9h-0.9zM326.06 474.52h0.9v0.9h-0.9zM318.08 488.89h0.9v0.9h-0.9zM331.07 506.38h0.9v0.9h-0.9zM326.49 491.73h0.9v0.9h-0.9zM320.44 491.15h0.9v0.9h-0.9zM313.2 489.83h0.9v0.9h-0.9zM333.82 514.83h0.9v0.9h-0.9zM317.98 497.43h0.9v0.9h-0.9zM329.87 481.01h0.9v0.9h-0.9zM320.55 502.26h0.9v0.9h-0.9zM316.51 520.02h0.9v0.9h-0.9zM312.46 518.45h0.9v0.9h-0.9zM328.06 491.86h0.9v0.9h-0.9zM318.92 517.76h0.9v0.9h-0.9zM329.08 481.58h0.9v0.9h-0.9zM319.62 475.12h0.9v0.9h-0.9zM327.09 493.3h0.9v0.9h-0.9zM319.63 508.72h0.9v0.9h-0.9zM318.1 477.8h0.9v0.9h-0.9zM331.1 518.77h0.9v0.9h-0.9zM331.37 500.73h0.9v0.9h-0.9zM329.21 517.47h0.9v0.9h-0.9zM312.93 486.46h0.9v0.9h-0.9zM320.53 510.33h0.9v0.9h-0.9z" fill="#000" fill-opacity="1.0"/>
<path d="M350.09 490.42h1.0v1.0h-1.0zM353.52 486.7h1.0v1.0h-1.0zM360.18 491.67h1.0v1.0h-1.0zM353.7 486.1h1.0v1.0h-1.0zM341.42 486.54h1.0v1.0h-1.0zM349.11 482.75h1.0v1.0h-1.0zM359.62 489.95h1.0v1.0h-1.0zM349.81 489.66h1.0v1.0h-1.0zM356.11 489.51h1.0v1.0h-1.0zM345.34 480.13h1.0v1.0h-1.0zM360.61 490.64h1.0v1.0h-1.0zM353.67 489.73h1.0v1.0h-1.0zM357.79 492.32h1.0v1.0h-1.0zM357.49 488.47h1.0v1.0h-1.0zM342.13 476.77h1.0v1.0h-1.0zM339.39 478.07h1.0v1.0h-1.0zM340.13 484.62h1.0v1.0h-1.0zM348.88 484.4h1.0v1.0h-1.0zM367.2 494.47h1.0v1.0h-1.0zM343.18 485.46h1.0v1.0h-1.0zM346.98 489.44h1.0v1.0h-1.0zM340.3 479.86h1.0v1.0h-1.0zM340.79 477.99h1.0v1.0h-1.0zM350.78 486.34h1.0v1.0h-1.0zM344.61 483.85h1.0v1.0h-1.0zM347.52 480.37h1.0v1.0h-1.0zM343.19 476.85h1.0v1.0h-1.0zM359.94 487.22h1.0v1.0h-1.0zM360.42 493.65h1.0v1.0h-1.0zM350.56 484.97h1.0v1.0h-1.0zM340.19 484.04h1.0v1.0h-1.0zM369.46 494.22h1.0v1.0h-1.0zM362.17 489.15h1.0v1.0h-1.0zM361.49 491.26h1.0v1.0h-1.0zM360.66 493.41h1.0v1.0h-1.0zM350.8 484.91h1.0v1.0h-1.0zM344.78 478.79h1.0v1.0h-1.0zM352.72 485.44h1.0v1.0h-1.0zM359.88 492.25h1.0v1.0h-1.0zM343.15 478.03h1.0v1.0h-1.0zM349.03 485.12h1.0v1.0h-1.0zM347.28 485.05h1.0v1.0h-1.0zM358.8 494.41h1.0v1.0h-1.0zM341.72 485.6h1.0v1.0h-1.0zM363.73 489.2h1.0v1.0h-1.0zM346.67 482.3h1.0v1.0h-1.0zM351.76 489.12h1.0v1.0h-1.0zM361.96 495.3h1.0v1.0h-1.0zM342.64 483.51h1.0v1.0h-1.0zM359.04 488.79h1.0v1.0h-1.0zM339.47 478.24h1.0v1.0h-1.0zM360.45 490.88h1.0v1.0h-1.0zM358.88 488.71h1.0v1.0h-1.0zM352.53 487.04h1.0v1.0h-1.0zM365.5 493.64h1.0v1.0h-1.0zM352.62 485.82h1.0v1.0h-1.0zM349.84 480.97h1.0v1.0h-1.0zM363.13 489.68h1.0v1.0h-1.0zM351.6 489.01h1.0v1.0h-1.0zM345.77 482.36h1.0v1.0h-1.0zM350.42 488.29h1.0v1.0h-1.0zM349.74 483.75h1.0v1.0h-1.0zM359.75 494.74h1.0v1.0h-1.0zM343.71 478.43h1.0v1.0h-1.0zM343.71 479.51h1.0v1.0h-1.0zM348.18 485.61h1.0v1.0h-1.0zM349.65 484.14h1.0v1.0h-1.0zM357.55 487.54h1.0v1.0h-1.0zM363.33 492h1.0v1.0h-1.0zM342.61 478.43h1.0v1.0h-1.0zM355.54 484.61h1.0v1.0h-1.0zM362.69 491.22h1.0v1.0h-1.0zM343.97 478.01h1.0v1.0h-1.0zM350.08 481.1h1.0v1.0h-1.0zM353.3 491.45h1.0v1.0h-1.0zM350.46 486.52h1.0v1.0h-1.0zM369.88 493.89h1.0v1.0h-1.0zM339.29 481.89h1.0v1.0h-1.0zM363.88 494.16h1.0v1.0h-1.0zM346.8 488.04h1.0v1.0h-1.0zM338.92 484.04h1.0v1.0h-1.0zM341.97 487.18h1.0v1.0h-1.0zM344.18 484.72h1.0v1.0h-1.0zM348.94 483.51h1.0v1.0h-1.0zM352.02 488.18h1.0v1.0h-1.0zM345.39 484.96h1.0v1.0h-1.0zM339.02 480.07h1.0v1.0h-1.0zM342.42 476.79h1.0v1.0h-1.0zM339.11 484.26h1.0v1.0h-1.0zM343.13 476.45h1.0v1.0h-1.0zM357.91 490.25h1.0v1.0h-1.0zM362.58 488.62h1.0v1.0h-1.0zM362.31 488.56h1.0v1.0h-1.0zM350.01 481.02h1.0v1.0h-1.0zM353.03 490.4h1.0v1.0h-1.0zM362.49 494.44h1.0v1.0h-1.0zM344.04 480h1.0v1.0h-1.0zM367.39 495.32h1.0v1.0h-1.0zM356.89 486.05h1.0v1.0h-1.0zM348.33 489.99h1.0v1.0h-1.0zM342.58 477.65h1.0v1.0h-1.0zM348.97 489.67h1.0v1.0h-1.0zM341.1 484.79h1.0v1.0h-1.0zM345.32 485.71h1.0v1.0h-1.0zM339.36 474.52h1.0v1.0h-1.0zM339.6 475.59h1.0v1.0h-1.0zM349.41 487.75h1.0v1.0h-1.0zM364.49 491.36h1.0v1.0h-1.0zM341.31 482.93h1.0v1.0h-1.0zM349.31 482.54h1.0v1.0h-1.0zM338.61 478.36h1.0v1.0h-1.0zM343.62 477.11h1.0v1.0h-1.0zM354.51 490.99h1.0v1.0h-1.0zM347.64 488.06h1.0v1.0h-1.0zM356.04 485.56h1.0v1.0h-1.0zM340.08 480.16h1.0v1.0h-1.0zM352.79 486.88h1.0v1.0h-1.0zM359.95 486.71h1.0v1.0h-1.0zM344.8 478.07h1.0v1.0h-1.0zM351.59 487.43h1.0v1.0h-1.0zM368.65 494.96h1.0v1.0h-1.0zM358.2 488.62h1.0v1.0h-1.0zM345.13 487.9h1.0v1.0h-1.0zM355.17 485.99h1.0v1.0h-1.0zM349.99 482.25h1.0v1.0h-1.0zM354.33 485.85h1.0v1.0h-1.0zM362.81 490.04h1.0v1.0h-1.0zM363.07 493.67h1.0v1.0h-1.0zM340.19 485.22h1.0v1.0h-1.0zM339.73 475.49h1.0v1.0h-1.0zM347.01 480.49h1.0v1.0h-1.0zM358.66 492.33h1.0v1.0h-1.0zM341.79 482.69h1.0v1.0h-1.0zM347.08 486.59h1.0v1.0h-1.0zM352.42 484.7h1.0v1.0h-1.0zM364.29 489.67h1.0v1.0h-1.0zM346.13 483.96h1.0v1.0h-1.0zM369.2 492.63h1.0v1.0h-1.0zM347.65 489.46h1.0v1.0h-1.0zM367.1 491.22h1.0v1.0h-1.0zM359.1 492.52h1.0v1.0h-1.0zM348.88 489.72h1.0v1.0h-1.0zM368.15 492.15h1.0v1.0h-1.0zM355.47 486.11h1.0v1.0h-1.0zM352.8 492.01h1.0v1.0h-1.0zM343.2 480.84h1.0v1.0h-1.0zM369.32 492.68h1.0v1.0h-1.0zM365.03 491.03h1.0v1.0h-1.0zM349.97 481.48h1.0v1.0h-1.0zM369.03 494.38h1.0v1.0h-1.0zM360.97 494.16h1.0v1.0h-1.0zM369.41 494.01h1.0v1.0h-1.0zM342.07 478.54h1.0v1.0h-1.0zM357.53 489.44h1.0v1.0h-1.0zM342.3 481.52h1.0v1.0h-1.0zM359.42 491.55h1.0v1.0h-1.0zM369.11 493.35h1.0v1.0h-1.0zM346.93 479.46h1.0v1.0h-1.0zM348.97 486.23h1.0v1.0h-1.0zM347.31 485.64h1.0v1.0h-1.0zM346.21 485.43h1.0v1.0h-1.0zM366.36 493.13h1.0v1.0h-1.0zM347.83 485.96h1.0v1.0h-1.0zM350.66 490.64h1.0v1.0h-1.0zM344.2 482.85h1.0v1.0h-1.0zM339.92 481.01h1.0v1.0h-1.0zM343.05 485.49h1.0v1.0h-1.0zM349.63 486.98h1.0v1.0h-1.0zM360.82 491.7h1.0v1.0h-1.0zM370.31 494.71h1.0v1.0h-1.0z" fill="#000" fill-opacity="1.0"/>
<path d="M341.27 488.17h1.0v1.0h-1.0zM355.02 494.98h1.0v1.0h-1.0zM347.61 491.31h1.0v1.0h-1.0zM341.42 488.94h1.0v1.0h-1.0zM353.92 494.57h1.0v1.0h-1.0zM355.24 494.14h1.0v1.0h-1.0zM338.63 486.39h1.0v1.0h-1.0zM342.33 491.46h1.0v1.0h-1.0zM345.7 493.25h1.0v1.0h-1.0zM338.53 490.71h1.0v1.0h-1.0zM343.39 489.05h1.0v1.0h-1.0zM341.98 494.44h1.0v1.0h-1.0zM351.52 494.52h1.0v1.0h-1.0zM340.71 488.64h1.0v1.0h-1.0zM341.23 492.38h1.0v1.0h-1.0zM342.79 494.93h1.0v1.0h-1.0zM347.71 493.03h1.0v1.0h-1.0zM346.01 492.42h1.0v1.0h-1.0zM349.85 493.46h1.0v1.0h-1.0zM342.3 489.56h1.0v1.0h-1.0zM339.74 489.19h1.0v1.0h-1.0zM351.29 492.63h1.0v1.0h-1.0zM343.8 495.21h1.0v1.0h-1.0zM347.81 490.83h1.0v1.0h-1.0zM349.35 492.93h1.0v1.0h-1.0zM341.53 495h1.0v1.0h-1.0zM343.34 488.99h1.0v1.0h-1.0zM341.14 490.44h1.0v1.0h-1.0zM345.43 491.46h1.0v1.0h-1.0zM349.96 494.08h1.0v1.0h-1.0zM345.99 489.16h1.0v1.0h-1.0zM347.02 493.99h1.0v1.0h-1.0zM342.85 488.71h1.0v1.0h-1.0zM357.45 495.33h1.0v1.0h-1.0zM342.34 494.31h1.0v1.0h-1.0zM341.89 493.57h1.0v1.0h-1.0zM355.36 494.72h1.0v1.0h-1.0zM347.6 495.04h1.0v1.0h-1.0zM339.62 493.71h1.0v1.0h-1.0zM342.59 495.12h1.0v1.0h-1.0zM347.4 494.91h1.0v1.0h-1.0zM344.5 493.42h1.0v1.0h-1.0zM338.78 488.25h1.0v1.0h-1.0zM349 492h1.0v1.0h-1.0zM351.41 491.82h1.0v1.0h-1.0zM345.25 489.53h1.0v1.0h-1.0zM346.31 490.72h1.0v1.0h-1.0zM347.01 490.16h1.0v1.0h-1.0zM347.13 491.66h1.0v1.0h-1.0zM351.32 493.27h1.0v1.0h-1.0zM345.69 489.46h1.0v1.0h-1.0zM346.53 493.86h1.0v1.0h-1.0zM353.8 495.02h1.0v1.0h-1.0zM354.02 493.34h1.0v1.0h-1.0zM351.77 495.22h1.0v1.0h-1.0zM344.29 489.18h1.0v1.0h-1.0zM352.86 493.58h1.0v1.0h-1.0zM339.89 494.34h1.0v1.0h-1.0zM343.67 494.23h1.0v1.0h-1.0zM344.59 492.95h1.0v1.0h-1.0z" fill="#000" fill-opacity="1.0"/>
<path d="M349.96 482.75h0.9v0.9h-0.9zM359.34 466.06h0.9v0.9h-0.9zM359.77 485.35h0.9v0.9h-0.9zM350.74 466.48h0.9v0.9h-0.9zM357.03 484.95h0.9v0.9h-0.9zM373.87 475.01h0.9v0.9h-0.9zM343.98 478.78h0.9v0.9h-0.9zM341.73 491.78h0.9v0.9h-0.9zM367.34 491.12h0.9v0.9h-0.9zM347.08 478.57h0.9v0.9h-0.9zM371.03 488.96h0.9v0.9h-0.9zM358.69 469.32h0.9v0.9h-0.9zM370.17 468.05h0.9v0.9h-0.9zM342.12 474.19h0.9v0.9h-0.9zM352.25 474.36h0.9v0.9h-0.9zM342.12 492.16h0.9v0.9h-0.9zM365.15 487.47h0.9v0.9h-0.9zM366.96 474.06h0.9v0.9h-0.9zM361.16 484.87h0.9v0.9h-0.9zM360.93 468.59h0.9v0.9h-0.9zM361.11 476.48h0.9v0.9h-0.9zM367.93 479.09h0.9v0.9h-0.9zM342.36 494.83h0.9v0.9h-0.9zM364.45 488.52h0.9v0.9h-0.9zM342.51 483.65h0.9v0.9h-0.9zM350.53 491.38h0.9v0.9h-0.9zM357.54 468.54h0.9v0.9h-0.9zM361.49 480.82h0.9v0.9h-0.9zM359.81 480.75h0.9v0.9h-0.9zM356.89 494.77h0.9v0.9h-0.9zM357.56 483.46h0.9v0.9h-0.9zM372.47 469.77h0.9v0.9h-0.9zM350.47 473.69h0.9v0.9h-0.9zM363.83 478.78h0.9v0.9h-0.9zM357.09 486.75h0.9v0.9h-0.9zM355.13 470.93h0.9v0.9h-0.9zM360.59 470.9h0.9v0.9h-0.9zM340.38 475.69h0.9v0.9h-0.9zM360.36 487.22h0.9v0.9h-0.9zM358.68 478.73h0.9v0.9h-0.9zM340.23 486.85h0.9v0.9h-0.9zM360.88 467.17h0.9v0.9h-0.9zM345.05 472.72h0.9v0.9h-0.9zM353.81 471.96h0.9v0.9h-0.9zM357.01 487.74h0.9v0.9h-0.9z" fill="#000" fill-opacity="1.0"/>
<path d="M350.65 524.07h1.0v1.0h-1.0zM355.68 519.55h1.0v1.0h-1.0zM354.64 501.21h1.0v1.0h-1.0zM349.16 524.53h1.0v1.0h-1.0zM359.87 505h1.0v1.0h-1.0zM353.64 522.26h1.0v1.0h-1.0zM351.1 524.51h1.0v1.0h-1.0zM352.69 517.35h1.0v1.0h-1.0zM349.65 526.74h1.0v1.0h-1.0zM354.01 520.32h1.0v1.0h-1.0zM351.86 520.26h1.0v1.0h-1.0zM357.6 515.98h1.0v1.0h-1.0zM352.48 519.16h1.0v1.0h-1.0zM353.8 523.05h1.0v1.0h-1.0zM359.34 513.82h1.0v1.0h-1.0zM358.91 515.65h1.0v1.0h-1.0zM356.21 516.59h1.0v1.0h-1.0zM355.81 525.17h1.0v1.0h-1.0zM354.54 514.9h1.0v1.0h-1.0zM354.92 518.46h1.0v1.0h-1.0zM352.94 515.32h1.0v1.0h-1.0zM359.17 526.58h1.0v1.0h-1.0zM358.07 503.51h1.0v1.0h-1.0zM352.82 526.2h1.0v1.0h-1.0zM357.96 521.34h1.0v1.0h-1.0zM360.62 524.15h1.0v1.0h-1.0zM353.31 520.47h1.0v1.0h-1.0zM359.98 511.43h1.0v1.0h-1.0zM358.41 500.16h1.0v1.0h-1.0zM359.8 524.22h1.0v1.0h-1.0zM353.57 523.87h1.0v1.0h-1.0zM355.64 498.32h1.0v1.0h-1.0zM352.76 522.84h1.0v1.0h-1.0zM355.2 504.75h1.0v1.0h-1.0zM350.91 523.01h1.0v1.0h-1.0zM355.33 506.76h1.0v1.0h-1.0zM350.3 522.25h1.0v1.0h-1.0zM358.17 503.67h1.0v1.0h-1.0zM357.9 518.83h1.0v1.0h-1.0zM348.6 526.14h1.0v1.0h-1.0zM355.64 521.92h1.0v1.0h-1.0zM355.54 521.92h1.0v1.0h-1.0zM361.99 526.15h1.0v1.0h-1.0zM350.07 526.68h1.0v1.0h-1.0zM358.44 515.03h1.0v1.0h-1.0zM361.1 520.62h1.0v1.0h-1.0zM356.9 507.92h1.0v1.0h-1.0zM358.17 498.9h1.0v1.0h-1.0zM356.98 498.01h1.0v1.0h-1.0zM359.32 506.42h1.0v1.0h-1.0zM353.63 514.54h1.0v1.0h-1.0zM356.56 523.58h1.0v1.0h-1.0zM359.23 523.45h1.0v1.0h-1.0zM358.11 520.93h1.0v1.0h-1.0zM361.67 520.16h1.0v1.0h-1.0zM352.52 519.86h1.0v1.0h-1.0zM360.08 524.75h1.0v1.0h-1.0zM358.8 515.49h1.0v1.0h-1.0zM353.49 519.37h1.0v1.0h-1.0zM350.96 525.29h1.0v1.0h-1.0zM352.97 525.97h1.0v1.0h-1.0zM360.24 525.07h1.0v1.0h-1.0zM346.19 525.54h1.0v1.0h-1.0zM352.12 526.87h1.0v1.0h-1.0zM353.3 524.19h1.0v1.0h-1.0zM353.54 498.56h1.0v1.0h-1.0zM351.31 520.98h1.0v1.0h-1.0zM360.86 515.92h1.0v1.0h-1.0zM355.05 523.46h1.0v1.0h-1.0zM352.91 518.57h1.0v1.0h-1.0zM357.32 521.9h1.0v1.0h-1.0zM360.24 517.75h1.0v1.0h-1.0zM356.65 509.14h1.0v1.0h-1.0zM360.47 510.1h1.0v1.0h-1.0zM360.91 505.82h1.0v1.0h-1.0zM357.41 506.37h1.0v1.0h-1.0zM357.88 513.59h1.0v1.0h-1.0zM356.13 517h1.0v1.0h-1.0zM357.51 511.27h1.0v1.0h-1.0zM360 500.22h1.0v1.0h-1.0zM353.02 519.1h1.0v1.0h-1.0zM358.76 517.59h1.0v1.0h-1.0zM356.3 519.78h1.0v1.0h-1.0zM354.77 520.45h1.0v1.0h-1.0zM360.4 511.11h1.0v1.0h-1.0zM358.47 520.06h1.0v1.0h-1.0zM360.77 511.06h1.0v1.0h-1.0zM346.58 526.01h1.0v1.0h-1.0zM355.7 511.45h1.0v1.0h-1.0zM360.71 520.54h1.0v1.0h-1.0zM358.59 504.64h1.0v1.0h-1.0zM355.71 522.08h1.0v1.0h-1.0zM349.51 521.79h1.0v1.0h-1.0zM359.96 503.29h1.0v1.0h-1.0zM354.56 525.94h1.0v1.0h-1.0zM361.31 516.54h1.0v1.0h-1.0zM360.19 520.86h1.0v1.0h-1.0zM357.54 521.16h1.0v1.0h-1.0zM353.54 497.18h1.0v1.0h-1.0zM355.98 508.32h1.0v1.0h-1.0zM358.97 513.9h1.0v1.0h-1.0zM349.68 524.27h1.0v1.0h-1.0zM360.08 521.42h1.0v1.0h-1.0zM359.07 498.42h1.0v1.0h-1.0zM354.67 497.65h1.0v1.0h-1.0zM354.53 499.06h1.0v1.0h-1.0zM356.09 508.56h1.0v1.0h-1.0zM349.1 526.31h1.0v1.0h-1.0zM359.41 520.04h1.0v1.0h-1.0zM360.98 510.85h1.0v1.0h-1.0zM360.78 506.69h1.0v1.0h-1.0zM353.64 516.76h1.0v1.0h-1.0zM359.08 503.2h1.0v1.0h-1.0zM357.56 525.5h1.0v1.0h-1.0zM360.3 516.92h1.0v1.0h-1.0zM357.3 509.41h1.0v1.0h-1.0zM350.24 523.51h1.0v1.0h-1.0zM360.52 516.51h1.0v1.0h-1.0zM357.25 515.72h1.0v1.0h-1.0zM356.69 515.07h1.0v1.0h-1.0zM356.26 510.7h1.0v1.0h-1.0zM353.91 521.92h1.0v1.0h-1.0zM358.92 523.33h1.0v1.0h-1.0zM357.41 511.21h1.0v1.0h-1.0zM355.67 526.03h1.0v1.0h-1.0zM354.08 497.12h1.0v1.0h-1.0zM360.38 500.77h1.0v1.0h-1.0zM360.89 511.09h1.0v1.0h-1.0zM353.05 524.04h1.0v1.0h-1.0zM354.89 525.94h1.0v1.0h-1.0zM353.2 519.25h1.0v1.0h-1.0zM345.68 526.43h1.0v1.0h-1.0zM355.96 502.99h1.0v1.0h-1.0zM352.56 516.3h1.0v1.0h-1.0zM358.92 521.22h1.0v1.0h-1.0zM347.05 525.84h1.0v1.0h-1.0zM360.61 522.53h1.0v1.0h-1.0zM353.87 518.33h1.0v1.0h-1.0zM356.09 506.46h1.0v1.0h-1.0zM361.61 522.14h1.0v1.0h-1.0zM357.29 508.27h1.0v1.0h-1.0zM353.63 522.28h1.0v1.0h-1.0zM356.33 514.6h1.0v1.0h-1.0zM354.41 526.99h1.0v1.0h-1.0zM361.36 513.77h1.0v1.0h-1.0zM355.39 519.69h1.0v1.0h-1.0zM354.49 502.13h1.0v1.0h-1.0zM352.15 525.75h1.0v1.0h-1.0zM351.8 521.45h1.0v1.0h-1.0zM359.23 512.74h1.0v1.0h-1.0zM359.34 515.15h1.0v1.0h-1.0zM359.15 516.63h1.0v1.0h-1.0zM357.26 507.32h1.0v1.0h-1.0zM359.56 499.92h1.0v1.0h-1.0zM359.36 520.59h1.0v1.0h-1.0zM356.99 512.16h1.0v1.0h-1.0zM359.36 507.44h1.0v1.0h-1.0zM356.55 516.05h1.0v1.0h-1.0zM360.36 508.71h1.0v1.0h-1.0zM355.62 520.44h1.0v1.0h-1.0zM350.05 521.21h1.0v1.0h-1.0zM357.61 519.86h1.0v1.0h-1.0zM351.38 525.91h1.0v1.0h-1.0zM349.82 520.8h1.0v1.0h-1.0zM355.77 522.94h1.0v1.0h-1.0zM360.25 513.27h1.0v1.0h-1.0zM356.26 502.94h1.0v1.0h-1.0zM351.81 521.19h1.0v1.0h-1.0zM358.34 511.34h1.0v1.0h-1.0zM354.8 500.73h1.0v1.0h-1.0zM354.99 499h1.0v1.0h-1.0zM356.24 505.71h1.0v1.0h-1.0zM347.58 526.64h1.0v1.0h-1.0zM361.14 521.68h1.0v1.0h-1.0zM355.06 516.84h1.0v1.0h-1.0zM356.64 498.52h1.0v1.0h-1.0zM356.82 518.06h1.0v1.0h-1.0zM356.48 512.17h1.0v1.0h-1.0zM358.14 506.06h1.0v1.0h-1.0zM350.58 519.71h1.0v1.0h-1.0zM359.56 509.85h1.0v1.0h-1.0zM358.17 503.66h1.0v1.0h-1.0zM358.45 523.25h1.0v1.0h-1.0zM357.54 519.31h1.0v1.0h-1.0zM357.98 512.8h1.0v1.0h-1.0zM360.07 519.18h1.0v1.0h-1.0zM360.01 504.46h1.0v1.0h-1.0zM356.92 525.64h1.0v1.0h-1.0zM356.99 516.84h1.0v1.0h-1.0zM360.06 514.93h1.0v1.0h-1.0zM359.07 501.78h1.0v1.0h-1.0zM356.68 497.07h1.0v1.0h-1.0zM358.46 504.87h1.0v1.0h-1.0zM358.04 521.07h1.0v1.0h-1.0zM352.17 519.71h1.0v1.0h-1.0zM357.47 501.89h1.0v1.0h-1.0zM356.29 520.33h1.0v1.0h-1.0zM348.7 522.44h1.0v1.0h-1.0zM354.7 503.43h1.0v1.0h-1.0zM354.43 518.26h1.0v1.0h-1.0zM356.06 511.36h1.0v1.0h-1.0zM351.33 525.61h1.0v1.0h-1.0zM361.08 509.23h1.0v1.0h-1.0zM357.84 512.18h1.0v1.0h-1.0zM361.38 515.91h1.0v1.0h-1.0zM359.3 499.53h1.0v1.0h-1.0zM356.2 513.61h1.0v1.0h-1.0zM347.02 524.95h1.0v1.0h-1.0zM356.24 508.22h1.0v1.0h-1.0zM354.72 521.35h1.0v1.0h-1.0zM357.33 497.27h1.0v1.0h-1.0zM357.66 514.9h1.0v1.0h-1.0zM355.88 498.9h1.0v1.0h-1.0zM354.62 514.94h1.0v1.0h-1.0zM351.02 526.26h1.0v1.0h-1.0zM355.17 511.45h1.0v1.0h-1.0zM352.4 524.25h1.0v1.0h-1.0zM356.04 520.09h1.0v1.0h-1.0zM353.4 522.62h1.0v1.0h-1.0zM358.47 497.49h1.0v1.0h-1.0zM357.13 516.9h1.0v1.0h-1.0zM359.2 509.2h1.0v1.0h-1.0zM360.97 519.25h1.0v1.0h-1.0zM352.37 521.82h1.0v1.0h-1.0zM358.19 517.24h1.0v1.0h-1.0zM356.78 511.42h1.0v1.0h-1.0zM358.98 505.18h1.0v1.0h-1.0zM352.67 525.13h1.0v1.0h-1.0zM361.35 516.35h1.0v1.0h-1.0zM357.65 508.14h1.0v1.0h-1.0zM357.17 510.73h1.0v1.0h-1.0zM357.61 514.19h1.0v1.0h-1.0zM347.7 524.15h1.0v1.0h-1.0zM359.51 517.06h1.0v1.0h-1.0zM357.35 505.31h1.0v1.0h-1.0zM352.93 525.94h1.0v1.0h-1.0zM352.53 520.98h1.0v1.0h-1.0zM356.03 508.32h1.0v1.0h-1.0zM354.26 516.11h1.0v1.0h-1.0zM353.49 525.63h1.0v1.0h-1.0z" fill="#000" fill-opacity="1.0"/>
<path d="M364.32 504.91h0.9v0.9h-0.9zM369.75 509.91h0.9v0.9h-0.9zM362.81 499.19h0.9v0.9h-0.9zM364.51 510.61h0.9v0.9h-0.9zM363.61 517.75h0.9v0.9h-0.9zM365.91 501.47h0.9v0.9h-0.9zM366.37 505.97h0.9v0.9h-0.9zM369.81 519.2h0.9v0.9h-0.9zM361.05 500.49h0.9v0.9h-0.9zM362.59 501.91h0.9v0.9h-0.9zM364.37 525.56h0.9v0.9h-0.9zM368.46 517.97h0.9v0.9h-0.9zM369.04 504.39h0.9v0.9h-0.9zM364.79 517.04h0.9v0.9h-0.9zM363.11 526.73h0.9v0.9h-0.9zM364.32 515.93h0.9v0.9h-0.9zM361.56 512.92h0.9v0.9h-0.9zM364.74 508.23h0.9v0.9h-0.9zM364.11 519.51h0.9v0.9h-0.9zM368.99 516.61h0.9v0.9h-0.9zM367.48 519.1h0.9v0.9h-0.9zM367.36 519.54h0.9v0.9h-0.9zM367.27 521.81h0.9v0.9h-0.9zM367.31 503.96h0.9v0.9h-0.9zM369.39 519.97h0.9v0.9h-0.9zM369.19 523.6h0.9v0.9h-0.9zM369.45 515.79h0.9v0.9h-0.9zM368.55 511.77h0.9v0.9h-0.9zM363.1 510.53h0.9v0.9h-0.9zM363.24 516.59h0.9v0.9h-0.9zM366.72 509.51h0.9v0.9h-0.9zM366.76 516.64h0.9v0.9h-0.9zM369.09 519.85h0.9v0.9h-0.9zM363.42 521.68h0.9v0.9h-0.9zM366.58 510.8h0.9v0.9h-0.9zM364.74 512.63h0.9v0.9h-0.9zM365.8 518.09h0.9v0.9h-0.9zM368.09 506.76h0.9v0.9h-0.9zM366.81 502.21h0.9v0.9h-0.9zM367.3 510.23h0.9v0.9h-0.9z" fill="#000" fill-opacity="1.0"/>
<ellipse cx="325" cy="494" rx="10.6" ry="27.6" transform="rotate(0 325 494)" stroke="none" stroke-width="1" fill="#b8b8b8"/>
<path d="M310.76 493.85h1.0v1.0h-1.0zM313.56 501.51h1.0v1.0h-1.0zM330.86 467.57h1.0v1.0h-1.0zM315.53 510h1.0v1.0h-1.0zM312.81 500.02h1.0v1.0h-1.0zM318.56 517.54h1.0v1.0h-1.0zM334.2 498.23h1.0v1.0h-1.0zM313.27 495.67h1.0v1.0h-1.0zM336.32 494.04h1.0v1.0h-1.0zM314.36 504.81h1.0v1.0h-1.0zM314.03 482.32h1.0v1.0h-1.0zM314.44 478.57h1.0v1.0h-1.0zM335.71 513.86h1.0v1.0h-1.0zM335.84 486.39h1.0v1.0h-1.0zM316.39 473.38h1.0v1.0h-1.0zM313.6 484.7h1.0v1.0h-1.0zM335.34 486.07h1.0v1.0h-1.0zM335.44 486.37h1.0v1.0h-1.0zM312.87 487.52h1.0v1.0h-1.0zM334.59 490.43h1.0v1.0h-1.0zM333.57 479.24h1.0v1.0h-1.0zM336.84 502.88h1.0v1.0h-1.0zM314.59 480.29h1.0v1.0h-1.0zM330.86 470.57h1.0v1.0h-1.0zM310.83 501.7h1.0v1.0h-1.0zM336.62 486.14h1.0v1.0h-1.0zM327.21 521.74h1.0v1.0h-1.0zM331.07 470.7h1.0v1.0h-1.0zM332.34 473.51h1.0v1.0h-1.0zM316.87 481.29h1.0v1.0h-1.0zM315.42 509.74h1.0v1.0h-1.0zM313.83 502.51h1.0v1.0h-1.0zM320.87 522.07h1.0v1.0h-1.0zM332.36 511.65h1.0v1.0h-1.0zM325.85 522.86h1.0v1.0h-1.0zM334.9 503.23h1.0v1.0h-1.0zM314.69 479.05h1.0v1.0h-1.0zM331.67 477.34h1.0v1.0h-1.0zM324.86 463.86h1.0v1.0h-1.0zM320.98 519.93h1.0v1.0h-1.0zM335.52 502.94h1.0v1.0h-1.0zM337.19 491.51h1.0v1.0h-1.0zM333.9 478.47h1.0v1.0h-1.0zM314.55 482.14h1.0v1.0h-1.0zM312.39 498.33h1.0v1.0h-1.0zM319.12 467.33h1.0v1.0h-1.0zM317.2 513.83h1.0v1.0h-1.0zM336.85 497.55h1.0v1.0h-1.0zM311.99 491.09h1.0v1.0h-1.0zM314.09 483.45h1.0v1.0h-1.0zM336.12 492.57h1.0v1.0h-1.0zM331.04 518.82h1.0v1.0h-1.0zM317.68 468.22h1.0v1.0h-1.0zM332.87 512.5h1.0v1.0h-1.0zM327.53 519.88h1.0v1.0h-1.0zM331.62 516.29h1.0v1.0h-1.0zM334.74 478.93h1.0v1.0h-1.0zM334.39 500.86h1.0v1.0h-1.0zM313.1 500.23h1.0v1.0h-1.0zM316.3 473.58h1.0v1.0h-1.0zM313.13 501.25h1.0v1.0h-1.0zM310.93 483.75h1.0v1.0h-1.0zM316.86 473.42h1.0v1.0h-1.0zM328.46 519.41h1.0v1.0h-1.0zM313.25 497.04h1.0v1.0h-1.0zM314.02 504.98h1.0v1.0h-1.0zM328.75 518.1h1.0v1.0h-1.0zM313.82 483.35h1.0v1.0h-1.0zM315.37 509.27h1.0v1.0h-1.0zM318.49 515.53h1.0v1.0h-1.0zM336.57 502.33h1.0v1.0h-1.0zM336.23 488.91h1.0v1.0h-1.0zM334.77 480.16h1.0v1.0h-1.0zM316.7 514.57h1.0v1.0h-1.0zM335.84 480.54h1.0v1.0h-1.0zM332.11 513.66h1.0v1.0h-1.0zM317.27 472.07h1.0v1.0h-1.0zM331.6 518.46h1.0v1.0h-1.0zM315.94 512.61h1.0v1.0h-1.0zM316.05 511.81h1.0v1.0h-1.0zM314.32 476.83h1.0v1.0h-1.0zM335.54 501.9h1.0v1.0h-1.0zM319.58 515.83h1.0v1.0h-1.0zM330.21 514.75h1.0v1.0h-1.0zM312.73 487.01h1.0v1.0h-1.0zM334.45 504.54h1.0v1.0h-1.0zM334.54 479.04h1.0v1.0h-1.0zM323.72 521.43h1.0v1.0h-1.0zM312.96 484.38h1.0v1.0h-1.0zM321.31 466.69h1.0v1.0h-1.0zM313.02 488.17h1.0v1.0h-1.0zM335.93 498.93h1.0v1.0h-1.0zM332.45 474.16h1.0v1.0h-1.0zM320.63 521.42h1.0v1.0h-1.0zM325.34 465.83h1.0v1.0h-1.0zM335.93 492.53h1.0v1.0h-1.0zM333.67 488.68h1.0v1.0h-1.0zM321.62 521.45h1.0v1.0h-1.0zM335.6 497.91h1.0v1.0h-1.0zM312.97 494.4h1.0v1.0h-1.0zM322.25 465.04h1.0v1.0h-1.0zM312.27 495.27h1.0v1.0h-1.0zM334.63 478.58h1.0v1.0h-1.0zM316.51 472.21h1.0v1.0h-1.0zM334.68 504.01h1.0v1.0h-1.0zM328.7 519.52h1.0v1.0h-1.0zM314.51 500.31h1.0v1.0h-1.0zM335.63 484.55h1.0v1.0h-1.0zM319.86 518.53h1.0v1.0h-1.0zM335.58 493.8h1.0v1.0h-1.0zM327.47 466.57h1.0v1.0h-1.0zM313.06 493.06h1.0v1.0h-1.0zM315.73 476.09h1.0v1.0h-1.0zM319.36 464.51h1.0v1.0h-1.0zM333.62 513.62h1.0v1.0h-1.0zM335.03 481.75h1.0v1.0h-1.0zM336.17 476.86h1.0v1.0h-1.0zM311.49 491.76h1.0v1.0h-1.0zM334.99 474.49h1.0v1.0h-1.0zM316.69 515.6h1.0v1.0h-1.0zM335.27 494.87h1.0v1.0h-1.0zM333.87 508.03h1.0v1.0h-1.0zM314.36 482.58h1.0v1.0h-1.0zM316.44 474.33h1.0v1.0h-1.0zM334.91 509.48h1.0v1.0h-1.0zM335.76 494.68h1.0v1.0h-1.0zM313.66 493.2h1.0v1.0h-1.0zM337.04 498.34h1.0v1.0h-1.0zM321.63 520.66h1.0v1.0h-1.0zM312.4 495.06h1.0v1.0h-1.0zM332.96 512.62h1.0v1.0h-1.0zM331.19 518.46h1.0v1.0h-1.0zM337.31 505.48h1.0v1.0h-1.0zM313.35 488.06h1.0v1.0h-1.0zM335.04 487.3h1.0v1.0h-1.0zM312.78 482h1.0v1.0h-1.0zM318.17 468.82h1.0v1.0h-1.0zM335.92 482.15h1.0v1.0h-1.0zM332.21 467.94h1.0v1.0h-1.0zM315.3 477.56h1.0v1.0h-1.0zM313.01 488.07h1.0v1.0h-1.0zM313.68 506.62h1.0v1.0h-1.0zM335.23 501.18h1.0v1.0h-1.0zM324.23 465.54h1.0v1.0h-1.0zM335.65 482.1h1.0v1.0h-1.0zM311.83 512.46h1.0v1.0h-1.0zM313.97 510.56h1.0v1.0h-1.0zM315.29 505.32h1.0v1.0h-1.0zM316.13 475.15h1.0v1.0h-1.0zM334.72 503.89h1.0v1.0h-1.0zM335.53 495.94h1.0v1.0h-1.0zM334.08 512.29h1.0v1.0h-1.0zM314.25 502.76h1.0v1.0h-1.0zM316.13 512.1h1.0v1.0h-1.0zM315.25 478.45h1.0v1.0h-1.0zM332.11 514.42h1.0v1.0h-1.0zM335.62 505.12h1.0v1.0h-1.0zM334.41 490.21h1.0v1.0h-1.0zM312.2 491.69h1.0v1.0h-1.0zM313.69 489.47h1.0v1.0h-1.0zM312.93 490.33h1.0v1.0h-1.0zM329.79 468.38h1.0v1.0h-1.0zM324.87 520.64h1.0v1.0h-1.0zM316.09 510.94h1.0v1.0h-1.0zM315.07 480.65h1.0v1.0h-1.0zM331.91 470.52h1.0v1.0h-1.0zM335.05 484.6h1.0v1.0h-1.0zM317.17 514.72h1.0v1.0h-1.0zM312.8 484.29h1.0v1.0h-1.0zM336.3 509.08h1.0v1.0h-1.0zM317.49 468.76h1.0v1.0h-1.0zM314.55 505.49h1.0v1.0h-1.0zM312.09 491.95h1.0v1.0h-1.0zM313.98 489.96h1.0v1.0h-1.0zM333.86 501.06h1.0v1.0h-1.0zM317.39 514.59h1.0v1.0h-1.0zM313.67 484.36h1.0v1.0h-1.0zM337.49 495.09h1.0v1.0h-1.0zM322.48 521.25h1.0v1.0h-1.0zM318.91 467.92h1.0v1.0h-1.0zM334.18 505.44h1.0v1.0h-1.0zM321.12 468.14h1.0v1.0h-1.0zM337.06 503.23h1.0v1.0h-1.0zM310.47 485.32h1.0v1.0h-1.0zM333.74 512.02h1.0v1.0h-1.0zM335.02 504.42h1.0v1.0h-1.0zM333.77 511.32h1.0v1.0h-1.0zM312.81 487.88h1.0v1.0h-1.0zM335.26 493.56h1.0v1.0h-1.0zM324.21 523.14h1.0v1.0h-1.0zM335.82 488.71h1.0v1.0h-1.0zM335.52 482.28h1.0v1.0h-1.0zM326.91 521.79h1.0v1.0h-1.0zM314.33 478.19h1.0v1.0h-1.0zM320.69 465.06h1.0v1.0h-1.0zM321.03 466.88h1.0v1.0h-1.0zM334.58 509.15h1.0v1.0h-1.0zM313.01 494.47h1.0v1.0h-1.0zM333.98 480.89h1.0v1.0h-1.0zM335.34 504.46h1.0v1.0h-1.0zM324.46 521.21h1.0v1.0h-1.0zM311.94 485.84h1.0v1.0h-1.0zM326.71 520.94h1.0v1.0h-1.0zM314.56 475.91h1.0v1.0h-1.0zM333.54 471.98h1.0v1.0h-1.0zM335.11 499.26h1.0v1.0h-1.0zM331.16 476h1.0v1.0h-1.0zM336.23 486.54h1.0v1.0h-1.0zM326.87 521.83h1.0v1.0h-1.0zM336 481.63h1.0v1.0h-1.0zM335.75 496.97h1.0v1.0h-1.0zM321.94 465.92h1.0v1.0h-1.0zM335.12 504.3h1.0v1.0h-1.0zM333.31 478.73h1.0v1.0h-1.0zM334.42 483.31h1.0v1.0h-1.0zM312.84 496.49h1.0v1.0h-1.0zM318.97 468.73h1.0v1.0h-1.0zM318.82 517.94h1.0v1.0h-1.0zM313.47 506.32h1.0v1.0h-1.0zM314.5 476.79h1.0v1.0h-1.0zM330.23 518.83h1.0v1.0h-1.0zM337.35 483.68h1.0v1.0h-1.0zM324.75 522.79h1.0v1.0h-1.0zM319.14 514.33h1.0v1.0h-1.0zM314.83 478.58h1.0v1.0h-1.0zM334.31 479.43h1.0v1.0h-1.0zM313.56 498.11h1.0v1.0h-1.0zM318.6 516.51h1.0v1.0h-1.0zM316.01 472.32h1.0v1.0h-1.0zM333.49 472.49h1.0v1.0h-1.0zM322.33 463.68h1.0v1.0h-1.0zM313.12 499.23h1.0v1.0h-1.0zM312.38 487.31h1.0v1.0h-1.0zM331.46 471.49h1.0v1.0h-1.0zM313.33 497.06h1.0v1.0h-1.0zM333.92 507.28h1.0v1.0h-1.0zM337.19 474.67h1.0v1.0h-1.0zM330.69 468.94h1.0v1.0h-1.0zM328.63 465.8h1.0v1.0h-1.0zM334.41 479.42h1.0v1.0h-1.0zM313.7 496.63h1.0v1.0h-1.0zM313.31 486.66h1.0v1.0h-1.0zM317.72 514.38h1.0v1.0h-1.0zM327.56 466.16h1.0v1.0h-1.0zM335.15 502.23h1.0v1.0h-1.0zM331.77 517.88h1.0v1.0h-1.0zM313.05 488.96h1.0v1.0h-1.0zM331.29 516.08h1.0v1.0h-1.0zM330.83 518.64h1.0v1.0h-1.0zM314.29 506.53h1.0v1.0h-1.0zM335.9 489.38h1.0v1.0h-1.0zM320.39 518.11h1.0v1.0h-1.0zM335.95 480.85h1.0v1.0h-1.0zM336.22 493.47h1.0v1.0h-1.0zM320.18 521.86h1.0v1.0h-1.0zM334.42 500.46h1.0v1.0h-1.0zM334.09 514.84h1.0v1.0h-1.0zM315.96 484.18h1.0v1.0h-1.0zM334.96 484.56h1.0v1.0h-1.0zM312.45 496.8h1.0v1.0h-1.0zM330.25 518h1.0v1.0h-1.0zM326.05 521.6h1.0v1.0h-1.0zM316.41 518.4h1.0v1.0h-1.0zM314.94 506.94h1.0v1.0h-1.0zM327.05 466.05h1.0v1.0h-1.0zM335.48 482.69h1.0v1.0h-1.0zM331.86 511.7h1.0v1.0h-1.0zM319.62 468.03h1.0v1.0h-1.0zM325.85 521.6h1.0v1.0h-1.0zM327.21 519.98h1.0v1.0h-1.0zM314.08 496.23h1.0v1.0h-1.0zM332.29 472.71h1.0v1.0h-1.0zM334.31 479.69h1.0v1.0h-1.0zM332.94 475.55h1.0v1.0h-1.0zM317.69 472.73h1.0v1.0h-1.0zM336.19 486.35h1.0v1.0h-1.0zM326.17 465.01h1.0v1.0h-1.0zM325.92 521.56h1.0v1.0h-1.0zM313.05 490.73h1.0v1.0h-1.0zM331.81 471.65h1.0v1.0h-1.0zM317.6 471.91h1.0v1.0h-1.0zM333.72 482.05h1.0v1.0h-1.0zM315.53 510.31h1.0v1.0h-1.0zM315.85 511.41h1.0v1.0h-1.0zM310.28 488.4h1.0v1.0h-1.0zM325.76 522.12h1.0v1.0h-1.0zM336.38 482.08h1.0v1.0h-1.0zM335.87 490.71h1.0v1.0h-1.0zM324.21 521.71h1.0v1.0h-1.0zM314.31 474.5h1.0v1.0h-1.0zM336.12 497.29h1.0v1.0h-1.0zM334.67 505.57h1.0v1.0h-1.0zM334.08 506.93h1.0v1.0h-1.0zM314.18 480.43h1.0v1.0h-1.0zM334.98 507.96h1.0v1.0h-1.0zM334.96 478.8h1.0v1.0h-1.0zM313.81 496.16h1.0v1.0h-1.0zM334.98 515.04h1.0v1.0h-1.0zM316.23 512.05h1.0v1.0h-1.0zM334.18 480.72h1.0v1.0h-1.0zM317.84 471.32h1.0v1.0h-1.0zM316.22 513.97h1.0v1.0h-1.0zM330.75 517.89h1.0v1.0h-1.0zM321.73 467.03h1.0v1.0h-1.0zM336.42 508.43h1.0v1.0h-1.0zM316.91 516.93h1.0v1.0h-1.0zM328.38 521.89h1.0v1.0h-1.0zM311.76 496.44h1.0v1.0h-1.0zM330.02 470.07h1.0v1.0h-1.0zM313.22 483.28h1.0v1.0h-1.0zM335.76 505.83h1.0v1.0h-1.0zM334.97 506.36h1.0v1.0h-1.0z" fill="#000"/>
<ellipse cx="325" cy="494" rx="10.6" ry="27.6" transform="rotate(0 325 494)" stroke="#000" stroke-width="1.1" fill="none"/>
<ellipse cx="325" cy="494.4" rx="9.4" ry="26" transform="rotate(0 325 494.4)" stroke="#151515" stroke-width="0.6" fill="none"/>
<ellipse cx="325" cy="494.6" rx="8.46" ry="23.4" transform="rotate(0 325 494.6)" stroke="#151515" stroke-width="0.6" fill="none"/>
<ellipse cx="325" cy="494.8" rx="7.52" ry="20.8" transform="rotate(0 325 494.8)" stroke="#151515" stroke-width="0.6" fill="none"/>
<ellipse cx="325" cy="495" rx="6.58" ry="18.2" transform="rotate(0 325 495)" stroke="#151515" stroke-width="0.6" fill="none"/>
<ellipse cx="325" cy="495.2" rx="5.64" ry="15.6" transform="rotate(0 325 495.2)" stroke="#151515" stroke-width="0.6" fill="none"/>
<ellipse cx="325" cy="495.4" rx="4.7" ry="13" transform="rotate(0 325 495.4)" stroke="#151515" stroke-width="0.6" fill="none"/>
<ellipse cx="325" cy="495.6" rx="3.76" ry="10.4" transform="rotate(0 325 495.6)" stroke="#151515" stroke-width="0.6" fill="none"/>
<ellipse cx="325" cy="495.8" rx="2.82" ry="7.8" transform="rotate(0 325 495.8)" stroke="#151515" stroke-width="0.6" fill="none"/>
<ellipse cx="325" cy="496" rx="1.88" ry="5.2" transform="rotate(0 325 496)" stroke="#151515" stroke-width="0.6" fill="none"/>
<ellipse cx="325" cy="494" rx="3.2" ry="9" transform="rotate(0 325 494)" stroke="none" stroke-width="1" fill="#333"/>
<path d="M338.6 497 C340.5 493.5 347.27 496.17 350 497 C352.73 497.83 353.92 499.83 355 502 C356.08 504.17 356.58 507.33 356.5 510 C356.42 512.67 355.92 515.83 354.5 518 C353.08 520.17 350.25 522.17 348 523 C345.75 523.83 342.57 523.83 341 523 C339.43 522.17 339 522.33 338.6 518 C338.2 513.67 336.7 500.5 338.6 497 Z" stroke="none" stroke-width="1" fill="#fafafa" stroke-linejoin="round"/>
<ellipse cx="347.5" cy="510" rx="11" ry="13.5" transform="rotate(0 347.5 510)" stroke="#3a3a3a" stroke-width="0.5" fill="none"/>
<ellipse cx="346.84" cy="509.04" rx="9.46" ry="11.61" transform="rotate(0 346.84 509.04)" stroke="#3a3a3a" stroke-width="0.5" fill="none"/>
<ellipse cx="346.18" cy="508.08" rx="7.92" ry="9.72" transform="rotate(0 346.18 508.08)" stroke="#3a3a3a" stroke-width="0.5" fill="none"/>
<ellipse cx="345.52" cy="507.12" rx="6.38" ry="7.83" transform="rotate(0 345.52 507.12)" stroke="#3a3a3a" stroke-width="0.5" fill="none"/>
<ellipse cx="344.86" cy="506.16" rx="4.84" ry="5.94" transform="rotate(0 344.86 506.16)" stroke="#3a3a3a" stroke-width="0.5" fill="none"/>
<ellipse cx="344.2" cy="505.2" rx="3.3" ry="4.05" transform="rotate(0 344.2 505.2)" stroke="#3a3a3a" stroke-width="0.5" fill="none"/>
<ellipse cx="344.2" cy="505" rx="3.6" ry="3.6" transform="rotate(0 344.2 505)" stroke="#333" stroke-width="0.5" fill="#fff"/>
<rect x="305.4" y="438" width="31.5" height="20.2" stroke="#d9585c" fill="none" stroke-width="1.1"/>
<rect x="310.1" y="495.8" width="28.4" height="31.8" stroke="#9583c4" fill="none" stroke-width="1.1"/>
<rect x="338.5" y="496.6" width="36.4" height="31" stroke="#a9a9b4" fill="none" stroke-width="0.8"/>
<rect x="338.5" y="465.2" width="36.4" height="30.6" stroke="#62c6cf" fill="none" stroke-width="1.1"/>
<rect x="310.1" y="462" width="28.4" height="33.8" stroke="#3b4cc0" fill="none" stroke-width="1.1"/>
<rect x="426.3" y="481.3" width="7.5" height="7.9" stroke="#888" fill="#cfcfcf" stroke-width="0.6"/>
<text x="435.8" y="488.2" font-size="7.9" font-weight="400" text-anchor="start" fill="#000">Naive</text>
<rect x="426.3" y="490.92" width="7.5" height="7.9" stroke="#888" fill="#8fd6ea" stroke-width="0.6"/>
<text x="435.8" y="497.82" font-size="7.9" font-weight="400" text-anchor="start" fill="#000">IgM Memory</text>
<rect x="426.3" y="500.54" width="7.5" height="7.9" stroke="#888" fill="#e2282c" stroke-width="0.6"/>
<text x="435.8" y="507.44" font-size="7.9" font-weight="400" text-anchor="start" fill="#000">Plasma cells</text>
<rect x="426.3" y="510.16" width="7.5" height="7.9" stroke="#888" fill="#3753a8" stroke-width="0.6"/>
<text x="435.8" y="517.06" font-size="7.9" font-weight="400" text-anchor="start" fill="#000">Class switched memory</text>
<rect x="426.3" y="519.78" width="7.5" height="7.9" stroke="#888" fill="#8a6bb0" stroke-width="0.6"/>
<text x="435.8" y="526.68" font-size="7.9" font-weight="400" text-anchor="start" fill="#000">CD27<tspan font-size="5" baseline-shift="2.6">-</tspan>IgD<tspan font-size="5" baseline-shift="2.6">-</tspan></text>
</svg>
</body></html>
